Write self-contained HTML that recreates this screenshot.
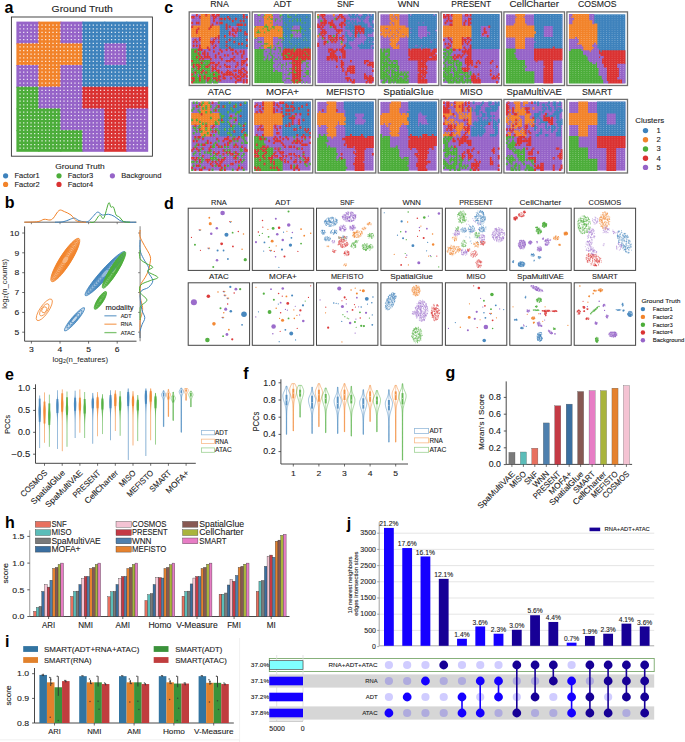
<!DOCTYPE html>
<html><head><meta charset="utf-8"><style>html,body{margin:0;padding:0;background:#fff;}svg{display:block;}text{font-family:"Liberation Sans",sans-serif;}</style></head>
<body><svg width="685" height="742" viewBox="0 0 685 742" font-family="Liberation Sans, sans-serif">
<rect width="685" height="742" fill="#fff"/>
<defs><pattern id="gp" width="1" height="1" patternUnits="userSpaceOnUse" x="0.5" y="0.5"><circle cx="0.5" cy="0.5" r="0.3" fill="#fff"/></pattern><pattern id="gpa" width="1" height="1" patternUnits="userSpaceOnUse" x="0.5" y="0.5"><circle cx="0.5" cy="0.5" r="0.22" fill="#fff" opacity="0.9"/></pattern><pattern id="gp2" width="2.8" height="2.07" patternUnits="userSpaceOnUse" x="0.3" y="0.2"><ellipse cx="1.4" cy="1.03" rx="0.5" ry="0.42" fill="#fff"/></pattern><clipPath id="cdRNA"><rect x="188.7" y="208.7" width="60.4" height="61.2"/></clipPath><clipPath id="cdADT"><rect x="252.8" y="208.7" width="60.4" height="61.2"/></clipPath><clipPath id="cdSNF"><rect x="317.0" y="208.7" width="60.4" height="61.2"/></clipPath><clipPath id="cdWNN"><rect x="381.4" y="208.7" width="60.4" height="61.2"/></clipPath><clipPath id="cdPRESENT"><rect x="445.9" y="208.7" width="60.4" height="61.2"/></clipPath><clipPath id="cdCellCharter"><rect x="510.3" y="208.7" width="60.4" height="61.2"/></clipPath><clipPath id="cdCOSMOS"><rect x="574.7" y="208.7" width="60.4" height="61.2"/></clipPath><clipPath id="cdATAC"><rect x="188.7" y="283.3" width="60.4" height="61.5"/></clipPath><clipPath id="cdMOFAp"><rect x="252.8" y="283.3" width="60.4" height="61.5"/></clipPath><clipPath id="cdMEFISTO"><rect x="317.0" y="283.3" width="60.4" height="61.5"/></clipPath><clipPath id="cdSpatialGlue"><rect x="381.4" y="283.3" width="60.4" height="61.5"/></clipPath><clipPath id="cdMISO"><rect x="445.9" y="283.3" width="60.4" height="61.5"/></clipPath><clipPath id="cdSpaMultiVAE"><rect x="510.3" y="283.3" width="60.4" height="61.5"/></clipPath><clipPath id="cdSMART"><rect x="574.7" y="283.3" width="60.4" height="61.5"/></clipPath></defs>
<text x="4.6" y="13.1" font-size="16.00" font-weight="bold" fill="#000">a</text>
<text x="82.2" y="12.0" font-size="9.70" textLength="61.30" lengthAdjust="spacingAndGlyphs" text-anchor="middle" fill="#222" stroke="#222" stroke-width="0.1">Ground Truth</text>
<rect x="11.40" y="17.00" width="141.00" height="139.20" fill="#fff" stroke="#333" stroke-width="0.9"/>
<g transform="translate(16.4 21.6) scale(3.6611 3.6167)"><rect x="0" y="0" width="6.3" height="6.3" fill="#9664c8"/><rect x="6" y="0" width="6.3" height="6.3" fill="#f2832a"/><rect x="12" y="0" width="6.3" height="6.3" fill="#9664c8"/><rect x="18" y="0" width="6.3" height="6.3" fill="#3e82bc"/><rect x="24" y="0" width="6.3" height="6.3" fill="#3e82bc"/><rect x="30" y="0" width="6" height="6.3" fill="#3e82bc"/><rect x="0" y="6" width="6.3" height="6.3" fill="#f2832a"/><rect x="6" y="6" width="6.3" height="6.3" fill="#f2832a"/><rect x="12" y="6" width="6.3" height="6.3" fill="#f2832a"/><rect x="18" y="6" width="6.3" height="6.3" fill="#3e82bc"/><rect x="24" y="6" width="6.3" height="6.3" fill="#9664c8"/><rect x="30" y="6" width="6" height="6.3" fill="#3e82bc"/><rect x="0" y="12" width="6.3" height="6.3" fill="#9664c8"/><rect x="6" y="12" width="6.3" height="6.3" fill="#f2832a"/><rect x="12" y="12" width="6.3" height="6.3" fill="#9664c8"/><rect x="18" y="12" width="6.3" height="6.3" fill="#3e82bc"/><rect x="24" y="12" width="6.3" height="6.3" fill="#3e82bc"/><rect x="30" y="12" width="6" height="6.3" fill="#3e82bc"/><rect x="0" y="18" width="6.3" height="6.3" fill="#4cad3a"/><rect x="6" y="18" width="6.3" height="6.3" fill="#9664c8"/><rect x="12" y="18" width="6.3" height="6.3" fill="#9664c8"/><rect x="18" y="18" width="6.3" height="6.3" fill="#da3232"/><rect x="24" y="18" width="6.3" height="6.3" fill="#da3232"/><rect x="30" y="18" width="6" height="6.3" fill="#da3232"/><rect x="0" y="24" width="6.3" height="6.3" fill="#4cad3a"/><rect x="6" y="24" width="6.3" height="6.3" fill="#4cad3a"/><rect x="12" y="24" width="6.3" height="6.3" fill="#9664c8"/><rect x="18" y="24" width="6.3" height="6.3" fill="#9664c8"/><rect x="24" y="24" width="6.3" height="6.3" fill="#da3232"/><rect x="30" y="24" width="6" height="6.3" fill="#9664c8"/><rect x="0" y="30" width="6.3" height="6" fill="#4cad3a"/><rect x="6" y="30" width="6.3" height="6" fill="#4cad3a"/><rect x="12" y="30" width="6.3" height="6" fill="#4cad3a"/><rect x="18" y="30" width="6.3" height="6" fill="#9664c8"/><rect x="24" y="30" width="6.3" height="6" fill="#da3232"/><rect x="30" y="30" width="6" height="6" fill="#9664c8"/></g>
<path d="M19.44 25.22H145.79M19.44 28.83H145.79M19.44 32.45H145.79M19.44 36.07H145.79M19.44 39.68H145.79M19.44 43.30H145.79M19.44 46.92H145.79M19.44 50.53H145.79M19.44 54.15H145.79M19.44 57.77H145.79M19.44 61.38H145.79M19.44 65.00H145.79M19.44 68.62H145.79M19.44 72.23H145.79M19.44 75.85H145.79M19.44 79.47H145.79M19.44 83.08H145.79M19.44 86.70H145.79M19.44 90.32H145.79M19.44 93.93H145.79M19.44 97.55H145.79M19.44 101.17H145.79M19.44 104.78H145.79M19.44 108.40H145.79M19.44 112.02H145.79M19.44 115.63H145.79M19.44 119.25H145.79M19.44 122.87H145.79M19.44 126.48H145.79M19.44 130.10H145.79M19.44 133.72H145.79M19.44 137.33H145.79M19.44 140.95H145.79M19.44 144.57H145.79M19.44 148.18H145.79" stroke="#fff" stroke-width="1.25" stroke-dasharray="1.25 2.411" opacity="0.85"/>
<text x="80.0" y="168.7" font-size="7.84" textLength="49.58" lengthAdjust="spacingAndGlyphs" text-anchor="middle" fill="#222" stroke="#222" stroke-width="0.1">Ground Truth</text>
<circle cx="5.60" cy="175.80" r="2.60" fill="#3e82bc"/>
<text x="14.4" y="178.2" font-size="7.10" textLength="25.39" lengthAdjust="spacingAndGlyphs" fill="#222" stroke="#222" stroke-width="0.1">Factor1</text>
<circle cx="5.60" cy="184.40" r="2.60" fill="#f2832a"/>
<text x="14.4" y="186.8" font-size="7.10" textLength="25.39" lengthAdjust="spacingAndGlyphs" fill="#222" stroke="#222" stroke-width="0.1">Factor2</text>
<circle cx="59.00" cy="175.80" r="2.60" fill="#4cad3a"/>
<text x="67.8" y="178.2" font-size="7.10" textLength="25.39" lengthAdjust="spacingAndGlyphs" fill="#222" stroke="#222" stroke-width="0.1">Factor3</text>
<circle cx="59.00" cy="184.40" r="2.60" fill="#da3232"/>
<text x="67.8" y="186.8" font-size="7.10" textLength="25.39" lengthAdjust="spacingAndGlyphs" fill="#222" stroke="#222" stroke-width="0.1">Factor4</text>
<circle cx="112.40" cy="175.80" r="2.60" fill="#9664c8"/>
<text x="121.2" y="178.2" font-size="7.10" textLength="40.12" lengthAdjust="spacingAndGlyphs" fill="#222" stroke="#222" stroke-width="0.1">Background</text>
<text x="4.8" y="208.4" font-size="16.00" font-weight="bold" fill="#000">b</text>
<line x1="24.3" y1="222.2" x2="136.5" y2="222.2" stroke="#555" stroke-width="0.9"/>
<line x1="31.4" y1="222.2" x2="31.4" y2="224.2" stroke="#555" stroke-width="0.7"/>
<line x1="60.0" y1="222.2" x2="60.0" y2="224.2" stroke="#555" stroke-width="0.7"/>
<line x1="88.6" y1="222.2" x2="88.6" y2="224.2" stroke="#555" stroke-width="0.7"/>
<line x1="117.2" y1="222.2" x2="117.2" y2="224.2" stroke="#555" stroke-width="0.7"/>
<path d="M55.00 222.20C56.33 222.13 60.67 222.20 63.00 221.80C65.33 221.40 67.13 220.43 69.00 219.80C70.87 219.17 72.53 217.87 74.20 218.00C75.87 218.13 77.35 219.97 79.00 220.60C80.65 221.23 82.52 221.70 84.10 221.80C85.68 221.90 87.02 222.08 88.50 221.20C89.98 220.32 91.47 218.02 93.00 216.50C94.53 214.98 96.15 212.35 97.70 212.10C99.25 211.85 100.48 214.63 102.30 215.00C104.12 215.37 106.62 214.08 108.60 214.30C110.58 214.52 112.40 215.32 114.20 216.30C116.00 217.28 117.87 219.33 119.40 220.20C120.93 221.07 121.63 221.17 123.40 221.50C125.17 221.83 127.90 222.08 130.00 222.20C132.10 222.32 135.00 222.20 136.00 222.20" fill="none" stroke="#3e82bc" stroke-width="1.0"/>
<path d="M24.30 222.20C26.60 222.10 34.82 222.08 38.10 221.60C41.38 221.12 42.02 219.57 44.00 219.30C45.98 219.03 48.43 220.22 50.00 220.00C51.57 219.78 51.88 219.60 53.40 218.00C54.92 216.40 57.27 211.47 59.10 210.40C60.93 209.33 62.42 210.83 64.40 211.60C66.38 212.37 69.13 213.57 71.00 215.00C72.87 216.43 74.07 219.05 75.60 220.20C77.13 221.35 78.47 221.57 80.20 221.90C81.93 222.23 85.03 222.15 86.00 222.20" fill="none" stroke="#f2832a" stroke-width="1.0"/>
<path d="M90.00 222.20C90.75 222.13 92.88 223.00 94.50 221.80C96.12 220.60 98.17 215.58 99.70 215.00C101.23 214.42 102.22 220.28 103.70 218.30C105.18 216.32 107.40 204.97 108.60 203.10C109.80 201.23 110.08 206.43 110.90 207.10C111.72 207.77 112.63 205.78 113.50 207.10C114.37 208.42 115.12 213.35 116.10 215.00C117.08 216.65 118.30 216.02 119.40 217.00C120.50 217.98 121.72 220.07 122.70 220.90C123.68 221.73 124.08 221.78 125.30 222.00C126.52 222.22 129.22 222.17 130.00 222.20" fill="none" stroke="#4cad3a" stroke-width="1.0"/>
<line x1="140.1" y1="226.2" x2="140.1" y2="341.2" stroke="#999" stroke-width="1.2"/>
<line x1="138.1" y1="332.2" x2="140.1" y2="332.2" stroke="#555" stroke-width="0.7"/>
<line x1="138.1" y1="312.4" x2="140.1" y2="312.4" stroke="#555" stroke-width="0.7"/>
<line x1="138.1" y1="292.5" x2="140.1" y2="292.5" stroke="#555" stroke-width="0.7"/>
<line x1="138.1" y1="272.7" x2="140.1" y2="272.7" stroke="#555" stroke-width="0.7"/>
<line x1="138.1" y1="252.8" x2="140.1" y2="252.8" stroke="#555" stroke-width="0.7"/>
<line x1="138.1" y1="233.0" x2="140.1" y2="233.0" stroke="#555" stroke-width="0.7"/>
<path d="M140.10 230.00C140.10 231.13 139.40 234.25 140.10 236.80C140.80 239.35 142.62 242.07 144.30 245.30C145.98 248.53 149.27 253.12 150.20 256.20C151.13 259.28 150.18 261.42 149.90 263.80C149.62 266.18 149.28 268.25 148.50 270.50C147.72 272.75 146.55 274.77 145.20 277.30C143.85 279.83 141.20 282.33 140.40 285.70C139.60 289.07 140.03 293.85 140.40 297.50C140.77 301.15 142.37 304.80 142.60 307.60C142.83 310.40 142.22 312.07 141.80 314.30C141.38 316.53 140.38 317.05 140.10 321.00C139.82 324.95 140.10 335.17 140.10 338.00" fill="none" stroke="#f2832a" stroke-width="1.0"/>
<path d="M140.10 240.00C140.10 241.72 139.53 247.18 140.10 250.30C140.67 253.42 142.10 255.88 143.50 258.70C144.90 261.52 147.72 264.95 148.50 267.20C149.28 269.45 147.48 269.97 148.20 272.20C148.92 274.43 152.75 278.07 152.80 280.60C152.85 283.13 150.57 285.43 148.50 287.40C146.43 289.37 141.52 288.75 140.40 292.40C139.28 296.05 141.07 305.08 141.80 309.30C142.53 313.52 144.75 315.17 144.80 317.70C144.85 320.23 142.88 322.25 142.10 324.50C141.32 326.75 140.43 328.95 140.10 331.20C139.77 333.45 140.10 336.87 140.10 338.00" fill="none" stroke="#3e82bc" stroke-width="1.0"/>
<path d="M140.10 250.00C140.10 251.45 138.97 256.40 140.10 258.70C141.23 261.00 144.78 262.38 146.90 263.80C149.02 265.22 152.67 265.93 152.80 267.20C152.93 268.47 146.87 269.72 147.70 271.40C148.53 273.08 157.38 275.77 157.80 277.30C158.22 278.83 153.02 279.33 150.20 280.60C147.38 281.87 142.58 282.93 140.90 284.90C139.22 286.87 139.10 289.88 140.10 292.40C141.10 294.92 146.77 297.75 146.90 300.00C147.03 302.25 142.03 304.07 140.90 305.90C139.77 307.73 140.23 308.65 140.10 311.00C139.97 313.35 140.10 318.50 140.10 320.00" fill="none" stroke="#4cad3a" stroke-width="1.0"/>
<line x1="24.6" y1="226.4" x2="24.6" y2="341.2" stroke="#333" stroke-width="0.9"/>
<line x1="24.6" y1="341.2" x2="136.5" y2="341.2" stroke="#333" stroke-width="0.9"/>
<line x1="22.2" y1="332.2" x2="24.6" y2="332.2" stroke="#333" stroke-width="0.7"/>
<text x="19.4" y="334.9" font-size="7.95" textLength="4.77" lengthAdjust="spacingAndGlyphs" text-anchor="end" fill="#222" stroke="#222" stroke-width="0.1">5</text>
<line x1="22.2" y1="312.4" x2="24.6" y2="312.4" stroke="#333" stroke-width="0.7"/>
<text x="19.4" y="315.1" font-size="7.95" textLength="4.77" lengthAdjust="spacingAndGlyphs" text-anchor="end" fill="#222" stroke="#222" stroke-width="0.1">6</text>
<line x1="22.2" y1="292.5" x2="24.6" y2="292.5" stroke="#333" stroke-width="0.7"/>
<text x="19.4" y="295.3" font-size="7.95" textLength="4.77" lengthAdjust="spacingAndGlyphs" text-anchor="end" fill="#222" stroke="#222" stroke-width="0.1">7</text>
<line x1="22.2" y1="272.7" x2="24.6" y2="272.7" stroke="#333" stroke-width="0.7"/>
<text x="19.4" y="275.4" font-size="7.95" textLength="4.77" lengthAdjust="spacingAndGlyphs" text-anchor="end" fill="#222" stroke="#222" stroke-width="0.1">8</text>
<line x1="22.2" y1="252.8" x2="24.6" y2="252.8" stroke="#333" stroke-width="0.7"/>
<text x="19.4" y="255.6" font-size="7.95" textLength="4.77" lengthAdjust="spacingAndGlyphs" text-anchor="end" fill="#222" stroke="#222" stroke-width="0.1">9</text>
<line x1="22.2" y1="233.0" x2="24.6" y2="233.0" stroke="#333" stroke-width="0.7"/>
<text x="19.4" y="235.8" font-size="7.95" textLength="9.54" lengthAdjust="spacingAndGlyphs" text-anchor="end" fill="#222" stroke="#222" stroke-width="0.1">10</text>
<line x1="31.4" y1="341.2" x2="31.4" y2="343.6" stroke="#333" stroke-width="0.7"/>
<text x="31.4" y="352.0" font-size="7.95" textLength="4.77" lengthAdjust="spacingAndGlyphs" text-anchor="middle" fill="#222" stroke="#222" stroke-width="0.1">3</text>
<line x1="60.0" y1="341.2" x2="60.0" y2="343.6" stroke="#333" stroke-width="0.7"/>
<text x="60.0" y="352.0" font-size="7.95" textLength="4.77" lengthAdjust="spacingAndGlyphs" text-anchor="middle" fill="#222" stroke="#222" stroke-width="0.1">4</text>
<line x1="88.6" y1="341.2" x2="88.6" y2="343.6" stroke="#333" stroke-width="0.7"/>
<text x="88.6" y="352.0" font-size="7.95" textLength="4.77" lengthAdjust="spacingAndGlyphs" text-anchor="middle" fill="#222" stroke="#222" stroke-width="0.1">5</text>
<line x1="117.2" y1="341.2" x2="117.2" y2="343.6" stroke="#333" stroke-width="0.7"/>
<text x="117.2" y="352.0" font-size="7.95" textLength="4.77" lengthAdjust="spacingAndGlyphs" text-anchor="middle" fill="#222" stroke="#222" stroke-width="0.1">6</text>
<text x="80.3" y="361.6" font-size="7.30" text-anchor="middle" fill="#222" textLength="55.50" lengthAdjust="spacingAndGlyphs">log<tspan font-size="5.2" dy="1.5">2</tspan><tspan dy="-1.5">(n_features)</tspan></text>
<text x="7.0" y="283.8" font-size="7.30" text-anchor="middle" fill="#222" transform="rotate(-90 7.0 283.8)" textLength="49.90" lengthAdjust="spacingAndGlyphs">log<tspan font-size="5.2" dy="1.5">2</tspan><tspan dy="-1.5">(n_counts)</tspan></text>
<ellipse cx="65.3" cy="260.0" rx="25.50" ry="5.60" transform="rotate(-57.5 65.3 260.0)" fill="#f2832a" opacity="0.6"/>
<ellipse cx="65.3" cy="260.0" rx="25.50" ry="5.60" transform="rotate(-57.5 65.3 260.0)" fill="none" stroke="#f2832a" stroke-width="0.75"/>
<ellipse cx="65.3" cy="260.0" rx="23.71" ry="5.35" transform="rotate(-57.5 65.3 260.0)" fill="none" stroke="#f2832a" stroke-width="0.75"/>
<ellipse cx="65.3" cy="260.0" rx="21.93" ry="5.09" transform="rotate(-57.5 65.3 260.0)" fill="none" stroke="#f2832a" stroke-width="0.75"/>
<ellipse cx="65.3" cy="260.0" rx="20.14" ry="4.84" transform="rotate(-57.5 65.3 260.0)" fill="none" stroke="#f2832a" stroke-width="0.75"/>
<ellipse cx="65.3" cy="260.0" rx="18.36" ry="4.58" transform="rotate(-57.5 65.3 260.0)" fill="none" stroke="#f2832a" stroke-width="0.75"/>
<ellipse cx="65.3" cy="260.0" rx="16.57" ry="4.33" transform="rotate(-57.5 65.3 260.0)" fill="none" stroke="#f2832a" stroke-width="0.75"/>
<ellipse cx="65.3" cy="260.0" rx="14.79" ry="4.07" transform="rotate(-57.5 65.3 260.0)" fill="none" stroke="#f2832a" stroke-width="0.75"/>
<ellipse cx="65.3" cy="260.0" rx="12.75" ry="3.78" transform="rotate(-57.5 65.3 260.0)" fill="none" stroke="#f2832a" stroke-width="0.75"/>
<ellipse cx="65.3" cy="260.0" rx="10.71" ry="3.49" transform="rotate(-57.5 65.3 260.0)" fill="none" stroke="#f2832a" stroke-width="0.75"/>
<ellipse cx="65.3" cy="260.0" rx="8.67" ry="3.20" transform="rotate(-57.5 65.3 260.0)" fill="none" stroke="#f2832a" stroke-width="0.75"/>
<ellipse cx="65.3" cy="260.0" rx="6.63" ry="2.91" transform="rotate(-57.5 65.3 260.0)" fill="none" stroke="#f2832a" stroke-width="0.75"/>
<ellipse cx="65.3" cy="260.0" rx="4.59" ry="2.62" transform="rotate(-57.5 65.3 260.0)" fill="none" stroke="#f2832a" stroke-width="0.75"/>
<ellipse cx="44.3" cy="309.8" rx="12.80" ry="4.30" transform="rotate(-55.5 44.3 309.8)" fill="#f2832a" opacity="0.0"/>
<ellipse cx="44.3" cy="309.8" rx="12.80" ry="4.30" transform="rotate(-55.5 44.3 309.8)" fill="none" stroke="#f2832a" stroke-width="0.75"/>
<ellipse cx="44.3" cy="309.8" rx="7.04" ry="3.04" transform="rotate(-55.5 44.3 309.8)" fill="none" stroke="#f2832a" stroke-width="0.75"/>
<ellipse cx="44.3" cy="309.8" rx="3.20" ry="2.20" transform="rotate(-55.5 44.3 309.8)" fill="none" stroke="#f2832a" stroke-width="0.75"/>
<ellipse cx="105.0" cy="273.6" rx="29.50" ry="4.40" transform="rotate(-48.1 105.0 273.6)" fill="#3e82bc" opacity="0.55"/>
<ellipse cx="105.0" cy="273.6" rx="29.50" ry="4.40" transform="rotate(-48.1 105.0 273.6)" fill="none" stroke="#3e82bc" stroke-width="0.75"/>
<ellipse cx="105.0" cy="273.6" rx="26.55" ry="4.11" transform="rotate(-48.1 105.0 273.6)" fill="none" stroke="#3e82bc" stroke-width="0.75"/>
<ellipse cx="105.0" cy="273.6" rx="23.60" ry="3.83" transform="rotate(-48.1 105.0 273.6)" fill="none" stroke="#3e82bc" stroke-width="0.75"/>
<ellipse cx="105.0" cy="273.6" rx="20.65" ry="3.54" transform="rotate(-48.1 105.0 273.6)" fill="none" stroke="#3e82bc" stroke-width="0.75"/>
<ellipse cx="105.0" cy="273.6" rx="17.70" ry="3.26" transform="rotate(-48.1 105.0 273.6)" fill="none" stroke="#3e82bc" stroke-width="0.75"/>
<ellipse cx="105.0" cy="273.6" rx="14.75" ry="2.97" transform="rotate(-48.1 105.0 273.6)" fill="none" stroke="#3e82bc" stroke-width="0.75"/>
<ellipse cx="105.0" cy="273.6" rx="11.80" ry="2.68" transform="rotate(-48.1 105.0 273.6)" fill="none" stroke="#3e82bc" stroke-width="0.75"/>
<ellipse cx="105.0" cy="273.6" rx="8.85" ry="2.40" transform="rotate(-48.1 105.0 273.6)" fill="none" stroke="#3e82bc" stroke-width="0.75"/>
<ellipse cx="105.0" cy="273.6" rx="5.90" ry="2.11" transform="rotate(-48.1 105.0 273.6)" fill="none" stroke="#3e82bc" stroke-width="0.75"/>
<ellipse cx="114.0" cy="270.0" rx="21.30" ry="3.90" transform="rotate(-58.2 114.0 270.0)" fill="#4cad3a" opacity="0.7"/>
<ellipse cx="114.0" cy="270.0" rx="21.30" ry="3.90" transform="rotate(-58.2 114.0 270.0)" fill="none" stroke="#4cad3a" stroke-width="0.75"/>
<ellipse cx="114.0" cy="270.0" rx="19.17" ry="3.65" transform="rotate(-58.2 114.0 270.0)" fill="none" stroke="#4cad3a" stroke-width="0.75"/>
<ellipse cx="114.0" cy="270.0" rx="17.04" ry="3.39" transform="rotate(-58.2 114.0 270.0)" fill="none" stroke="#4cad3a" stroke-width="0.75"/>
<ellipse cx="114.0" cy="270.0" rx="14.91" ry="3.14" transform="rotate(-58.2 114.0 270.0)" fill="none" stroke="#4cad3a" stroke-width="0.75"/>
<ellipse cx="114.0" cy="270.0" rx="12.78" ry="2.89" transform="rotate(-58.2 114.0 270.0)" fill="none" stroke="#4cad3a" stroke-width="0.75"/>
<ellipse cx="114.0" cy="270.0" rx="10.65" ry="2.63" transform="rotate(-58.2 114.0 270.0)" fill="none" stroke="#4cad3a" stroke-width="0.75"/>
<ellipse cx="114.0" cy="270.0" rx="8.52" ry="2.38" transform="rotate(-58.2 114.0 270.0)" fill="none" stroke="#4cad3a" stroke-width="0.75"/>
<ellipse cx="114.0" cy="270.0" rx="6.39" ry="2.13" transform="rotate(-58.2 114.0 270.0)" fill="none" stroke="#4cad3a" stroke-width="0.75"/>
<ellipse cx="114.0" cy="270.0" rx="4.26" ry="1.87" transform="rotate(-58.2 114.0 270.0)" fill="none" stroke="#4cad3a" stroke-width="0.75"/>
<ellipse cx="100.4" cy="300.4" rx="10.50" ry="2.90" transform="rotate(-57 100.4 300.4)" fill="#4cad3a" opacity="0.8"/>
<ellipse cx="100.4" cy="300.4" rx="10.50" ry="2.90" transform="rotate(-57 100.4 300.4)" fill="none" stroke="#4cad3a" stroke-width="0.75"/>
<ellipse cx="100.4" cy="300.4" rx="8.40" ry="2.52" transform="rotate(-57 100.4 300.4)" fill="none" stroke="#4cad3a" stroke-width="0.75"/>
<ellipse cx="100.4" cy="300.4" rx="6.30" ry="2.15" transform="rotate(-57 100.4 300.4)" fill="none" stroke="#4cad3a" stroke-width="0.75"/>
<ellipse cx="100.4" cy="300.4" rx="4.20" ry="1.77" transform="rotate(-57 100.4 300.4)" fill="none" stroke="#4cad3a" stroke-width="0.75"/>
<ellipse cx="100.4" cy="300.4" rx="2.62" ry="1.49" transform="rotate(-57 100.4 300.4)" fill="none" stroke="#4cad3a" stroke-width="0.75"/>
<ellipse cx="74.5" cy="319.3" rx="15.20" ry="2.90" transform="rotate(-49.4 74.5 319.3)" fill="#3e82bc" opacity="0.3"/>
<ellipse cx="74.5" cy="319.3" rx="15.20" ry="2.90" transform="rotate(-49.4 74.5 319.3)" fill="none" stroke="#3e82bc" stroke-width="0.75"/>
<ellipse cx="74.5" cy="319.3" rx="11.40" ry="2.43" transform="rotate(-49.4 74.5 319.3)" fill="none" stroke="#3e82bc" stroke-width="0.75"/>
<ellipse cx="74.5" cy="319.3" rx="7.60" ry="1.96" transform="rotate(-49.4 74.5 319.3)" fill="none" stroke="#3e82bc" stroke-width="0.75"/>
<ellipse cx="74.5" cy="319.3" rx="4.56" ry="1.58" transform="rotate(-49.4 74.5 319.3)" fill="none" stroke="#3e82bc" stroke-width="0.75"/>
<text x="119.5" y="309.9" font-size="6.78" textLength="27.99" lengthAdjust="spacingAndGlyphs" text-anchor="middle" fill="#222" stroke="#222" stroke-width="0.1">modality</text>
<line x1="104.4" y1="315.8" x2="116.5" y2="315.8" stroke="#3e82bc" stroke-width="1.3" opacity="0.7"/>
<text x="120.7" y="317.8" font-size="5.62" textLength="10.94" lengthAdjust="spacingAndGlyphs" fill="#222" stroke="#222" stroke-width="0.1">ADT</text>
<line x1="104.4" y1="324.2" x2="116.5" y2="324.2" stroke="#f2832a" stroke-width="1.3" opacity="0.7"/>
<text x="120.7" y="326.1" font-size="5.62" textLength="11.27" lengthAdjust="spacingAndGlyphs" fill="#222" stroke="#222" stroke-width="0.1">RNA</text>
<line x1="104.4" y1="332.6" x2="116.5" y2="332.6" stroke="#4cad3a" stroke-width="1.3" opacity="0.7"/>
<text x="120.7" y="334.6" font-size="5.62" textLength="14.19" lengthAdjust="spacingAndGlyphs" fill="#222" stroke="#222" stroke-width="0.1">ATAC</text>
<text x="164.2" y="13.1" font-size="16.00" font-weight="bold" fill="#000">c</text>
<text x="219.5" y="7.4" font-size="9.28" textLength="18.61" lengthAdjust="spacingAndGlyphs" text-anchor="middle" fill="#222" stroke="#222" stroke-width="0.1">RNA</text>
<rect x="189.20" y="11.90" width="60.60" height="73.60" fill="#fff" stroke="#6e6e6e" stroke-width="1.3"/>
<g transform="translate(191.40 14.30) scale(1.5611 1.9111)"><rect width="36" height="36" fill="#9664c8"/><g transform="translate(-0.12 0)" fill="none" stroke-width="1.29"><path stroke="#3e82bc" d="M18 0.5h15.24M34 0.5h2.24M18 1.5h5.24M24 1.5h9.24M34 1.5h1.24M20 2.5h1.24M22 2.5h2.24M25 2.5h3.24M29 2.5h7.24M18 3.5h8.24M27 3.5h4.24M32 3.5h1.24M34 3.5h2.24M20 4.5h16.24M18 5.5h4.24M23 5.5h6.24M33 5.5h1.24M35 5.5h1.24M18 6.5h4.24M23 6.5h1.24M30 6.5h6.24M18 7.5h4.24M23 7.5h1.24M30 7.5h6.24M18 8.5h6.24M30 8.5h1.24M32 8.5h4.24M18 9.5h6.24M30 9.5h4.24M35 9.5h1.24M18 10.5h6.24M30 10.5h4.24M18 11.5h3.24M22 11.5h2.24M30 11.5h6.24M18 12.5h18.24M18 13.5h6.24M25 13.5h10.24M18 14.5h4.24M23 14.5h4.24M28 14.5h8.24M18 15.5h12.24M31 15.5h1.24M33 15.5h3.24M18 16.5h4.24M23 16.5h12.24M18 17.5h6.24M25 17.5h11.24"/><path stroke="#f2832a" d="M6 0.5h3.24M10 0.5h2.24M6 1.5h6.24M6 2.5h6.24M6 3.5h6.24M6 4.5h6.24M6 5.5h6.24M1 6.5h11.24M13 6.5h5.24M0 7.5h4.24M5 7.5h6.24M12 7.5h6.24M0 8.5h3.24M4 8.5h14.24M0 9.5h3.24M4 9.5h14.24M0 10.5h18.24M0 11.5h17.24M6 12.5h6.24M6 13.5h6.24M6 14.5h6.24M6 15.5h6.24M6 16.5h6.24M6 17.5h4.24M11 17.5h1.24"/><path stroke="#4cad3a" d="M0 18.5h4.24M0 19.5h2.24M3 19.5h1.24M5 19.5h1.24M0 20.5h4.24M5 20.5h1.24M0 21.5h5.24M0 22.5h3.24M4 22.5h2.24M0 23.5h5.24M1 24.5h4.24M6 24.5h6.24M0 25.5h6.24M7 25.5h1.24M9 25.5h3.24M0 26.5h1.24M2 26.5h1.24M5 26.5h6.24M2 27.5h2.24M6 27.5h3.24M11 27.5h1.24M0 28.5h2.24M3 28.5h1.24M5 28.5h7.24M0 29.5h1.24M2 29.5h5.24M9 29.5h3.24M0 30.5h2.24M3 30.5h3.24M7 30.5h2.24M10 30.5h2.24M13 30.5h4.24M1 31.5h1.24M3 31.5h1.24M5 31.5h2.24M8 31.5h6.24M15 31.5h3.24M0 32.5h4.24M6 32.5h2.24M9 32.5h8.24M2 33.5h3.24M6 33.5h2.24M9 33.5h1.24M12 33.5h1.24M16 33.5h1.24M0 34.5h1.24M2 34.5h3.24M6 34.5h3.24M11 34.5h3.24M15 34.5h1.24M17 34.5h1.24M1 35.5h8.24M10 35.5h3.24M14 35.5h3.24"/><path stroke="#da3232" d="M3 0.5h1.24M9 0.5h1.24M13 0.5h2.24M16 0.5h2.24M33 0.5h1.24M0 1.5h2.24M5 1.5h1.24M14 1.5h2.24M23 1.5h1.24M33 1.5h1.24M35 1.5h1.24M14 2.5h1.24M18 2.5h2.24M21 2.5h1.24M24 2.5h1.24M28 2.5h1.24M14 3.5h1.24M26 3.5h1.24M31 3.5h1.24M33 3.5h1.24M0 4.5h1.24M3 4.5h2.24M16 4.5h1.24M18 4.5h2.24M13 5.5h1.24M22 5.5h1.24M29 5.5h4.24M34 5.5h1.24M0 6.5h1.24M12 6.5h1.24M22 6.5h1.24M24 6.5h1.24M4 7.5h1.24M11 7.5h1.24M22 7.5h1.24M26 7.5h1.24M29 7.5h1.24M3 8.5h1.24M26 8.5h2.24M29 8.5h1.24M31 8.5h1.24M3 9.5h1.24M24 9.5h1.24M28 9.5h1.24M34 9.5h1.24M24 10.5h1.24M26 10.5h1.24M34 10.5h2.24M17 11.5h1.24M21 11.5h1.24M27 11.5h1.24M5 12.5h1.24M15 12.5h1.24M17 12.5h1.24M2 13.5h1.24M5 13.5h1.24M14 13.5h1.24M24 13.5h1.24M35 13.5h1.24M1 14.5h1.24M3 14.5h1.24M12 14.5h3.24M17 14.5h1.24M22 14.5h1.24M27 14.5h1.24M13 15.5h1.24M30 15.5h1.24M32 15.5h1.24M1 16.5h1.24M3 16.5h1.24M5 16.5h1.24M15 16.5h1.24M22 16.5h1.24M35 16.5h1.24M5 17.5h1.24M10 17.5h1.24M14 17.5h1.24M24 17.5h1.24M4 18.5h3.24M11 18.5h1.24M18 18.5h1.24M22 18.5h1.24M25 18.5h2.24M2 19.5h1.24M8 19.5h1.24M14 19.5h1.24M19 19.5h1.24M28 19.5h1.24M31 19.5h1.24M33 19.5h1.24M4 20.5h1.24M7 20.5h2.24M10 20.5h1.24M17 20.5h1.24M26 20.5h1.24M29 20.5h1.24M33 20.5h1.24M5 21.5h1.24M8 21.5h1.24M10 21.5h1.24M15 21.5h1.24M21 21.5h1.24M23 21.5h1.24M32 21.5h1.24M3 22.5h1.24M6 22.5h1.24M8 22.5h4.24M15 22.5h1.24M18 22.5h1.24M27 22.5h1.24M32 22.5h1.24M5 23.5h1.24M7 23.5h1.24M12 23.5h1.24M19 23.5h1.24M25 23.5h2.24M35 23.5h1.24M0 24.5h1.24M22 24.5h3.24M27 24.5h1.24M32 24.5h3.24M6 25.5h1.24M12 25.5h3.24M17 25.5h1.24M29 25.5h1.24M32 25.5h2.24M1 26.5h1.24M3 26.5h2.24M11 26.5h1.24M15 26.5h2.24M21 26.5h1.24M29 26.5h1.24M32 26.5h1.24M35 26.5h1.24M1 27.5h1.24M4 27.5h2.24M9 27.5h2.24M13 27.5h1.24M15 27.5h1.24M18 27.5h1.24M22 27.5h3.24M28 27.5h1.24M4 28.5h1.24M13 28.5h3.24M32 28.5h2.24M7 29.5h1.24M13 29.5h1.24M16 29.5h2.24M23 29.5h1.24M27 29.5h2.24M30 29.5h2.24M34 29.5h1.24M2 30.5h1.24M6 30.5h1.24M9 30.5h1.24M17 30.5h1.24M19 30.5h1.24M22 30.5h4.24M30 30.5h3.24M35 30.5h1.24M0 31.5h1.24M14 31.5h1.24M20 31.5h7.24M28 31.5h1.24M31 31.5h1.24M33 31.5h2.24M5 32.5h1.24M8 32.5h1.24M17 32.5h2.24M20 32.5h1.24M27 32.5h1.24M29 32.5h2.24M32 32.5h2.24M35 32.5h1.24M0 33.5h2.24M5 33.5h1.24M8 33.5h1.24M10 33.5h2.24M14 33.5h2.24M17 33.5h1.24M20 33.5h2.24M25 33.5h1.24M28 33.5h1.24M31 33.5h1.24M1 34.5h1.24M5 34.5h1.24M10 34.5h1.24M16 34.5h1.24M18 34.5h1.24M29 34.5h3.24M33 34.5h1.24M35 34.5h1.24M0 35.5h1.24M28 35.5h1.24M33 35.5h1.24M35 35.5h1.24"/></g></g><rect x="191.40" y="14.30" width="56.20" height="68.80" fill="url(#gp2)" opacity="0.4"/>
<text x="282.5" y="7.4" font-size="9.28" textLength="18.07" lengthAdjust="spacingAndGlyphs" text-anchor="middle" fill="#222" stroke="#222" stroke-width="0.1">ADT</text>
<rect x="252.20" y="11.90" width="60.60" height="73.60" fill="#fff" stroke="#6e6e6e" stroke-width="1.3"/>
<g transform="translate(254.40 14.30) scale(1.5611 1.9111)"><rect width="36" height="36" fill="#4cad3a"/><g transform="translate(-0.12 0)" fill="none" stroke-width="1.29"><path stroke="#3e82bc" d="M18 0.5h3.24M22 0.5h4.24M27 0.5h9.24M18 1.5h3.24M24 1.5h9.24M34 1.5h2.24M18 2.5h7.24M26 2.5h1.24M28 2.5h1.24M30 2.5h6.24M18 3.5h4.24M23 3.5h1.24M25 3.5h2.24M28 3.5h1.24M30 3.5h6.24M18 4.5h1.24M20 4.5h10.24M31 4.5h1.24M33 4.5h3.24M18 5.5h2.24M21 5.5h15.24M18 6.5h6.24M30 6.5h6.24M18 7.5h3.24M22 7.5h2.24M31 7.5h4.24M18 8.5h5.24M30 8.5h2.24M33 8.5h3.24M19 9.5h5.24M30 9.5h6.24M18 10.5h5.24M30 10.5h1.24M32 10.5h4.24M18 11.5h2.24M21 11.5h2.24M30 11.5h6.24M19 12.5h4.24M24 12.5h3.24M28 12.5h4.24M33 12.5h3.24M19 13.5h12.24M32 13.5h1.24M34 13.5h2.24M18 14.5h4.24M23 14.5h13.24M18 15.5h5.24M24 15.5h4.24M29 15.5h7.24M18 16.5h8.24M27 16.5h9.24M18 17.5h1.24M20 17.5h5.24M26 17.5h6.24M33 17.5h1.24M35 17.5h1.24"/><path stroke="#f2832a" d="M7 0.5h4.24M6 1.5h3.24M10 1.5h2.24M6 2.5h2.24M9 2.5h1.24M6 3.5h6.24M6 4.5h4.24M11 4.5h1.24M6 5.5h1.24M8 5.5h4.24M1 6.5h5.24M9 6.5h2.24M13 6.5h4.24M0 7.5h5.24M6 7.5h2.24M9 7.5h1.24M11 7.5h1.24M13 7.5h5.24M0 8.5h2.24M3 8.5h5.24M10 8.5h5.24M16 8.5h2.24M0 9.5h1.24M4 9.5h2.24M7 9.5h11.24M0 10.5h18.24M0 11.5h18.24M6 12.5h6.24M6 13.5h6.24M6 14.5h6.24M9 15.5h3.24M6 16.5h4.24M11 16.5h1.24M6 17.5h2.24M11 17.5h1.24"/><path stroke="#da3232" d="M19 18.5h4.24M24 18.5h1.24M27 18.5h3.24M31 18.5h5.24M18 19.5h7.24M26 19.5h6.24M33 19.5h3.24M18 20.5h3.24M23 20.5h10.24M34 20.5h2.24M18 21.5h1.24M21 21.5h3.24M25 21.5h6.24M32 21.5h2.24M35 21.5h1.24M18 22.5h2.24M22 22.5h1.24M24 22.5h3.24M28 22.5h8.24M18 23.5h8.24M28 23.5h1.24M30 23.5h3.24M34 23.5h2.24M24 24.5h6.24M24 25.5h1.24M26 25.5h4.24M24 26.5h6.24M24 27.5h2.24M27 27.5h3.24M24 28.5h2.24M27 28.5h3.24M24 29.5h1.24M26 29.5h4.24M24 30.5h1.24M27 30.5h3.24M24 31.5h6.24M24 32.5h2.24M27 32.5h3.24M24 33.5h5.24M24 34.5h2.24M28 34.5h2.24M25 35.5h1.24M27 35.5h1.24"/><path stroke="#9664c8" d="M0 0.5h2.24M4 0.5h2.24M12 0.5h4.24M0 1.5h5.24M12 1.5h4.24M17 1.5h1.24M0 2.5h6.24M12 2.5h1.24M15 2.5h2.24M0 3.5h3.24M4 3.5h2.24M12 3.5h1.24M14 3.5h2.24M17 3.5h1.24M0 4.5h6.24M12 4.5h6.24M0 5.5h6.24M12 5.5h2.24M15 5.5h3.24M25 6.5h4.24M24 7.5h5.24M24 9.5h3.24M28 9.5h1.24M25 10.5h1.24M27 10.5h3.24M25 11.5h5.24M2 12.5h4.24M12 12.5h3.24M0 13.5h6.24M12 13.5h6.24M0 14.5h2.24M5 14.5h1.24M12 14.5h3.24M16 14.5h1.24M0 15.5h6.24M12 15.5h2.24M16 15.5h2.24M0 16.5h4.24M13 16.5h5.24M0 17.5h3.24M4 17.5h2.24M12 17.5h1.24M14 17.5h1.24M17 17.5h1.24M7 18.5h3.24M11 18.5h1.24M14 18.5h2.24M17 18.5h1.24M6 19.5h1.24M8 19.5h2.24M11 19.5h5.24M17 19.5h1.24M6 20.5h3.24M11 20.5h1.24M13 20.5h2.24M16 20.5h1.24M6 21.5h2.24M9 21.5h1.24M12 21.5h5.24M7 22.5h1.24M9 22.5h2.24M13 22.5h2.24M16 22.5h2.24M6 23.5h1.24M9 23.5h1.24M12 23.5h1.24M15 23.5h1.24M17 23.5h1.24M12 24.5h12.24M33 24.5h3.24M13 25.5h3.24M17 25.5h3.24M21 25.5h1.24M31 25.5h2.24M35 25.5h1.24M12 26.5h3.24M16 26.5h1.24M19 26.5h1.24M21 26.5h3.24M30 26.5h3.24M34 26.5h2.24M12 27.5h2.24M15 27.5h2.24M18 27.5h1.24M20 27.5h4.24M30 27.5h3.24M35 27.5h1.24M13 28.5h4.24M18 28.5h2.24M21 28.5h1.24M30 28.5h2.24M33 28.5h3.24M12 29.5h1.24M15 29.5h6.24M22 29.5h2.24M31 29.5h2.24M35 29.5h1.24M18 30.5h4.24M30 30.5h2.24M35 30.5h1.24M18 31.5h1.24M20 31.5h1.24M23 31.5h1.24M30 31.5h3.24M35 31.5h1.24M18 32.5h6.24M30 32.5h1.24M33 32.5h2.24M18 33.5h2.24M23 33.5h1.24M30 33.5h6.24M18 34.5h1.24M20 34.5h3.24M31 34.5h5.24M19 35.5h5.24M30 35.5h1.24M32 35.5h1.24M34 35.5h2.24"/></g></g><rect x="254.40" y="14.30" width="56.20" height="68.80" fill="url(#gp2)" opacity="0.4"/>
<text x="345.5" y="7.4" font-size="9.28" textLength="17.13" lengthAdjust="spacingAndGlyphs" text-anchor="middle" fill="#222" stroke="#222" stroke-width="0.1">SNF</text>
<rect x="315.20" y="11.90" width="60.60" height="73.60" fill="#fff" stroke="#6e6e6e" stroke-width="1.3"/>
<g transform="translate(317.40 14.30) scale(1.5611 1.9111)"><rect width="36" height="36" fill="#9664c8"/><g transform="translate(-0.12 0)" fill="none" stroke-width="1.29"><path stroke="#3e82bc" d="M20 0.5h1.24M22 0.5h2.24M25 0.5h1.24M29 0.5h3.24M33 0.5h1.24M35 0.5h1.24M21 1.5h4.24M26 1.5h1.24M28 1.5h3.24M34 1.5h2.24M27 2.5h1.24M29 2.5h1.24M33 2.5h3.24M18 3.5h3.24M22 3.5h1.24M24 3.5h1.24M28 3.5h1.24M33 3.5h2.24M18 4.5h1.24M21 4.5h1.24M23 4.5h2.24M26 4.5h4.24M34 4.5h1.24M19 5.5h4.24M24 5.5h2.24M27 5.5h5.24M34 5.5h2.24M18 6.5h1.24M20 6.5h4.24M28 6.5h4.24M35 6.5h1.24M18 7.5h6.24M31 7.5h4.24M21 8.5h1.24M23 8.5h1.24M30 8.5h6.24M18 9.5h1.24M22 9.5h2.24M26 9.5h1.24M30 9.5h5.24M18 10.5h1.24M23 10.5h1.24M26 10.5h1.24M30 10.5h2.24M18 11.5h2.24M22 11.5h1.24M26 11.5h1.24M31 11.5h1.24M19 12.5h3.24M23 12.5h1.24M32 12.5h4.24M19 13.5h4.24M31 13.5h5.24M19 14.5h1.24M30 14.5h3.24M34 14.5h1.24M18 15.5h2.24M28 15.5h1.24M30 15.5h6.24M18 16.5h3.24M26 16.5h8.24M18 17.5h4.24M27 17.5h7.24M35 17.5h1.24"/><path stroke="#f2832a" d="M0 0.5h1.24M10 0.5h1.24M14 9.5h1.24M0 11.5h1.24M15 15.5h1.24"/><path stroke="#4cad3a" d="M0 1.5h1.24M11 2.5h1.24M2 3.5h1.24M8 6.5h1.24M1 10.5h1.24M10 11.5h1.24M3 12.5h1.24M9 13.5h1.24M6 14.5h1.24M15 14.5h1.24"/><path stroke="#da3232" d="M2 0.5h3.24M14 0.5h2.24M3 1.5h1.24M13 1.5h1.24M15 1.5h2.24M4 2.5h1.24M12 2.5h1.24M17 2.5h1.24M4 3.5h2.24M9 3.5h1.24M17 3.5h1.24M2 4.5h4.24M7 4.5h3.24M15 4.5h2.24M0 5.5h1.24M2 5.5h1.24M4 5.5h1.24M8 5.5h3.24M14 5.5h2.24M17 5.5h1.24M0 6.5h2.24M3 6.5h1.24M10 6.5h2.24M15 6.5h1.24M24 6.5h4.24M2 7.5h1.24M11 7.5h1.24M24 7.5h6.24M3 8.5h2.24M12 8.5h4.24M24 8.5h1.24M26 8.5h1.24M28 8.5h2.24M2 9.5h4.24M13 9.5h1.24M24 9.5h2.24M27 9.5h1.24M29 9.5h1.24M2 10.5h1.24M4 10.5h1.24M12 10.5h1.24M24 10.5h1.24M3 11.5h1.24M7 11.5h2.24M12 11.5h1.24M16 11.5h1.24M24 11.5h1.24M4 12.5h1.24M7 12.5h1.24M9 12.5h1.24M11 12.5h2.24M14 12.5h2.24M8 13.5h1.24M10 13.5h1.24M12 13.5h1.24M16 13.5h1.24M4 14.5h2.24M9 14.5h1.24M11 14.5h1.24M0 15.5h1.24M4 15.5h1.24M0 16.5h1.24M17 16.5h1.24M16 17.5h1.24M7 18.5h3.24M12 18.5h1.24M14 18.5h3.24M7 19.5h1.24M9 19.5h3.24M15 19.5h3.24M8 20.5h3.24M16 20.5h2.24M8 21.5h4.24M16 21.5h2.24M6 22.5h7.24M14 22.5h1.24M16 22.5h2.24M6 23.5h2.24M9 23.5h1.24M11 23.5h2.24M12 24.5h1.24M15 24.5h1.24M21 24.5h1.24M30 24.5h3.24M15 25.5h2.24M30 25.5h1.24M33 25.5h3.24M15 26.5h2.24M32 26.5h4.24M12 27.5h1.24M15 27.5h1.24M20 27.5h4.24M35 27.5h1.24M16 28.5h1.24M19 28.5h5.24M16 29.5h1.24M19 29.5h5.24M35 29.5h1.24M18 30.5h1.24M21 30.5h3.24M18 31.5h1.24M30 31.5h1.24M30 32.5h2.24M33 32.5h2.24M18 33.5h3.24M30 33.5h6.24M19 34.5h1.24M21 34.5h1.24M23 34.5h1.24M32 34.5h4.24M22 35.5h2.24M31 35.5h1.24M33 35.5h2.24"/></g></g><rect x="317.40" y="14.30" width="56.20" height="68.80" fill="url(#gp2)" opacity="0.4"/>
<text x="408.5" y="7.4" font-size="9.28" textLength="21.74" lengthAdjust="spacingAndGlyphs" text-anchor="middle" fill="#222" stroke="#222" stroke-width="0.1">WNN</text>
<rect x="378.20" y="11.90" width="60.60" height="73.60" fill="#fff" stroke="#6e6e6e" stroke-width="1.3"/>
<g transform="translate(380.40 14.30) scale(1.5611 1.9111)"><rect width="36" height="36" fill="#9664c8"/><g transform="translate(-0.12 0)" fill="none" stroke-width="1.29"><path stroke="#3e82bc" d="M18 0.5h1.24M20 0.5h14.24M35 0.5h1.24M18 1.5h18.24M18 2.5h18.24M18 3.5h18.24M18 4.5h6.24M25 4.5h2.24M28 4.5h8.24M18 5.5h18.24M18 6.5h6.24M30 6.5h6.24M18 7.5h1.24M20 7.5h4.24M30 7.5h6.24M18 8.5h6.24M30 8.5h5.24M18 9.5h1.24M20 9.5h4.24M32 9.5h4.24M18 10.5h6.24M30 10.5h1.24M32 10.5h4.24M18 11.5h6.24M30 11.5h6.24M18 12.5h7.24M27 12.5h9.24M18 13.5h18.24M18 14.5h14.24M33 14.5h3.24M18 15.5h18.24M18 16.5h4.24M24 16.5h2.24M27 16.5h9.24M18 17.5h7.24M26 17.5h3.24M30 17.5h6.24"/><path stroke="#f2832a" d="M6 0.5h2.24M9 0.5h3.24M6 1.5h1.24M8 1.5h1.24M11 1.5h1.24M6 2.5h2.24M9 2.5h1.24M11 2.5h1.24M7 3.5h5.24M6 4.5h1.24M9 4.5h3.24M7 5.5h1.24M9 5.5h3.24M0 6.5h16.24M0 7.5h3.24M5 7.5h7.24M13 7.5h5.24M0 8.5h6.24M7 8.5h3.24M11 8.5h7.24M1 9.5h2.24M4 9.5h1.24M6 9.5h5.24M12 9.5h6.24M0 10.5h8.24M9 10.5h5.24M15 10.5h3.24M2 11.5h2.24M5 11.5h2.24M8 11.5h2.24M11 11.5h5.24M17 11.5h1.24M7 12.5h1.24M9 12.5h3.24M6 13.5h6.24M7 14.5h4.24M6 15.5h4.24M7 16.5h3.24M11 16.5h1.24M8 17.5h4.24"/><path stroke="#4cad3a" d="M0 18.5h1.24M2 18.5h1.24M4 18.5h2.24M0 19.5h1.24M2 19.5h4.24M0 20.5h3.24M5 20.5h1.24M0 21.5h3.24M4 21.5h2.24M0 22.5h5.24M0 23.5h3.24M4 23.5h2.24M0 24.5h2.24M3 24.5h1.24M5 24.5h2.24M8 24.5h3.24M0 25.5h5.24M7 25.5h1.24M10 25.5h1.24M0 26.5h1.24M2 26.5h9.24M0 27.5h5.24M6 27.5h6.24M0 28.5h3.24M4 28.5h1.24M6 28.5h1.24M8 28.5h1.24M10 28.5h2.24M0 29.5h2.24M3 29.5h3.24M7 29.5h2.24M11 29.5h1.24M0 30.5h4.24M5 30.5h1.24M7 30.5h5.24M13 30.5h1.24M15 30.5h1.24M17 30.5h1.24M0 31.5h5.24M7 31.5h1.24M9 31.5h6.24M16 31.5h1.24M0 32.5h6.24M7 32.5h5.24M15 32.5h3.24M0 33.5h3.24M4 33.5h3.24M8 33.5h3.24M12 33.5h2.24M15 33.5h2.24M2 34.5h2.24M5 34.5h11.24M17 34.5h1.24M1 35.5h2.24M5 35.5h2.24M8 35.5h1.24M10 35.5h8.24"/><path stroke="#da3232" d="M18 18.5h1.24M20 18.5h6.24M27 18.5h5.24M34 18.5h2.24M18 19.5h14.24M33 19.5h3.24M18 20.5h17.24M18 21.5h16.24M35 21.5h1.24M19 22.5h12.24M33 22.5h3.24M18 23.5h18.24M24 24.5h2.24M27 24.5h3.24M24 25.5h5.24M24 26.5h5.24M24 27.5h6.24M24 28.5h2.24M27 28.5h1.24M29 28.5h1.24M24 29.5h5.24M25 30.5h5.24M24 31.5h2.24M27 31.5h2.24M24 32.5h3.24M28 32.5h1.24M24 33.5h2.24M27 33.5h1.24M24 34.5h6.24M24 35.5h6.24"/></g></g><rect x="380.40" y="14.30" width="56.20" height="68.80" fill="url(#gp2)" opacity="0.4"/>
<text x="471.3" y="7.4" font-size="9.28" textLength="39.86" lengthAdjust="spacingAndGlyphs" text-anchor="middle" fill="#222" stroke="#222" stroke-width="0.1">PRESENT</text>
<rect x="441.00" y="11.90" width="60.60" height="73.60" fill="#fff" stroke="#6e6e6e" stroke-width="1.3"/>
<g transform="translate(443.20 14.30) scale(1.5611 1.9111)"><rect width="36" height="36" fill="#9664c8"/><g transform="translate(-0.12 0)" fill="none" stroke-width="1.29"><path stroke="#3e82bc" d="M18 0.5h18.24M18 1.5h18.24M18 2.5h18.24M18 3.5h18.24M18 4.5h18.24M18 5.5h18.24M18 6.5h6.24M30 6.5h6.24M18 7.5h6.24M30 7.5h6.24M18 8.5h6.24M30 8.5h6.24M18 9.5h6.24M30 9.5h6.24M18 10.5h6.24M30 10.5h6.24M18 11.5h6.24M30 11.5h6.24M18 12.5h18.24M18 13.5h18.24M18 14.5h18.24M18 15.5h18.24M18 16.5h18.24M18 17.5h18.24"/><path stroke="#f2832a" d="M6 0.5h6.24M6 1.5h6.24M6 2.5h6.24M6 3.5h6.24M6 4.5h6.24M6 5.5h6.24M0 6.5h18.24M0 7.5h18.24M0 8.5h18.24M0 9.5h18.24M0 10.5h18.24M0 11.5h18.24M6 12.5h6.24M6 13.5h6.24M6 14.5h6.24M6 15.5h6.24M6 16.5h6.24M6 17.5h6.24"/><path stroke="#4cad3a" d="M0 18.5h2.24M4 18.5h2.24M2 19.5h2.24M5 19.5h1.24M0 20.5h2.24M3 20.5h2.24M1 21.5h1.24M3 21.5h1.24M0 22.5h1.24M2 22.5h4.24M1 23.5h3.24M5 23.5h1.24M1 24.5h1.24M3 24.5h2.24M6 24.5h4.24M0 25.5h1.24M3 25.5h4.24M8 25.5h1.24M10 25.5h2.24M1 26.5h1.24M6 26.5h1.24M8 26.5h4.24M1 27.5h1.24M3 27.5h4.24M9 27.5h2.24M0 28.5h5.24M6 28.5h2.24M9 28.5h3.24M1 29.5h4.24M6 29.5h2.24M9 29.5h3.24M0 30.5h1.24M2 30.5h2.24M7 30.5h9.24M17 30.5h1.24M0 31.5h2.24M3 31.5h3.24M7 31.5h3.24M13 31.5h1.24M15 31.5h1.24M17 31.5h1.24M0 32.5h6.24M7 32.5h6.24M14 32.5h3.24M1 33.5h7.24M9 33.5h1.24M11 33.5h2.24M15 33.5h1.24M0 34.5h1.24M2 34.5h3.24M6 34.5h3.24M10 34.5h3.24M14 34.5h4.24M3 35.5h4.24M8 35.5h3.24M12 35.5h2.24M15 35.5h1.24M17 35.5h1.24"/><path stroke="#da3232" d="M0 0.5h1.24M2 0.5h2.24M5 0.5h1.24M14 0.5h2.24M17 0.5h1.24M0 1.5h2.24M3 1.5h1.24M3 2.5h1.24M16 2.5h2.24M2 3.5h1.24M4 3.5h2.24M14 3.5h1.24M16 3.5h1.24M1 4.5h1.24M13 4.5h1.24M16 4.5h2.24M4 5.5h2.24M13 5.5h1.24M16 5.5h1.24M29 6.5h1.24M26 7.5h1.24M26 8.5h1.24M26 9.5h2.24M25 10.5h1.24M28 11.5h1.24M3 12.5h1.24M12 12.5h1.24M15 12.5h2.24M0 13.5h1.24M4 13.5h1.24M12 13.5h3.24M17 13.5h1.24M5 14.5h1.24M12 14.5h1.24M14 14.5h1.24M16 14.5h1.24M1 15.5h1.24M3 15.5h1.24M12 15.5h1.24M15 15.5h1.24M4 16.5h1.24M17 16.5h1.24M2 17.5h2.24M13 17.5h1.24M17 17.5h1.24M6 18.5h2.24M10 18.5h1.24M14 18.5h1.24M16 18.5h2.24M12 19.5h6.24M13 20.5h1.24M15 20.5h3.24M7 21.5h1.24M9 21.5h2.24M12 21.5h1.24M16 21.5h2.24M6 22.5h1.24M8 22.5h2.24M11 22.5h1.24M15 22.5h3.24M7 23.5h1.24M14 23.5h4.24M14 24.5h5.24M22 24.5h1.24M31 24.5h1.24M14 25.5h5.24M21 25.5h1.24M23 25.5h1.24M30 25.5h1.24M15 26.5h2.24M18 26.5h1.24M15 27.5h1.24M20 27.5h2.24M34 27.5h1.24M12 28.5h5.24M13 29.5h3.24M30 29.5h1.24M19 31.5h1.24M22 31.5h1.24M30 31.5h1.24M35 31.5h1.24M18 32.5h3.24M32 32.5h1.24M34 32.5h1.24M18 33.5h3.24M22 33.5h1.24M31 33.5h3.24M35 33.5h1.24M18 34.5h6.24M19 35.5h5.24M34 35.5h1.24"/></g></g><rect x="443.20" y="14.30" width="56.20" height="68.80" fill="url(#gp2)" opacity="0.4"/>
<text x="534.2" y="7.4" font-size="9.28" textLength="49.38" lengthAdjust="spacingAndGlyphs" text-anchor="middle" fill="#222" stroke="#222" stroke-width="0.1">CellCharter</text>
<rect x="503.90" y="11.90" width="60.60" height="73.60" fill="#fff" stroke="#6e6e6e" stroke-width="1.3"/>
<g transform="translate(506.10 14.30) scale(1.5611 1.9111)"><rect width="36" height="36" fill="#9664c8"/><g transform="translate(-0.12 0)" fill="none" stroke-width="1.29"><path stroke="#3e82bc" d="M18 0.5h18.24M18 1.5h18.24M18 2.5h18.24M18 3.5h18.24M18 4.5h18.24M18 5.5h18.24M18 6.5h6.24M30 6.5h6.24M18 7.5h6.24M30 7.5h6.24M18 8.5h6.24M30 8.5h6.24M19 9.5h5.24M30 9.5h6.24M18 10.5h6.24M30 10.5h6.24M18 11.5h6.24M30 11.5h6.24M18 12.5h18.24M18 13.5h18.24M19 14.5h17.24M18 15.5h18.24M18 16.5h18.24M18 17.5h12.24M31 17.5h5.24"/><path stroke="#f2832a" d="M6 0.5h6.24M7 1.5h4.24M6 2.5h6.24M6 3.5h6.24M6 4.5h6.24M5 5.5h8.24M0 6.5h18.24M0 7.5h18.24M0 8.5h18.24M0 9.5h19.24M0 10.5h18.24M0 11.5h18.24M6 12.5h6.24M6 13.5h6.24M6 14.5h6.24M6 15.5h6.24M6 16.5h6.24M6 17.5h6.24"/><path stroke="#4cad3a" d="M0 18.5h6.24M0 19.5h6.24M0 20.5h5.24M0 21.5h6.24M0 22.5h6.24M0 23.5h7.24M0 24.5h12.24M0 25.5h12.24M0 26.5h12.24M0 27.5h11.24M12 27.5h1.24M0 28.5h12.24M0 29.5h12.24M0 30.5h18.24M0 31.5h18.24M0 32.5h18.24M0 33.5h18.24M0 34.5h18.24M0 35.5h18.24"/><path stroke="#da3232" d="M30 17.5h1.24M18 18.5h18.24M18 19.5h18.24M18 20.5h18.24M18 21.5h18.24M18 22.5h18.24M18 23.5h18.24M19 24.5h1.24M24 24.5h6.24M24 25.5h6.24M24 26.5h6.24M25 27.5h5.24M24 28.5h6.24M24 29.5h6.24M24 30.5h6.24M24 31.5h6.24M24 32.5h6.24M24 33.5h6.24M24 34.5h6.24M24 35.5h6.24"/></g></g><rect x="506.10" y="14.30" width="56.20" height="68.80" fill="url(#gp2)" opacity="0.4"/>
<text x="597.2" y="7.4" font-size="9.28" textLength="38.54" lengthAdjust="spacingAndGlyphs" text-anchor="middle" fill="#222" stroke="#222" stroke-width="0.1">COSMOS</text>
<rect x="566.90" y="11.90" width="60.60" height="73.60" fill="#fff" stroke="#6e6e6e" stroke-width="1.3"/>
<g transform="translate(569.10 14.30) scale(1.5611 1.9111)"><rect width="36" height="36" fill="#3e82bc"/><g transform="translate(-0.12 0)" fill="none" stroke-width="1.29"><path stroke="#f2832a" d="M2 0.5h11.24M1 1.5h12.24M3 2.5h10.24M2 3.5h13.24M2 4.5h13.24M0 5.5h18.24M0 6.5h18.24M0 7.5h18.24M0 8.5h18.24M0 9.5h18.24M0 10.5h18.24M0 11.5h18.24M0 12.5h4.24M5 12.5h13.24M6 13.5h12.24M6 14.5h12.24M5 15.5h11.24M17 15.5h1.24M8 16.5h7.24M9 17.5h7.24M9 18.5h6.24M13 19.5h1.24"/><path stroke="#4cad3a" d="M1 18.5h7.24M0 19.5h9.24M0 20.5h9.24M0 21.5h11.24M0 22.5h12.24M0 23.5h12.24M0 24.5h13.24M0 25.5h15.24M17 25.5h1.24M0 26.5h18.24M0 27.5h18.24M0 28.5h19.24M0 29.5h19.24M0 30.5h19.24M0 31.5h19.24M0 32.5h21.24M0 33.5h21.24M0 34.5h22.24M0 35.5h22.24"/><path stroke="#da3232" d="M19 19.5h1.24M21 19.5h15.24M19 20.5h17.24M20 21.5h16.24M19 22.5h1.24M22 22.5h14.24M21 23.5h15.24M21 24.5h15.24M21 25.5h15.24M22 26.5h9.24M22 27.5h9.24M24 28.5h8.24M24 29.5h8.24M24 30.5h8.24M24 31.5h8.24M24 32.5h8.24M24 33.5h7.24M24 34.5h10.24M25 35.5h9.24"/><path stroke="#9664c8" d="M0 0.5h2.24M13 0.5h3.24M0 1.5h1.24M13 1.5h3.24M0 2.5h3.24M13 2.5h3.24M0 3.5h2.24M15 3.5h1.24M0 4.5h2.24M15 4.5h1.24M4 12.5h1.24M0 13.5h6.24M0 14.5h6.24M0 15.5h5.24M16 15.5h1.24M0 16.5h8.24M15 16.5h3.24M0 17.5h9.24M16 17.5h2.24M0 18.5h1.24M8 18.5h1.24M15 18.5h4.24M9 19.5h4.24M14 19.5h5.24M9 20.5h10.24M11 21.5h9.24M12 22.5h7.24M20 22.5h2.24M12 23.5h9.24M13 24.5h8.24M15 25.5h2.24M18 25.5h3.24M18 26.5h4.24M31 26.5h5.24M18 27.5h4.24M31 27.5h5.24M19 28.5h5.24M32 28.5h4.24M19 29.5h5.24M32 29.5h4.24M19 30.5h5.24M32 30.5h4.24M19 31.5h5.24M32 31.5h4.24M21 32.5h3.24M32 32.5h4.24M21 33.5h3.24M31 33.5h5.24M22 34.5h2.24M34 34.5h2.24M22 35.5h3.24M34 35.5h2.24"/></g></g><rect x="569.10" y="14.30" width="56.20" height="68.80" fill="url(#gp2)" opacity="0.4"/>
<text x="219.5" y="94.9" font-size="9.28" textLength="23.43" lengthAdjust="spacingAndGlyphs" text-anchor="middle" fill="#222" stroke="#222" stroke-width="0.1">ATAC</text>
<rect x="189.20" y="99.40" width="60.60" height="73.60" fill="#fff" stroke="#6e6e6e" stroke-width="1.3"/>
<g transform="translate(191.40 101.80) scale(1.5611 1.9111)"><rect width="36" height="36" fill="#9664c8"/><g transform="translate(-0.12 0)" fill="none" stroke-width="1.29"><path stroke="#3e82bc" d="M18 0.5h6.24M25 0.5h9.24M35 0.5h1.24M18 1.5h10.24M29 1.5h2.24M32 1.5h4.24M18 2.5h2.24M22 2.5h5.24M29 2.5h7.24M18 3.5h7.24M26 3.5h10.24M18 4.5h8.24M27 4.5h4.24M32 4.5h4.24M18 5.5h5.24M24 5.5h5.24M31 5.5h5.24M19 6.5h5.24M30 6.5h6.24M18 7.5h1.24M21 7.5h3.24M30 7.5h1.24M32 7.5h4.24M18 8.5h1.24M20 8.5h4.24M30 8.5h6.24M18 9.5h1.24M20 9.5h4.24M30 9.5h6.24M18 10.5h1.24M21 10.5h2.24M30 10.5h6.24M18 11.5h6.24M31 11.5h3.24M35 11.5h1.24M18 12.5h7.24M26 12.5h1.24M28 12.5h3.24M32 12.5h1.24M34 12.5h2.24M18 13.5h8.24M27 13.5h9.24M18 14.5h3.24M22 14.5h2.24M25 14.5h1.24M27 14.5h6.24M34 14.5h2.24M18 15.5h9.24M28 15.5h4.24M33 15.5h3.24M18 16.5h5.24M25 16.5h9.24M35 16.5h1.24M18 17.5h7.24M26 17.5h7.24"/><path stroke="#f2832a" d="M6 0.5h1.24M8 0.5h3.24M7 1.5h5.24M6 2.5h3.24M10 2.5h2.24M6 3.5h1.24M8 3.5h1.24M10 3.5h2.24M6 4.5h6.24M6 5.5h3.24M10 5.5h2.24M0 6.5h6.24M7 6.5h11.24M0 7.5h18.24M0 8.5h12.24M13 8.5h5.24M1 9.5h2.24M4 9.5h13.24M0 10.5h5.24M6 10.5h9.24M16 10.5h2.24M0 11.5h7.24M8 11.5h1.24M10 11.5h5.24M17 11.5h1.24M6 12.5h3.24M10 12.5h2.24M6 13.5h3.24M10 13.5h2.24M6 14.5h3.24M10 14.5h2.24M7 15.5h5.24M6 16.5h4.24M11 16.5h1.24M6 17.5h2.24M9 17.5h3.24"/><path stroke="#4cad3a" d="M1 0.5h1.24M3 0.5h1.24M7 0.5h1.24M11 0.5h1.24M17 0.5h1.24M24 0.5h1.24M34 0.5h1.24M6 1.5h1.24M28 1.5h1.24M4 2.5h1.24M9 2.5h1.24M12 2.5h1.24M16 2.5h1.24M21 2.5h1.24M28 2.5h1.24M1 3.5h1.24M7 3.5h1.24M9 3.5h1.24M15 3.5h1.24M25 3.5h1.24M0 4.5h1.24M4 4.5h1.24M14 4.5h1.24M17 4.5h1.24M26 4.5h1.24M31 4.5h1.24M5 5.5h1.24M9 5.5h1.24M12 5.5h1.24M23 5.5h1.24M29 5.5h2.24M18 6.5h1.24M28 6.5h1.24M19 7.5h2.24M12 8.5h1.24M19 8.5h1.24M24 8.5h2.24M27 8.5h2.24M0 9.5h1.24M3 9.5h1.24M17 9.5h1.24M5 10.5h1.24M15 10.5h1.24M19 10.5h2.24M23 10.5h1.24M27 10.5h1.24M7 11.5h1.24M9 11.5h1.24M15 11.5h2.24M24 11.5h1.24M30 11.5h1.24M34 11.5h1.24M5 12.5h1.24M27 12.5h1.24M31 12.5h1.24M1 13.5h2.24M4 13.5h2.24M9 13.5h1.24M26 13.5h1.24M2 14.5h1.24M9 14.5h1.24M12 14.5h1.24M15 14.5h2.24M21 14.5h1.24M24 14.5h1.24M26 14.5h1.24M3 15.5h1.24M5 15.5h2.24M17 15.5h1.24M1 16.5h1.24M10 16.5h1.24M17 16.5h1.24M23 16.5h2.24M34 16.5h1.24M8 17.5h1.24M14 17.5h1.24M25 17.5h1.24M33 17.5h1.24M35 17.5h1.24M7 18.5h1.24M27 18.5h1.24M32 18.5h2.24M2 19.5h1.24M4 19.5h1.24M26 19.5h1.24M33 19.5h1.24M17 20.5h1.24M27 20.5h1.24M29 20.5h1.24M34 20.5h1.24M9 21.5h1.24M15 21.5h1.24M24 21.5h1.24M32 21.5h1.24M34 21.5h2.24M3 22.5h1.24M6 22.5h1.24M14 22.5h1.24M27 22.5h1.24M2 23.5h1.24M13 23.5h2.24M18 23.5h1.24M21 23.5h1.24M23 23.5h1.24M6 24.5h1.24M31 24.5h1.24M5 25.5h1.24M12 25.5h1.24M21 25.5h1.24M23 25.5h2.24M31 25.5h2.24M2 26.5h1.24M8 26.5h1.24M10 26.5h2.24M27 26.5h1.24M1 27.5h1.24M5 27.5h1.24M12 27.5h1.24M15 27.5h1.24M23 27.5h1.24M30 27.5h1.24M33 27.5h1.24M14 28.5h1.24M18 28.5h1.24M27 28.5h1.24M32 28.5h1.24M4 29.5h1.24M6 29.5h1.24M12 29.5h4.24M20 29.5h1.24M29 29.5h1.24M7 30.5h1.24M13 30.5h1.24M16 30.5h1.24M33 30.5h1.24M0 31.5h2.24M3 31.5h1.24M6 31.5h1.24M32 31.5h1.24M1 33.5h1.24M5 33.5h1.24M15 33.5h1.24M23 33.5h1.24M30 33.5h1.24M7 34.5h1.24M21 34.5h1.24M0 35.5h1.24M13 35.5h1.24M19 35.5h1.24M26 35.5h1.24M33 35.5h1.24"/><path stroke="#da3232" d="M13 0.5h1.24M5 1.5h1.24M31 1.5h1.24M3 2.5h1.24M17 2.5h1.24M20 2.5h1.24M27 2.5h1.24M15 4.5h1.24M6 6.5h1.24M25 7.5h1.24M31 7.5h1.24M19 9.5h1.24M28 9.5h1.24M2 12.5h1.24M9 12.5h1.24M14 12.5h1.24M25 12.5h1.24M33 12.5h1.24M13 13.5h1.24M5 14.5h1.24M33 14.5h1.24M13 15.5h1.24M15 15.5h1.24M27 15.5h1.24M32 15.5h1.24M12 17.5h1.24M34 17.5h1.24M2 18.5h1.24M4 18.5h2.24M23 18.5h1.24M30 18.5h1.24M7 19.5h1.24M16 19.5h1.24M21 19.5h3.24M27 19.5h1.24M29 19.5h1.24M1 20.5h1.24M3 20.5h1.24M10 20.5h1.24M20 20.5h1.24M24 20.5h2.24M10 21.5h1.24M12 21.5h1.24M23 21.5h1.24M4 22.5h1.24M7 22.5h2.24M16 22.5h1.24M21 22.5h1.24M23 22.5h1.24M28 22.5h1.24M12 23.5h1.24M17 23.5h1.24M19 23.5h1.24M27 23.5h1.24M29 23.5h1.24M32 23.5h1.24M1 24.5h1.24M3 24.5h1.24M7 24.5h1.24M11 24.5h1.24M34 24.5h1.24M0 25.5h1.24M4 25.5h1.24M11 25.5h1.24M20 25.5h1.24M34 25.5h2.24M14 26.5h1.24M17 26.5h1.24M22 26.5h1.24M24 26.5h1.24M28 26.5h1.24M16 27.5h1.24M20 27.5h1.24M25 27.5h2.24M29 27.5h1.24M7 28.5h1.24M28 28.5h1.24M0 29.5h2.24M3 29.5h1.24M21 29.5h1.24M27 29.5h2.24M2 30.5h1.24M5 30.5h1.24M9 30.5h3.24M17 30.5h1.24M19 30.5h2.24M31 30.5h1.24M5 31.5h1.24M10 31.5h1.24M13 31.5h1.24M15 31.5h1.24M18 31.5h2.24M28 31.5h1.24M30 31.5h1.24M12 32.5h1.24M16 32.5h1.24M18 32.5h1.24M25 32.5h2.24M3 33.5h2.24M13 33.5h1.24M17 33.5h2.24M21 33.5h1.24M0 34.5h1.24M8 34.5h1.24M19 34.5h1.24M30 34.5h1.24M32 34.5h1.24M2 35.5h1.24M5 35.5h2.24M11 35.5h1.24M18 35.5h1.24M21 35.5h1.24M29 35.5h1.24"/></g></g><rect x="191.40" y="101.80" width="56.20" height="68.80" fill="url(#gp2)" opacity="0.4"/>
<text x="282.5" y="94.9" font-size="9.28" textLength="32.79" lengthAdjust="spacingAndGlyphs" text-anchor="middle" fill="#222" stroke="#222" stroke-width="0.1">MOFA+</text>
<rect x="252.20" y="99.40" width="60.60" height="73.60" fill="#fff" stroke="#6e6e6e" stroke-width="1.3"/>
<g transform="translate(254.40 101.80) scale(1.5611 1.9111)"><rect width="36" height="36" fill="#9664c8"/><g transform="translate(-0.12 0)" fill="none" stroke-width="1.29"><path stroke="#3e82bc" d="M19 0.5h5.24M25 0.5h11.24M18 1.5h2.24M21 1.5h12.24M34 1.5h2.24M18 2.5h2.24M22 2.5h1.24M25 2.5h5.24M31 2.5h5.24M18 3.5h7.24M26 3.5h2.24M29 3.5h7.24M18 4.5h2.24M23 4.5h1.24M25 4.5h9.24M35 4.5h1.24M18 5.5h18.24M18 6.5h2.24M21 6.5h1.24M23 6.5h1.24M30 6.5h4.24M35 6.5h1.24M19 7.5h5.24M30 7.5h6.24M18 8.5h4.24M30 8.5h6.24M18 9.5h6.24M30 9.5h1.24M32 9.5h4.24M18 10.5h6.24M30 10.5h6.24M18 11.5h4.24M23 11.5h1.24M30 11.5h6.24M18 12.5h2.24M21 12.5h1.24M23 12.5h13.24M18 13.5h11.24M30 13.5h6.24M18 14.5h7.24M27 14.5h5.24M33 14.5h1.24M35 14.5h1.24M18 15.5h15.24M34 15.5h2.24M18 16.5h17.24M18 17.5h9.24M28 17.5h3.24M32 17.5h4.24"/><path stroke="#f2832a" d="M6 0.5h6.24M6 1.5h6.24M6 2.5h6.24M6 3.5h6.24M6 4.5h6.24M6 5.5h6.24M0 6.5h18.24M0 7.5h18.24M0 8.5h18.24M0 9.5h18.24M0 10.5h18.24M0 11.5h18.24M6 12.5h6.24M6 13.5h6.24M6 14.5h6.24M6 15.5h6.24M6 16.5h6.24M6 17.5h6.24"/><path stroke="#4cad3a" d="M25 7.5h1.24M0 18.5h3.24M4 18.5h2.24M25 18.5h1.24M0 19.5h3.24M5 19.5h1.24M7 19.5h1.24M32 19.5h1.24M0 20.5h6.24M26 20.5h1.24M0 21.5h6.24M0 22.5h1.24M2 22.5h5.24M0 23.5h5.24M0 24.5h4.24M5 24.5h2.24M8 24.5h4.24M16 24.5h1.24M28 24.5h1.24M1 25.5h1.24M3 25.5h2.24M7 25.5h5.24M2 26.5h5.24M8 26.5h4.24M0 27.5h1.24M2 27.5h4.24M7 27.5h5.24M31 27.5h1.24M3 28.5h2.24M6 28.5h5.24M0 29.5h6.24M7 29.5h2.24M29 29.5h1.24M0 30.5h3.24M4 30.5h6.24M11 30.5h6.24M31 30.5h1.24M0 31.5h10.24M11 31.5h1.24M13 31.5h5.24M0 32.5h6.24M7 32.5h5.24M13 32.5h5.24M32 32.5h1.24M35 32.5h1.24M0 33.5h18.24M25 33.5h1.24M33 33.5h1.24M1 34.5h1.24M3 34.5h7.24M11 34.5h1.24M13 34.5h1.24M15 34.5h3.24M25 34.5h1.24M0 35.5h1.24M2 35.5h1.24M4 35.5h11.24M16 35.5h2.24"/><path stroke="#da3232" d="M5 0.5h1.24M12 0.5h1.24M16 0.5h3.24M24 0.5h1.24M1 1.5h1.24M5 1.5h1.24M12 1.5h1.24M14 1.5h1.24M20 1.5h1.24M33 1.5h1.24M0 2.5h1.24M3 2.5h1.24M15 2.5h1.24M20 2.5h2.24M23 2.5h2.24M30 2.5h1.24M5 3.5h1.24M12 3.5h1.24M17 3.5h1.24M25 3.5h1.24M28 3.5h1.24M3 4.5h1.24M12 4.5h1.24M14 4.5h1.24M20 4.5h3.24M24 4.5h1.24M34 4.5h1.24M1 5.5h1.24M4 5.5h1.24M12 5.5h1.24M17 5.5h1.24M20 6.5h1.24M22 6.5h1.24M26 6.5h1.24M29 6.5h1.24M34 6.5h1.24M18 7.5h1.24M24 7.5h1.24M22 8.5h4.24M24 9.5h1.24M28 9.5h1.24M31 9.5h1.24M24 10.5h1.24M28 10.5h1.24M22 11.5h1.24M24 11.5h1.24M28 11.5h1.24M4 12.5h1.24M13 12.5h1.24M20 12.5h1.24M22 12.5h1.24M3 13.5h1.24M13 13.5h1.24M16 13.5h1.24M29 13.5h1.24M2 14.5h1.24M4 14.5h2.24M14 14.5h1.24M25 14.5h2.24M32 14.5h1.24M34 14.5h1.24M33 15.5h1.24M14 16.5h2.24M35 16.5h1.24M1 17.5h1.24M5 17.5h1.24M27 17.5h1.24M31 17.5h1.24M3 18.5h1.24M13 18.5h1.24M16 18.5h1.24M20 18.5h1.24M30 18.5h1.24M32 18.5h1.24M35 18.5h1.24M3 19.5h2.24M6 19.5h1.24M12 19.5h1.24M14 19.5h1.24M18 19.5h1.24M21 19.5h1.24M27 19.5h1.24M9 20.5h1.24M13 20.5h4.24M25 20.5h1.24M27 20.5h2.24M30 20.5h1.24M12 21.5h1.24M17 21.5h1.24M24 21.5h1.24M26 21.5h2.24M29 21.5h1.24M35 21.5h1.24M1 22.5h1.24M18 22.5h1.24M30 22.5h4.24M5 23.5h2.24M8 23.5h1.24M19 23.5h1.24M22 23.5h2.24M25 23.5h1.24M4 24.5h1.24M7 24.5h1.24M13 24.5h1.24M15 24.5h1.24M27 24.5h1.24M30 24.5h1.24M0 25.5h1.24M2 25.5h1.24M5 25.5h2.24M15 25.5h1.24M0 26.5h2.24M7 26.5h1.24M13 26.5h1.24M16 26.5h3.24M31 26.5h1.24M1 27.5h1.24M6 27.5h1.24M12 27.5h1.24M17 27.5h1.24M22 27.5h2.24M25 27.5h1.24M0 28.5h3.24M5 28.5h1.24M11 28.5h1.24M13 28.5h2.24M18 28.5h1.24M20 28.5h1.24M26 28.5h1.24M28 28.5h1.24M31 28.5h1.24M6 29.5h1.24M9 29.5h3.24M16 29.5h2.24M23 29.5h1.24M32 29.5h1.24M34 29.5h1.24M3 30.5h1.24M10 30.5h1.24M17 30.5h1.24M19 30.5h1.24M26 30.5h1.24M33 30.5h2.24M10 31.5h1.24M12 31.5h1.24M19 31.5h1.24M21 31.5h1.24M25 31.5h2.24M29 31.5h1.24M32 31.5h2.24M6 32.5h1.24M12 32.5h1.24M23 33.5h1.24M27 33.5h1.24M0 34.5h1.24M2 34.5h1.24M10 34.5h1.24M12 34.5h1.24M14 34.5h1.24M23 34.5h1.24M26 34.5h2.24M1 35.5h1.24M3 35.5h1.24M15 35.5h1.24M25 35.5h1.24M28 35.5h1.24"/></g></g><rect x="254.40" y="101.80" width="56.20" height="68.80" fill="url(#gp2)" opacity="0.4"/>
<text x="345.5" y="94.9" font-size="9.28" textLength="38.48" lengthAdjust="spacingAndGlyphs" text-anchor="middle" fill="#222" stroke="#222" stroke-width="0.1">MEFISTO</text>
<rect x="315.20" y="99.40" width="60.60" height="73.60" fill="#fff" stroke="#6e6e6e" stroke-width="1.3"/>
<g transform="translate(317.40 101.80) scale(1.5611 1.9111)"><rect width="36" height="36" fill="#9664c8"/><g transform="translate(-0.12 0)" fill="none" stroke-width="1.29"><path stroke="#3e82bc" d="M17 0.5h19.24M17 1.5h19.24M17 2.5h19.24M17 3.5h19.24M18 4.5h18.24M18 5.5h18.24M18 6.5h6.24M30 6.5h6.24M18 7.5h6.24M30 7.5h6.24M18 8.5h7.24M29 8.5h7.24M18 9.5h6.24M31 9.5h5.24M17 10.5h7.24M31 10.5h5.24M18 11.5h6.24M30 11.5h6.24M17 12.5h19.24M18 13.5h18.24M18 14.5h18.24M18 15.5h18.24M18 16.5h18.24M18 17.5h3.24M22 17.5h6.24M29 17.5h7.24M30 18.5h2.24"/><path stroke="#f2832a" d="M6 0.5h6.24M7 1.5h5.24M6 2.5h6.24M6 3.5h6.24M6 4.5h6.24M1 5.5h1.24M6 5.5h6.24M0 6.5h17.24M0 7.5h17.24M0 8.5h18.24M0 9.5h18.24M0 10.5h13.24M14 10.5h3.24M0 11.5h13.24M14 11.5h4.24M1 12.5h1.24M6 12.5h6.24M7 13.5h4.24M6 14.5h6.24M6 15.5h6.24M7 16.5h5.24M6 17.5h6.24M9 18.5h1.24"/><path stroke="#4cad3a" d="M1 17.5h1.24M4 17.5h1.24M1 18.5h5.24M0 19.5h6.24M0 20.5h7.24M0 21.5h5.24M0 22.5h6.24M0 23.5h6.24M7 23.5h1.24M0 24.5h12.24M0 25.5h12.24M0 26.5h12.24M0 27.5h13.24M0 28.5h12.24M0 29.5h12.24M14 29.5h1.24M0 30.5h12.24M13 30.5h1.24M15 30.5h3.24M0 31.5h18.24M0 32.5h18.24M0 33.5h18.24M0 34.5h19.24M0 35.5h18.24"/><path stroke="#da3232" d="M3 4.5h1.24M12 4.5h1.24M21 17.5h1.24M28 17.5h1.24M18 18.5h12.24M32 18.5h4.24M16 19.5h20.24M18 20.5h18.24M18 21.5h18.24M17 22.5h1.24M19 22.5h17.24M19 23.5h4.24M24 23.5h12.24M24 24.5h7.24M25 25.5h5.24M23 26.5h1.24M25 26.5h5.24M15 27.5h1.24M24 27.5h6.24M35 27.5h1.24M25 28.5h5.24M15 29.5h1.24M24 29.5h6.24M24 30.5h6.24M24 31.5h5.24M23 32.5h7.24M24 33.5h6.24M24 34.5h6.24M24 35.5h6.24"/></g></g><rect x="317.40" y="101.80" width="56.20" height="68.80" fill="url(#gp2)" opacity="0.4"/>
<text x="408.5" y="94.9" font-size="9.28" textLength="50.27" lengthAdjust="spacingAndGlyphs" text-anchor="middle" fill="#222" stroke="#222" stroke-width="0.1">SpatialGlue</text>
<rect x="378.20" y="99.40" width="60.60" height="73.60" fill="#fff" stroke="#6e6e6e" stroke-width="1.3"/>
<g transform="translate(380.40 101.80) scale(1.5611 1.9111)"><rect width="36" height="36" fill="#9664c8"/><g transform="translate(-0.12 0)" fill="none" stroke-width="1.29"><path stroke="#3e82bc" d="M18 0.5h18.24M18 1.5h18.24M18 2.5h18.24M18 3.5h18.24M19 4.5h17.24M17 5.5h8.24M26 5.5h10.24M18 6.5h6.24M27 6.5h9.24M18 7.5h6.24M30 7.5h6.24M17 8.5h7.24M29 8.5h7.24M17 9.5h7.24M30 9.5h6.24M18 10.5h6.24M30 10.5h6.24M18 11.5h6.24M25 11.5h1.24M31 11.5h5.24M17 12.5h7.24M25 12.5h11.24M17 13.5h19.24M18 14.5h18.24M18 15.5h18.24M18 16.5h18.24M18 17.5h1.24M20 17.5h7.24M30 17.5h3.24M34 17.5h2.24M24 18.5h1.24M26 18.5h1.24"/><path stroke="#f2832a" d="M7 0.5h6.24M6 1.5h7.24M6 2.5h7.24M6 3.5h6.24M6 4.5h6.24M6 5.5h6.24M1 6.5h12.24M14 6.5h2.24M17 6.5h1.24M0 7.5h18.24M0 8.5h17.24M0 9.5h17.24M0 10.5h18.24M0 11.5h2.24M3 11.5h2.24M7 11.5h7.24M15 11.5h3.24M4 12.5h1.24M6 12.5h7.24M6 13.5h6.24M6 14.5h6.24M7 15.5h5.24M6 16.5h5.24M7 17.5h5.24"/><path stroke="#4cad3a" d="M0 17.5h1.24M0 18.5h1.24M2 18.5h4.24M0 19.5h6.24M0 20.5h6.24M0 21.5h6.24M0 22.5h6.24M0 23.5h6.24M10 23.5h1.24M0 24.5h11.24M0 25.5h12.24M0 26.5h12.24M0 27.5h12.24M0 28.5h12.24M0 29.5h13.24M15 29.5h3.24M0 30.5h16.24M17 30.5h1.24M0 31.5h18.24M0 32.5h18.24M0 33.5h17.24M0 34.5h18.24M0 35.5h18.24"/><path stroke="#da3232" d="M19 17.5h1.24M27 17.5h3.24M33 17.5h1.24M18 18.5h6.24M25 18.5h1.24M27 18.5h9.24M19 19.5h17.24M18 20.5h18.24M18 21.5h18.24M18 22.5h18.24M18 23.5h16.24M19 24.5h1.24M23 24.5h8.24M33 24.5h1.24M24 25.5h6.24M24 26.5h7.24M22 27.5h2.24M25 27.5h5.24M23 28.5h7.24M24 29.5h6.24M24 30.5h5.24M24 31.5h8.24M23 32.5h7.24M23 33.5h6.24M24 34.5h5.24M24 35.5h6.24"/></g></g><rect x="380.40" y="101.80" width="56.20" height="68.80" fill="url(#gp2)" opacity="0.4"/>
<text x="471.3" y="94.9" font-size="9.28" textLength="22.57" lengthAdjust="spacingAndGlyphs" text-anchor="middle" fill="#222" stroke="#222" stroke-width="0.1">MISO</text>
<rect x="441.00" y="99.40" width="60.60" height="73.60" fill="#fff" stroke="#6e6e6e" stroke-width="1.3"/>
<g transform="translate(443.20 101.80) scale(1.5611 1.9111)"><rect width="36" height="36" fill="#9664c8"/><g transform="translate(-0.12 0)" fill="none" stroke-width="1.29"><path stroke="#3e82bc" d="M19 0.5h1.24M25 0.5h1.24M29 0.5h2.24M33 0.5h1.24M35 0.5h1.24M24 1.5h1.24M29 1.5h1.24M33 1.5h3.24M21 2.5h3.24M30 2.5h5.24M18 3.5h1.24M21 3.5h3.24M27 3.5h3.24M31 3.5h4.24M18 4.5h1.24M20 4.5h3.24M27 4.5h7.24M21 5.5h2.24M24 5.5h1.24M28 5.5h2.24M21 6.5h2.24M25 6.5h2.24M28 6.5h2.24M25 7.5h2.24M28 7.5h3.24M32 7.5h1.24M22 8.5h1.24M24 8.5h1.24M29 8.5h1.24M23 9.5h2.24M26 9.5h1.24M28 9.5h1.24M30 9.5h1.24M32 9.5h1.24M35 9.5h1.24M20 10.5h1.24M22 10.5h8.24M32 10.5h2.24M35 10.5h1.24M19 11.5h10.24M32 11.5h3.24M20 12.5h4.24M25 12.5h2.24M32 12.5h2.24M18 13.5h2.24M21 13.5h5.24M32 13.5h3.24M18 14.5h9.24M33 14.5h2.24M18 15.5h9.24M33 15.5h2.24M18 16.5h8.24M33 16.5h2.24M18 17.5h4.24M23 17.5h2.24M30 17.5h4.24"/><path stroke="#f2832a" d="M8 0.5h5.24M5 1.5h1.24M8 1.5h4.24M8 2.5h2.24M11 2.5h1.24M8 3.5h4.24M14 3.5h1.24M17 3.5h1.24M4 4.5h1.24M8 4.5h4.24M14 4.5h1.24M17 4.5h1.24M4 5.5h1.24M9 5.5h1.24M11 5.5h1.24M17 5.5h1.24M0 6.5h6.24M10 6.5h1.24M12 6.5h1.24M14 6.5h1.24M16 6.5h2.24M1 7.5h3.24M7 7.5h1.24M10 7.5h2.24M13 7.5h1.24M15 7.5h3.24M2 8.5h1.24M10 8.5h3.24M14 8.5h1.24M16 8.5h2.24M1 9.5h1.24M4 9.5h3.24M16 9.5h2.24M1 10.5h3.24M5 10.5h1.24M8 10.5h1.24M16 10.5h2.24M1 11.5h2.24M4 11.5h1.24M6 11.5h1.24M9 11.5h1.24M11 11.5h2.24M16 11.5h2.24M6 12.5h1.24M9 12.5h4.24M6 13.5h1.24M8 13.5h5.24M14 13.5h1.24M8 14.5h4.24M13 14.5h1.24M9 15.5h2.24M16 15.5h1.24M1 16.5h1.24M3 16.5h1.24M6 16.5h1.24M8 16.5h3.24M16 16.5h1.24M0 17.5h4.24M6 17.5h2.24M10 17.5h1.24"/><path stroke="#4cad3a" d="M1 18.5h1.24M3 18.5h3.24M0 19.5h1.24M2 19.5h3.24M0 20.5h2.24M3 20.5h1.24M0 21.5h3.24M1 22.5h2.24M1 23.5h2.24M5 23.5h1.24M1 24.5h4.24M6 24.5h3.24M0 25.5h4.24M6 25.5h1.24M8 25.5h1.24M2 26.5h7.24M1 27.5h3.24M5 27.5h4.24M1 28.5h2.24M8 28.5h1.24M10 28.5h1.24M5 29.5h1.24M7 29.5h2.24M11 29.5h1.24M0 30.5h1.24M4 30.5h5.24M10 30.5h3.24M16 30.5h1.24M0 31.5h2.24M4 31.5h1.24M7 31.5h2.24M11 31.5h1.24M0 32.5h3.24M6 32.5h3.24M10 32.5h2.24M1 33.5h7.24M10 33.5h2.24M13 33.5h1.24M15 33.5h1.24M0 34.5h1.24M2 34.5h6.24M10 34.5h1.24M12 34.5h1.24M14 34.5h1.24M4 35.5h1.24M7 35.5h1.24M9 35.5h2.24M17 35.5h1.24"/><path stroke="#da3232" d="M0 0.5h1.24M2 0.5h2.24M7 0.5h1.24M14 0.5h1.24M16 0.5h1.24M2 1.5h2.24M12 1.5h1.24M14 1.5h1.24M0 2.5h1.24M2 2.5h2.24M7 2.5h1.24M10 2.5h1.24M12 2.5h1.24M16 2.5h1.24M0 3.5h3.24M12 3.5h1.24M15 3.5h1.24M0 4.5h4.24M12 4.5h1.24M16 4.5h1.24M0 5.5h4.24M6 6.5h1.24M0 7.5h1.24M1 8.5h1.24M13 9.5h1.24M15 9.5h1.24M0 11.5h1.24M15 11.5h1.24M29 11.5h1.24M3 12.5h3.24M7 12.5h1.24M16 12.5h1.24M3 13.5h3.24M7 13.5h1.24M13 13.5h1.24M15 13.5h2.24M2 14.5h1.24M4 14.5h2.24M14 14.5h3.24M15 15.5h1.24M5 16.5h1.24M14 16.5h1.24M4 17.5h2.24M13 17.5h1.24M12 18.5h4.24M6 19.5h1.24M9 19.5h1.24M11 19.5h4.24M6 20.5h2.24M10 20.5h8.24M10 21.5h3.24M15 21.5h3.24M10 22.5h1.24M16 22.5h2.24M7 23.5h1.24M19 24.5h1.24M32 24.5h1.24M35 24.5h1.24M15 25.5h2.24M18 25.5h1.24M31 25.5h2.24M13 26.5h1.24M15 26.5h2.24M22 26.5h1.24M32 26.5h1.24M12 27.5h1.24M16 27.5h2.24M12 28.5h2.24M16 28.5h3.24M35 28.5h1.24M12 29.5h1.24M16 29.5h2.24M30 29.5h1.24M35 29.5h1.24M20 30.5h1.24M30 30.5h1.24M21 31.5h1.24M23 31.5h1.24M30 31.5h2.24M18 32.5h5.24M30 32.5h2.24M18 33.5h5.24M35 33.5h1.24M18 34.5h1.24M20 34.5h2.24M19 35.5h2.24M22 35.5h1.24M35 35.5h1.24"/></g></g><rect x="443.20" y="101.80" width="56.20" height="68.80" fill="url(#gp2)" opacity="0.4"/>
<text x="534.2" y="94.9" font-size="9.28" textLength="55.36" lengthAdjust="spacingAndGlyphs" text-anchor="middle" fill="#222" stroke="#222" stroke-width="0.1">SpaMultiVAE</text>
<rect x="503.90" y="99.40" width="60.60" height="73.60" fill="#fff" stroke="#6e6e6e" stroke-width="1.3"/>
<g transform="translate(506.10 101.80) scale(1.5611 1.9111)"><rect width="36" height="36" fill="#9664c8"/><g transform="translate(-0.12 0)" fill="none" stroke-width="1.29"><path stroke="#3e82bc" d="M18 0.5h1.24M20 0.5h1.24M27 0.5h1.24M30 0.5h2.24M34 0.5h1.24M20 1.5h1.24M23 1.5h2.24M26 1.5h1.24M30 1.5h2.24M33 1.5h2.24M24 2.5h1.24M27 2.5h1.24M31 2.5h1.24M23 3.5h1.24M25 3.5h1.24M27 3.5h2.24M31 3.5h1.24M33 3.5h2.24M24 4.5h1.24M28 4.5h1.24M32 4.5h1.24M34 4.5h2.24M21 5.5h1.24M23 5.5h1.24M31 5.5h4.24M18 6.5h4.24M26 6.5h1.24M30 6.5h4.24M18 7.5h3.24M25 7.5h2.24M28 7.5h3.24M32 7.5h2.24M18 8.5h2.24M21 8.5h1.24M32 8.5h2.24M18 9.5h1.24M22 9.5h1.24M33 9.5h1.24M35 9.5h1.24M18 10.5h1.24M22 10.5h5.24M32 10.5h4.24M21 11.5h1.24M25 11.5h1.24M33 11.5h3.24M18 12.5h1.24M25 12.5h1.24M29 12.5h2.24M33 12.5h2.24M18 13.5h2.24M25 13.5h1.24M27 13.5h1.24M29 13.5h3.24M34 13.5h1.24M18 14.5h1.24M22 14.5h1.24M26 14.5h1.24M29 14.5h2.24M33 14.5h2.24M22 15.5h1.24M29 15.5h1.24M33 15.5h2.24M21 16.5h2.24M32 16.5h3.24M19 17.5h2.24M25 17.5h2.24M32 17.5h3.24"/><path stroke="#f2832a" d="M5 0.5h4.24M11 0.5h3.24M6 1.5h3.24M11 1.5h1.24M6 2.5h3.24M6 3.5h3.24M10 3.5h2.24M17 3.5h1.24M2 4.5h1.24M5 4.5h7.24M6 5.5h1.24M8 5.5h5.24M2 6.5h1.24M7 6.5h5.24M13 6.5h3.24M1 7.5h1.24M3 7.5h5.24M12 7.5h3.24M0 8.5h1.24M2 8.5h7.24M12 8.5h3.24M0 9.5h2.24M3 9.5h3.24M7 9.5h1.24M9 9.5h1.24M12 9.5h6.24M0 10.5h1.24M4 10.5h1.24M6 10.5h1.24M8 10.5h2.24M12 10.5h3.24M16 10.5h1.24M1 11.5h1.24M3 11.5h1.24M5 11.5h1.24M7 11.5h3.24M12 11.5h2.24M15 11.5h1.24M17 11.5h1.24M3 12.5h1.24M6 12.5h4.24M16 12.5h1.24M3 13.5h1.24M5 13.5h2.24M10 14.5h1.24M5 15.5h3.24M9 15.5h1.24M11 15.5h1.24M1 16.5h2.24M6 16.5h3.24M10 16.5h2.24M2 17.5h1.24M6 17.5h4.24M11 17.5h2.24"/><path stroke="#4cad3a" d="M0 18.5h3.24M4 18.5h1.24M0 19.5h1.24M1 20.5h1.24M4 20.5h1.24M0 21.5h1.24M3 21.5h3.24M1 22.5h5.24M1 23.5h4.24M2 24.5h2.24M5 24.5h1.24M11 24.5h1.24M4 25.5h1.24M6 25.5h3.24M10 25.5h2.24M5 26.5h7.24M7 27.5h2.24M11 27.5h1.24M1 28.5h1.24M3 28.5h1.24M7 28.5h5.24M0 29.5h1.24M2 29.5h3.24M8 29.5h4.24M1 30.5h5.24M8 30.5h4.24M13 30.5h1.24M15 30.5h3.24M2 31.5h2.24M10 31.5h1.24M16 31.5h1.24M0 32.5h1.24M3 32.5h1.24M6 32.5h1.24M11 32.5h1.24M17 32.5h1.24M5 33.5h2.24M8 33.5h1.24M13 33.5h2.24M3 34.5h1.24M5 34.5h1.24M8 34.5h1.24M13 34.5h4.24M3 35.5h2.24M6 35.5h1.24M8 35.5h1.24M12 35.5h1.24M14 35.5h4.24"/><path stroke="#da3232" d="M1 0.5h1.24M16 0.5h1.24M0 1.5h1.24M0 2.5h2.24M0 3.5h2.24M4 3.5h1.24M12 3.5h3.24M0 4.5h1.24M4 4.5h1.24M13 4.5h1.24M0 5.5h2.24M4 5.5h1.24M13 5.5h2.24M0 6.5h1.24M5 6.5h2.24M25 6.5h1.24M24 7.5h1.24M17 8.5h1.24M24 8.5h4.24M29 8.5h1.24M6 9.5h1.24M24 9.5h6.24M27 10.5h3.24M6 11.5h1.24M28 11.5h2.24M4 12.5h1.24M12 12.5h2.24M17 12.5h1.24M8 13.5h1.24M12 13.5h2.24M0 14.5h1.24M2 14.5h1.24M4 14.5h1.24M12 14.5h1.24M3 15.5h1.24M12 15.5h1.24M14 15.5h1.24M12 16.5h1.24M15 16.5h1.24M0 17.5h1.24M5 17.5h1.24M8 18.5h4.24M15 18.5h1.24M7 19.5h3.24M12 19.5h1.24M14 19.5h2.24M7 20.5h9.24M7 21.5h3.24M14 21.5h2.24M6 22.5h1.24M8 22.5h1.24M13 22.5h3.24M13 24.5h1.24M17 24.5h1.24M32 24.5h2.24M16 25.5h1.24M35 25.5h1.24M14 26.5h3.24M20 26.5h1.24M35 26.5h1.24M14 27.5h3.24M34 27.5h2.24M33 28.5h3.24M14 29.5h5.24M30 29.5h1.24M34 29.5h2.24M18 30.5h1.24M18 31.5h1.24M22 32.5h2.24M18 33.5h1.24M20 33.5h1.24M22 33.5h2.24M30 33.5h1.24M35 33.5h1.24M19 34.5h5.24M30 34.5h1.24M35 34.5h1.24M18 35.5h1.24M22 35.5h2.24M30 35.5h1.24M34 35.5h1.24"/></g></g><rect x="506.10" y="101.80" width="56.20" height="68.80" fill="url(#gp2)" opacity="0.4"/>
<text x="597.2" y="94.9" font-size="9.28" textLength="30.51" lengthAdjust="spacingAndGlyphs" text-anchor="middle" fill="#222" stroke="#222" stroke-width="0.1">SMART</text>
<rect x="566.90" y="99.40" width="60.60" height="73.60" fill="#fff" stroke="#6e6e6e" stroke-width="1.3"/>
<g transform="translate(569.10 101.80) scale(1.5611 1.9111)"><rect width="36" height="36" fill="#9664c8"/><g transform="translate(-0.12 0)" fill="none" stroke-width="1.29"><path stroke="#3e82bc" d="M18 0.5h18.24M18 1.5h18.24M18 2.5h18.24M18 3.5h18.24M18 4.5h18.24M18 5.5h18.24M18 6.5h6.24M30 6.5h6.24M18 7.5h6.24M30 7.5h6.24M18 8.5h6.24M30 8.5h6.24M18 9.5h6.24M30 9.5h6.24M18 10.5h6.24M30 10.5h6.24M18 11.5h6.24M30 11.5h6.24M18 12.5h18.24M18 13.5h18.24M18 14.5h18.24M18 15.5h18.24M18 16.5h18.24M18 17.5h18.24"/><path stroke="#f2832a" d="M6 0.5h6.24M6 1.5h6.24M6 2.5h6.24M6 3.5h6.24M6 4.5h6.24M6 5.5h6.24M0 6.5h18.24M0 7.5h18.24M0 8.5h18.24M0 9.5h18.24M0 10.5h18.24M0 11.5h18.24M6 12.5h6.24M6 13.5h6.24M6 14.5h6.24M6 15.5h6.24M6 16.5h6.24M6 17.5h6.24"/><path stroke="#4cad3a" d="M0 18.5h6.24M0 19.5h6.24M0 20.5h6.24M0 21.5h6.24M0 22.5h6.24M0 23.5h6.24M0 24.5h12.24M0 25.5h12.24M0 26.5h12.24M0 27.5h12.24M0 28.5h12.24M0 29.5h12.24M0 30.5h18.24M0 31.5h18.24M0 32.5h18.24M0 33.5h18.24M0 34.5h18.24M0 35.5h18.24"/><path stroke="#da3232" d="M18 18.5h18.24M18 19.5h18.24M18 20.5h18.24M18 21.5h18.24M18 22.5h18.24M18 23.5h18.24M24 24.5h6.24M24 25.5h6.24M24 26.5h6.24M24 27.5h6.24M24 28.5h6.24M24 29.5h6.24M24 30.5h6.24M24 31.5h6.24M24 32.5h6.24M24 33.5h6.24M24 34.5h6.24M24 35.5h6.24"/></g></g><rect x="569.10" y="101.80" width="56.20" height="68.80" fill="url(#gp2)" opacity="0.4"/>
<text x="649.8" y="123.3" font-size="7.53" textLength="28.90" lengthAdjust="spacingAndGlyphs" text-anchor="middle" fill="#222" stroke="#222" stroke-width="0.1">Clusters</text>
<circle cx="645.50" cy="130.60" r="2.70" fill="#3e82bc"/>
<text x="656.6" y="133.0" font-size="7.10" textLength="4.26" lengthAdjust="spacingAndGlyphs" fill="#222" stroke="#222" stroke-width="0.1">1</text>
<circle cx="645.50" cy="139.80" r="2.70" fill="#f2832a"/>
<text x="656.6" y="142.2" font-size="7.10" textLength="4.26" lengthAdjust="spacingAndGlyphs" fill="#222" stroke="#222" stroke-width="0.1">2</text>
<circle cx="645.50" cy="149.00" r="2.70" fill="#4cad3a"/>
<text x="656.6" y="151.4" font-size="7.10" textLength="4.26" lengthAdjust="spacingAndGlyphs" fill="#222" stroke="#222" stroke-width="0.1">3</text>
<circle cx="645.50" cy="158.20" r="2.70" fill="#da3232"/>
<text x="656.6" y="160.6" font-size="7.10" textLength="4.26" lengthAdjust="spacingAndGlyphs" fill="#222" stroke="#222" stroke-width="0.1">4</text>
<circle cx="645.50" cy="167.40" r="2.70" fill="#9664c8"/>
<text x="656.6" y="169.8" font-size="7.10" textLength="4.26" lengthAdjust="spacingAndGlyphs" fill="#222" stroke="#222" stroke-width="0.1">5</text>
<text x="164.0" y="208.6" font-size="16.00" font-weight="bold" fill="#000">d</text>
<text x="218.9" y="204.6" font-size="7.84" textLength="15.74" lengthAdjust="spacingAndGlyphs" text-anchor="middle" fill="#222" stroke="#222" stroke-width="0.1">RNA</text>
<rect x="188.20" y="208.20" width="61.40" height="62.20" fill="#fff" stroke="#444" stroke-width="1.0"/>
<g clip-path="url(#cdRNA)">
<circle cx="222.61" cy="212.94" r="2.28" fill="#9664c8" opacity="0.95"/>
<circle cx="209.31" cy="217.75" r="0.91" fill="#f2832a" opacity="0.95"/>
<circle cx="210.28" cy="223.63" r="1.52" fill="#f2832a" opacity="0.95"/>
<circle cx="229.81" cy="221.60" r="0.65" fill="#da3232"/>
<circle cx="230.51" cy="222.20" r="0.65" fill="#3e82bc"/>
<circle cx="231.21" cy="221.60" r="0.65" fill="#f2832a"/>
<circle cx="216.83" cy="228.16" r="1.26" fill="#9664c8" opacity="0.95"/>
<circle cx="199.27" cy="229.78" r="0.65" fill="#da3232"/>
<circle cx="199.97" cy="230.38" r="0.65" fill="#3e82bc"/>
<circle cx="200.67" cy="229.78" r="0.65" fill="#f2832a"/>
<circle cx="211.24" cy="233.75" r="1.26" fill="#9664c8" opacity="0.95"/>
<circle cx="226.46" cy="234.71" r="2.02" fill="#3e82bc" opacity="0.95"/>
<circle cx="232.63" cy="232.69" r="0.91" fill="#4cad3a" opacity="0.95"/>
<circle cx="238.31" cy="231.43" r="0.76" fill="#da3232" opacity="0.95"/>
<circle cx="243.51" cy="233.94" r="0.76" fill="#f2832a" opacity="0.95"/>
<circle cx="191.49" cy="237.41" r="0.60" fill="#da3232" opacity="0.95"/>
<circle cx="194.96" cy="244.73" r="1.01" fill="#4cad3a" opacity="0.95"/>
<circle cx="221.65" cy="243.86" r="1.42" fill="#da3232" opacity="0.95"/>
<circle cx="232.92" cy="246.46" r="0.91" fill="#da3232" opacity="0.95"/>
<circle cx="242.07" cy="249.16" r="0.76" fill="#f2832a" opacity="0.95"/>
<circle cx="200.45" cy="250.32" r="0.61" fill="#da3232" opacity="0.95"/>
<circle cx="208.13" cy="248.09" r="0.65" fill="#da3232"/>
<circle cx="208.83" cy="248.69" r="0.65" fill="#3e82bc"/>
<circle cx="209.53" cy="248.09" r="0.65" fill="#f2832a"/>
<circle cx="217.60" cy="250.51" r="1.01" fill="#3e82bc" opacity="0.95"/>
<circle cx="223.57" cy="250.51" r="0.91" fill="#3e82bc" opacity="0.95"/>
<circle cx="227.91" cy="258.99" r="0.91" fill="#3e82bc" opacity="0.95"/>
<circle cx="245.25" cy="259.66" r="1.62" fill="#4cad3a" opacity="0.95"/>
<circle cx="217.02" cy="260.24" r="1.26" fill="#9664c8" opacity="0.95"/>
<circle cx="213.26" cy="266.89" r="1.01" fill="#4cad3a" opacity="0.95"/>
</g>
<text x="283.0" y="204.6" font-size="7.84" textLength="15.28" lengthAdjust="spacingAndGlyphs" text-anchor="middle" fill="#222" stroke="#222" stroke-width="0.1">ADT</text>
<rect x="252.30" y="208.20" width="61.40" height="62.20" fill="#fff" stroke="#444" stroke-width="1.0"/>
<g clip-path="url(#cdADT)">
<circle cx="288.54" cy="211.59" r="1.01" fill="#4cad3a" opacity="0.95"/>
<circle cx="275.82" cy="218.72" r="1.01" fill="#9664c8" opacity="0.95"/>
<circle cx="262.52" cy="220.45" r="0.76" fill="#da3232" opacity="0.95"/>
<circle cx="288.73" cy="225.08" r="1.77" fill="#9664c8" opacity="0.95"/>
<circle cx="262.81" cy="227.19" r="0.61" fill="#da3232" opacity="0.95"/>
<circle cx="267.92" cy="229.41" r="0.60" fill="#f2832a" opacity="0.95"/>
<circle cx="273.12" cy="228.45" r="1.42" fill="#4cad3a" opacity="0.95"/>
<circle cx="279.09" cy="227.68" r="1.26" fill="#da3232" opacity="0.95"/>
<circle cx="301.06" cy="229.12" r="0.91" fill="#f2832a" opacity="0.95"/>
<circle cx="258.38" cy="232.01" r="0.76" fill="#da3232" opacity="0.95"/>
<circle cx="262.33" cy="233.46" r="0.61" fill="#4cad3a" opacity="0.95"/>
<circle cx="259.44" cy="235.38" r="0.60" fill="#4cad3a" opacity="0.95"/>
<circle cx="283.53" cy="232.20" r="0.60" fill="#3e82bc" opacity="0.95"/>
<circle cx="286.90" cy="231.24" r="0.61" fill="#f2832a" opacity="0.95"/>
<circle cx="292.39" cy="232.49" r="0.76" fill="#9664c8" opacity="0.95"/>
<circle cx="277.26" cy="234.23" r="1.26" fill="#9664c8" opacity="0.95"/>
<circle cx="268.59" cy="236.83" r="0.91" fill="#4cad3a" opacity="0.95"/>
<circle cx="304.24" cy="235.67" r="0.91" fill="#f2832a" opacity="0.95"/>
<circle cx="310.69" cy="233.36" r="0.76" fill="#f2832a" opacity="0.95"/>
<circle cx="291.43" cy="237.79" r="0.91" fill="#3e82bc" opacity="0.95"/>
<circle cx="282.76" cy="239.91" r="1.26" fill="#9664c8" opacity="0.95"/>
<circle cx="255.97" cy="242.13" r="1.01" fill="#9664c8" opacity="0.95"/>
<circle cx="264.45" cy="242.42" r="0.91" fill="#3e82bc" opacity="0.95"/>
<circle cx="272.16" cy="241.16" r="1.42" fill="#f2832a" opacity="0.95"/>
<circle cx="290.46" cy="245.02" r="1.62" fill="#3e82bc" opacity="0.95"/>
<circle cx="301.06" cy="243.57" r="0.91" fill="#4cad3a" opacity="0.95"/>
<circle cx="276.20" cy="245.98" r="0.61" fill="#f2832a" opacity="0.95"/>
<circle cx="269.27" cy="247.43" r="0.61" fill="#4cad3a" opacity="0.95"/>
<circle cx="263.68" cy="251.09" r="0.61" fill="#3e82bc" opacity="0.95"/>
<circle cx="270.01" cy="250.31" r="0.65" fill="#da3232"/>
<circle cx="270.71" cy="250.91" r="0.65" fill="#3e82bc"/>
<circle cx="271.41" cy="250.31" r="0.65" fill="#f2832a"/>
<circle cx="274.28" cy="251.47" r="0.61" fill="#da3232" opacity="0.95"/>
<circle cx="281.98" cy="249.55" r="1.11" fill="#3e82bc" opacity="0.95"/>
<circle cx="297.88" cy="251.47" r="0.61" fill="#da3232" opacity="0.95"/>
<circle cx="275.53" cy="256.87" r="0.76" fill="#9664c8" opacity="0.95"/>
<circle cx="284.49" cy="256.58" r="1.01" fill="#da3232" opacity="0.95"/>
<circle cx="278.90" cy="267.37" r="0.60" fill="#3e82bc" opacity="0.95"/>
</g>
<text x="347.2" y="204.6" font-size="7.84" textLength="14.49" lengthAdjust="spacingAndGlyphs" text-anchor="middle" fill="#222" stroke="#222" stroke-width="0.1">SNF</text>
<rect x="316.50" y="208.20" width="61.40" height="62.20" fill="#fff" stroke="#444" stroke-width="1.0"/>
<g clip-path="url(#cdSNF)">
<path d="M351.5 212.2h0m-3.5 8.1h0m-.1-2.9h0m5.7 .1h0m-2.8-.9h0m-1.1 4.3h0m4.2-4.9h0m-.9-3.6h0m-8.4 4.3h0m10.1 1.5h0m-6.3 2.3h0m7.0-2.0h0m-2.2-5.1h0m-1.3 1.7h0m4.0 2.1h0m-.7-.6h0m-10.8 1.5h0m3.3 .6h0m-1.2 2.2h0m1.8-6.2h0m2.3-1.5h0m-2.9 5.7h0m-5.0-2.5h0m6.9 4.0h0m.4-4.1h0m.4-1.0h0m2.9 .3h0m.1-.3h0m-3.9 5.2h0m-3.2-8.0h0m-3.0 5.1h0m3.7-2.9h0m1.3 .3h0m-3.2 4.6h0m6.3 1.4h0m-.9-7.6h0m-2.4 .0h0m6.3 1.7h0m-6.4-3.7h0m4.9 9.1h0m-.2-7.6h0m-7.9 2.6h0m9.2 .2h0m-8.2 2.6h0m3.2-1.6h0m5.4-1.8h0m-8.5 6.2h0m6.0 .4h0m.9-.9h0m.5-2.5h0m-1.0-5.8h0m-5.8 4.0h0m-1.0 .4h0m7.9 2.3h0m-5.4 2.4h0m5.7-3.6h0m-4.4-.9h0m3.7-1.7h0m-10.6 2.0h0m4.3-3.7h0m-1.0 7.3h0m-1.7-1.4h0m4.7-6.9h0m-1.4 .6h0m7.9 3.7h0m-5.2 .6h0m.1 1.5h0m-.6-1.2h0m3.9-3.8h0m-7.1 5.0h0m.9-5.4h0m7.9 1.4h0m-7.1-1.4h0m3.1 .3h0m.5 1.0h0m-3.2-1.9h0m-1.4 7.2h0m7.0-2.3h0m-6.3-1.4h0m4.0-3.0h0m-3.5 2.9h0m-3.2-1.8h0m-1.9 1.4h0m.6 .9h0m5.5 4.0h0m-2.6-7.7h0m5.7 3.4h0m2.9-1.2h0m-9.7 2.3h0m7.2-.2h0m-3.5-.1h0m3.4 3.5h0m-3.4 .2h0m.6-3.1h0m-6.6-1.3h0m.8 1.1h0m1.4-.9h0m5.8 4.7h0m-2.1-.4h0m-1.4-2.4h0m3.5-2.7h0m-.1 3.5h0m-1.9-2.9h0m-2.9 1.2h0m8.4-1.7h0m-5.2 5.5h0m4.6-7.0h0m-3.5 .7h0m-.5-2.0h0m-3.8 1.2h0m6.9 4.4h0m-1.2-6.4h0m-6.7 6.5h0m-1.1 1.3h0m-.9-1.3h0m3.0 .1h0m2.6-1.2h0m3.5-.3h0m-8.2 .4h0m5.6-.7h0m4.0 3.1h0m-.4-4.8h0m-6.3 2.0h0m8.5-.4h0m-4.7-1.2h0m-2.2 5.0h0m.5-.7h0m6.5-5.3h0m-8.4 1.4h0m-.7 1.5h0m1.1-5.7h0m-.1 6.4h0m-2.0 .3h0m5.0-6.6h0m-5.3 5.4h0m2.6-.1h0m-5.8-1.1h0m2.8-2.3h0m6.1-1.4h0m-3.3 6.3h0m-5.3-2.5h0m11.3 4.0h0m-10.8-3.2h0m9.9-3.3h0m-6.2 2.3h0m.6 2.4h0m-3.3 .7h0m11.6-2.5h0m.6-1.9h0m-5.0 5.6h0m.2-.1h0m2.2-3.3h0m-3.3 .5h0m.6-3.1h0m.0-.4h0m-1.1 2.4h0m1.1-.6h0m4.9 1.0h0m-5.5 4.6h0m-4.2-6.5h0m6.4 1.0h0m-7.2-1.0h0m2.9 5.3h0m7.2-4.1h0m-1.3 2.3h0m-8.1-6.2h0m.4 1.0h0m1.6 5.7h0m6.0-1.0h0m-2.5 2.1h0m.7-5.3h0m-2.7 5.7h0m5.8-4.2h0m-4.0-4.7h0m-5.6 3.3h0m8.3 3.6h0m-10.7-2.7h0m5.5-3.2h0m.9 5.2h0m-2.6 3.6h0m5.4-3.8h0m-7.0-2.3h0m3.4 2.1h0m2.4 1.2h0m4.2-3.3h0m-12.7 2.9h0m5.4-.7h0m-2.8 1.5h0m3.6-7.1h0m-6.5 5.5h0m9.8-2.4h0m1.7 5.0h0m-6.5-5.7h0m8.1 .9h0m-5.9 1.9h0m-4.9-1.8h0m-1.5-.5h0m6.3 5.4h0m-5.4-5.9h0m7.7 6.9h0m-4.2-3.3h0m-2.4-.6h0m3.2-3.0h0m7.3 2.3h0m-.7 2.5h0m-9.8-2.5h0m5.0 3.2h0m2.2-7.2h0" stroke="#9664c8" stroke-width="0.65" stroke-linecap="round" fill="none" opacity="0.8"/>
<path d="M343.8 229.5h0m.8 .6h0m.5-4.6h0m-5.2 4.3h0m.3 .2h0m4.8-.4h0m-2.5-2.0h0m2.0 .2h0m-4.2-.8h0m1.5 4.2h0m1.2-2.7h0m1.4 1.5h0m-1.7-3.6h0m-1.1 3.5h0m-.5-2.1h0m3.7 3.3h0m-1.3-6.0h0m-3.5 2.4h0m5.1 2.1h0m.7-1.6h0m-6.1 .8h0m5.0-2.3h0m-1.7 1.9h0m-2.2-3.0h0m-1.3 2.1h0m2.6 .5h0m3.4 1.6h0m-.1-2.3h0m-1.6 1.1h0m-1.4-1.2h0m2.5 3.6h0m-1.4 .4h0m-.4-5.5h0m-1.5 2.6h0m-.9 2.3h0m-1.1-1.6h0m.3 1.1h0m6.1-.5h0m-1.7 .1h0m-3.4-.3h0m.4-.4h0m-1.2-2.1h0m2.3-.4h0m-2.4 3.0h0m4.1 .7h0m-3.4 .4h0m4.1-3.2h0m-1.2 2.5h0m-3.1-1.9h0m.0 1.7h0m5.6-1.1h0m-6.8 .3h0m1.2 .0h0m3.2-2.4h0m1.3 2.9h0m-4.4-1.1h0m4.1 1.1h0m.3 1.3h0m-5.0-1.2h0m1.7-3.5h0m.7 2.2h0m-1.9 .9h0m2.5-.9h0m-2.7 .6h0m4.3 .7h0m-2.8-3.1h0m1.4-1.3h0m-.4 3.2h0m1.2-2.3h0m-.2-.2h0m2.0 3.6h0m-6.5-2.4h0" stroke="#9664c8" stroke-width="0.65" stroke-linecap="round" fill="none" opacity="0.8"/>
<path d="M352.4 229.9h0m3.3-2.3h0m-5.1 .2h0m2.0-.8h0m.2 3.0h0m-3.2-3.1h0m4.3-1.7h0m-1.3 3.4h0m3.0-.4h0m-2.0-1.0h0m-1.2 3.1h0m2.0-2.2h0m-.7-.4h0m-3.1-1.4h0m2.6 .4h0m-2.6-.2h0m2.7 3.4h0m-3.3-.8h0m4.2 .0h0m-3.3-1.0h0m-1.1 .2h0m2.8-2.8h0m2.1 2.4h0m.2-1.0h0m-3.0 .9h0m-2.1 .0h0m1.7-.2h0m1.9 .4h0m.0 1.2h0m1.4-2.2h0m-.7 .6h0m-.5-1.4h0m-.6-.6h0m1.2-.2h0m-.7 1.6h0m-1.1-.3h0m-.1 1.6h0m-.6-1.4h0m-.9 .1h0m.5 1.5h0m-1.4-2.4h0m2.3-.4h0m-1.4 4.5h0m1.8-1.6h0m-1.2-.3h0m1.4-3.1h0m.3 3.3h0m.6-2.3h0m-3.4 1.0h0m.5 .0h0m.4 2.4h0m1.4-4.2h0m-2.0 2.7h0m1.9 .6h0m.7-.8h0m.1-.7h0" stroke="#9664c8" stroke-width="0.65" stroke-linecap="round" fill="none" opacity="0.8"/>
<path d="M325.6 220.8h0m8.6 4.3h0m-7.0-3.9h0m-2.5 .7h0m8.5 .0h0m-2.4-.9h0m4.5 3.6h0m1.5-2.7h0m-8.4-3.7h0m-2.0 4.9h0m7.1-2.6h0m-2.5 3.8h0m-5.6-3.4h0m.9 .3h0m6.4 1.4h0m-4.5-4.7h0m-2.4 3.5h0m7.2 2.0h0m3.0-2.2h0m-5.6 1.4h0m4.8-3.0h0m-5.4 5.4h0m-.1 1.5h0m-3.3-3.4h0m5.7-.8h0m-1.1-.8h0m-2.3-1.8h0m-2.3 3.1h0m.1 2.6h0m3.1-4.6h0m.1 1.2h0m-2.2 1.8h0m5.8-5.7h0m-2.0-.8h0m4.8 2.0h0m-7.1 5.4h0m.8-2.4h0m1.6 .6h0m-3.9 1.2h0m-2.1-.3h0m11.1-2.3h0m-5.9-3.5h0m-.1 4.4h0m4.3 1.7h0m1.8-3.9h0m-10.5-.3h0m9.9-.5h0m-7.7 6.9h0m7.4-3.1h0m1.4-.8h0m-9.6-1.0h0m.8 2.0h0m.2-3.5h0m4.1-1.3h0m-3.3-.1h0m1.1 2.9h0m5.2 3.0h0m-4.2-6.7h0m-2.1 3.6h0m-.6 2.9h0m-4.2-3.2h0m7.2-2.3h0m2.4 4.8h0m.9 1.6h0m2.0-4.9h0m-2.5 3.2h0m-8.1-1.6h0m10.3-1.0h0m-2.5 1.0h0m3.3-1.0h0m-2.0-2.6h0m-9.4 7.1h0m2.1-4.2h0m1.1-1.9h0m-1.2 3.6h0m-3.0-2.3h0m5.0-3.0h0m-1.0 3.3h0m4.5 1.5h0m2.4-1.1h0m-6.2 1.6h0m-.7-2.3h0m2.4 3.8h0m-5.6-2.1h0m6.9-4.5h0m3.5 6.2h0m-5.6-3.1h0m4.3 1.3h0m-5.7 3.2h0m-.3-4.9h0m2.2 5.5h0m1.1-.5h0m-6.0-.1h0m7.3-1.1h0m-3.0 .9h0m4.7-.9h0m-8.1 .3h0m-.6-5.6h0m7.8 5.2h0m-5.4-2.8h0m7.8 1.8h0m-8.5 1.5h0m1.8-3.1h0m-3.7 1.5h0m-.4-3.2h0m7.9 1.0h0m-6.0-2.6h0m1.2 2.8h0m1.7 1.1h0m-4.1 1.3h0m-1.6-2.0h0m.9 2.5h0m7.7 1.2h0m-.1-7.4h0m3.1 1.8h0m-6.6 6.6h0m2.4-8.7h0m2.4 5.6h0m-1.8 3.0h0m-5.0-4.3h0m2.7 4.5h0m.4-6.5h0m-5.1 1.6h0m6.0-3.0h0m-1.1 7.7h0m3.9-4.8h0m-10.1 .7h0m8.8-2.1h0m-6.1 3.3h0m3.3-4.8h0m-2.7 .4h0m1.5 5.2h0m-4.1-3.0h0m11.4 1.8h0m-12.6 .5h0m9.7-.4h0m-1.4-1.3h0m4.0-1.2h0m-11.0 4.3h0m2.3-2.7h0m5.0 1.6h0m-6.8-2.3h0m6.2-4.0h0m-.9 5.2h0m-2.4-3.6h0m-4.7 2.8h0m11.1-.3h0m-2.1-2.2h0m-4.1 2.9h0m7.8-2.2h0m-6.3 2.7h0m3.0-1.3h0m-2.8 4.9h0m-2.4-6.4h0m3.0 2.7h0m-2.0 3.7h0m3.9-5.9h0m.5-1.9h0m-9.0 4.3h0m4.7-2.4h0" stroke="#3e82bc" stroke-width="0.65" stroke-linecap="round" fill="none" opacity="0.8"/>
<path d="M322.9 230.5h0m.8-.2h0m-.2 2.1h0m-1.4-2.2h0m3.6 2.5h0m-.5-.6h0m-.9 .2h0m-1.2 .6h0m-.4-1.3h0m-.4-1.1h0m.3 3.6h0m.1-1.1h0m-1.0-2.6h0m1.7 3.4h0m-1.3-1.7h0m.9 1.9h0m-.6-3.8h0m.2 .6h0m1.2 3.2h0m-1.8-1.3h0m.1-.1h0m2.6-2.0h0m-3.8 1.0h0m3.3 2.3h0m-2.8-.7h0m2.7 .7h0m.1-1.2h0m-1.8-2.0h0m2.0 .6h0m-1.6 2.6h0m-.9-3.3h0m.6 .8h0m2.2-.6h0m-.5 2.1h0m.3-2.1h0m-1.1 1.9h0" stroke="#3e82bc" stroke-width="0.65" stroke-linecap="round" fill="none" opacity="0.8"/>
<path d="M335.0 231.9h0m1.6 1.3h0m-6.1-.3h0m3.8-.7h0m1.3 .1h0m-.4 .1h0m-.3 .1h0m.0-1.9h0m-4.5 1.0h0m4.3 .2h0m.0 .3h0m-3.3-1.6h0m1.8 3.6h0m3.1-3.7h0m-1.8 1.5h0m1.3-1.6h0m-1.3 .1h0m2.2 .2h0m-2.0 2.5h0m-3.9-.4h0m-.5 .0h0m2.4 .0h0m-.2-2.9h0m1.9 3.1h0m1.6-1.4h0m-2.6 2.2h0m.4-.6h0m.6 .6h0m-.1-2.4h0m-3.1-.4h0m.8 1.7h0m1.5 1.7h0m2.3-1.4h0m.0-.1h0m1.3-.8h0m-4.0 .5h0m3.4 1.1h0m-.1-.2h0m-2.1-3.0h0m.6-.4h0m-3.3 1.7h0m3.5 .3h0m-3.9 1.3h0m.2-2.1h0" stroke="#3e82bc" stroke-width="0.65" stroke-linecap="round" fill="none" opacity="0.8"/>
<path d="M326.5 240.0h0m2.7 .7h0m-4.8-2.7h0m.8 1.1h0m2.1-.1h0m2.4 .2h0m-1.8-.4h0m2.2 .0h0m-4.9-1.7h0m5.0 2.2h0m-2.1 1.1h0m-2.6 .2h0m.6-1.4h0m2.6 .6h0m-.6 1.0h0m-.9-4.3h0m-.1 .0h0m3.4 1.6h0m-3.0 .9h0m-3.1-.9h0m-.1 1.2h0m4.2-1.8h0m-2.5 1.9h0m-.9 .7h0m4.0 .2h0m-.1-1.7h0m-.8 1.1h0m-.3-.8h0m-2.0-1.2h0m4.7 .9h0m-5.1 .2h0m-.1 .3h0m-.6 .8h0m4.5-2.8h0m-3.0 3.0h0m.7-2.0h0m-1.5-1.0h0m1.5 .4h0m1.0 .2h0m-2.0 3.1h0m-1.0-1.5h0m4.0-1.4h0m-1.0-.4h0m1.7 2.6h0" stroke="#3e82bc" stroke-width="0.65" stroke-linecap="round" fill="none" opacity="0.8"/>
<path d="M355.0 237.4h0m-.2-1.7h0m.2 .3h0m1.8 1.4h0m.1-4.9h0m-2.9 2.0h0m1.9-1.6h0m-1.9-.2h0m8.2 1.3h0m-1.1-.6h0m-6.2-.5h0m2.9 4.5h0m3.1-6.6h0m-7.5 6.1h0m.2-1.1h0m3.9-.9h0m2.9 1.4h0m-5.3-4.0h0m-.9 1.5h0m6.5 1.2h0m-4.4-.8h0m-3.0 .1h0m7.9 1.5h0m-3.4-3.0h0m3.9-1.2h0m-7.4 5.8h0m-.1-4.6h0m.3 3.7h0m2.3-6.0h0m1.2 2.8h0m-1.9-1.6h0m-2.7 .4h0m1.5 1.4h0m4.6 2.1h0m-2.5-3.1h0m-2.4 3.4h0m.0-2.5h0m2.8-2.6h0m-2.7 2.7h0m6.1 .8h0m-7.8-1.2h0m.8 1.8h0m1.0 1.5h0m3.3-5.4h0m-1.4 .7h0m.6 2.7h0m-3.3-2.2h0m2.7 3.0h0m1.2-3.9h0m.8 3.3h0m-3.2 1.3h0m-.8 1.1h0m4.3-.2h0m-2.0-5.2h0m-3.0 3.4h0m6.5-.7h0m.5-.9h0m-4.4-.8h0m4.8-.8h0m-6.8 5.3h0m3.9-1.8h0m.7-3.1h0m-5.2 2.5h0m6.7 .0h0m.6-2.1h0m-2.4 4.0h0m-5.8-4.0h0m7.5 2.1h0m-3.0 1.3h0m-5.2-.7h0m1.6 .4h0m1.2-3.1h0m-1.3 1.6h0m.0-1.7h0m4.9 .0h0m-3.6 1.5h0m6.8-2.1h0m-7.7 2.3h0m4.5 2.5h0m-4.5-3.2h0m2.5-1.2h0m5.6-.1h0m-9.9 3.8h0m.5-.4h0m7.8-1.6h0m-.8-.5h0m-5.4-1.1h0m4.8-.8h0m-.6 5.8h0m.2-1.8h0m-3.2-2.8h0m5.6-1.0h0m-6.5 4.7h0m7.5-3.1h0m-5.2 3.4h0m-.8 .6h0" stroke="#f2832a" stroke-width="0.65" stroke-linecap="round" fill="none" opacity="0.8"/>
<path d="M364.8 228.5h0m1.2-.5h0m-2.3 1.2h0m-.7-.1h0m1.8-1.4h0m-.6-.5h0m-1.9 1.7h0m2.9-.4h0m.2-.1h0m-2.2 1.3h0m.7-1.7h0m-1.3 .1h0m1.2 1.6h0m-1.7-1.1h0m2.7-1.3h0m.2 2.4h0" stroke="#f2832a" stroke-width="0.65" stroke-linecap="round" fill="none" opacity="0.8"/>
<path d="M368.8 224.2h0m2.2 .7h0m-1.4-.7h0m-1.2-.8h0m1.0-.1h0m-1.5-.1h0m.3 1.7h0m-1.1-.7h0m2.8-1.5h0m.1 .3h0m-1.1 .8h0m2.0 .6h0m.3-.7h0m-2.7 1.2h0m1.2-2.2h0m-.3-.1h0m-1.8 2.0h0m-.3-.7h0m.8 .2h0m1.0-1.7h0" stroke="#f2832a" stroke-width="0.65" stroke-linecap="round" fill="none" opacity="0.8"/>
<path d="M328.8 246.2h0m-1.7-.2h0m.0 .6h0m.7-.3h0m.7-.2h0m.2 .7h0" stroke="#f2832a" stroke-width="0.65" stroke-linecap="round" fill="none" opacity="0.8"/>
<path d="M345.7 265.5h0m-.8-2.0h0m.6 2.7h0m-1.2-1.5h0m1.3 .7h0m.4-.2h0m-1.3-.6h0m1.6-.6h0m-2.6 1.6h0m2.4-1.5h0m-2.1 .7h0m2.3 .6h0" stroke="#f2832a" stroke-width="0.65" stroke-linecap="round" fill="none" opacity="0.8"/>
<path d="M372.6 233.6h0m-.2 4.6h0m-3.2-2.3h0m2.6 1.3h0m-.8-1.1h0m-1.5-.3h0m4.3 1.0h0m-2.3-1.0h0m-.5 .3h0m-2.6-1.6h0m4.5 .9h0m-3.0 .0h0m3.4-1.2h0m-3.4 1.3h0m-.1 1.5h0m2.0-.6h0m-2.9 1.8h0m1.0-4.1h0m2.5-.6h0m1.0 1.7h0m-1.8-.7h0m-.9 .5h0m-.7-1.5h0m3.5 2.0h0m-4.1 .4h0m-.4 .2h0m2.7-2.6h0m1.1 3.4h0m-2.9-2.0h0m1.6-1.3h0m-2.4 1.2h0m1.7-.5h0m-.9 2.1h0m-.4-3.0h0m-1.1 2.6h0m3.5 .2h0m-.5 2.3h0m.0-.5h0m-3.6-3.2h0m1.8 .0h0m1.8 2.7h0m-1.1-.7h0m-2.7-.4h0m1.2 .1h0" stroke="#4cad3a" stroke-width="0.65" stroke-linecap="round" fill="none" opacity="0.8"/>
<path d="M368.6 246.2h0m-4.2 3.1h0m5.5-4.2h0m-4.5 4.5h0m4.2-2.8h0m-3.8-2.5h0m-.8 4.5h0m-.3-1.8h0m7.9 .8h0m-9.1-1.9h0m6.2 1.5h0m-6.1 .8h0m-.5-2.9h0m1.7 .0h0m1.5 4.6h0m3.2-4.2h0m-2.9 4.0h0m-3.0-.2h0m4.4-1.0h0m-.8-3.6h0m3.0 1.1h0m-4.5 1.6h0m6.6-1.1h0m-8.2 3.1h0m6.6-2.3h0m-1.4 .7h0m2.6 .0h0m-4.3-1.9h0m-1.2 .4h0m.0 .8h0m-.8 3.3h0m-2.8-5.9h0m3.8 5.6h0m-1.8-1.1h0m4.6-3.1h0m-6.1 3.5h0m3.3-4.6h0m1.8 2.7h0m-1.8-1.3h0m-4.6-.4h0m4.3 .8h0m4.1 3.0h0m-6.2-2.0h0m6.8-1.1h0m-7.4-1.7h0m3.6 3.1h0m-3.3-1.3h0m-.5 .7h0m-.6 .3h0m7.6 .7h0m-7.6-3.6h0m4.5 3.2h0m-3.3-3.0h0m4.1 1.6h0m1.8-1.1h0m2.3-.3h0m-6.7 .6h0m1.0-.6h0m-3.7 3.3h0m7.6-1.5h0m2.6 .5h0m-2.7-3.2h0m-1.4 4.6h0m-2.9-4.1h0m-.4 5.5h0m-2.1-3.2h0m6.0 .6h0m-4.0 2.1h0m1.3-2.3h0m.7 1.0h0m-1.8-2.9h0m.2 3.2h0m-2.9-.6h0m4.7-4.4h0m.1 2.3h0m3.4-1.4h0m-6.1-.1h0m1.7 3.9h0m2.2-1.5h0m-1.6 1.7h0m2.9-1.8h0m-2.2-.1h0m-2.3 3.2h0m1.9-1.6h0m2.9-1.4h0m-5.5 2.4h0m3.8-3.6h0m-6.3-.1h0m-.1 .5h0m7.6 .4h0m1.3 1.3h0m-5.4-.1h0m4.9-3.4h0m-6.4-.8h0m.0 .2h0m8.5 2.5h0m-6.3 3.1h0m-3.1-1.9h0m5.6-2.0h0m.3 4.7h0m-5.6-3.3h0m5.1 .0h0m-2.5 2.8h0m.3-6.2h0" stroke="#4cad3a" stroke-width="0.65" stroke-linecap="round" fill="none" opacity="0.8"/>
<path d="M351.9 245.1h0m1.8-1.7h0m.6 .6h0m-3.2 1.9h0m1.0-1.3h0m3.5 2.6h0m-1.9-4.6h0m1.2 3.0h0m.6 .8h0m-4.7 .0h0m4.5-.8h0m-2.6-2.1h0m2.9 1.3h0m-3.0-1.8h0m-1.0 2.6h0m4.0-.6h0m-.2 2.5h0m-2.0-3.1h0m-.9 2.4h0m2.1-.9h0m-1.1-1.8h0m-2.2 2.0h0m1.0-2.9h0m2.4 2.7h0m-.7-.3h0m.4 2.0h0m1.4-1.4h0m-3.9 1.0h0m2.5-3.2h0m-3.0 .0h0m2.8-1.5h0m-.7 3.0h0m-2.1-.3h0m2.0 3.0h0m2.4-3.1h0m-2.5-.7h0m-1.8 2.4h0m4.4 .2h0m-2.1-3.1h0m.7-1.1h0" stroke="#4cad3a" stroke-width="0.65" stroke-linecap="round" fill="none" opacity="0.8"/>
<path d="M355.7 241.8h0m1.6-.8h0m-1.6-.5h0m.6 .7h0m2.0-.5h0m-1.8 .0h0m-.3 2.1h0m-1.0-1.5h0m.5 1.0h0m.0-.1h0m-.5-.8h0m2.0 1.3h0m-2.0-.7h0m1.2-.1h0m.2-.9h0m1.0 .9h0" stroke="#4cad3a" stroke-width="0.65" stroke-linecap="round" fill="none" opacity="0.8"/>
<path d="M345.5 245.0h0m1.4-.6h0m-4.6 .2h0m2.7 .8h0m.0-5.1h0m-4.9 1.5h0m4.0 .1h0m-1.4 2.7h0m3.8 .6h0m-6.2-4.0h0m4.7 .2h0m-4.4 4.0h0m4.2-5.4h0m2.7 5.5h0m-.6-1.9h0m-4.9-2.8h0m2.3 6.5h0m1.0-1.4h0m-6.3-2.3h0m.1-3.0h0m7.7 4.8h0m-6.3 .9h0m1.5 .5h0m-.6-5.2h0m-1.6 .7h0m7.6 2.4h0m-5.4 .5h0m1.7-1.0h0m2.5 2.3h0m-6.8-2.0h0m6.1 1.4h0m-3.4-4.6h0m-1.1 3.2h0m1.6 2.7h0m2.0-3.5h0m3.5 .5h0m-5.1-2.6h0m1.6 2.7h0m2.8-1.7h0m-6.8-2.9h0m-.9 1.9h0m2.2 5.6h0m-1.9-6.4h0m3.4 1.8h0m-.4 4.3h0m-.6 .4h0m-.7-6.5h0m-2.1 2.1h0m3.6-3.4h0m-2.5 1.9h0m4.3-.5h0m-3.1 2.2h0m5.9 .4h0m-2.6 .2h0m-2.2 3.9h0m-2.7-4.6h0m3.0-2.9h0m-2.4 5.6h0m-2.8-.6h0m3.6-1.9h0m4.8 1.0h0m-4.5 1.7h0m-.7-6.0h0m5.3 .8h0m-7.1-.2h0m1.3 3.8h0m5.7-1.7h0m-5.1-2.8h0m5.7 5.8h0m-7.6-1.9h0m6.0 2.1h0m-1.9-4.7h0m.1-1.2h0m-.2 6.5h0m2.8-3.8h0m-4.1 3.3h0m-3.8-2.0h0m2.2 .1h0m2.1-4.4h0m3.3 5.5h0m-7.5-2.9h0m6.9 1.7h0m-.9 .5h0m-3.3 1.9h0m-2.5-4.4h0m-.2 2.4h0m6.1-3.6h0m3.3 3.6h0m-2.6 2.4h0m-6.1-4.9h0m2.7 .2h0m1.2-.8h0m-5.0 3.3h0m4.6-2.0h0m-1.5 4.9h0m.1-7.3h0m2.9 5.9h0m-1.9 .1h0m-3.5-4.0h0m8.4 .2h0m-4.1-2.7h0m-1.9 1.2h0m-1.4 3.3h0m3.0 1.0h0" stroke="#da3232" stroke-width="0.65" stroke-linecap="round" fill="none" opacity="0.8"/>
<path d="M334.7 252.1h0m-2.0-.6h0m.7 .5h0m2.2-1.6h0m-1.9 1.7h0m2.3-1.5h0m-.9 1.3h0m-.7-.7h0m-1.5-.1h0m.1-1.0h0m-.1 1.1h0m1.3-.4h0m-1.1-1.3h0m.8 2.1h0m.3 .4h0m.4-1.5h0m-.3 2.1h0" stroke="#da3232" stroke-width="0.65" stroke-linecap="round" fill="none" opacity="0.8"/>
<path d="M348.4 254.7h0m-3.5-1.5h0m4.3 .5h0m-2.3 2.0h0m.6-3.2h0m-1.3 1.9h0m1.9 1.0h0m-2.2-1.0h0m-1.8-.6h0m.5-.6h0m.0 .1h0m3.3-1.8h0m-2.0 2.3h0m2.5-1.7h0m-2.7 .5h0m-1.7 1.0h0m1.8-.1h0m-1.3 .1h0m3.0-1.4h0m1.3-.3h0m-4.2 .8h0m3.9 1.6h0m-3.4-.7h0m3.1 .7h0m.2-.6h0m-2.2-1.5h0m1.8-.7h0m-2.1-.6h0m2.3 3.6h0m-.2 .5h0m1.0-2.2h0m-.1-.9h0m-4.6 1.0h0m.3-1.1h0m4.5 2.8h0m-4.9-1.4h0m2.6 2.0h0m1.6-2.9h0m-.6 1.5h0m-3.4-1.8h0m3.0-1.3h0m-1.3 .6h0m1.6 1.3h0m-2.8 3.0h0" stroke="#da3232" stroke-width="0.65" stroke-linecap="round" fill="none" opacity="0.8"/>
<path d="M344.2 239.5h.01" stroke="#3e82bc" stroke-width="0.75" stroke-linecap="round" opacity="0.8"/>
<path d="M342.0 237.3h.01" stroke="#f2832a" stroke-width="0.75" stroke-linecap="round" opacity="0.8"/>
<path d="M338.6 236.9h.01" stroke="#4cad3a" stroke-width="0.75" stroke-linecap="round" opacity="0.8"/>
<path d="M341.3 239.3h.01" stroke="#da3232" stroke-width="0.75" stroke-linecap="round" opacity="0.8"/>
<path d="M346.5 239.0h.01" stroke="#9664c8" stroke-width="0.75" stroke-linecap="round" opacity="0.8"/>
<path d="M343.4 236.9h.01" stroke="#3e82bc" stroke-width="0.75" stroke-linecap="round" opacity="0.8"/>
<path d="M346.1 236.5h.01" stroke="#f2832a" stroke-width="0.75" stroke-linecap="round" opacity="0.8"/>
<path d="M343.7 239.4h.01" stroke="#4cad3a" stroke-width="0.75" stroke-linecap="round" opacity="0.8"/>
<path d="M340.3 237.3h.01" stroke="#da3232" stroke-width="0.75" stroke-linecap="round" opacity="0.8"/>
<path d="M339.2 237.5h.01" stroke="#9664c8" stroke-width="0.75" stroke-linecap="round" opacity="0.8"/>
<path d="M343.5 239.4h.01" stroke="#3e82bc" stroke-width="0.75" stroke-linecap="round" opacity="0.8"/>
<path d="M345.6 237.9h.01" stroke="#f2832a" stroke-width="0.75" stroke-linecap="round" opacity="0.8"/>
<path d="M342.8 237.5h.01" stroke="#4cad3a" stroke-width="0.75" stroke-linecap="round" opacity="0.8"/>
<path d="M344.2 239.0h.01" stroke="#da3232" stroke-width="0.75" stroke-linecap="round" opacity="0.8"/>
<path d="M341.6 237.7h.01" stroke="#9664c8" stroke-width="0.75" stroke-linecap="round" opacity="0.8"/>
<path d="M346.8 236.7h.01" stroke="#3e82bc" stroke-width="0.75" stroke-linecap="round" opacity="0.8"/>
<path d="M344.5 236.3h.01" stroke="#f2832a" stroke-width="0.75" stroke-linecap="round" opacity="0.8"/>
<path d="M345.1 238.5h.01" stroke="#4cad3a" stroke-width="0.75" stroke-linecap="round" opacity="0.8"/>
<path d="M346.0 237.7h.01" stroke="#da3232" stroke-width="0.75" stroke-linecap="round" opacity="0.8"/>
<path d="M345.4 237.3h.01" stroke="#9664c8" stroke-width="0.75" stroke-linecap="round" opacity="0.8"/>
<path d="M344.0 236.3h.01" stroke="#3e82bc" stroke-width="0.75" stroke-linecap="round" opacity="0.8"/>
<path d="M341.4 238.6h.01" stroke="#f2832a" stroke-width="0.75" stroke-linecap="round" opacity="0.8"/>
<path d="M340.9 237.8h.01" stroke="#4cad3a" stroke-width="0.75" stroke-linecap="round" opacity="0.8"/>
<path d="M344.2 237.4h.01" stroke="#da3232" stroke-width="0.75" stroke-linecap="round" opacity="0.8"/>
<path d="M342.8 238.8h.01" stroke="#9664c8" stroke-width="0.75" stroke-linecap="round" opacity="0.8"/>
<path d="M343.5 237.5h.01" stroke="#3e82bc" stroke-width="0.75" stroke-linecap="round" opacity="0.8"/>
<path d="M343.1 238.7h.01" stroke="#f2832a" stroke-width="0.75" stroke-linecap="round" opacity="0.8"/>
<path d="M338.7 237.8h.01" stroke="#4cad3a" stroke-width="0.75" stroke-linecap="round" opacity="0.8"/>
<path d="M344.3 236.9h.01" stroke="#da3232" stroke-width="0.75" stroke-linecap="round" opacity="0.8"/>
<path d="M343.3 237.6h.01" stroke="#9664c8" stroke-width="0.75" stroke-linecap="round" opacity="0.8"/>
<path d="M342.4 236.2h.01" stroke="#3e82bc" stroke-width="0.75" stroke-linecap="round" opacity="0.8"/>
<path d="M340.6 237.8h.01" stroke="#f2832a" stroke-width="0.75" stroke-linecap="round" opacity="0.8"/>
<path d="M346.3 238.4h.01" stroke="#4cad3a" stroke-width="0.75" stroke-linecap="round" opacity="0.8"/>
<path d="M339.1 236.7h.01" stroke="#da3232" stroke-width="0.75" stroke-linecap="round" opacity="0.8"/>
<path d="M341.4 237.8h.01" stroke="#9664c8" stroke-width="0.75" stroke-linecap="round" opacity="0.8"/>
<path d="M347.1 236.9h.01" stroke="#3e82bc" stroke-width="0.75" stroke-linecap="round" opacity="0.8"/>
<path d="M343.6 239.3h.01" stroke="#f2832a" stroke-width="0.75" stroke-linecap="round" opacity="0.8"/>
<path d="M339.8 238.7h.01" stroke="#4cad3a" stroke-width="0.75" stroke-linecap="round" opacity="0.8"/>
<path d="M344.1 236.5h.01" stroke="#da3232" stroke-width="0.75" stroke-linecap="round" opacity="0.8"/>
<path d="M338.9 238.1h.01" stroke="#9664c8" stroke-width="0.75" stroke-linecap="round" opacity="0.8"/>
<path d="M343.3 235.9h.01" stroke="#3e82bc" stroke-width="0.75" stroke-linecap="round" opacity="0.8"/>
<path d="M345.0 237.2h.01" stroke="#f2832a" stroke-width="0.75" stroke-linecap="round" opacity="0.8"/>
<path d="M343.9 238.0h.01" stroke="#4cad3a" stroke-width="0.75" stroke-linecap="round" opacity="0.8"/>
<path d="M339.0 238.3h.01" stroke="#da3232" stroke-width="0.75" stroke-linecap="round" opacity="0.8"/>
<path d="M346.9 238.2h.01" stroke="#9664c8" stroke-width="0.75" stroke-linecap="round" opacity="0.8"/>
<path d="M341.8 237.8h.01" stroke="#3e82bc" stroke-width="0.75" stroke-linecap="round" opacity="0.8"/>
<path d="M340.6 237.5h.01" stroke="#f2832a" stroke-width="0.75" stroke-linecap="round" opacity="0.8"/>
<path d="M339.6 237.9h.01" stroke="#4cad3a" stroke-width="0.75" stroke-linecap="round" opacity="0.8"/>
<path d="M334.1 242.8h0m-1.7-2.1h0m.9 2.1h0m1.1-1.8h0m-2.2-.1h0m1.9-.4h0m-1.5 .4h0m2.1 1.1h0m-2.2 .8h0m-.5-1.2h0m1.7 .4h0m.8-.6h0" stroke="#9664c8" stroke-width="0.65" stroke-linecap="round" fill="none" opacity="0.8"/>
</g>
<text x="411.6" y="204.6" font-size="7.84" textLength="18.39" lengthAdjust="spacingAndGlyphs" text-anchor="middle" fill="#222" stroke="#222" stroke-width="0.1">WNN</text>
<rect x="380.90" y="208.20" width="61.40" height="62.20" fill="#fff" stroke="#444" stroke-width="1.0"/>
<g clip-path="url(#cdWNN)">
<circle cx="384.30" cy="212.74" r="0.60" fill="#3e82bc" opacity="0.95"/>
<circle cx="408.19" cy="211.97" r="0.76" fill="#4cad3a" opacity="0.95"/>
<circle cx="438.92" cy="213.51" r="1.26" fill="#9664c8" opacity="0.95"/>
<circle cx="417.34" cy="218.24" r="0.76" fill="#da3232" opacity="0.95"/>
<circle cx="424.28" cy="217.56" r="1.26" fill="#4cad3a" opacity="0.95"/>
<circle cx="428.42" cy="216.12" r="0.60" fill="#9664c8" opacity="0.95"/>
<circle cx="401.64" cy="221.41" r="1.11" fill="#3e82bc" opacity="0.95"/>
<circle cx="407.61" cy="221.99" r="0.71" fill="#f2832a" opacity="0.95"/>
<circle cx="419.46" cy="227.39" r="0.76" fill="#9664c8" opacity="0.95"/>
<circle cx="420.91" cy="226.04" r="0.60" fill="#f2832a" opacity="0.95"/>
<circle cx="426.88" cy="228.64" r="0.91" fill="#9664c8" opacity="0.95"/>
<circle cx="419.46" cy="230.66" r="0.60" fill="#da3232" opacity="0.95"/>
<circle cx="400.68" cy="231.82" r="0.76" fill="#4cad3a" opacity="0.95"/>
<circle cx="405.78" cy="231.72" r="0.91" fill="#9664c8" opacity="0.95"/>
<circle cx="432.56" cy="233.94" r="0.76" fill="#f2832a" opacity="0.95"/>
<circle cx="397.50" cy="235.19" r="0.60" fill="#3e82bc" opacity="0.95"/>
<circle cx="403.08" cy="238.27" r="1.01" fill="#3e82bc" opacity="0.95"/>
<circle cx="406.26" cy="239.72" r="0.60" fill="#4cad3a" opacity="0.95"/>
<circle cx="417.54" cy="236.35" r="0.60" fill="#da3232" opacity="0.95"/>
<circle cx="423.70" cy="238.08" r="1.01" fill="#da3232" opacity="0.95"/>
<circle cx="427.65" cy="242.32" r="0.61" fill="#3e82bc" opacity="0.95"/>
<circle cx="433.14" cy="244.54" r="1.21" fill="#f2832a" opacity="0.95"/>
<circle cx="412.91" cy="245.69" r="1.42" fill="#3e82bc" opacity="0.95"/>
<circle cx="426.59" cy="250.80" r="0.60" fill="#3e82bc" opacity="0.95"/>
<circle cx="394.22" cy="254.36" r="0.60" fill="#f2832a" opacity="0.95"/>
<circle cx="405.20" cy="253.50" r="0.60" fill="#4cad3a" opacity="0.95"/>
<circle cx="406.75" cy="255.13" r="0.71" fill="#9664c8" opacity="0.95"/>
<circle cx="405.97" cy="257.35" r="0.60" fill="#da3232" opacity="0.95"/>
<circle cx="428.61" cy="256.10" r="0.60" fill="#f2832a" opacity="0.95"/>
<circle cx="430.35" cy="255.61" r="0.71" fill="#9664c8" opacity="0.95"/>
<circle cx="431.02" cy="256.58" r="0.60" fill="#4cad3a" opacity="0.95"/>
<circle cx="436.80" cy="256.10" r="0.60" fill="#da3232" opacity="0.95"/>
<circle cx="418.79" cy="262.84" r="1.52" fill="#9664c8" opacity="0.95"/>
<circle cx="401.16" cy="264.96" r="0.91" fill="#da3232" opacity="0.95"/>
<circle cx="408.38" cy="264.96" r="0.61" fill="#f2832a" opacity="0.95"/>
<circle cx="438.73" cy="266.89" r="0.61" fill="#4cad3a" opacity="0.95"/>
</g>
<text x="476.1" y="204.6" font-size="7.84" textLength="33.71" lengthAdjust="spacingAndGlyphs" text-anchor="middle" fill="#222" stroke="#222" stroke-width="0.1">PRESENT</text>
<rect x="445.40" y="208.20" width="61.40" height="62.20" fill="#fff" stroke="#444" stroke-width="1.0"/>
<g clip-path="url(#cdPRESENT)">
<path d="M460.1 211.4h0m2.1 2.2h0m1.0-2.9h0m.6 11.7h0m-.7-10.5h0m1.5 .3h0m-.3 8.1h0m-.6-3.5h0m.0 3.3h0m1.3-5.7h0m-2.2 2.9h0m-2.9-1.2h0m4.6 2.7h0m-3.1-6.2h0m-1.6 5.0h0m2.9-1.7h0m-3.8-1.4h0m2.5-2.7h0m.3 2.4h0m-1.3 7.3h0m-.6 .1h0m-.3-6.1h0m4.8 1.3h0m-5.7 2.5h0m6.0-1.2h0m-1.9-4.7h0m-2.9 4.8h0m-1.6 .6h0m.8 .8h0m-.1-5.9h0m5.0-.3h0m-2.1-.3h0m2.1 6.5h0m.1 .8h0m2.0-6.1h0m-3.5 .6h0m-1.8 3.4h0m3.2 .5h0m-.5-2.3h0m-.2 .1h0m-3.1-1.7h0m1.8 .8h0m-.2 .3h0m-.9-.6h0m4.0 1.3h0m-2.2 2.6h0m2.6-5.7h0m-3.9 4.1h0m-.4 .4h0m2.3-2.2h0m2.2-1.7h0m-.5 6.0h0m-4.2-2.0h0m1.5-1.0h0m-2.1-4.6h0m-1.4 2.0h0m1.0 5.2h0m-1.1-5.6h0m2.3-.7h0m1.1 1.0h0m1.5 1.2h0m-3.9 4.8h0m5.5-5.2h0m1.1 4.3h0m-5.6-8.3h0m4.2 9.1h0m-2.0 .3h0m1.3 .5h0m-.3-5.7h0m.6 2.2h0m-6.8-3.0h0m3.4 .3h0m5.2 2.8h0m-4.7 4.7h0m2.2-4.2h0m-3.7 4.1h0m4.4-2.3h0m.8-5.5h0m-4.9 7.3h0m-1.7-8.7h0m3.9 8.8h0m1.4-2.3h0m-6.3-3.0h0m1.0-3.5h0m4.0 5.8h0m1.4-2.8h0m-2.9 3.0h0m-2.1-4.0h0m1.7 2.0h0m3.3-.4h0m-.8 3.7h0m-2.6 .7h0m-1.4-8.6h0m1.4-.4h0m-2.4 2.6h0m5.0 2.8h0m-1.5 5.8h0m-2.8-1.2h0m1.7-5.9h0m-.2 4.1h0m2.4-8.7h0m.5 5.4h0m2.0 4.2h0m-6.0-6.1h0m3.7-.8h0m-3.1 5.8h0m.6 .2h0m2.0-.1h0m3.5 .1h0m-6.0-1.3h0m-.2-5.5h0m1.9 1.3h0m-1.9-2.1h0m2.9 6.8h0m-3.8 2.0h0m6.1-7.7h0m-3.5 8.3h0m4.2-2.2h0m-2.3-5.7h0m1.6 7.4h0m-1.9-3.5h0m-.4 4.1h0m-2.9-8.9h0m-2.2 1.4h0" stroke="#4cad3a" stroke-width="0.65" stroke-linecap="round" fill="none" opacity="0.8"/>
<path d="M482.0 216.7h0m-4.7 6.7h0m.6-5.0h0m.5 3.6h0m-1.1-5.8h0m-1.1-3.5h0m7.5 2.4h0m-8.7 1.8h0m4.1 7.0h0m3.0-12.3h0m-5.8 4.3h0m7.9 1.3h0m-5.1 6.6h0m4.5-10.2h0m-.2 3.1h0m-6.9 .3h0m6.7 4.6h0m-6.2-1.0h0m-1.4 .7h0m.5-4.1h0m4.2 1.2h0m3.8 3.8h0m-7.4-5.9h0m4.6 1.0h0m2.2-3.8h0m.4 3.3h0m-5.7 3.8h0m.2-6.0h0m4.8-1.7h0m-.5 3.8h0m-.7 4.9h0m1.2-1.1h0m.8-2.5h0m-.7-5.3h0m-3.0 3.8h0m1.9-4.9h0m-.3 1.4h0m3.6 4.0h0m-3.2 2.6h0m-1.9 4.4h0m-4.1-4.1h0m6.4-6.0h0m-3.1 1.3h0m-4.4 1.2h0m.0 2.3h0m5.8-.7h0m.2 .1h0m3.3 1.4h0m-1.4 3.9h0m-6.4-2.9h0m7.1-2.6h0m-4.5-5.4h0m-2.1 7.8h0m5.5 .9h0m-1.8-5.5h0m2.3-.1h0m-2.7 8.9h0m.0-9.2h0m3.1 3.5h0m-2.0 4.3h0m2.1-8.7h0m-.4-1.7h0m-3.1 4.1h0m-.8-4.3h0m4.7 3.3h0m-4.2 .9h0m-4.8 2.0h0m10.0-1.2h0m-2.9-6.5h0m-.1 13.2h0m-4.8-10.4h0m-.5 2.6h0m4.2 4.1h0m4.1-.5h0m-5.1-8.5h0m2.1 .6h0m.9 4.9h0m.9-2.6h0m-1.2-2.6h0m-5.4 8.0h0m-.5-4.3h0m5.2 6.4h0m.1-1.2h0m3.1-1.8h0m-6.2-4.2h0m6.3 4.3h0m-7.5-6.0h0m-.7 5.8h0m5.1-1.9h0m.5-3.0h0m-5.1 6.5h0m-.9-6.0h0m1.6 5.9h0m3.9-2.8h0m2.3 2.0h0m-3.7-8.4h0m-2.1 2.6h0m2.6-1.8h0m.9-.2h0m-.3 10.0h0m-4.2 .3h0m2.8-3.1h0m-2.0-3.8h0m-.6-4.1h0m6.4 9.9h0m.7-2.4h0m-7.3-2.8h0m2.6 6.3h0m4.3-1.8h0m-2.8-1.5h0m-.9 .7h0m-1.6-8.0h0m-3.7 5.4h0m6.5 2.3h0m2.7-2.6h0m-9.9 .4h0m.9 3.6h0m5.4-2.5h0m.2-2.1h0m2.2-3.5h0m-7.2 2.3h0m1.0 8.1h0m7.8-3.1h0m-4.6-9.2h0m-3.4 2.2h0m-1.2 8.1h0m1.2-1.7h0m3.2-6.8h0m-1.6 8.6h0m3.7-3.4h0m-1.6-6.3h0m-6.0 5.3h0m2.1 4.0h0m3.7 1.6h0m-2.5-5.7h0m1.8 8.2h0m.0-12.7h0m1.8 6.3h0m1.9-3.6h0m-2.2 6.7h0m1.5 .4h0m-.1-2.2h0m-3.7-3.5h0m-.4 2.4h0m-1.7 .2h0m6.6-1.5h0m-5.8-3.8h0m2.3-2.8h0m-1.1 12.2h0m3.4-10.6h0m-.9 .6h0m-2.9 4.4h0m6.3 .9h0m-1.8 2.9h0m-7.5-3.8h0m4.9 3.5h0" stroke="#3e82bc" stroke-width="0.65" stroke-linecap="round" fill="none" opacity="0.8"/>
<path d="M468.7 228.6h0m.7 .9h0m3.1 1.5h0m-2.2-4.6h0m4.0 1.3h0m-6.0 .0h0m1.6 4.4h0m2.6-6.4h0m-1.0 6.3h0m3.0-1.0h0m-4.7 .5h0m3.5-1.5h0m-4.2 1.7h0m1.3-2.5h0m.0 2.3h0m3.1 .0h0m-2.7-.7h0m-2.7-1.2h0m4.8-2.6h0m-3.0 3.1h0m1.2-2.9h0m2.9 1.6h0m-1.5-2.2h0m-.5 1.8h0m1.3-2.2h0m-1.6 3.4h0m-.3 .3h0m.4-2.5h0m.0 3.8h0m.2-.1h0m-2.4-5.0h0m.8 2.9h0m-.9 .4h0m3.9 1.7h0m-1.6 1.0h0m-1.4-5.4h0m.1 5.6h0m3.3-2.1h0m-3.0 .1h0m-.1 .9h0m.2-2.2h0m-.6 2.5h0m3.2-4.8h0m-4.0-.6h0m3.4 4.9h0m-4.3-1.2h0m4.1-.9h0m-2.4-1.3h0m-2.0 1.3h0m6.1-.3h0m.2 .7h0m-2.3-.5h0" stroke="#3e82bc" stroke-width="0.65" stroke-linecap="round" fill="none" opacity="0.8"/>
<path d="M483.3 230.1h0m-.3-3.5h0m-1.4 4.5h0m1.5-.8h0m-.5 1.0h0m.5-.2h0m-.4 1.0h0m-2.6-1.6h0m.8-2.8h0m3.9 .4h0m1.3-1.0h0m-.5 .1h0m-1.8 4.0h0m-.8-1.0h0m-1.1-.9h0m-2.2 .4h0m3.4-2.1h0m-1.8-2.4h0m.6 3.6h0m2.6 2.1h0m-4.8-.2h0m4.3 .1h0m-.4 .1h0m-4.4-1.3h0m5.7 1.7h0m1.1-2.3h0m-2.2 1.0h0m-1.6-2.7h0m1.8 1.7h0m-2.1 2.5h0m-.4-3.5h0m-2.0 1.8h0m1.8-1.3h0m.5 .5h0m2.8 .1h0m-4.6 .3h0m3.8-.5h0m-2.6 3.0h0m-.5-3.6h0m-1.0 2.2h0m.0-2.9h0m3.3-.3h0m-2.9 3.9h0m-1.7-1.7h0m1.2-1.7h0m4.0 1.2h0m-.2-3.6h0m-1.4 2.1h0m2.2 2.3h0m-3.9 1.8h0m3.2-4.0h0m-.8 1.0h0m-3.0-.3h0m.4 1.8h0m1.4-3.6h0m1.6 1.0h0" stroke="#3e82bc" stroke-width="0.65" stroke-linecap="round" fill="none" opacity="0.8"/>
<path d="M464.2 230.2h0m-.9-.4h0m-.6-1.8h0m.9 3.9h0m.0-1.8h0m-1.0 1.0h0m3.9-1.0h0m-.4 .9h0m-1.5-2.3h0m1.3 3.0h0m.4-1.3h0m-1.9 1.7h0m.5-.6h0m-2.0-2.6h0m2.7 2.4h0m-3.6-1.6h0m3.7-1.1h0m-1.1 1.9h0m-1.3 .4h0m-1.9-2.2h0m1.4-.9h0m1.5 4.3h0m-1.8-2.3h0m2.5-2.2h0m-2.7 4.7h0m3.3-3.4h0m.2 1.9h0m-4.9 .2h0m4.8 .7h0m-.7-3.3h0m.4 1.5h0m-2.1 1.0h0m-2.4-1.5h0m3.0-.7h0m-2.9 .9h0m.7 1.5h0" stroke="#3e82bc" stroke-width="0.65" stroke-linecap="round" fill="none" opacity="0.8"/>
<path d="M456.9 229.8h0m1.1 .2h0m-.7-2.0h0m.9 .4h0m-.1-1.3h0m-1.1 2.0h0m.2 1.3h0m1.3-3.1h0m-3.0 .6h0m1.9 2.2h0m-1.4 .1h0m2.8-3.0h0m-2.5 2.1h0m1.3 1.3h0m-.1-3.8h0m-.7 1.7h0m.6-.4h0m1.1 .1h0m.2 1.1h0m-2.1-.5h0" stroke="#4cad3a" stroke-width="0.65" stroke-linecap="round" fill="none" opacity="0.8"/>
<path d="M456.2 231.2h0m-2.1 3.8h0m1.6-4.8h0m3.2 4.5h0m-.5-3.2h0m-2.8-.6h0m-.4 .1h0m.3 3.3h0m2.2-3.9h0m-.4 5.4h0m1.5-1.5h0m-4.1 .4h0m.3 .6h0m3.1-1.3h0m-2.1 .3h0m-.1-1.5h0m3.3-1.4h0m-1.8 2.3h0m.8-.2h0m1.0 1.0h0m-4.3-.3h0m2.7-.7h0m-.5-1.3h0m-1.5 3.3h0m1.2-3.8h0m-2.0 2.0h0m4.0-2.8h0m-.9 2.3h0m-2.4-.1h0m2.3-2.4h0m-.1 .5h0m1.9 1.9h0m-2.9 2.1h0m-3.6-1.6h0m1.7-.9h0m4.1 .3h0m.6 .1h0m-4.9 1.2h0m2.9 .5h0m-2.1-4.2h0m1.1 3.6h0" stroke="#9664c8" stroke-width="0.65" stroke-linecap="round" fill="none" opacity="0.8"/>
<path d="M493.4 239.0h0m2.2-9.4h0m-.3-.8h0m9.3 6.6h0m-3.4 2.8h0m-2.7-5.6h0m3.2-.2h0m-8.1 5.2h0m5.5-.2h0m-6.0-6.3h0m3.2 .1h0m-3.8 5.7h0m6.9-1.7h0m.0 2.1h0m-.9-7.4h0m-1.9-1.3h0m.3 4.9h0m3.9-1.4h0m-5.8-3.3h0m1.8 12.0h0m7.7-7.0h0m-1.8 .8h0m-5.5 5.4h0m-1.0-.5h0m7.5-.8h0m-6.9-.9h0m6.6 1.0h0m-1.4 1.8h0m-.6-9.8h0m-4.8 .0h0m-3.6 3.8h0m2.5 3.1h0m1.5-8.5h0m4.9 .3h0m1.4 4.2h0m-.5-.8h0m-8.9 5.2h0m5.7-5.5h0m-4.1 2.3h0m4.3 7.0h0m1.0-13.5h0m-2.9 3.0h0m1.1-2.1h0m-.2 6.9h0m.2 3.7h0m-.1 .7h0m4.9-3.3h0m-4.4 .1h0m2.4 2.9h0m-9.5-3.4h0m.3-4.3h0m7.4 1.4h0m2.0-4.6h0m-5.2 .9h0m-.8 3.6h0m-2.8 1.9h0m3.6-6.4h0m1.8 4.0h0m-.2-5.7h0m.7 11.6h0m-1.8-.8h0m3.9-8.9h0m1.4 9.4h0m-5.4-8.0h0m-3.4 4.4h0m9.3 1.7h0m.6 1.4h0m-8.7-4.4h0m1.1-2.3h0m4.8 2.5h0m-7.7-1.1h0m3.8 3.2h0m4.4 1.6h0m-2.5-10.2h0m1.5 6.4h0m2.8-3.6h0m-3.6-.7h0m-.5 5.7h0m-1.2-1.0h0m-2.0-2.1h0m3.0-1.8h0m-5.2 1.4h0m2.4 .6h0m3.6 1.2h0m2.8 2.9h0m-4.9-7.0h0m1.4 4.3h0m-.2 1.2h0m-6.0 1.9h0m4.6-.6h0m3.5 3.8h0m-4.0 1.2h0m-.3-1.0h0m4.3 .7h0m-2.9-4.2h0m3.8 1.5h0m-8.1 .4h0m3.0-2.5h0m.6-2.2h0m-.9-4.3h0m2.2 5.1h0m3.7 2.2h0m-4.9 .7h0m-4.1-.3h0m.6-2.4h0m-.2 1.3h0m-1.9-1.6h0m11.3 3.2h0m-6.8-.2h0m-2.0-2.4h0m3.4-3.6h0m3.2 9.1h0m1.8-10.8h0m.3 6.9h0m-2.6 2.0h0m-6.7-6.4h0m6.9 5.4h0m.8 1.4h0m-5.3-2.3h0m.6 .3h0m3.3-4.7h0m3.7 4.8h0m-4.3 2.0h0m3.4-6.9h0m-8.3 7.5h0m1.2-1.8h0m7.2 1.6h0m-7.2-3.1h0m-.4-8.1h0m-.8 2.8h0m8.6 4.7h0m-7.0 1.1h0m.4-7.7h0m8.3 4.5h0m-5.4-2.6h0m.3 4.7h0m-7.2-2.7h0m5.1 1.3h0m-1.3-6.8h0m-4.1 6.5h0m8.2 2.8h0m-5.6 2.1h0m8.9-6.4h0m.9-.4h0m-5.4-3.1h0m-4.0-.9h0m-2.4 5.7h0m9.1-2.7h0m-3.3 3.6h0m-2.6-1.7h0m1.2 3.2h0m3.6-6.2h0m1.9 7.5h0m-.6-9.1h0m-7.5 1.1h0m2.1 9.7h0m1.9 1.9h0m2.8-9.3h0m.3 6.7h0m1.0-6.8h0m-2.9-2.2h0m-5.7 1.5h0m5.5 1.9h0m.9-.8h0m-7.4 5.0h0m5.1-6.1h0m-3.8 2.2h0m9.7-1.2h0m-6.1 6.9h0m1.6-11.3h0m-4.6 8.4h0m4.4 1.8h0m-4.2-3.3h0m5.6 .2h0m-5.5-.4h0m.3-4.3h0" stroke="#9664c8" stroke-width="0.65" stroke-linecap="round" fill="none" opacity="0.8"/>
<path d="M476.1 233.1h0m2.7 1.0h0m-.2-1.2h0m-.8 3.5h0m-.5-.3h0m-.8-.9h0m-.3-2.9h0m1.8 3.1h0m-1.3-.1h0m-1.2 .6h0m-.2-3.2h0m4.1 .3h0m.4 2.7h0m-5.5-.8h0m2.3 2.9h0m-.2-4.8h0m-.7 1.9h0m2.4-1.4h0m-1.5 .0h0m2.2 2.4h0m-3.9-2.2h0m1.8 .1h0m1.8 3.2h0m-1.4-2.3h0m-.8-2.2h0m-.8 2.6h0m2.2 2.3h0m.1-1.4h0m-.7 .0h0m2.2-2.1h0m-2.7 3.1h0m2.4-1.2h0m.1 .3h0m-3.7 1.0h0m2.0 .7h0m-2.1-4.1h0" stroke="#4cad3a" stroke-width="0.65" stroke-linecap="round" fill="none" opacity="0.8"/>
<path d="M480.1 238.3h0m1.8-2.6h0m.4 3.5h0m-.7 1.0h0m.7-.6h0m-.5-2.3h0m-2.2-.3h0m1.4-1.9h0m3.4 4.7h0m-.9-.1h0m-4.1-2.3h0m2.9 .0h0m2.2 2.3h0m-2.1-2.3h0m-2.6 2.5h0m3.8-2.9h0m.1-1.5h0m-2.6 3.1h0m3.4-1.3h0m-1.9 3.5h0m2.0-4.8h0m-2.9 4.3h0m2.0-4.2h0m.5 2.3h0m-1.2 2.1h0m1.0-1.0h0m-.9-4.1h0m-3.0 2.3h0m1.0-2.9h0m3.3 .9h0m-2.7 1.1h0m1.9-1.8h0m-2.5 2.3h0m-2.1 .8h0m5.8-1.2h0m-5.4 1.0h0m3.4-.3h0m-1.9 3.5h0m1.6-6.8h0m.4 1.5h0m-1.0 3.8h0" stroke="#9664c8" stroke-width="0.65" stroke-linecap="round" fill="none" opacity="0.8"/>
<path d="M454.5 240.5h0m-2.3-2.3h0m1.3-1.0h0m1.4 .8h0m-.1 2.4h0m1.5-.1h0m.1-.5h0m-1.8-2.6h0m-.2 3.4h0m1.4-2.0h0m-1.0 1.6h0m.1-.6h0m-1.8-.4h0m3.8-1.3h0m-2.5 2.9h0m.3 .2h0m2.0-2.3h0m-.6-1.8h0m.1 2.8h0m-3.6-2.3h0m2.8 .8h0m-1.1 .6h0m.2 .3h0m1.1-2.4h0m-2.8 .8h0" stroke="#f2832a" stroke-width="0.65" stroke-linecap="round" fill="none" opacity="0.8"/>
<path d="M452.8 248.6h0m.5 2.9h0m-2.6-2.2h0m2.8 2.7h0m-1.5 2.6h0m.7-2.8h0m-1.8-3.0h0m2.7-2.7h0m-5.3 2.3h0m5.1 5.2h0m-.9-2.8h0m-1.2-2.3h0m1.8-1.5h0m2.8 5.9h0m.2-.5h0m-7.4-2.2h0m5.0-.8h0m.7 .9h0m-7.3 .8h0m5.4 2.3h0m3.1-1.0h0m-2.8-1.5h0m-2.3-3.2h0m.4 2.8h0m.1-.9h0m-1.8-1.7h0m-.2 2.4h0m5.9-2.3h0m-7.0-.8h0m2.1 4.0h0m-1.9 .3h0m3.6-3.2h0m-1.7 .0h0m1.6-2.5h0m1.7 1.1h0m1.6 6.9h0m-.4-5.9h0m-.2-1.6h0m-5.0 1.6h0m6.3 1.2h0m-5.2-1.2h0m2.7 1.3h0m-2.9 5.2h0m1.2-2.0h0m.7-.7h0m-1.7-5.1h0m2.2 6.8h0m-2.8-.8h0m5.3-2.9h0m-7.7 2.2h0m2.4 2.4h0m2.3-7.1h0m-.7 6.3h0m-.7-.6h0m4.4-4.8h0m-2.9 6.3h0m2.6-7.8h0m-1.3 4.4h0m-1.8-2.6h0m.8 6.1h0m1.2 .3h0m-.9-6.6h0m.9-.1h0m-5.5-.2h0m-.3 4.6h0m.4-3.2h0m7.3 3.9h0m-1.3-2.0h0m-.1-5.0h0m-.9 5.4h0m-4.2-3.7h0m7.0 4.0h0m-5.7 2.6h0m-3.2-3.2h0m.2-1.0h0m3.4-1.9h0m-1.1 5.0h0m3.8-.3h0m-4.1 .8h0m1.6-.3h0m-1.0-6.2h0m1.1 5.5h0m-.4-2.2h0m1.4-4.5h0m3.1 2.2h0m-4.0 5.4h0m-.6 .5h0m.3-9.1h0m1.2 10.5h0m-1.9-7.3h0m1.5 5.5h0m-.9-1.2h0m-2.0-3.1h0" stroke="#f2832a" stroke-width="0.65" stroke-linecap="round" fill="none" opacity="0.8"/>
<path d="M460.2 249.0h0m-2.4 2.5h0m-.1-2.1h0m-1.5-2.1h0m1.1 1.4h0m2.1 .0h0m-1.4-1.9h0m2.3 3.2h0m-.2 1.0h0m-1.9-1.6h0m1.2-.5h0m-2.6 2.0h0m2.7-.9h0m.5-.9h0m.6-.1h0m-2.9 1.4h0m2.4-.8h0m-2.9 .0h0m2.4 .7h0m-1.1-3.2h0m-.3 .9h0m1.0-1.3h0m-.9 3.6h0m-.3-3.6h0m-.3 3.5h0m1.5-1.9h0m-.8 4.0h0m.7-1.7h0m-.6-1.4h0m.5 2.3h0m-2.2-.3h0m.0-4.6h0m-1.0 2.7h0m2.6 .4h0m1.0 .7h0m-2.7-3.2h0" stroke="#f2832a" stroke-width="0.65" stroke-linecap="round" fill="none" opacity="0.8"/>
<path d="M475.2 245.4h0m3.6-.5h0m-1.4 .0h0m.3-1.9h0m-1.2-.2h0m-2.3 1.2h0m3.1-2.3h0m-2.4 2.2h0m2.5 3.0h0m.8-2.2h0m-1.4-2.3h0m-.6 .8h0m-.9 1.9h0m-.7 1.7h0m-.5-2.9h0m-.3-.9h0m2.7 2.9h0m.3-3.0h0m1.3-.2h0m-4.4 1.7h0m4.6-.4h0m-4.1-.1h0m3.8 2.8h0m-1.3-3.9h0m.0 3.1h0m.8-1.9h0m.7 3.0h0m-2.8-.6h0m.6 .0h0m-.3-4.4h0m1.6 2.5h0m-2.2-.6h0m2.9-1.4h0m.3 2.6h0m-.7-2.6h0m.7 1.9h0" stroke="#f2832a" stroke-width="0.65" stroke-linecap="round" fill="none" opacity="0.8"/>
<path d="M463.6 246.9h0m2.0-.7h0m-1.0 .3h0m-.7-1.9h0m2.1-1.7h0m-2.1-1.0h0m1.2 3.2h0m-2.8 1.3h0m.6-2.8h0m1.1-2.9h0m-2.2 5.2h0m2.0-5.8h0m1.3 4.6h0m-1.2 1.8h0m.5-5.6h0m-1.9 3.4h0m-.5-1.4h0m.9 2.8h0m-1.6-1.9h0m4.1 2.2h0m.6-.3h0m-1.9-3.5h0m1.1-1.2h0m-3.0 5.0h0m1.1 .3h0m-.9-5.1h0m-.6 1.9h0m3.7-.7h0m-3.7 2.8h0m2.7-3.2h0m-1.1 1.9h0m-.6 1.2h0m1.5-4.4h0m1.2 5.2h0m-2.3-.9h0m3.1-1.7h0" stroke="#4cad3a" stroke-width="0.65" stroke-linecap="round" fill="none" opacity="0.8"/>
<path d="M464.5 251.5h0m-3.0-1.0h0m.2-.8h0m.0 .9h0m1.6 1.8h0m1.5 1.6h0m1.1-1.5h0m-.3-2.5h0m-3.3 4.6h0m4.4-2.6h0m-1.3-1.6h0m.6 3.2h0m-3.1 1.1h0m.1-3.7h0m-.1-1.8h0m3.9 5.4h0m-1.6-2.6h0m-3.8 .9h0m.4-2.7h0m-.2 2.5h0m2.6 .5h0m2.3-1.9h0m-4.0-1.1h0m2.2 2.3h0m.7-.8h0m-.1-1.5h0m2.4 1.2h0m-.3-.7h0m-4.4 2.2h0m.0 2.0h0m.9-1.3h0m1.3-.8h0m1.5-.3h0m-.7-.9h0m-4.5 .0h0m4.1 3.7h0m.9-3.1h0m-3.1 .0h0m-1.4 1.9h0m5.0-.9h0m-5.3 1.2h0m1.7 .3h0m3.1-1.7h0m-3.1-.2h0m4.0-1.1h0m-3.7 .6h0" stroke="#9664c8" stroke-width="0.65" stroke-linecap="round" fill="none" opacity="0.8"/>
<path d="M480.9 244.4h0m2.2-3.1h0m-2.5 .6h0m3.1-.2h0m-.3 1.6h0m.9-.7h0m.1 1.2h0m-.5-1.8h0m-1.5 1.6h0m-1.7-1.4h0m.1 .8h0m2.3 1.4h0m-.5-1.3h0m-1.3-1.5h0m1.9 3.8h0m-.6-3.3h0m-.8 1.3h0m1.7 1.2h0m-1.2-.3h0m.2 .3h0m-2.2-3.3h0m4.8 1.1h0m-2.1 .8h0m-1.3 .7h0m.0-1.3h0m.4-1.3h0m-.5 2.5h0m1.7 .0h0m-.1-2.2h0m1.7 .0h0m-1.3 3.1h0m.6-1.6h0m.8 .1h0m-4.1-.8h0m.0 2.2h0m2.8-3.0h0" stroke="#da3232" stroke-width="0.65" stroke-linecap="round" fill="none" opacity="0.8"/>
<path d="M475.7 252.8h0m-1.7 2.8h0m-2.0-.2h0m.8-1.9h0m-1.6 1.0h0m3.9 1.7h0m-.4-1.5h0m-1.3 2.2h0m1.6-3.3h0m1.7-1.2h0m-1.9-1.7h0m1.2 .8h0m-4.7 3.0h0m1.1-.5h0m3.9 1.2h0m.4 .1h0m-3.4-3.6h0m1.3 2.8h0m-3.8 .9h0m5.0-4.2h0m-4.0 1.8h0m1.6 1.1h0m4.0 .1h0m-1.8 .6h0m-1.6-1.3h0m-.5 3.3h0m-1.1 .4h0m4.5-2.3h0m-5.7 1.4h0m4.2 .4h0m.0-4.3h0m-.3 1.4h0m-4.4-.5h0m6.3 .6h0m-4.9-2.3h0m3.4 1.7h0m-1.7-1.5h0m-.8 2.6h0m.9 1.5h0m-.4-.2h0m1.2-4.9h0" stroke="#da3232" stroke-width="0.65" stroke-linecap="round" fill="none" opacity="0.8"/>
<path d="M477.3 260.9h0m-.3 2.1h0m.3 1.0h0m3.6 1.5h0m-.7 1.8h0m-1.0-1.6h0m.9-5.1h0m1.4 5.2h0m-3.6 1.1h0m2.3-.1h0m.0-1.1h0m-2.2-.5h0m-1.7-3.3h0m2.3-1.6h0m2.3 2.0h0m-4.7 1.0h0m4.2-1.7h0m-.4 .0h0m-2.9-.1h0m1.1 5.7h0m2.9-2.1h0m-2.0-4.9h0m.0 1.6h0m-.3 3.9h0m-.3-5.9h0m.8 2.2h0m1.2 .7h0m-1.5-.9h0m-1.5 .9h0m-1.1 1.0h0m4.7-2.2h0m-3.5-.3h0m2.2 4.1h0m-1.7 2.0h0m.7-.5h0m3.1-4.8h0m-1.2 1.9h0m-5.0-1.4h0m3.6-2.4h0m-2.1 .1h0m2.8 1.0h0m-1.4 5.5h0m-.4-4.5h0m-1.5 2.6h0m2.4-3.7h0m-1.1 6.2h0m3.6-4.6h0m-.5-1.4h0m-3.2 3.7h0m1.6 1.1h0m.6-3.6h0m-2.1 2.2h0m2.4-2.3h0m-3.6 3.6h0m2.5-.8h0m-.6-1.0h0" stroke="#da3232" stroke-width="0.65" stroke-linecap="round" fill="none" opacity="0.8"/>
<path d="M468.7 251.3h0m1.1-2.3h0m-2.0 .2h0m1.2 1.4h0m-.2 .3h0m-.2 .3h0m-.7-1.5h0m.8 .0h0m-1.3 .6h0m2.1-1.4h0m.3 1.0h0m-2.2 .4h0m.8 .3h0m-.4-1.0h0m.0-.5h0" stroke="#da3232" stroke-width="0.65" stroke-linecap="round" fill="none" opacity="0.8"/>
<path d="M473.4 220.4h0m5.5 .3h0m-.7 4.5h0m-13.0 4.7h0m9.1-8.5h0m.8 9.1h0m-2.5 1.7h0m2.8-9.9h0m-7.2-1.1h0m2.2 8.3h0m7.7-5.9h0m-8.2 6.0h0m-1.1-5.0h0m9.4-.3h0m2.1-2.4h0m-7.5-3.3h0m5.9 10.3h0m-12.1-4.7h0m14.0-.3h0m-8.4 8.1h0" stroke="#9664c8" stroke-width="0.65" stroke-linecap="round" fill="none" opacity="0.8"/>
<path d="M479.0 233.3h0m-8.1 7.5h0m-4.9-4.0h0m11.5 4.7h0m.8 1.2h0m-8.3-4.7h0m-.6-.9h0m8.1 .4h0m-5.9 5.9h0m10.1-1.0h0m-11.5-.7h0m4.1-4.7h0m-4.3-3.1h0m11.9 8.1h0m-6.5-7.0h0" stroke="#3e82bc" stroke-width="0.65" stroke-linecap="round" fill="none" opacity="0.8"/>
</g>
<text x="540.5" y="204.6" font-size="7.84" textLength="41.76" lengthAdjust="spacingAndGlyphs" text-anchor="middle" fill="#222" stroke="#222" stroke-width="0.1">CellCharter</text>
<rect x="509.80" y="208.20" width="61.40" height="62.20" fill="#fff" stroke="#444" stroke-width="1.0"/>
<g clip-path="url(#cdCellCharter)">
<path d="M515.1 218.7h0m1.0-.1h0m.1-.1h0m.2-1.6h0m-.6 .4h0m.1 1.0h0m.9-1.2h0m-2.5 .7h0m3.3 .3h0m-2.3 1.6h0m1.5-2.0h0m-1.5 1.2h0m1.9-1.1h0m-.7-.8h0m.6 1.1h0m-2.9-.5h0m1.3 1.4h0m-.8 .6h0m1.6-.6h0m-2.4 .3h0m1.1-.2h0m-.2-.2h0m.0-1.7h0m-.8 1.7h0m3.2-.9h0m.0 1.2h0m-2.9-.8h0m-.1 1.4h0m1.4-1.5h0m1.6-1.0h0m-1.6 2.9h0m-1.6-2.7h0m1.8-.4h0m-.6 2.3h0m-.4 .6h0m1.1-.4h0m.9-2.7h0m.3 .4h0m-2.2 1.6h0m1.0-.4h0m-.2 .8h0m-.1 .4h0m-1.4-2.5h0m1.9 1.3h0m-2.5 .3h0m.5-1.0h0m1.3 .9h0m.2-.1h0m-.6-.7h0m-.8 .2h0m2.3 .0h0m-.5-1.1h0m-.5 3.0h0m-1.3-2.3h0m1.7-.7h0m-1.4 1.7h0m1.1-1.7h0" stroke="#da3232" stroke-width="0.65" stroke-linecap="round" fill="none" opacity="0.8"/>
<path d="M523.3 216.3h0m-4.3-2.6h0m3.3 3.0h0m-3.6-2.3h0m1.7 1.8h0m-1.1-.5h0m.5-.5h0m2.9 1.3h0m-3.0-1.7h0m1.0 1.6h0m.5 .4h0m1.4-.8h0m-3.0-1.7h0m3.9 .7h0m.2-.9h0m.4 1.7h0m-.8-1.5h0m-2.5 .7h0m1.0 1.6h0m-.7-.6h0m-2.3-.3h0m2.1-1.5h0m1.9 1.1h0m-2.0-2.5h0m3.5 2.9h0m-5.5-1.2h0m2.9-1.9h0m-2.6 1.6h0m.0 1.8h0m4.1-.4h0m-4.9-.4h0m3.3 1.5h0m.5-2.8h0m-.1-.7h0m-.6 1.7h0m-1.7-1.4h0m3.4 2.1h0m-3.8 .2h0m2.2 .6h0m-2.3-.2h0m5.3-2.5h0m-1.4 2.5h0m-4.3-1.8h0" stroke="#da3232" stroke-width="0.65" stroke-linecap="round" fill="none" opacity="0.8"/>
<path d="M524.0 212.6h0m.1-.7h0m-.1 .1h0m.6 .8h0m-1.4-.7h0m.2-.7h0m1.2-.4h0m-.2 1.5h0m-.6-1.0h0m1.2 1.0h0m-.3-.5h0m.5-.7h0m-.4 .5h0m.5 .8h0m-1.8-.1h0m.8-.1h0m1.1 .0h0m-1.1-.6h0m1.1 .7h0m-.6-1.2h0m-.8-.2h0" stroke="#da3232" stroke-width="0.65" stroke-linecap="round" fill="none" opacity="0.8"/>
<path d="M544.5 222.2h0m.0 .9h0m-.5 .2h0m.5 1.4h0m.8 .4h0m-2.2 .4h0m1.0-2.5h0m1.7 .7h0m-1.3 3.0h0m1.4 .1h0m.5-2.5h0m-.1 1.6h0m.1-1.6h0m.2 1.5h0m-2.7 1.5h0m1.7-3.8h0m-1.5 .6h0m-1.3 2.1h0m2.1-2.2h0m-2.2-.6h0m1.8 2.0h0m2.4-.7h0m-1.7 .7h0m-2.4-2.4h0m.5 2.0h0m2.0 1.2h0m1.3-.5h0m-4.4 .3h0m4.3-.7h0m-2.1 .0h0m-1.0-1.3h0m1.1 2.5h0m-.5-.5h0m-.1-3.1h0m-.4-.5h0m-.8 3.4h0m1.6-2.4h0m2.5 .3h0m-3.3 3.5h0m.5-.2h0m1.2-2.4h0m-.9 .0h0m2.1-.8h0m-3.8 .9h0m3.5 .2h0m-2.2 1.9h0m.5-3.3h0m-.2 .1h0m1.1 .8h0m-1.3-.8h0m1.0-1.2h0m1.2 2.6h0m-2.8-.4h0m1.9-.3h0m-1.0 1.9h0m1.9-1.9h0m-.1 1.5h0m-3.1-1.2h0m1.4 2.5h0m1.0-3.4h0m-1.6-1.2h0m-.8 .5h0m2.9 1.9h0m-1.9-2.5h0m.6 1.3h0m.5 1.9h0m1.4 .4h0m-1.5-1.9h0m-.2 2.9h0m-.1 .2h0m-.3-4.7h0m-.5 1.9h0m-1.6 1.7h0m2.8-3.0h0m-2.5 3.4h0m3.9-.6h0m-3.0-2.2h0m.6 2.0h0m-.9 .4h0m1.7-3.4h0m-1.6 1.4h0m2.0 .9h0m-1.7 .5h0m-.4 1.3h0m3.2-1.7h0m-.3-1.6h0m-.5 1.7h0m-.3 .0h0m-2.8 .1h0m.5-.6h0m.1 .5h0m-.3-1.3h0m2.8 1.5h0m.1 .7h0m-.1 .3h0m-3.0-.4h0m3.5-2.0h0m-3.5-.2h0m-.1-.3h0m1.1-.8h0" stroke="#4cad3a" stroke-width="0.65" stroke-linecap="round" fill="none" opacity="0.8"/>
<path d="M541.0 232.3h0m-4.0-3.3h0m1.5 3.8h0m.2 1.0h0m-.3-2.5h0m2.2-.2h0m.7 .8h0m-.1-.9h0m-2.4-1.3h0m.6 .5h0m1.2 2.6h0m.8-.9h0m-.8-1.9h0m-1.2-1.2h0m.7 .2h0m-2.5 3.5h0m1.7-2.0h0m-.4 1.1h0m1.2 2.2h0m-2.3-.2h0m2.7-2.2h0m-2.1-.1h0m1.1-1.3h0m-1.1-1.3h0m.8 2.4h0m-.9 1.7h0m-.4-3.3h0m-2.0 1.4h0m3.2-.5h0m2.6 1.5h0m-4.7-1.7h0m1.7 3.5h0m-1.7-4.5h0m1.5 .6h0m-1.6 .1h0m4.2 .1h0m-1.7-.4h0m-1.1 3.0h0m.4 .6h0m2.5-2.4h0m-2.0 .8h0m.6-.7h0m-2.3-1.2h0m-1.1 .2h0m1.7 3.1h0m2.5-.4h0m-3.1-3.2h0m.8-1.0h0m-1.8 2.2h0m2.1-1.7h0m-1.6 2.6h0m-.7-.2h0m1.6-1.0h0m.6 1.6h0m.6 .7h0m-.1 1.2h0m-.1-.9h0m1.1 .0h0m1.0-2.0h0m-.3 1.4h0m-3.1-2.9h0m-.1 1.7h0m1.4-.2h0m-1.1-1.4h0m-.1 1.2h0m.5-1.2h0m.3 .3h0m1.4-.1h0m-2.3 4.0h0m-.4-2.3h0m1.2-2.6h0m2.7 3.0h0m-3.0 1.3h0m2.0-1.6h0m-3.5 .3h0m2.2-2.6h0m1.9 3.2h0m-3.8-3.5h0m2.4-.8h0m1.9 3.5h0m-.6-1.0h0m-1.6-2.4h0m-1.2 3.7h0m.8 1.1h0m-1.8-3.3h0m3.3 2.9h0" stroke="#4cad3a" stroke-width="0.65" stroke-linecap="round" fill="none" opacity="0.8"/>
<path d="M537.4 227.2h0m.3 .5h0m-.3 .7h0m-1.4-1.0h0m.4 .2h0m-.7-.1h0m.5-.2h0m.1 .2h0m.0-.1h0m1.1 .3h0m-.4-.4h0m.7-.1h0m-1.6 .9h0m1.5-.5h0m-1.8-.3h0m1.2-.4h0" stroke="#4cad3a" stroke-width="0.65" stroke-linecap="round" fill="none" opacity="0.8"/>
<path d="M565.4 235.1h0m1.7-2.0h0m-2.7 1.8h0m3.2-.8h0m-1.5 .7h0m-.7-1.8h0m-.2 .3h0m2.1 .0h0m-.3-.6h0m-.8-.3h0m.3 1.4h0m-2.5-.7h0m2.1-1.1h0m.2 .3h0m-.8 1.8h0m-1.0-1.9h0m.3 1.2h0m-.5-.5h0m2.6 .5h0m.8 .2h0m-3.0-.2h0m1.5 1.5h0m-1.5-.4h0m2.7-1.0h0m-2.6 1.5h0m-.2-.6h0m1.6-1.5h0m1.3 1.2h0m-2.8 .7h0m1.2-.4h0m-.7-1.9h0m.4-.5h0m-.3 1.0h0m-.5 .1h0m1.8 1.7h0m.4-2.3h0m-1.1 .9h0m-.5 .7h0m1.2 .0h0m-2.0-.4h0m2.3-1.1h0m-3.1 1.5h0m3.1-1.8h0m-.8 2.2h0m-.1-1.8h0m-.3 1.7h0m-1.6-1.6h0m1.6 .5h0m1.4 1.2h0m-1.6-1.1h0m.7-.2h0m-.5 .4h0m-.6 .1h0m1.3-1.4h0m-.4 .3h0m-1.6 .7h0m1.0 .2h0m1.0 .4h0m1.2 .1h0m-2.4-.5h0m-.2 .8h0m1.6-1.7h0m-2.2 1.3h0m2.6 .2h0" stroke="#f2832a" stroke-width="0.65" stroke-linecap="round" fill="none" opacity="0.8"/>
<path d="M557.6 238.8h0m-2.1-2.2h0m-.3-.2h0m.5 1.3h0m-.3-.9h0m2.3 2.4h0m.7-2.7h0m-2.4 1.4h0m1.2-.4h0m-1.3 2.1h0m2.5-2.9h0m-.1 2.5h0m-.7-2.1h0m-2.4 1.7h0m-1.4-.4h0m1.4 1.1h0m-.2-.9h0m-.1-1.3h0m.7 1.0h0m1.4 .4h0m-.5-2.4h0m-.7-.4h0m2.0 3.3h0m.0-2.3h0m-.5 2.8h0m.2-.3h0m-.7-1.0h0m-3.4-.2h0m4.4 1.3h0m-3.8-.4h0m2.1 .8h0m2.6-1.6h0m-.3-1.5h0m-4.9 .3h0m.7 .4h0m4.7 .1h0m-1.4 .0h0m-3.3 1.4h0m-.7-.3h0m2.4-2.8h0m-.8 1.4h0m.0-.1h0m1.5 .9h0" stroke="#f2832a" stroke-width="0.65" stroke-linecap="round" fill="none" opacity="0.8"/>
<path d="M558.7 244.4h0m.3 .0h0m.4 .0h0m.5 .1h0m-.5 .6h0m.8 .2h0m.3-.4h0m-1.8 .3h0m.4-.1h0m1.0 .4h0m-.5-1.3h0m.0 .8h0m.7-.7h0m-.8 .7h0" stroke="#f2832a" stroke-width="0.65" stroke-linecap="round" fill="none" opacity="0.8"/>
<path d="M524.8 241.3h0m-3.8 2.2h0m.3-1.9h0m2.2 6.2h0m-.1-6.6h0m.7 5.1h0m.6-3.2h0m-3.5 3.4h0m1.6-1.0h0m1.3-2.5h0m-.5-2.6h0m.9 2.0h0m-3.6 2.8h0m-1.6 1.2h0m3.4-4.5h0m1.1-1.1h0m-4.1 5.9h0m.2-5.4h0m5.1 2.4h0m-3.0 1.3h0m1.7-.9h0m-3.8 3.5h0m4.8-3.3h0m-1.7 4.7h0m-2.0-8.9h0m-2.4 6.0h0m1.7-3.4h0m2.0-.1h0m-2.5-.7h0m2.5 1.5h0m-3.5 1.9h0m4.7-5.1h0m-.9 7.4h0m2.3-1.8h0m-3.5-3.8h0m-.8 3.5h0m3.7-3.4h0m-2.6-1.8h0m-1.6 2.0h0m2.6 4.0h0m-1.6 1.4h0m.1-7.0h0m3.4 1.9h0m.3 2.4h0m-1.4-1.6h0m-1.2-2.9h0m-2.1 4.3h0m4.9-2.2h0m-5.1-2.1h0m1.5 6.6h0m-.9-6.6h0m4.8 4.4h0m-5.2-1.1h0m5.4-.3h0m-7.3 2.1h0m4.3-1.7h0m2.9 .3h0m-2.6-2.2h0m-1.1 5.2h0m-1.2-4.9h0m-1.1 3.8h0m5.4-.5h0m-2.6 2.5h0m-3.5-4.8h0m6.4-1.0h0m-2.5 .7h0m.5 5.8h0m-2.6-4.2h0m3.6-2.9h0m-3.7 6.5h0m.1 .8h0m.5-6.1h0m-1.9 1.0h0m3.1-3.0h0m-2.2 3.6h0m3.3-3.9h0m-3.1 5.7h0m3.8-4.1h0m-4.3 .7h0m3.0 2.6h0m1.8 2.3h0m.1-1.1h0m-4.7-6.2h0m1.4 8.1h0m2.5-7.5h0m-3.2 7.1h0m.0-2.1h0m-1.0 1.2h0m2.3-6.8h0m-2.2 5.8h0m.9-3.1h0m2.9 4.1h0m-2.0-.1h0m1.7-4.0h0m-.9 2.2h0m.3-.8h0m.1 1.0h0m-4.6-1.8h0m6.4 4.1h0m-2.5-6.0h0m-2.5 1.9h0m-1.1-.6h0m1.0-.8h0m3.6 2.5h0m-.4-1.9h0m.8 3.4h0m.3-5.6h0m-1.3 2.8h0m-1.7-2.8h0m.2 3.5h0m-1.5-3.4h0m2.0 .7h0m-2.2 .8h0m6.3 2.1h0m-5.0 3.6h0m3.3-2.2h0m.6-1.6h0m-1.0-1.6h0m1.1-1.5h0m1.0 3.6h0m-3.6-3.3h0m-3.6 3.6h0m6.4 1.9h0m-4.7 .0h0m-.2-4.0h0m3.2-.6h0m-3.3 2.0h0m.0 4.0h0m1.4-3.1h0m-.2 .6h0m-1.8-1.1h0m6.0-2.8h0m-1.9 4.2h0m.6-1.0h0m.2 1.1h0m-.4-1.6h0m-3.8-.7h0m-.8 1.6h0m2.8-1.6h0m3.5 1.0h0m-3.8 3.1h0m-.2-7.5h0m3.5 4.1h0m-3.7 1.8h0m2.8 .5h0m-.4-1.7h0m1.2 .7h0m-3.1 .2h0m-1.9-5.2h0m5.1 2.6h0m-6.0 3.0h0m2.9 1.9h0m-2.4-2.5h0m5.3-3.0h0m-6.0 1.4h0m5.4 1.7h0m-4.5 .9h0m1.2-4.5h0" stroke="#9664c8" stroke-width="0.65" stroke-linecap="round" fill="none" opacity="0.8"/>
<path d="M531.9 242.5h0m-1.1 .1h0m.9 .2h0m-2.0 .7h0m1.8-1.8h0m.1 .3h0m-1.6-.6h0m-1.5 1.4h0m3.2-1.5h0m-1.1-.2h0m.2 2.3h0m-1.5-.2h0m.2-.6h0m1.7-1.1h0m-1.0 2.4h0m.4-.6h0m.2-.9h0m.0-1.0h0m-1.9 .5h0m2.4 1.8h0m-1.3-2.6h0m1.8 1.0h0m.2 .3h0m-1.0 .6h0m-1.0-1.4h0m-1.4 .5h0m.4 .4h0m-.2 .8h0m.8-2.1h0m.4 2.9h0m-.3-2.0h0m.1-.4h0m.2 1.4h0m.4 .2h0m-.7-1.6h0m.2 2.3h0m.0-1.4h0m.4 .5h0m.1 1.1h0m-1.8-1.3h0m1.9-1.4h0m-.3 1.2h0m.4-1.8h0" stroke="#9664c8" stroke-width="0.65" stroke-linecap="round" fill="none" opacity="0.8"/>
<path d="M537.3 247.8h0m2.0 2.1h0m-1.9-2.6h0m.1 .1h0m2.8 1.2h0m-.7 2.4h0m-2.3-1.4h0m.9-1.1h0m3.1 1.1h0m-2.3-.7h0m.9-1.3h0m-1.1 2.4h0m.4-1.4h0m2.2-1.0h0m-.6 2.3h0m-3.5-.1h0m.9-.7h0m1.7-.5h0m.4-1.9h0m-1.3 3.2h0m1.8-2.3h0m-2.2 .2h0m2.8 1.0h0m-.7 1.6h0m.2-3.3h0m-3.4 1.6h0m1.3-.5h0m2.2 1.6h0m-1.8-.9h0m1.1-.1h0m1.1 .2h0m-.8 .2h0m-1.8-2.9h0m2.6 2.4h0m-1.3 1.2h0m.4-1.8h0m-1.5 .0h0m2.4 2.3h0m-1.6-1.0h0m-.2 1.3h0m-.7-2.4h0m.0 2.5h0m1.0-1.5h0m-1.6 .7h0m1.6-3.6h0m-2.0 3.0h0m2.8 .8h0m.3-.7h0m.1 1.1h0m-.7-.3h0m-1.1 1.0h0m-.5-1.2h0m-1.6 .0h0m3.1 .1h0m-1.3-2.7h0m1.0 3.2h0m-2.2 .1h0" stroke="#9664c8" stroke-width="0.65" stroke-linecap="round" fill="none" opacity="0.8"/>
<path d="M547.5 240.1h0m-3.2 1.5h0m1.3-1.7h0m.4 .8h0m3.0 1.8h0m-1.7 .4h0m-1.8-2.2h0m1.6 1.7h0m-2.1 1.4h0m.9 .7h0m2.0-4.4h0m-1.8 4.5h0m-.1-3.6h0m-.7 3.4h0m2.1 .8h0m-.6-5.0h0m-1.5 .9h0m.6 2.5h0m2.7-2.2h0m-2.5 .7h0m-.6-1.0h0m.3 .7h0m1.9 2.8h0m-1.6 .6h0m-.5-4.7h0m.9 4.5h0m1.8-3.4h0m-2.3-1.7h0m-.3 5.0h0m1.0-3.7h0m-1.0 3.3h0m-1.0-3.7h0m4.1 3.0h0m-1.1-.9h0m-1.2-2.7h0m.4 4.1h0m.6-3.7h0m1.4 1.8h0m-3.4 1.8h0m2.4-.1h0m-2.8 .7h0m1.3-.9h0m-.1 1.2h0m1.2-.3h0m.9-1.9h0m-1.8-.5h0m.2-1.5h0m-1.3 2.4h0m3.6-.6h0m-1.9-2.9h0m1.6 4.1h0m-1.1 1.2h0m.2-1.0h0m-1.9 1.4h0m-.5-5.5h0m.0 4.5h0m-.3-3.9h0" stroke="#9664c8" stroke-width="0.65" stroke-linecap="round" fill="none" opacity="0.8"/>
<path d="M543.6 238.4h0m-.5-.4h0m-.1 1.5h0m.4-.4h0m-.9-.6h0m.9 .6h0m-.7 .1h0m.6-.9h0m.0-.3h0m-1.0 1.2h0m.6-.7h0" stroke="#9664c8" stroke-width="0.65" stroke-linecap="round" fill="none" opacity="0.8"/>
<path d="M537.2 241.7h0m.3 1.0h0m-.4 .0h0m-.6-1.2h0m.7-.1h0m-.3 .4h0m.0 1.0h0m.6-.9h0" stroke="#9664c8" stroke-width="0.65" stroke-linecap="round" fill="none" opacity="0.8"/>
<path d="M548.5 240.7h0m-1.0-.8h0m-.2 .8h0m-1.1-1.4h0m4.1 .1h0m-2.7-.7h0m1.0 .1h0m-.4 2.1h0m1.7-.4h0m-.9-.3h0m1.3 .4h0m.5-.8h0m-.7 .4h0m-2.2-1.2h0m.2 1.3h0m1.0-.3h0" stroke="#9664c8" stroke-width="0.65" stroke-linecap="round" fill="none" opacity="0.8"/>
<path d="M524.1 263.4h0m-2.4-1.0h0m-.4 .6h0m.8 3.6h0m-3.6-3.5h0m4.8 1.5h0m-2.5-1.4h0m2.4 2.6h0m1.6-2.1h0m.0 .1h0m-5.7 2.3h0m.7-2.6h0m1.2-.8h0m1.5-.8h0m-1.5 2.5h0m3.5 .6h0m-3.3 .5h0m-.8-1.5h0m2.6-2.0h0m-3.3 3.6h0m1.1-3.7h0m-.7 2.0h0m3.2 .3h0m-3.8-.1h0m.4-2.0h0m.8 4.4h0m-2.1-2.2h0m3.2-1.6h0m-1.8 .4h0m.5 2.6h0m1.6-.1h0m-3.6-.5h0m2.6-2.8h0m-1.1 1.8h0m2.0 2.5h0m-2.2-.9h0m-1.1-2.6h0m1.8 1.5h0m1.2-.6h0m-2.4-.1h0m.9 2.6h0m1.7-2.3h0m-1.3-2.4h0m3.7 2.8h0m-1.6 .5h0m-3.3 .0h0m1.1-.3h0m-2.3-1.0h0m2.4 .2h0m-.3-1.8h0m1.7 .6h0m-3.1 3.0h0m1.2 .4h0m3.5-2.6h0m-.1 1.3h0m.5-2.1h0m-4.8 3.1h0m4.9-.6h0m-4.9 .5h0m1.5-2.1h0m.0-.5h0m.9 1.7h0m2.0 .5h0m.9-2.4h0m-1.2-.2h0m-4.6 .8h0m1.8 .5h0m-2.0 .5h0m3.4-.1h0m1.5-1.8h0m.2 3.2h0m.0-1.4h0m-5.1 1.1h0m2.6-3.0h0m3.7 2.0h0m-6.1-1.7h0m1.5 .7h0m1.0 2.1h0m-.6-2.7h0m2.3-.8h0m-1.7 1.0h0m-1.8-.3h0m4.1 3.3h0m-3.7-4.1h0m-1.3 2.7h0m1.7 1.6h0m-.9-3.4h0m4.6 3.0h0m-.5-3.4h0m-1.4 1.5h0m2.3-.9h0m-1.1-.6h0m-1.7 3.9h0m2.1-1.2h0m-1.1-1.2h0m.6-1.1h0m-4.3 .9h0m1.8-.5h0m.8-1.7h0m1.7 2.4h0m-.7 2.0h0m-.1-.5h0m-3.0-.8h0m3.7 .6h0m-2.0 1.3h0m1.7-1.9h0m-4.0 .8h0m3.9-1.5h0m-2.5 1.3h0m3.4 .9h0m-.9-4.1h0m-4.5 2.5h0m3.2-.1h0m-2.7-.8h0m1.4 1.2h0" stroke="#3e82bc" stroke-width="0.65" stroke-linecap="round" fill="none" opacity="0.8"/>
<path d="M512.4 261.6h0m.6 .7h0m-.7-.5h0m1.3-.8h0m-.9 .0h0m.9 .0h0m-.9 1.3h0m.9 .4h0m-.1-.9h0m.0-1.1h0m-.2 1.5h0m-.3 .0h0m.9-1.3h0m-.5 1.2h0" stroke="#3e82bc" stroke-width="0.65" stroke-linecap="round" fill="none" opacity="0.8"/>
<path d="M532.9 256.4h0m-1.6-2.3h0m.9 .5h0m1.3-.4h0m.3 .2h0m-.3 1.3h0m.5-.1h0m.3-.6h0m-.5-.2h0m-.4-1.0h0m-2.1 .6h0m1.4 .4h0m-.8-.8h0m-.9 1.3h0m1.4-.5h0m2.0 .3h0m-2.4-.7h0m.3 .4h0m1.6 1.2h0m-2.1-1.6h0m-.4 .0h0m1.7 2.1h0m-1.8-.4h0m2.1-2.2h0m-1.0 .7h0m-.7 .4h0m1.0 .0h0m-.1-.6h0" stroke="#3e82bc" stroke-width="0.65" stroke-linecap="round" fill="none" opacity="0.8"/>
<path d="M539.7 256.6h0m.5 1.5h0m-.9 .2h0m1.5-1.0h0m-2.3-.5h0m.4 1.5h0m-.8-1.4h0m2.4-.1h0m-.9 2.0h0m-1.0-2.0h0m1.5 .1h0m-1.3 .0h0m2.0 .6h0m-2.1-.7h0m-.4 1.5h0m.7-.8h0m.5 .3h0m1.2-.2h0m-1.1-.4h0m-1.4 .0h0m1.0-.3h0" stroke="#3e82bc" stroke-width="0.65" stroke-linecap="round" fill="none" opacity="0.8"/>
<path d="M534.0 260.3h0m.1 .5h0m-.3 .3h0m.6-.5h0m-.1-.5h0" stroke="#3e82bc" stroke-width="0.65" stroke-linecap="round" fill="none" opacity="0.8"/>
</g>
<text x="604.9" y="204.6" font-size="7.84" textLength="32.60" lengthAdjust="spacingAndGlyphs" text-anchor="middle" fill="#222" stroke="#222" stroke-width="0.1">COSMOS</text>
<rect x="574.20" y="208.20" width="61.40" height="62.20" fill="#fff" stroke="#444" stroke-width="1.0"/>
<g clip-path="url(#cdCOSMOS)">
<path d="M586.4 224.5h0m.0-3.8h0m.0-.3h0m-2.3 11.8h0m-5.5-10.0h0m7.1 4.6h0m2.9-5.3h0m-10.4 6.3h0m10.7 1.0h0m-6.5-1.3h0m-3.9 .1h0m4.9-3.2h0m3.4 2.0h0m2.6 1.7h0m-8.1-7.2h0m7.1-2.2h0m-7.8 3.3h0m-1.1 4.1h0m7.0-7.0h0m-.4 .5h0m.7 9.7h0m-4.7-2.0h0m.6 6.2h0m6.0-9.3h0m-1.6-3.3h0m-3.4-1.3h0m4.5-.4h0m-10.7 5.6h0m4.7-4.5h0m2.6 4.3h0m3.6-5.0h0m-4.3-3.3h0m2.6 8.7h0m3.6 2.7h0m-5.9-4.7h0m2.5 9.5h0m-1.2-.4h0m-2.9-3.0h0m4.2-5.1h0m-2.7 4.7h0m2.8 2.2h0m-8.3-10.6h0m10.1 8.4h0m-8.5-8.3h0m5.1-3.3h0m-1.6 7.8h0m-1.0-2.3h0m.3-.5h0m3.6 2.6h0m-8.1 1.2h0m5.2-5.6h0m-.3 3.3h0m4.3-5.9h0m-5.1 12.4h0m7.8-6.1h0m-10.0-5.0h0m-3.2 4.1h0m8.1 .6h0m-3.9-2.3h0m6.9 2.4h0m-7.7-2.4h0m2.1 6.3h0m.3-11.7h0m3.7 8.3h0m-2.7 .6h0m2.5-7.4h0m-.5 8.0h0m2.7-3.0h0m-10.6 4.8h0m9.7 1.7h0m-6.0 3.1h0m5.5-15.2h0m-4.2 9.4h0m-1.8-5.6h0m5.5 3.5h0m-2.5-5.0h0m-4.2-1.9h0m4.9-.6h0m-6.4 3.8h0m11.3 1.4h0m-5.4 9.5h0m-3.3 1.5h0m3.0 .6h0m2.0-8.1h0m-8.1-1.5h0m6.5-2.4h0m-.1 11.7h0m-5.0-2.8h0m.7-2.5h0m.1 .2h0m1.0-7.5h0m1.8 12.5h0m5.5-6.1h0m-9.9 .7h0m9.7-9.8h0m.7 1.6h0m-8.8 .9h0m-.5 10.6h0m.4-2.5h0m2.6-6.5h0m-1.6 2.3h0m6.4-3.7h0m-3.6-4.3h0m.7 15.9h0m1.8-5.7h0m-3.1 3.7h0m-3.5-1.9h0m2.9-7.1h0m3.9 4.3h0m-1.3-4.2h0m-7.5 5.3h0m11.0-7.0h0m-5.6 1.4h0m-.6 3.5h0m6.7-2.6h0m.3 6.3h0m-4.1-10.2h0m-6.2 5.0h0m9.1 3.1h0m-3.9-1.7h0m-6.7 1.3h0m9.3 6.5h0m-7.9-6.5h0m-.5 4.1h0m.8-6.2h0m2.5-5.1h0m3.5 5.4h0m-6.2 5.0h0m5.3-.2h0m-3.8 2.6h0m4.0-3.0h0m-4.6 2.8h0m-2.0-11.0h0m5.8 4.9h0m-4.1 3.7h0m3.9-3.9h0m.5-1.2h0m-1.2-1.9h0m-.4-.7h0m4.0 9.3h0m-5.9-10.3h0m4.8-2.6h0m-7.4 6.5h0m4.6 4.7h0m2.6-.5h0m-2.2-6.6h0m2.5 4.3h0m-1.1-1.1h0m1.1 6.1h0m-1.4-7.3h0m-5.5 4.3h0m7.0-1.3h0m-7.3-7.7h0m10.0 9.1h0m-2.4 4.0h0m-1.0-4.7h0m-5.5-4.3h0m10.6 .2h0m-12.0 .9h0m9.2-4.1h0m-1.8 .8h0m-1.2 9.6h0m3.6-7.0h0m-6.0 10.4h0m2.9-16.4h0m-5.3 9.0h0m4.4 6.1h0m-1.4-2.1h0m.5-10.5h0m.6-1.8h0m.6 10.4h0m-.1-6.8h0m-2.3 1.0h0m.8-1.2h0m-1.8 1.0h0m8.8 4.5h0m-9.0 1.9h0m1.2-3.6h0m7.0 5.0h0m-7.0 3.1h0m-1.0-15.0h0m-3.4 3.0h0m4.2 7.8h0m-3.7-.4h0m5.9-12.2h0m-.5 13.3h0m-.1-10.8h0m2.3 2.6h0m-3.3 9.4h0m-.4-10.0h0m-.1-4.9h0m4.7 12.4h0m-6.1-9.8h0m6.3 12.4h0m.6-10.8h0m-3.6-1.9h0m-3.2 9.4h0m1.5-1.4h0m2.0-10.9h0m-3.4 17.5h0m8.6-3.5h0m-2.3 2.5h0m-1.6-7.3h0m-5.2 7.4h0m5.7-14.2h0m-6.5 7.3h0m-1.5-3.7h0m9.9 7.6h0m-4.1 .6h0m.4-1.3h0m2.8 3.9h0m2.7-11.1h0m-3.1 .6h0m-3.0 5.3h0m-3.8-8.8h0m1.0 .6h0m1.0-.5h0m-2.5 1.5h0m6.0-.3h0m-6.5 1.1h0m5.4 .7h0m.8-3.7h0m-1.7 4.8h0m5.1-4.1h0m-6.8 2.8h0m-2.2 9.9h0m-.4-2.2h0m4.7-8.2h0" stroke="#4cad3a" stroke-width="0.65" stroke-linecap="round" fill="none" opacity="0.8"/>
<path d="M601.4 222.5h0m3.6 5.8h0m-.5-12.2h0m.4 3.7h0m-.8 5.9h0m1.4-8.5h0m1.4-3.1h0m2.9 3.2h0m-3.2 5.5h0m.5-8.5h0m-4.8 12.5h0m3.7-11.4h0m-.3 13.7h0m-5.9-10.7h0m9.9 .9h0m-4.9-.9h0m2.7 7.9h0m-8.1-6.2h0m-.1-.7h0m1.7 2.0h0m5.4 4.9h0m-4.5-.6h0m5.0-11.7h0m-1.6 10.3h0m2.9-4.5h0m-5.3 7.8h0m-.8-6.7h0m-1.5-4.1h0m5.3 1.6h0m-3.8-.1h0m5.5-5.2h0m-2.1 10.1h0m3.1-1.6h0m-.6-1.5h0m-3.6-2.3h0m3.7 5.6h0m-1.1-3.8h0m-1.8-4.6h0m-5.7 8.3h0m2.7-1.8h0m3.3-8.2h0m-5.0 12.9h0m7.5-7.6h0m-5.8 5.6h0m1.2-5.8h0m-3.1 4.7h0m5.9 4.9h0m-3.0 .0h0m2.9-8.5h0m-3.8 .2h0m4.9 .4h0m-6.1-3.2h0m8.0-.3h0m-3.4-4.7h0m-.3 13.0h0m-2.2-11.9h0m-.7 9.0h0m.0-3.0h0m6.6 2.4h0m-1.4-8.1h0m-1.1 15.4h0m2.8-10.0h0m-1.8-1.8h0m-2.4 9.7h0m-1.3-13.9h0m4.0 6.7h0m1.6-.3h0m-4.4-.2h0m-2.4 4.3h0m4.8-4.3h0m-5.3 7.0h0m1.0-3.0h0m-.8 4.0h0m-1.3-9.3h0m4.3 9.8h0m1.1-13.1h0m-.9 7.2h0m-.3 3.5h0m-3.3-9.8h0m2.3 1.3h0m-1.7 11.9h0m3.6-3.7h0m-3.2-6.9h0m.5-1.8h0m-2.2 10.0h0m1.4-13.5h0m.8 5.4h0m5.2 .1h0m-1.3 2.3h0m-6.0 6.2h0m3.5 2.6h0m-2.7-4.4h0m5.3-10.9h0m-4.4 10.5h0m1.7-5.1h0m-3.6 .4h0m-.4-2.1h0m-.6 2.4h0m.8-.2h0m3.7 5.6h0m-1.4-1.6h0m.7-4.4h0m.8-6.8h0m-1.4 3.7h0m-3.9 5.0h0m1.8-1.0h0m-1.0-.8h0m1.3 1.0h0m6.3 2.1h0m-1.7 .5h0m-3.4-6.0h0m-.7 5.7h0m3.9-5.3h0m-3.5-2.9h0m1.5 .5h0m-2.7 2.6h0m4.6 1.3h0m-4.9 1.0h0m2.7 4.5h0m-2.0-1.5h0m-.8-7.9h0m5.4 .6h0m-6.0 2.1h0m4.3-6.0h0m2.4 14.4h0m.0-12.9h0m-.7 1.2h0m2.9 10.5h0m-5.7-10.3h0m-2.2 2.0h0m2.7 .3h0m4.3 4.1h0m-4.8-3.8h0m1.0 5.3h0m-2.5-1.7h0m6.8 2.4h0m-3.6-4.9h0m-3.6 2.6h0m3.5-6.7h0m3.1 1.8h0m-3.8 5.8h0m1.9 4.1h0m-2.4-6.9h0m-4.5-1.2h0m9.3 5.0h0m-4.8 4.0h0m5.9-5.2h0m-9.7-.1h0m.3 2.9h0m5.0 4.7h0m3.7-4.9h0m-3.2-7.1h0m-2.9 10.0h0m1.8-9.0h0m-1.6 .2h0m2.4-3.1h0m-4.1 1.9h0m2.4 6.3h0m5.8-3.9h0m-2.1 5.9h0m-.8-3.4h0m-3.8-8.8h0m-.5 1.8h0m-.4 11.2h0m-2.4-5.8h0m6.9-3.8h0m.7 11.6h0m.7-12.0h0m-4.2-.4h0m3.8 4.2h0m.6 4.5h0m-2.4-11.7h0m-2.4 12.5h0m-1.4-4.9h0m2.8 2.0h0m-2.4 .2h0" stroke="#f2832a" stroke-width="0.65" stroke-linecap="round" fill="none" opacity="0.8"/>
<path d="M629.0 250.6h0m-4.4-14.2h0m-3.1 6.8h0m4.2 7.7h0m-7.5-18.6h0m7.6 17.5h0m-5.8-13.5h0m3.3 4.7h0m.7 4.9h0m2.2-2.7h0m-1.6-5.9h0m-2.7 8.7h0m-3.0-7.2h0m7.2 5.4h0m-4.2 .7h0m7.5-1.3h0m-10.5-4.6h0m.9-4.0h0m-2.3 .8h0m9.7 12.5h0m1.3 4.0h0m2.6-8.5h0m-7.4 3.4h0m.9-7.0h0m-.5-4.4h0m1.1 11.9h0m-.4 2.0h0m-6.9-14.0h0m2.0 4.3h0m4.4 5.8h0m-.7-1.6h0m.3 3.0h0m2.6-10.1h0m-3.0 3.1h0m.4-6.5h0m-6.0 1.5h0m10.9 14.4h0m-.7-13.0h0m.3 13.0h0m-1.1-14.4h0m1.4 5.7h0m-.9 6.7h0m-.9-.5h0m-5.0-3.5h0m-2.3-8.8h0m2.2-1.9h0m4.1 18.4h0m-4.1-11.4h0m4.2 4.7h0m-.8-7.2h0m-5.0 .5h0m3.7 8.9h0m.9 2.3h0m6.5-2.2h0m-8.1-11.3h0m-5.6 1.1h0m2.5 8.7h0m4.7-7.5h0m-7.5-4.6h0m1.2 8.2h0m8.2 .0h0m3.3 .5h0m-11.0-1.4h0m-.5-9.1h0m5.7 14.4h0m-3.5-9.4h0m9.6 9.3h0m-3.8-4.3h0m-8.1-1.1h0m12.5 7.2h0m-5.6-12.5h0m-3.0 8.8h0m2.0 5.7h0m4.5-2.3h0m-8.6-14.0h0m5.9 13.1h0m-6.5-15.1h0m-1.9 4.7h0m8.8 4.0h0m-3.4-1.3h0m-2.7-4.6h0m5.7 3.9h0m1.7 7.6h0m-.2 2.4h0m-7.1-13.3h0m3.0 4.3h0m7.6 5.7h0m-12.9-7.7h0m11.6 11.8h0m-2.8-12.0h0m-1.0 8.4h0m3.5 2.3h0m-6.2-11.2h0m-4.5-4.1h0m7.5 6.7h0m-4.1 6.5h0m7.8-3.8h0m-1.1 1.4h0m-2.9-6.4h0m-.3 14.6h0m-7.0-8.7h0m-.8-4.0h0m.6-2.4h0m4.9-.1h0m2.2 13.6h0m5.5-3.4h0m-11.2-6.3h0m9.9 5.5h0m-3.3-3.3h0m2.1 3.9h0m.1-2.8h0m-3.0-9.8h0m-1.0 16.0h0m-6.2-7.3h0m3.2 .2h0m-2.4-11.0h0m3.6 3.3h0m5.9 5.7h0m-4.2-.2h0m-2.7-2.7h0m4.9 11.9h0m-5.2-18.8h0m-.3 1.5h0m6.2 5.7h0m-2.0 10.3h0m-6.7-17.2h0m5.6 5.9h0m.7 9.7h0m3.5-9.0h0m-2.5-1.2h0m.0-.4h0m2.7 6.2h0m-6.0-7.1h0m5.3 8.4h0m1.5-3.0h0m-7.3-4.8h0m5.3 2.1h0m-5.3 2.9h0m2.4 1.2h0m-1.9 6.9h0m4.0-7.5h0m1.4 12.0h0m.1-10.8h0m-10.0-6.1h0m9.0-.5h0m-9.2-4.4h0m6.2 2.1h0m-3.1 7.2h0m6.9 12.2h0m-4.2-2.6h0m1.8-2.5h0m.1-11.9h0m-6.5 1.8h0m7.9 14.5h0m-2.4-18.1h0m4.2 7.2h0m-3.9 5.5h0m-2.4-8.2h0m7.4 8.8h0m-5.8-1.3h0m-6.9-11.4h0m1.6 2.2h0m3.8 6.2h0m-3.0-5.0h0m9.6 14.7h0m-7.1-13.2h0m1.1 8.5h0m5.2 4.7h0m-.5-4.9h0m-2.6-6.5h0m4.9 5.1h0m-11.3-3.8h0m11.8 1.9h0m-2.2-4.4h0m-3.3 9.2h0m4.6-8.5h0m-3.5 11.0h0m-7.2-15.0h0m2.5 8.8h0m1.0 1.5h0m3.4 5.0h0m-3.9-10.4h0m-3.0 .5h0m12.2 8.0h0m-3.5-2.3h0m1.0-.8h0m-2.3-1.8h0m-9.3-8.4h0m8.7 6.6h0m-4.3-11.0h0m2.7 1.5h0m-.4 3.5h0m-6.4 .4h0m10.0-1.7h0m-2.2-.4h0m-4.3 3.8h0m-.4 5.0h0m2.7 .8h0m3.6-5.8h0m3.0 4.9h0m-8.5-6.5h0m2.2 .1h0m-.8-1.2h0m2.8 12.0h0m-.2-2.5h0m.1 5.4h0m-8.5-16.0h0m7.4 5.1h0m.3-7.4h0m-1.2 11.3h0m3.5 3.7h0" stroke="#3e82bc" stroke-width="0.65" stroke-linecap="round" fill="none" opacity="0.8"/>
<path d="M596.9 256.4h0m-9.6 5.9h0m-.1-.7h0m3.2-4.0h0m-2.4 .9h0m7.6 6.9h0m-3.7-9.1h0m4.5 .5h0m.1 2.3h0m-4.9-2.0h0m8.2 1.0h0m-9.4-4.0h0m4.1 5.9h0m-8.0-2.3h0m6.8-2.5h0m3.0 10.4h0m3.2-4.5h0m-11.9 1.1h0m12.6-3.1h0m-10.5 1.7h0m6.3 4.9h0m-8.7-5.0h0m.9-6.6h0m7.0 11.1h0m-2.7-5.1h0m2.4 5.7h0m-8.8-6.7h0m15.2 3.2h0m-12.7-3.6h0m3.1-1.7h0m-2.7 3.7h0m6.8-4.6h0m-1.6 .3h0m1.3 8.2h0m-2.4-7.7h0m-4.0 2.1h0m-2.5 .4h0m8.8 5.7h0m3.0 .1h0m-3.9-3.2h0m5.7-3.6h0m-13.4-2.6h0m9.6 4.0h0m-5.7-2.3h0m4.1-.3h0m-7.7-2.0h0m11.8 6.6h0m-10.2-6.2h0m10.2 5.5h0m-5.8-2.5h0m.2-3.4h0m5.1 5.9h0m-9.8-1.4h0m.1-5.8h0m1.9 1.6h0m3.5 .1h0m-5.8 1.4h0m4.4 3.7h0m-2.2-1.5h0m5.5-2.9h0m1.2 4.5h0m-.5-6.7h0m.9 5.7h0m.1 2.8h0m-7.1-7.3h0m8.6 2.2h0m-11.7 3.8h0m.8-5.0h0m4.2-1.6h0m8.4 3.7h0m-7.7 6.7h0m-.2-8.1h0m1.2 7.5h0m.2-.9h0m1.5-6.3h0m1.1 2.7h0m-1.5-5.6h0m.4 2.8h0m-5.6-.7h0m6.5 5.3h0m-7.2-5.2h0m7.5 2.2h0m-7.6 1.2h0m1.9 4.2h0m1.7-9.4h0m-4.2 7.5h0m8.2-1.1h0m-4.5-2.3h0m-.2-.5h0m5.6 3.4h0m-8.9-8.0h0m4.1 2.7h0m-2.9 4.7h0m8.0-4.7h0m-2.9 4.6h0m2.4 .8h0m-8.6-1.9h0m.7-1.6h0m2.6 3.9h0m.4-1.1h0m6.8 1.4h0m-10.9-1.7h0m5.0 4.6h0m-2.1-9.2h0m5.3 4.4h0m-6.2 2.7h0m8.4-3.1h0m-7.5-3.7h0m8.4 3.6h0m-13.9-2.0h0m9.5 .6h0m-1.7-4.1h0m-2.3 8.4h0m-.2-5.9h0m3.2 8.2h0m2.7-2.5h0m-6.4 2.1h0m.0-9.7h0m-2.8 1.2h0m8.1 5.4h0m-4.1-4.0h0m-.6-3.3h0m-2.9-.3h0m9.3 1.9h0m-5.5-1.0h0m9.0 5.6h0m-3.0-.5h0m-3.2 3.7h0m4.2-4.7h0m-2.7-.9h0m.5 .6h0m-5.8-2.7h0m-1.4 .7h0m4.0 8.6h0m1.1-3.8h0m.1 3.1h0m-2.2-7.3h0m6.3 3.4h0m-6.2-6.4h0m1.2 .1h0m-5.6-.8h0m6.5 6.7h0m1.1 4.8h0m.1 .5h0m2.8-4.3h0m-3.0-6.1h0m-1.5 3.7h0m-5.3 1.2h0m5.2-1.0h0m4.3-1.6h0m-4.0 8.0h0m-2.7-11.4h0m.6 .9h0m3.6 6.0h0m-9.0-1.0h0m5.6 3.6h0m6.1-2.7h0m-.3 .4h0m-12.8-4.0h0m9.8 7.1h0m.7-4.1h0m2.3 2.4h0m-9.2-7.5h0m-1.0-.8h0m6.2 1.7h0m.4 8.9h0m-2.8-4.1h0m4.3 4.5h0m1.6-1.2h0m-11.2-3.9h0m.5-2.7h0m-.8-2.9h0m8.5 5.4h0m-6.9-4.3h0m5.7 3.7h0m-3.6-1.0h0" stroke="#da3232" stroke-width="0.65" stroke-linecap="round" fill="none" opacity="0.8"/>
<path d="M594.2 224.1h0m-.2-1.5h0m.0-3.1h0m3.2 3.2h0m-.3-1.4h0m.8 .4h0m-1.7-3.7h0m-3.3 2.3h0m2.4-.5h0m2.8 1.4h0m-3.1-1.1h0m.9-2.4h0m-3.0 3.3h0m3.6 2.2h0m1.7-4.0h0m-1.4 3.4h0m-.5-1.0h0m1.5-2.9h0m-2.3 .5h0m-.3-2.1h0m-1.4 4.8h0m1.0 .9h0m1.0 1.1h0m-.2-3.3h0m-2.8-1.8h0m4.7 1.9h0" stroke="#9664c8" stroke-width="0.65" stroke-linecap="round" fill="none" opacity="0.8"/>
<path d="M591.3 232.1h0m.8 8.3h0m1.7-3.8h0m-1.8 1.1h0m-.4 2.1h0m1.5-9.4h0m-1.9 4.0h0m-2.8 2.7h0m5.8 .8h0m-6.0-.5h0m2.2-.3h0m3.6-1.5h0m.0-4.4h0m-3.6 1.0h0m1.3 2.2h0m-4.4 1.5h0m5.3-1.4h0m-1.1 1.1h0m-.8 2.3h0m2.5-8.4h0m-3.8 3.3h0m-1.5 3.8h0m6.9-.5h0m-.6 .9h0m-3.0 .9h0m1.7-6.9h0m-4.4 .6h0m5.6-1.0h0m-4.3 2.1h0m.2 .1h0m-1.2 2.3h0m4.1-1.9h0m-4.9-2.0h0m6.5 2.2h0m-3.0 .8h0m-3.3-1.7h0m1.4-1.0h0m.6 5.3h0m.8 .6h0m-1.7-4.8h0m1.6-.8h0m1.0-1.1h0m-4.0 7.8h0m5.2-1.1h0m-4.6-3.4h0m2.3-1.7h0m.0-3.1h0m2.2 .0h0m-.5 4.4h0m-.5 5.9h0m.0-10.7h0m-.5 1.6h0m-1.0 .6h0m2.4-1.6h0m-3.7 .2h0m2.4 1.4h0m3.2 5.5h0m-1.4-4.7h0m-1.6 1.4h0m-2.9 2.3h0m3.3-2.8h0" stroke="#9664c8" stroke-width="0.65" stroke-linecap="round" fill="none" opacity="0.8"/>
<path d="M586.1 243.0h0m5.8-1.1h0m-2.4 2.6h0m-1.0 6.7h0m.7-.3h0m.9-4.0h0m2.2-4.0h0m-1.8 3.0h0m.6-2.3h0m-.7-1.3h0m.8 7.3h0m-1.0 1.3h0m-2.3-.4h0m-.1-5.5h0m2.6 3.2h0m.7 1.0h0m-.8 .4h0m-.9 .7h0m-1.3-6.1h0m2.6-1.5h0m.4 4.5h0m-2.6 3.5h0m2.9-7.7h0m.1 1.6h0m-3.5-2.4h0m-.1 5.5h0m.2-5.8h0m-.5-.2h0m2.6 3.0h0m-1.6 4.2h0m3.4 .2h0m-5.8-4.7h0m1.5-3.4h0m5.6 6.8h0m-4.0-2.8h0m.3-3.8h0m-3.0 7.8h0m5.1 .0h0m.3-2.0h0m-1.2-.1h0m-1.2-3.5h0m.0-2.7h0m-3.4 9.5h0m1.0-5.1h0m3.8 3.9h0m-4.1-7.4h0m3.6 9.2h0m2.2-2.0h0m-2.9-3.0h0m-1.1 2.6h0m.2-2.4h0m.5-1.0h0m-.5-2.1h0m-1.0-1.4h0m-2.6 5.2h0m2.9-3.9h0m-1.5 7.3h0m2.0 1.1h0m.9-10.1h0m-.9 .4h0m1.4-.5h0" stroke="#9664c8" stroke-width="0.65" stroke-linecap="round" fill="none" opacity="0.8"/>
<path d="M593.5 251.4h0m1.7-.8h0m-1.3 1.9h0m2.9-.6h0m-4.4-.4h0m1.1-2.2h0m.8 2.6h0m-1.5 2.8h0m-.4-4.6h0m-.5 3.3h0m4.1-1.2h0m-3.0-1.2h0m-1.3 2.1h0m-.2 .3h0m1.0-.2h0m1.5-2.6h0m2.6 .9h0m-1.3 3.4h0m-2.1-.7h0m.6 .0h0m-.1-3.3h0m.5-.3h0m.2-.8h0m-2.5 .5h0m1.7 .4h0m2.7 1.8h0" stroke="#9664c8" stroke-width="0.65" stroke-linecap="round" fill="none" opacity="0.8"/>
<path d="M605.1 232.2h0m2.5-3.1h0m-1.9 .0h0m-.2-1.8h0m-2.4 5.4h0m1.2-5.3h0m1.8 5.5h0m-.8-1.9h0m-1.4-.9h0m1.2-1.5h0m-1.0 3.5h0m2.2-4.6h0m-1.9 4.3h0m2.2-5.7h0m1.5 6.6h0m-.7-2.6h0m-1.1-2.1h0m-.2 3.2h0m3.2-1.1h0m-.2-1.7h0m-1.9 4.1h0m.3-3.5h0m.5-.4h0m-4.8 1.7h0m5.1-.8h0m.2 .2h0m-4.5 .5h0m-.3-1.8h0m4.1 1.0h0m-1.1 2.1h0" stroke="#9664c8" stroke-width="0.65" stroke-linecap="round" fill="none" opacity="0.8"/>
<path d="M616.9 249.0h0m-.2-2.6h0m1.8-2.1h0m2.1 4.6h0m-1.9-5.9h0m-2.3 5.1h0m2.3-4.0h0m3.1 3.1h0m-3.7 .0h0m3.5-1.5h0m-5.1 .4h0m4.6-1.3h0m.1 2.0h0m-.8-.2h0m1.4-1.9h0m-1.6 4.7h0m-3.5-2.0h0m4.3-2.6h0m-1.8-.1h0m2.4 2.1h0m-2.3 3.4h0m-1.2-6.5h0m2.6 4.1h0m-.8-5.3h0m-.4 3.8h0m-2.6 2.6h0" stroke="#9664c8" stroke-width="0.65" stroke-linecap="round" fill="none" opacity="0.8"/>
<path d="M613.5 233.6h0m-.6-3.5h0m5.1 1.7h0m-2.6 1.1h0m-1.3-1.2h0m.4 1.2h0m-1.1-1.2h0m-.4 .1h0m1.6 .5h0m-1.6-.9h0m4.0 1.0h0m-3.5 .9h0" stroke="#9664c8" stroke-width="0.65" stroke-linecap="round" fill="none" opacity="0.8"/>
<path d="M603.1 245.2h0m.7 .5h0m.7-1.8h0m-1.1 .0h0" stroke="#9664c8" stroke-width="0.65" stroke-linecap="round" fill="none" opacity="0.8"/>
</g>
<text x="218.9" y="279.2" font-size="7.84" textLength="19.81" lengthAdjust="spacingAndGlyphs" text-anchor="middle" fill="#222" stroke="#222" stroke-width="0.1">ATAC</text>
<rect x="188.20" y="282.80" width="61.40" height="62.50" fill="#fff" stroke="#444" stroke-width="1.0"/>
<g clip-path="url(#cdATAC)">
<circle cx="230.32" cy="286.97" r="1.11" fill="#3e82bc" opacity="0.95"/>
<circle cx="235.90" cy="289.19" r="1.42" fill="#9664c8" opacity="0.95"/>
<circle cx="240.14" cy="289.19" r="1.11" fill="#4cad3a" opacity="0.95"/>
<circle cx="234.17" cy="293.04" r="0.76" fill="#da3232" opacity="0.95"/>
<circle cx="217.98" cy="292.08" r="0.76" fill="#f2832a" opacity="0.95"/>
<circle cx="223.35" cy="291.30" r="0.65" fill="#da3232"/>
<circle cx="224.05" cy="291.90" r="0.65" fill="#3e82bc"/>
<circle cx="224.75" cy="291.30" r="0.65" fill="#f2832a"/>
<circle cx="208.35" cy="296.22" r="1.77" fill="#da3232" opacity="0.95"/>
<circle cx="193.90" cy="302.19" r="3.03" fill="#9664c8" opacity="0.95"/>
<circle cx="224.32" cy="295.15" r="0.65" fill="#da3232"/>
<circle cx="225.02" cy="295.75" r="0.65" fill="#3e82bc"/>
<circle cx="225.72" cy="295.15" r="0.65" fill="#f2832a"/>
<circle cx="227.21" cy="298.04" r="0.65" fill="#da3232"/>
<circle cx="227.91" cy="298.64" r="0.65" fill="#3e82bc"/>
<circle cx="228.61" cy="298.04" r="0.65" fill="#f2832a"/>
<circle cx="227.62" cy="303.93" r="0.76" fill="#da3232" opacity="0.95"/>
<circle cx="220.49" cy="308.17" r="1.01" fill="#4cad3a" opacity="0.95"/>
<circle cx="225.69" cy="309.13" r="1.52" fill="#9664c8" opacity="0.95"/>
<circle cx="230.80" cy="311.35" r="1.26" fill="#3e82bc" opacity="0.95"/>
<circle cx="223.76" cy="312.79" r="0.76" fill="#f2832a" opacity="0.95"/>
<circle cx="222.20" cy="317.31" r="0.65" fill="#da3232"/>
<circle cx="222.90" cy="317.91" r="0.65" fill="#3e82bc"/>
<circle cx="223.60" cy="317.31" r="0.65" fill="#f2832a"/>
<circle cx="244.00" cy="314.24" r="2.78" fill="#3e82bc" opacity="0.95"/>
<circle cx="213.94" cy="323.87" r="1.77" fill="#f2832a" opacity="0.95"/>
<circle cx="242.07" cy="324.83" r="0.91" fill="#3e82bc" opacity="0.95"/>
<circle cx="228.87" cy="329.65" r="0.91" fill="#f2832a" opacity="0.95"/>
<circle cx="226.94" cy="334.47" r="1.42" fill="#9664c8" opacity="0.95"/>
<circle cx="223.09" cy="336.20" r="0.91" fill="#4cad3a" opacity="0.95"/>
<circle cx="207.39" cy="339.96" r="2.28" fill="#4cad3a" opacity="0.95"/>
<circle cx="232.24" cy="339.29" r="1.11" fill="#da3232" opacity="0.95"/>
</g>
<text x="283.0" y="279.2" font-size="7.84" textLength="27.73" lengthAdjust="spacingAndGlyphs" text-anchor="middle" fill="#222" stroke="#222" stroke-width="0.1">MOFA+</text>
<rect x="252.30" y="282.80" width="61.40" height="62.50" fill="#fff" stroke="#444" stroke-width="1.0"/>
<g clip-path="url(#cdMOFAp)">
<circle cx="255.97" cy="287.26" r="0.60" fill="#f2832a" opacity="0.95"/>
<circle cx="271.00" cy="289.19" r="0.91" fill="#9664c8" opacity="0.95"/>
<circle cx="282.76" cy="288.51" r="1.26" fill="#9664c8" opacity="0.95"/>
<circle cx="310.69" cy="285.82" r="0.60" fill="#da3232" opacity="0.95"/>
<circle cx="263.78" cy="293.72" r="1.11" fill="#4cad3a" opacity="0.95"/>
<circle cx="278.61" cy="293.52" r="0.76" fill="#da3232" opacity="0.95"/>
<circle cx="282.27" cy="296.22" r="0.60" fill="#da3232" opacity="0.95"/>
<circle cx="286.42" cy="296.41" r="0.91" fill="#f2832a" opacity="0.95"/>
<circle cx="292.10" cy="295.45" r="1.01" fill="#3e82bc" opacity="0.95"/>
<circle cx="308.48" cy="297.38" r="0.60" fill="#da3232" opacity="0.95"/>
<circle cx="273.89" cy="299.79" r="1.01" fill="#4cad3a" opacity="0.95"/>
<circle cx="305.20" cy="301.04" r="0.60" fill="#4cad3a" opacity="0.95"/>
<circle cx="280.64" cy="302.68" r="0.91" fill="#9664c8" opacity="0.95"/>
<circle cx="278.32" cy="304.12" r="0.60" fill="#3e82bc" opacity="0.95"/>
<circle cx="287.76" cy="303.45" r="1.42" fill="#da3232" opacity="0.95"/>
<circle cx="295.28" cy="306.24" r="0.61" fill="#9664c8" opacity="0.95"/>
<circle cx="302.99" cy="305.37" r="1.11" fill="#3e82bc" opacity="0.95"/>
<circle cx="276.20" cy="308.17" r="0.76" fill="#f2832a" opacity="0.95"/>
<circle cx="285.45" cy="309.42" r="0.61" fill="#9664c8" opacity="0.95"/>
<circle cx="287.38" cy="310.19" r="0.60" fill="#9664c8" opacity="0.95"/>
<circle cx="293.83" cy="309.90" r="0.61" fill="#f2832a" opacity="0.95"/>
<circle cx="300.39" cy="310.38" r="1.11" fill="#da3232" opacity="0.95"/>
<circle cx="258.48" cy="311.83" r="0.60" fill="#3e82bc" opacity="0.95"/>
<circle cx="269.56" cy="312.02" r="1.92" fill="#4cad3a" opacity="0.95"/>
<circle cx="280.64" cy="312.79" r="0.76" fill="#da3232" opacity="0.95"/>
<circle cx="299.61" cy="314.91" r="0.60" fill="#9664c8" opacity="0.95"/>
<circle cx="296.92" cy="315.39" r="0.61" fill="#f2832a" opacity="0.95"/>
<circle cx="255.78" cy="316.93" r="0.61" fill="#9664c8" opacity="0.95"/>
<circle cx="279.58" cy="318.38" r="0.60" fill="#f2832a" opacity="0.95"/>
<circle cx="288.54" cy="318.38" r="0.91" fill="#4cad3a" opacity="0.95"/>
<circle cx="294.32" cy="318.38" r="0.76" fill="#f2832a" opacity="0.95"/>
<circle cx="282.56" cy="320.21" r="1.52" fill="#f2832a" opacity="0.95"/>
<circle cx="303.28" cy="320.98" r="1.26" fill="#9664c8" opacity="0.95"/>
<circle cx="273.60" cy="326.57" r="2.28" fill="#9664c8" opacity="0.95"/>
<circle cx="297.21" cy="328.40" r="0.60" fill="#da3232" opacity="0.95"/>
<circle cx="285.36" cy="329.84" r="0.91" fill="#3e82bc" opacity="0.95"/>
<circle cx="280.15" cy="331.29" r="0.60" fill="#da3232" opacity="0.95"/>
<circle cx="291.23" cy="333.50" r="1.92" fill="#3e82bc" opacity="0.95"/>
<circle cx="272.83" cy="333.79" r="0.76" fill="#9664c8" opacity="0.95"/>
<circle cx="295.57" cy="339.96" r="0.60" fill="#3e82bc" opacity="0.95"/>
<circle cx="279.19" cy="341.69" r="0.60" fill="#3e82bc" opacity="0.95"/>
</g>
<text x="347.2" y="279.2" font-size="7.84" textLength="32.54" lengthAdjust="spacingAndGlyphs" text-anchor="middle" fill="#222" stroke="#222" stroke-width="0.1">MEFISTO</text>
<rect x="316.50" y="282.80" width="61.40" height="62.50" fill="#fff" stroke="#444" stroke-width="1.0"/>
<g clip-path="url(#cdMEFISTO)">
<circle cx="339.24" cy="288.51" r="2.02" fill="#9664c8" opacity="0.95"/>
<circle cx="351.09" cy="289.96" r="0.76" fill="#f2832a" opacity="0.95"/>
<circle cx="355.23" cy="288.23" r="0.61" fill="#f2832a" opacity="0.95"/>
<circle cx="363.33" cy="290.83" r="1.52" fill="#f2832a" opacity="0.95"/>
<circle cx="360.24" cy="290.15" r="0.76" fill="#f2832a" opacity="0.95"/>
<circle cx="356.87" cy="293.52" r="1.01" fill="#f2832a" opacity="0.95"/>
<circle cx="344.64" cy="297.38" r="1.01" fill="#da3232" opacity="0.95"/>
<circle cx="341.94" cy="300.75" r="0.60" fill="#da3232" opacity="0.95"/>
<circle cx="346.27" cy="299.30" r="0.60" fill="#da3232" opacity="0.95"/>
<circle cx="356.87" cy="297.67" r="0.91" fill="#9664c8" opacity="0.95"/>
<circle cx="366.79" cy="298.82" r="1.92" fill="#3e82bc" opacity="0.95"/>
<circle cx="372.96" cy="296.90" r="0.76" fill="#3e82bc" opacity="0.95"/>
<circle cx="371.80" cy="302.68" r="0.76" fill="#3e82bc" opacity="0.95"/>
<circle cx="367.47" cy="304.12" r="0.60" fill="#3e82bc" opacity="0.95"/>
<circle cx="333.75" cy="302.97" r="0.76" fill="#3e82bc" opacity="0.95"/>
<circle cx="336.16" cy="303.35" r="0.61" fill="#3e82bc" opacity="0.95"/>
<circle cx="338.28" cy="303.74" r="0.60" fill="#3e82bc" opacity="0.95"/>
<circle cx="342.42" cy="306.53" r="1.52" fill="#9664c8" opacity="0.95"/>
<circle cx="346.27" cy="303.93" r="0.60" fill="#9664c8" opacity="0.95"/>
<circle cx="325.75" cy="307.20" r="0.60" fill="#da3232" opacity="0.95"/>
<circle cx="325.56" cy="312.79" r="0.61" fill="#f2832a" opacity="0.95"/>
<circle cx="320.07" cy="299.88" r="0.60" fill="#9664c8" opacity="0.95"/>
<circle cx="354.46" cy="304.60" r="0.61" fill="#da3232" opacity="0.95"/>
<circle cx="352.54" cy="309.90" r="0.91" fill="#da3232" opacity="0.95"/>
<circle cx="355.43" cy="307.01" r="0.60" fill="#da3232" opacity="0.95"/>
<circle cx="358.61" cy="306.82" r="0.60" fill="#9664c8" opacity="0.95"/>
<circle cx="361.21" cy="307.01" r="0.76" fill="#3e82bc" opacity="0.95"/>
<circle cx="359.95" cy="312.31" r="0.91" fill="#4cad3a" opacity="0.95"/>
<circle cx="366.02" cy="312.79" r="1.11" fill="#9664c8" opacity="0.95"/>
<circle cx="347.24" cy="311.83" r="0.76" fill="#9664c8" opacity="0.95"/>
<circle cx="342.90" cy="314.72" r="0.60" fill="#4cad3a" opacity="0.95"/>
<circle cx="344.83" cy="316.65" r="0.61" fill="#4cad3a" opacity="0.95"/>
<circle cx="347.24" cy="318.09" r="0.61" fill="#4cad3a" opacity="0.95"/>
<circle cx="348.68" cy="318.76" r="0.60" fill="#4cad3a" opacity="0.95"/>
<circle cx="360.24" cy="318.09" r="0.76" fill="#da3232" opacity="0.95"/>
<circle cx="369.39" cy="318.09" r="0.60" fill="#4cad3a" opacity="0.95"/>
<circle cx="372.29" cy="314.91" r="0.60" fill="#3e82bc" opacity="0.95"/>
<circle cx="350.13" cy="322.91" r="1.26" fill="#9664c8" opacity="0.95"/>
<circle cx="354.94" cy="321.94" r="1.01" fill="#4cad3a" opacity="0.95"/>
<circle cx="355.91" cy="319.05" r="0.61" fill="#9664c8" opacity="0.95"/>
<circle cx="372.29" cy="324.83" r="0.91" fill="#3e82bc" opacity="0.95"/>
<circle cx="361.21" cy="325.80" r="1.11" fill="#4cad3a" opacity="0.95"/>
<circle cx="363.90" cy="326.09" r="1.11" fill="#4cad3a" opacity="0.95"/>
<circle cx="356.20" cy="327.24" r="0.60" fill="#4cad3a" opacity="0.95"/>
<circle cx="328.16" cy="327.72" r="1.11" fill="#da3232" opacity="0.95"/>
<circle cx="341.75" cy="321.46" r="0.60" fill="#3e82bc" opacity="0.95"/>
<circle cx="355.14" cy="333.02" r="0.61" fill="#9664c8" opacity="0.95"/>
<circle cx="341.94" cy="341.89" r="0.60" fill="#f2832a" opacity="0.95"/>
</g>
<text x="411.6" y="279.2" font-size="7.84" textLength="42.51" lengthAdjust="spacingAndGlyphs" text-anchor="middle" fill="#222" stroke="#222" stroke-width="0.1">SpatialGlue</text>
<rect x="380.90" y="282.80" width="61.40" height="62.50" fill="#fff" stroke="#444" stroke-width="1.0"/>
<g clip-path="url(#cdSpatialGlue)">
<path d="M390.7 294.7h0m-2.4 2.3h0m3.2-2.4h0m1.1 6.5h0m2.0-4.5h0m-5.6 10.1h0m4.3-9.0h0m.7 1.9h0m-1.2-4.6h0m-4.5 5.8h0m4.0 2.3h0m-4.7 2.0h0m4.3 .1h0m-5.4 3.6h0m9.6-12.3h0m-4.0 9.7h0m-2.8-2.9h0m-2.4-2.3h0m5.2 5.8h0m-3.5 2.7h0m3.3-11.9h0m2.8-3.2h0m-3.2 1.7h0m-2.7 8.4h0m5.0-6.1h0m-2.8 8.4h0m-4.0-6.6h0m5.8-7.5h0m1.9 5.1h0m-3.5 6.9h0m.7-2.4h0m-3.6-3.9h0m-1.0 1.1h0m8.2-2.7h0m-3.6-.3h0m-2.7 4.3h0m-3.7 4.8h0m8.1-8.7h0m-1.5 8.2h0m-1.7-5.3h0m-5.0 6.4h0m4.8-6.9h0m-1.0 2.9h0m-2.1-3.6h0m4.1 .9h0m-4.8 9.2h0m7.2-10.0h0m-7.9 10.3h0m2.9-12.5h0m-.8 6.0h0m3.4 1.2h0m4.8-6.1h0m-7.3 .0h0m2.1-.7h0m2.4-1.1h0m-4.8 2.4h0m-1.4 2.5h0m6.6-7.5h0m-4.1 1.9h0m1.8 5.1h0m3.6 .7h0m-6.1 1.9h0m1.1-7.5h0m-.8 6.6h0m-.8-2.9h0m4.0 5.3h0m1.5-10.4h0m-2.1 1.2h0m2.2 8.1h0m-6.9-1.6h0m-.3 5.6h0m1.4-2.1h0m8.0-8.9h0m-9.3 3.3h0m-.3 6.7h0m5.4-12.0h0m3.4 2.1h0m-2.3 6.1h0m-.6-3.9h0m-1.6-2.6h0m4.0 4.9h0m-6.3 .8h0m6.2-4.6h0m-7.0 3.7h0m3.1 4.6h0m-5.5-1.8h0m.8 .8h0m6.4-1.6h0m-1.6-1.4h0m-1.4 8.2h0m2.9-12.6h0m2.0 2.5h0m-7.9 4.7h0m5.8-9.3h0m-2.0 2.7h0m4.0 4.3h0m-6.8 6.3h0m7.2-8.3h0m-3.3 5.0h0m-.9 2.9h0m1.9-1.0h0m-2.5-8.5h0m-1.5 4.0h0m3.6-5.6h0m-4.5 9.1h0m6.8-4.3h0m-1.9-4.8h0m-3.0 2.5h0m1.0 .0h0m-2.1 4.9h0m1.4-1.5h0m-3.9 4.3h0m3.9-7.9h0m-1.2 4.5h0m-1.4-2.3h0m4.5 .0h0m1.7-6.8h0m-3.2 8.1h0m3.5-8.9h0m-.4 4.1h0m-6.8 11.0h0m.7-1.5h0m.0-3.0h0m3.2-1.3h0m-1.0 4.0h0m.5-1.7h0m-4.1 1.8h0m6.0-13.7h0m1.3 7.6h0m-4.1-4.6h0m-.5 6.2h0m1.7-4.8h0m1.9-1.7h0m1.2-1.1h0m-5.3 15.3h0m2.1-4.3h0m3.5-5.8h0m-2.2-5.8h0m.5 7.0h0m-4.0-2.7h0m3.1 9.7h0m-.2-12.6h0m.7-1.8h0m-.1 7.0h0m-4.4 .0h0m2.1 1.8h0m5.6-5.8h0m-5.3 11.7h0m-4.1-.9h0m9.9-11.9h0m-1.1-1.7h0m-5.0 5.9h0m3.3 2.7h0m.2-3.4h0m-6.0 6.7h0m8.2-4.4h0m-6.0 5.1h0m3.9-9.0h0m1.7 4.6h0m-.8-6.6h0m1.3-2.1h0m-9.4 9.5h0m7.7 2.2h0m-6.9 1.9h0m1.4 2.0h0m4.2-10.4h0m-4.6 10.5h0m6.3-4.2h0m1.4-11.6h0m-.3 5.1h0m-1.6-1.0h0m-7.2 4.7h0m8.0-7.9h0m-6.5 9.1h0m1.2-1.3h0m3.6-6.1h0m2.7 1.0h0m-.1 2.3h0m-6.8 8.7h0m7.7-9.5h0m-6.5 2.9h0m-2.9 1.3h0m2.1-3.6h0m6.4-2.1h0m-6.7 5.7h0m5.0 1.8h0m-1.8 .2h0m1.8-11.8h0m.4 11.3h0m.3-5.8h0m-6.4 7.2h0m-1.9-.1h0m3.5 3.7h0m5.7-14.0h0m-5.3 .0h0m1.1 3.4h0m1.7 3.6h0m3.6-4.0h0m-7.5-1.5h0m4.7 3.3h0m.6-4.7h0m2.5 .8h0m-6.6 8.2h0m-1.7-4.4h0m.8-2.9h0m1.2-1.5h0m3.6 8.5h0m1.4-10.3h0" stroke="#3e82bc" stroke-width="0.65" stroke-linecap="round" fill="none" opacity="0.8"/>
<path d="M417.9 290.3h0m-3.3-1.2h0m1.5-3.0h0m-1.1 2.2h0m-1.2 4.2h0m3.3-.5h0m-4.6-2.8h0m4.5 1.5h0m1.9 3.9h0m-2.6-6.4h0m-3.0 .0h0m5.5 1.0h0m-2.7 4.4h0m.0 .6h0m-3.3-3.0h0m2.2 2.1h0m4.3 .2h0m.7-2.6h0m-3.1-4.0h0m-1.1 2.5h0m-2.6 1.0h0m4.7 5.0h0m-1.7 .5h0m2.8-6.9h0m-4.3 5.9h0m2.8-.8h0m.8-1.7h0m-1.3-6.2h0m-3.5 1.1h0m.2-1.0h0m-1.4 5.7h0m6.7-5.0h0m-6.8 1.3h0m2.1 2.4h0m2.5 1.4h0m.3 .6h0m2.3-2.9h0m-3.1-4.2h0m-1.7 7.0h0m2.5-5.4h0m-2.7-.1h0m-.7 2.2h0m3.4 .5h0m-2.4-1.4h0m2.2 2.4h0m2.8-1.6h0m-6.7 5.1h0m1.9 .0h0m.3-5.4h0m3.9 3.8h0m-1.0-5.0h0m-2.9 7.9h0m3.8-8.9h0m-6.8 3.0h0m3.9 5.0h0m2.0-8.8h0m-1.4 8.3h0m-3.4-1.4h0m2.6-5.8h0m.3 2.7h0m-2.4 2.9h0m1.2-.9h0m-.8 .5h0m2.5 .9h0m-1.9-5.6h0m.6 8.3h0m-2.9-7.7h0m2.8 4.8h0m1.0-4.1h0m-.8 1.1h0m3.2 2.7h0m-.7-2.8h0m1.3 2.0h0m-4.8-.9h0m4.9 1.2h0m-4.0 3.5h0m-1.5-1.2h0m-1.3-6.9h0m2.5 4.3h0m.9-3.8h0m-1.4 1.5h0m1.9 1.4h0m-.6 .1h0m1.5 4.2h0m1.7-7.9h0m-.6 3.5h0m-1.4-2.8h0m-3.2-1.4h0m5.2 1.9h0m-5.1 2.9h0m3.7-3.0h0m-4.4 6.4h0m.5-5.0h0m.3-1.9h0m2.0-2.6h0m.9 9.8h0m-2.5-3.0h0m2.1-6.5h0m-.7 .0h0m1.2 7.4h0m2.4-4.6h0m-4.3 4.6h0m3.4-2.5h0m-.8-3.2h0m-3.8 6.0h0m2.2-4.2h0m2.4 1.5h0m1.2-1.4h0m-2.9 5.6h0m1.9-2.9h0m-.5-4.5h0m-1.3 .0h0m-5.2 3.0h0m4.7 2.1h0m-4.0-1.8h0m-.3 .8h0m5.8 3.7h0m2.3-4.2h0m-4.3 3.5h0m3.6-3.4h0m-7.7-1.7h0m2.1 4.1h0m4.9-1.9h0m-3.3-2.0h0" stroke="#f2832a" stroke-width="0.65" stroke-linecap="round" fill="none" opacity="0.8"/>
<path d="M422.3 303.3h0m-3.0-.9h0m-2.3 5.9h0m7.2 9.0h0m-6.9-6.7h0m2.9 4.4h0m-1.0-.2h0m.1 3.8h0m4.7-16.6h0m-2.6 10.1h0m.4 2.9h0m-1.5-4.0h0m.9 5.1h0m-3.0-10.1h0m2.3 1.9h0m-2.4 7.8h0m-2.6-7.8h0m5.9 2.3h0m-.7-9.7h0m-2.1 15.1h0m6.5-9.0h0m-1.3 9.0h0m-2.5-9.9h0m4.9 9.8h0m-6.1 5.2h0m1.4-18.9h0m-.8 6.1h0m1.2-1.4h0m2.3-4.5h0m-7.5 12.0h0m6.1 .7h0m-6.4-2.5h0m7.7-2.1h0m3.4-3.2h0m-12.6 4.1h0m10.4-6.7h0m-5.5 15.9h0m3.1-3.3h0m-4.1-9.7h0m-1.4 2.9h0m9.5 2.9h0m-8.5-6.1h0m9.1 6.4h0m-3.4 5.9h0m-2.5-6.0h0m1.2 6.8h0m2.8-12.1h0m-6.1 1.8h0m5.5 6.7h0m-2.4-9.9h0m-1.6 9.0h0m-3.3-.7h0m6.1-1.6h0m1.4-7.4h0m-4.9 3.9h0m1.3-1.5h0m2.5 12.4h0m-4.8-7.4h0m1.2 2.0h0m-2.4-11.0h0m3.8 17.3h0m3.9-11.9h0m-6.9-2.6h0m.0-5.6h0m4.5 6.5h0m2.6 2.3h0m2.0 1.1h0m-9.1-4.1h0m6.0-1.1h0m-2.0 11.1h0m-3.7-11.0h0m6.8 8.2h0m-7.8 .6h0m2.0-11.3h0m4.7 8.2h0m-4.7-2.1h0m1.5 7.6h0m-2.7-11.3h0m-.8 6.1h0m6.8 3.7h0m-.3-6.3h0m-6.1 5.9h0m-1.0-7.0h0m.9-5.7h0m5.3-1.8h0m-6.8 2.7h0m3.7 7.4h0m4.7-3.1h0m-4.3 1.0h0m-.2 1.1h0m2.4-5.9h0m-1.2 16.1h0m-5.3-8.0h0m1.9-8.8h0m6.6 11.3h0m1.1-11.0h0m-.5 3.3h0m-10.0 5.4h0m-1.0-1.1h0m5.7-8.1h0m6.1 3.4h0m.5 7.1h0m-9.9-1.6h0m6.6-5.9h0m-1.3 8.3h0m.5-1.6h0m2.3-2.0h0m-4.7-1.8h0m-1.0-1.2h0m-3.4 8.4h0m2.4-10.9h0m7.6 .1h0m-5.4 13.1h0m-.9-3.1h0m.2-12.6h0m6.2 1.1h0m-7.9 1.7h0m1.8-2.2h0m.2 2.8h0m2.6 7.0h0m-5.8-8.0h0m4.9-4.1h0m-2.2 16.5h0m1.2 3.2h0m4.3-5.6h0m-6.3 4.7h0m6.6-15.4h0m-3.9-2.3h0m2.2 11.0h0m-5.0-4.9h0m6.4 9.5h0m-.7-15.8h0m.2 10.5h0m.3-5.2h0m.7 3.9h0m-3.9 .2h0m.3-11.4h0m4.2 9.1h0m-9.4 1.8h0m1.0 .3h0m3.3-4.5h0m-3.7 5.3h0m-.4-5.7h0m6.9 8.2h0m-5.8-6.1h0m6.3 9.3h0m-3.7-6.1h0m2.8-4.4h0m-3.4-5.6h0m6.1 4.9h0m-8.4 4.9h0m2.4 2.5h0m4.0 6.0h0m-3.8-6.7h0m6.2 .3h0m-2.5 2.6h0m-7.4-2.9h0m9.3-8.1h0m-2.7 10.5h0m-.3-11.8h0m-2.0 14.1h0m2.1-13.4h0m-7.1 10.5h0m5.8 4.9h0m-.8-1.2h0m.9-12.4h0m-4.5 2.2h0m9.8-.7h0m-4.5 .6h0m1.1 5.0h0m1.1-10.3h0m-7.0 10.8h0m6.5-1.4h0m-.2-10.6h0m.2 4.3h0m2.5 4.1h0m-8.3 5.6h0m-3.1-6.5h0m6.0-5.4h0m-4.9 6.9h0m6.6-2.2h0m-3.3-2.3h0m-.4-3.3h0m.6 2.2h0m.2 10.6h0m2.2 3.2h0m-3.1-5.6h0m-3.0 4.6h0m5.3-7.5h0m-1.2-5.9h0m-3.2 4.5h0m7.5 6.7h0m-6.2-3.4h0m8.0-3.7h0m-4.4-2.6h0m-2.7 11.0h0m3.4-15.2h0m1.0 3.3h0m2.0 10.6h0m-10.6-8.0h0m11.8 .5h0m-6.6 2.3h0m2.6 8.5h0m1.7-10.6h0m-8.9 6.6h0m6.6-10.3h0m.2-.2h0m-.3-1.7h0m-3.7 4.1h0m5.3 12.2h0m-3.0-12.2h0m-1.2-5.0h0m.7 3.9h0m-5.5 1.9h0m.8 6.6h0m7.3 2.2h0m.0-5.1h0m-6.8-2.1h0m.5 7.6h0m-.9-10.0h0m4.0 6.5h0m.1-4.1h0m-.1 7.9h0m-.5-17.1h0m-2.4 15.8h0m1.6-7.1h0m5.4 10.8h0m1.0-5.0h0m-1.2-1.1h0m-6.7-.5h0m8.7 1.8h0m-7.9-.7h0m3.8-12.7h0m-6.9 6.0h0m.3 5.3h0m5.4 4.6h0m-.7-14.1h0m-3.7 2.4h0m3.8 2.8h0m3.2 9.5h0m-2.5 1.4h0m-2.9-12.4h0m-1.7 6.6h0m5.4 6.9h0m6.1-10.9h0m-3.1 1.8h0m2.3-4.8h0m-6.2 6.2h0m-.9 3.5h0m3.7 3.5h0m-1.9-7.2h0m3.6-2.3h0m-10.2 3.9h0m.8 1.4h0m3.2-13.0h0m-2.9 8.9h0m6.5-9.6h0m-2.1 10.4h0m-4.2-2.2h0m-.1 6.8h0m5.3-6.0h0m3.9 1.9h0m-3.5 3.3h0m-3.3-13.5h0m-.7 10.4h0m-1.9-6.5h0m6.8 10.7h0m-1.3-13.8h0m-2.0 1.2h0m4.2 10.5h0" stroke="#9664c8" stroke-width="0.65" stroke-linecap="round" fill="none" opacity="0.8"/>
<path d="M415.6 313.1h0m-1.5-1.0h0m-.2 .1h0m.1 1.6h0m-1.6-.2h0m1.3 .8h0m.3-2.4h0m1.4-.1h0m-3.0 .0h0m1.3 1.8h0m-1.0 .2h0m1.8-1.0h0m-1.5-1.2h0m2.0 2.0h0m-2.8 .0h0" stroke="#9664c8" stroke-width="0.65" stroke-linecap="round" fill="none" opacity="0.8"/>
<path d="M436.6 309.4h0m-2.3 2.2h0m1.1 6.1h0m2.1-4.5h0m.2-1.0h0m-3.3-2.6h0m4.0 2.1h0m-5.5 5.5h0m1.6-3.0h0m2.5-2.8h0m2.8 1.3h0m-3.6-4.4h0m-1.0 3.6h0m1.6-6.7h0m1.1 .3h0m-5.7 3.5h0m-.2 3.4h0m3.6 3.2h0m.4 3.9h0m-1.8-13.9h0m4.3 4.6h0m-2.1 9.1h0m-2.2 .9h0m1.3-6.2h0m-1.3-2.5h0m.0-3.1h0m3.2-2.6h0m1.8 7.7h0m-2.4-1.0h0m-1.9-3.0h0m-2.4 4.8h0m1.6 .3h0m-2.0-1.8h0m4.1-4.9h0m-.6 10.4h0m-2.2-2.5h0m1.8-1.7h0m3.5-.6h0m-1.0-1.7h0m-.5 7.7h0m.3 .0h0m-4.0-9.4h0m4.5 6.7h0m.2-1.4h0m1.3-5.0h0m-2.7 .7h0m-3.3 6.6h0m2.1-.5h0m-3.7-7.2h0m3.2 3.9h0m.1-3.3h0m-3.3 3.1h0m6.4-3.6h0m-5.7 .9h0m4.1-2.7h0m-5.2 4.9h0m-.2 .7h0m6.0-2.0h0m-.5-.8h0m-.9 8.7h0m-3.5-8.4h0m6.1 4.3h0m-4.5 4.7h0m1.0-7.0h0m-.8-7.2h0m.4 14.6h0m3.4-8.6h0m-5.4 3.1h0m5.3-6.8h0m-4.1 9.7h0m.2-13.9h0m2.0 11.5h0m-1.9 .3h0m-.2-8.8h0m.0 1.1h0m.1-2.8h0m.7 7.9h0m1.5 4.5h0m1.9-11.7h0m-4.5 9.3h0m.5-6.3h0m3.3-4.3h0m1.7 9.1h0m-7.4-1.7h0m3.9-4.5h0m1.7 10.4h0m-2.0-8.8h0m-.4-.6h0m-.6-.6h0m3.2 5.7h0m-5.1 .2h0m4.2-2.8h0m2.3-1.4h0m-7.7 2.3h0m3.2-1.4h0m3.4 5.6h0m-1.3-11.1h0m-.1 1.4h0m.8 5.8h0m.6-4.0h0m-3.4 3.1h0m4.0 6.3h0m-.9-7.2h0m.7-5.0h0m-5.1 2.0h0m-1.0 7.7h0m7.1-5.2h0m-7.5 .1h0m2.1 9.0h0m1.5-10.6h0m-1.3 .6h0m3.0-4.6h0m-2.8 12.9h0m-1.2-1.1h0m2.8 2.6h0m-4.6-6.4h0m1.7 2.7h0m1.7-7.2h0m-3.0-.2h0m7.9 5.2h0m-3.5 7.0h0m-3.4-4.4h0m2.5 3.0h0m-3.0-1.5h0m4.0-9.6h0m-.2 1.7h0m-3.7 6.3h0m6.5 .1h0m-6.0-.7h0m-1.4-1.5h0m5.2 .0h0m1.4 3.6h0m-4.0-.7h0m.8-2.6h0m-1.4-9.2h0m4.1 3.7h0m-3.8 2.7h0m2.5-.8h0m-4.2 1.7h0m3.6-3.0h0m-.6 6.9h0m-2.3-3.2h0m-.1-4.5h0m3.6 4.0h0m-4.0 1.7h0m5.7 1.6h0m-.5-10.9h0m-5.3 2.3h0m1.5 1.0h0m2.7 7.9h0m-4.2-3.0h0m4.7 3.1h0m-4.2 1.2h0m3.7 .8h0m-4.8-7.1h0m3.7-2.2h0" stroke="#da3232" stroke-width="0.65" stroke-linecap="round" fill="none" opacity="0.8"/>
<path d="M416.6 332.2h0m5.1 1.5h0m-7.1 5.3h0m5.7 .5h0m-4.1 .4h0m-3.7-4.8h0m4.4 3.2h0m2.4-9.1h0m.9 6.8h0m-2.8 5.2h0m-2.7-11.7h0m4.5 8.5h0m.4-5.4h0m.9-3.4h0m-3.5 9.3h0m-1.5-6.5h0m-2.9 .9h0m5.1 7.0h0m-.9-8.0h0m.2 2.7h0m-.1-5.8h0m5.5 6.5h0m-7.6-5.7h0m4.4 3.7h0m-5.3 7.2h0m.6-5.2h0m1.7 6.2h0m-.4-9.2h0m-1.3 5.8h0m4.5-1.1h0m-1.7-.9h0m-3.6-5.9h0m-.2 5.9h0m1.1-7.3h0m3.8-1.5h0m-2.7 13.6h0m4.2-7.8h0m-4.8-4.4h0m-1.6 4.8h0m7.4-2.2h0m-.1 2.3h0m-4.3-5.1h0m1.6-.2h0m-2.5 9.0h0m5.3-4.7h0m-.6 5.3h0m-3.1-.6h0m-2.5 1.2h0m-1.6 .8h0m.6 .0h0m2.8-9.5h0m-1.1 2.9h0m2.1 9.9h0m-1.6-13.7h0m.7 7.9h0m2.8-3.0h0m.8 3.0h0m-2.7 4.1h0m-.9-5.6h0m.4 4.4h0m.4-7.9h0m1.0 8.8h0m.0-3.9h0m-6.4-.6h0m6.5-2.4h0m-5.7-2.6h0m6.4 5.9h0m-3.9-5.4h0m-1.5 3.1h0m6.3 .6h0m-3.8-2.5h0m-.4 6.1h0m4.1 .8h0m-6.6-9.4h0m4.3 1.2h0m-.2 8.4h0m-1.3-9.9h0m-2.8 1.1h0m4.4 .6h0m-1.7-3.3h0m3.8 3.1h0m1.1 8.6h0m-1.1 .4h0m-1.4-9.7h0m-1.9 10.1h0m-3.1-2.4h0m6.1 2.6h0m-4.2-9.0h0m.0 3.4h0m.5 2.6h0m-2.8-.7h0m-1.0-.3h0m6.4-7.5h0m-4.4 12.1h0m7.8-6.2h0m-2.1 .0h0m-1.6-8.1h0m2.2 8.9h0m-5.3-4.7h0m3.2-2.4h0m2.0 .7h0m-.8 4.7h0m-.9 .2h0m1.8 3.4h0m-3.5-9.8h0m-4.3 9.1h0m3.9-1.0h0m3.5-1.5h0m-8.4 1.1h0m6.9 1.9h0m-1.0-4.9h0m-1.7-4.8h0m-3.2 5.4h0m1.3-2.7h0m7.2 7.1h0m.3-7.7h0m-5.8-3.0h0m-.5 1.8h0m2.5 13.5h0m2.9-4.2h0m-2.6-6.8h0m-4.0 2.8h0m-1.0 3.8h0m.8-4.6h0m3.7 4.8h0m.6-9.4h0m-3.1 .1h0m.5 6.1h0m2.2 5.4h0m1.7-4.4h0m-2.5-6.4h0m2.0 8.3h0m-7.0-2.0h0m3.7 2.3h0m-3.5-5.2h0m8.7-4.0h0m-1.1 5.5h0m.0-4.1h0m-5.3 1.4h0m-1.7 .8h0m1.3 1.2h0m-.9 2.3h0m7.1 1.2h0m-6.0 2.4h0m6.2-9.2h0m-2.4 7.2h0m-3.6-7.4h0m1.0 2.9h0m-2.5 3.8h0m8.9-5.7h0m-8.2-2.7h0m4.7 11.3h0m-4.8-1.0h0m1.6-6.7h0m3.0-2.2h0m1.0 10.6h0m-.8-6.8h0m-2.4 3.9h0m4.4-2.4h0m-5.9 5.5h0m1.4 1.7h0m3.6-8.8h0m-5.0-5.0h0m4.1 5.5h0m2.0 .1h0m-6.7-4.4h0m-1.2 .8h0m1.5 1.6h0m-1.3 1.6h0m2.7-6.3h0m.8 7.8h0m1.2 6.2h0m3.8-5.3h0m-2.4 1.0h0m2.5-2.4h0m-4.8-7.3h0" stroke="#4cad3a" stroke-width="0.65" stroke-linecap="round" fill="none" opacity="0.8"/>
</g>
<text x="476.1" y="279.2" font-size="7.84" textLength="19.09" lengthAdjust="spacingAndGlyphs" text-anchor="middle" fill="#222" stroke="#222" stroke-width="0.1">MISO</text>
<rect x="445.40" y="282.80" width="61.40" height="62.50" fill="#fff" stroke="#444" stroke-width="1.0"/>
<g clip-path="url(#cdMISO)">
<circle cx="473.64" cy="285.82" r="0.60" fill="#da3232" opacity="0.95"/>
<circle cx="478.84" cy="287.94" r="1.26" fill="#da3232" opacity="0.95"/>
<circle cx="491.94" cy="294.49" r="1.77" fill="#4cad3a" opacity="0.95"/>
<circle cx="480.57" cy="298.34" r="0.60" fill="#9664c8" opacity="0.95"/>
<circle cx="483.94" cy="300.75" r="0.91" fill="#4cad3a" opacity="0.95"/>
<circle cx="469.49" cy="303.83" r="0.61" fill="#f2832a" opacity="0.95"/>
<circle cx="495.79" cy="305.37" r="0.91" fill="#3e82bc" opacity="0.95"/>
<circle cx="484.91" cy="305.86" r="0.91" fill="#da3232" opacity="0.95"/>
<circle cx="482.79" cy="307.01" r="0.60" fill="#9664c8" opacity="0.95"/>
<circle cx="490.98" cy="309.13" r="0.91" fill="#4cad3a" opacity="0.95"/>
<circle cx="499.65" cy="308.94" r="0.60" fill="#9664c8" opacity="0.95"/>
<circle cx="503.69" cy="309.61" r="0.60" fill="#3e82bc" opacity="0.95"/>
<circle cx="476.72" cy="311.83" r="1.11" fill="#9664c8" opacity="0.95"/>
<circle cx="483.94" cy="312.79" r="0.76" fill="#3e82bc" opacity="0.95"/>
<circle cx="489.99" cy="313.46" r="0.65" fill="#da3232"/>
<circle cx="490.69" cy="314.06" r="0.65" fill="#3e82bc"/>
<circle cx="491.39" cy="313.46" r="0.65" fill="#f2832a"/>
<circle cx="469.20" cy="317.42" r="1.42" fill="#f2832a" opacity="0.95"/>
<circle cx="474.79" cy="318.86" r="1.11" fill="#9664c8" opacity="0.95"/>
<circle cx="485.39" cy="317.80" r="0.91" fill="#3e82bc" opacity="0.95"/>
<circle cx="480.09" cy="319.73" r="0.60" fill="#f2832a" opacity="0.95"/>
<circle cx="492.61" cy="320.31" r="0.91" fill="#da3232" opacity="0.95"/>
<circle cx="496.47" cy="317.80" r="0.61" fill="#f2832a" opacity="0.95"/>
<circle cx="455.33" cy="322.62" r="0.60" fill="#3e82bc" opacity="0.95"/>
<circle cx="460.34" cy="327.24" r="0.71" fill="#f2832a" opacity="0.95"/>
<circle cx="448.49" cy="328.40" r="0.60" fill="#9664c8" opacity="0.95"/>
<circle cx="477.20" cy="327.53" r="0.61" fill="#da3232" opacity="0.95"/>
<circle cx="485.87" cy="327.05" r="2.28" fill="#9664c8" opacity="0.95"/>
<circle cx="492.61" cy="328.40" r="0.76" fill="#4cad3a" opacity="0.95"/>
<circle cx="467.86" cy="330.33" r="1.01" fill="#9664c8" opacity="0.95"/>
<circle cx="484.23" cy="340.54" r="1.77" fill="#3e82bc" opacity="0.95"/>
</g>
<text x="540.5" y="279.2" font-size="7.84" textLength="46.82" lengthAdjust="spacingAndGlyphs" text-anchor="middle" fill="#222" stroke="#222" stroke-width="0.1">SpaMultiVAE</text>
<rect x="509.80" y="282.80" width="61.40" height="62.50" fill="#fff" stroke="#444" stroke-width="1.0"/>
<g clip-path="url(#cdSpaMultiVAE)">
<path d="M534.2 287.8h0m2.4 .5h0m2.1-.3h0m-.2 .6h0m-2.3-1.9h0m1.2 2.9h0m.1-1.0h0m-1.2-1.9h0m-4.0 1.0h0m5.8 .7h0m-2.9-.1h0m2.3 1.2h0m-4.2-3.8h0m-.5 .1h0m6.6 5.1h0m-4.1-2.0h0m5.8 2.1h0m-1.0-.7h0m1.1 .0h0m-9.0-3.5h0m4.1 1.3h0m-3.0-2.4h0m8.7 4.7h0m-6.6-1.1h0m.4 .3h0m6.2 .3h0m-10.9-4.3h0m2.3 .5h0m2.7 3.2h0m3.8 .5h0m-3.1 .1h0m6.2 1.5h0m-7.4-2.7h0m-1.1-1.8h0m1.5 .6h0m2.5 .5h0m-2.7 1.5h0m1.3 .2h0m.4-1.2h0m-.1-.3h0m-3.8-.6h0m-2.2-.8h0m5.0 .3h0m2.5 4.1h0m.7-1.3h0m-5.3-2.4h0m5.2 2.5h0m-.1 .8h0m-3.2-.8h0m4.7-.6h0m-7.4-1.4h0m4.9 .4h0m-2.5 1.7h0m.9-3.1h0m2.8 1.2h0m1.5 2.6h0m1.0 .0h0m-5.9-.7h0m4.6-1.0h0m.1 2.7h0m-2.1-3.5h0m-5.3-.2h0m5.3 3.1h0m-2.9-4.7h0m3.9 2.8h0m-2.9 1.0h0m-.6-.5h0m6.3 1.6h0m-6.8-4.2h0m-.5 1.6h0m-2.5-1.0h0m1.8-.8h0m2.5 3.6h0m-.5-3.5h0m1.0 3.4h0m-3.6-2.3h0m-.5-.4h0m.8 1.4h0m4.5 .7h0m.5 .2h0m-2.5 .4h0m-.6-.8h0m3.6-.1h0m-2.0 .0h0m-2.5-3.1h0m-4.4-.4h0m6.7 4.2h0m-6.3-4.7h0m4.6 4.0h0m-1.9-3.3h0m-1.1-.6h0m4.9 4.6h0m1.1 .9h0m-5.9-3.8h0m.4-.5h0m.4 1.7h0m.5 .3h0m5.6 1.1h0m-3.1-.5h0m-.3-1.6h0m.7-.9h0m-.7 3.1h0m-5.1-4.3h0m1.1 1.0h0m5.4 3.1h0m-.8 .6h0m-5.5-4.9h0m10.2 4.5h0m-9.3-1.9h0m4.9-.5h0m.0 2.4h0m-3.9-3.9h0m-2.5 .4h0m11.4 3.7h0m-3.5-1.0h0m-3.6-1.0h0m7.1 2.2h0m-4.0-2.3h0m-.1-.1h0m-2.5-1.5h0m1.8 4.1h0m.3-2.4h0" stroke="#9664c8" stroke-width="0.65" stroke-linecap="round" fill="none" opacity="0.8"/>
<path d="M525.9 296.8h0m-.5 .3h0m.2 1.0h0m.1-.1h0m-.6-.8h0m-.1 .4h0m.9-.5h0m-.2 .2h0m.0-1.2h0m-.3 .8h0" stroke="#3e82bc" stroke-width="0.65" stroke-linecap="round" fill="none" opacity="0.8"/>
<path d="M540.4 300.2h0m-.1 .6h0m-1.0-.6h0m1.1-1.5h0m-4.1 1.1h0m2.9 .2h0m-1.8-.1h0m3.1-.9h0m-2.0 1.2h0m-1.2 .7h0m.6-1.9h0m-.9-.1h0m2.8 3.1h0m1.6-2.0h0m-3.4-1.6h0m-.8 2.9h0m.4-.6h0m2.3-1.5h0m-2.4 1.6h0m.8-.2h0m1.4 1.6h0m-.8-.5h0m-.9-2.8h0m3.1 2.4h0m.1 .1h0m.0-2.7h0m-3.8 .6h0m.2 1.5h0m.7-2.6h0m1.5 .1h0m-.9-.3h0m.8 .0h0m-.7 .4h0m-2.0 3.1h0m3.7-.3h0m.2-2.2h0m-3.5 2.0h0m.3-1.6h0m.0 .4h0m2.6 .9h0m-1.9-2.5h0m1.6 1.9h0m-1.0 2.3h0m.9-2.7h0m-1.3-.3h0m2.3-.1h0m-1.9-.2h0m2.2 .6h0m-1.2 1.8h0m-3.0-2.0h0m2.5 2.0h0m.2-3.0h0m-2.8 1.5h0m3.5-1.8h0m1.1 1.9h0m-5.0-.5h0m1.1 2.1h0m2.8-1.4h0m.6-1.1h0m-3.8 2.8h0m3.0-2.7h0m-1.7 .7h0m-2.2 .3h0m4.6-.8h0m-.2 .8h0m-1.3 2.1h0m-2.6-2.4h0m4.5 1.3h0" stroke="#4cad3a" stroke-width="0.65" stroke-linecap="round" fill="none" opacity="0.8"/>
<path d="M535.9 306.4h0m-.4 .2h0m.8-.3h0m.3 1.1h0m-1.2-1.1h0m1.9 .1h0m-1.8 .2h0m-.1 .1h0m1.2-.6h0m-.2 .0h0m-1.1 .6h0m1.3 .7h0m.8-1.1h0m-1.0 .3h0m.6 .4h0m-.3-1.1h0" stroke="#4cad3a" stroke-width="0.65" stroke-linecap="round" fill="none" opacity="0.8"/>
<path d="M527.1 310.0h0m.4 .3h0m.2-.2h0m.9 .7h0m-1.6 .8h0m1.0-.7h0m-.2 1.3h0m-.4-.9h0m2.1 .0h0m-1.4 .0h0m.4 .6h0m-1.5-1.9h0m.3 1.4h0m2.3-1.1h0m-2.4 1.0h0m.1-.5h0m.1 .5h0m1.9-1.1h0m.0 .0h0m.0 .8h0m-.9-.3h0m-1.2 .7h0m1.2 .7h0m.1-1.6h0m-.3 .7h0m-.3-1.3h0m1.9 1.4h0" stroke="#9664c8" stroke-width="0.65" stroke-linecap="round" fill="none" opacity="0.8"/>
<path d="M535.1 310.6h0m3.7-.5h0m-4.6-.1h0m.9-.1h0m.5-.1h0m-2.4 .2h0m.1-.1h0m3.3 .4h0m1.0-.4h0m-1.5 .7h0m1.2-.7h0m-3.3-.1h0m3.8 .8h0m-1.4-.2h0m1.6 .0h0m-4.0-.3h0m2.8 .2h0m-.8-.3h0m2.0-.2h0m-1.2 .4h0m-1.8-.4h0m4.0 .7h0m-5.3 .0h0m3.7-.2h0m1.0-.4h0m-.2 .6h0m-2.8-.1h0" stroke="#4cad3a" stroke-width="0.65" stroke-linecap="round" fill="none" opacity="0.8"/>
<path d="M549.9 310.9h0m.3 .5h0m-6.0 .0h0m1.3-.2h0m2.5-.6h0m-3.1 .3h0m1.0-.6h0m-1.4 .9h0m-.3-.8h0m5.1-.1h0m-.3 .6h0m-2.8 .6h0m-.9-.8h0m-2.7 .4h0m3.4-.8h0m-4.0 .4h0m2.7 .8h0m4.1-1.3h0m-6.1 .3h0m5.4 .7h0m.7-.9h0m-6.5 .7h0m4.5 .3h0m-4.1-.6h0m1.8 .1h0m3.7 .6h0m-.7-1.0h0m-.6-.2h0m-.5 1.4h0m1.0 .0h0m-2.8-.9h0m-.4 .1h0m3.0-.3h0m1.0 .9h0m-.5 .1h0m-2.5-1.4h0m3.6 .9h0m-1.2-.7h0m2.2 .6h0m-5.6-.2h0m-1.4-.1h0m5.2-.2h0m-4.0 .6h0m2.8 .4h0m2.1-.2h0m-.2-.8h0m.4 .9h0m.4-.8h0m-2.8 .3h0m1.2 .0h0m-2.3 .8h0m-1.6-.9h0m-.2 .5h0m.0-.2h0" stroke="#da3232" stroke-width="0.65" stroke-linecap="round" fill="none" opacity="0.8"/>
<path d="M554.4 311.7h0m.7-.2h0m-2.1 .0h0m3.7 .0h0m-1.8-.7h0m1.5 .1h0m.4 .3h0m-5.4-.2h0m5.4 .4h0m-1.3-.7h0m-1.9 .6h0m-.1-.4h0m1.9 .0h0m-1.2 .7h0m.0-.4h0m-1.1 .1h0m-.4 .2h0m1.5-.6h0m2.1-.1h0m-2.3 .8h0m1.7-1.1h0m.3 1.0h0m-.9 .1h0m-2.2-1.1h0m-.1 .3h0m.6 .5h0m2.8-.4h0m-3.5 .6h0m4.2-.2h0m-2.6-.7h0m-.1 .9h0m.7 .0h0m.1-1.1h0" stroke="#da3232" stroke-width="0.65" stroke-linecap="round" fill="none" opacity="0.8"/>
<path d="M545.4 314.4h0m-.3 .0h0m1.4-1.4h0m-1.0 2.5h0m1.0-3.0h0m-1.1 .6h0m-.2 .8h0m-.6-.7h0m-.1 .2h0m.9-.2h0m.0-1.8h0m.1 3.8h0m-.7-.8h0m.4-2.7h0m.8 .2h0m-1.1 .0h0m.4 4.0h0m.8-.4h0m-1.6-2.4h0m1.5-.4h0m-1.0-1.0h0m.0 .5h0m.3-.1h0m1.3 1.9h0m-1.0-.2h0m.1 .7h0m.6-1.1h0m.0-.2h0m-.1 .7h0m-.1 1.7h0m-.5 .0h0m-.3-4.1h0m-.6 3.0h0" stroke="#da3232" stroke-width="0.65" stroke-linecap="round" fill="none" opacity="0.8"/>
<path d="M533.9 317.0h0m.8 1.7h0m-2.1-1.7h0m.5 1.5h0m1.1-1.4h0m.0 .9h0m.0 1.1h0m-.9 .2h0m1.7-.9h0m-2.3-.1h0m.9 .4h0m-1.3 .6h0m1.7-.8h0m-.8-1.6h0m-1.5 1.7h0m.1-1.0h0m2.8 .2h0m-.1 .8h0m-1.5-1.0h0m-.2 1.4h0m-.1-1.2h0m-1.1 .4h0m2.1-.4h0m.0 .4h0m-1.5 .7h0m1.3 .1h0m-1.3 .1h0m.0-1.2h0m1.8 .2h0m-1.1-1.2h0m.6 1.4h0m.0 .1h0m.6-.3h0m-1.6-.5h0m2.2 .2h0m-1.3 1.7h0m-.9-1.8h0m2.1-.6h0m-3.0 .7h0m.3 .7h0" stroke="#f2832a" stroke-width="0.65" stroke-linecap="round" fill="none" opacity="0.8"/>
<path d="M533.4 322.8h0m.2-.1h0m.1-.4h0m-.4-.1h0m.3 1.1h0m.5-.4h0m-.9 .0h0m.5-.2h0m.9-.2h0m-.9 .5h0m.6-1.0h0m-.3 .3h0m.3 .3h0" stroke="#f2832a" stroke-width="0.65" stroke-linecap="round" fill="none" opacity="0.8"/>
<path d="M516.3 319.2h0m-.8 .4h0m-.9 .5h0m2.3 .1h0m-2.6-.6h0m2.0-.2h0m-1.9 .6h0m2.6-.2h0m-.5 .6h0m-.1-1.3h0m-1.3 .8h0m-.4-.6h0m1.9 .5h0m-1.3 .0h0m1.1 .0h0m-.2-.5h0m-.7 .6h0m.9-.3h0m-1.5 .5h0m2.3-.1h0" stroke="#3e82bc" stroke-width="0.65" stroke-linecap="round" fill="none" opacity="0.8"/>
<path d="M538.1 324.3h0m-.7-1.4h0m1.3 2.4h0m-.9-.2h0m2.0-2.2h0m-.4 .3h0m.5 2.2h0m-.4-1.7h0m-.7 2.3h0m.4-4.2h0m.6 3.9h0m-1.3-.6h0m-1.2-.8h0m1.0 .7h0m-.5-1.7h0m.1 .0h0m2.3 1.9h0m-1.6-3.1h0m1.1 .0h0m-1.1 .8h0m.1 3.4h0m-1.5-3.4h0m3.2 .8h0m.1 .6h0m-3.2-1.4h0m.7 .8h0m1.0 1.5h0m-.6-.9h0m-.3-1.2h0m1.0 3.0h0m1.0-.5h0m-.5-1.1h0m-.8 .9h0m.5-1.2h0m-.7-.6h0m.3-.3h0m.3-.4h0m-.9 2.3h0m.5-.1h0m-.6-2.6h0" stroke="#9664c8" stroke-width="0.65" stroke-linecap="round" fill="none" opacity="0.8"/>
<path d="M541.2 326.5h0m.6-.3h0m-1.3-.6h0m1.3-.4h0m-.8 .7h0m.7-.5h0m-.7 .5h0m-.8-.1h0m1.5 .3h0m.1 .3h0m-.1-.8h0m-.9-.2h0m.5 1.0h0" stroke="#9664c8" stroke-width="0.65" stroke-linecap="round" fill="none" opacity="0.8"/>
<path d="M520.9 327.4h0m1.1 1.3h0m1.0-1.2h0m-2.1 .7h0m.6-.6h0m.4-.4h0m.0 1.3h0m1.7-.2h0m-.9 .2h0m-.6 .4h0m-.5-1.6h0m.9 .6h0m-1.7 .6h0m1.7-.2h0m-1.5-.6h0m.7 .2h0m-.7 .5h0m2.1 .2h0m-.4-1.0h0m-1.5 .9h0m.4 .1h0m1.2-1.4h0m-1.9 .9h0m.4-.6h0" stroke="#3e82bc" stroke-width="0.65" stroke-linecap="round" fill="none" opacity="0.8"/>
<path d="M524.2 326.1h0m-.4-.6h0m-.2 .5h0m.5-.3h0m-.4-.9h0m-.2-.1h0" stroke="#9664c8" stroke-width="0.65" stroke-linecap="round" fill="none" opacity="0.8"/>
<path d="M555.2 329.2h0m-1.8-.1h0m.4 .3h0m-.4-1.3h0m1.5 .7h0m-1.0 .2h0m.9-.7h0m.0 .5h0m.3-.5h0m-.3 .6h0m.2 .6h0m-.2-.7h0m-1.1-1.1h0m.9 1.4h0m-.9 .2h0m.3-.5h0m-.7-.6h0m1.1 .3h0" stroke="#4cad3a" stroke-width="0.65" stroke-linecap="round" fill="none" opacity="0.8"/>
<path d="M552.0 333.0h0m-1.9 .3h0m.6-.4h0m.6-.4h0m-2.9-2.4h0m3.0 2.1h0m-.7 1.4h0m-1.2-2.5h0m1.4 .0h0m-1.4-.6h0m2.2 2.4h0m-1.0 .4h0m-2.4-2.5h0m3.1 3.1h0m.4-.4h0m-2.2-.7h0m.1-.8h0m.1 .0h0m2.5 .9h0m-.8-.4h0m-2.0-.5h0m3.1 1.6h0m-.3-.6h0m-2.1-.6h0m-.2-1.3h0m1.4 1.7h0m.8 .0h0m-3.2-2.1h0m3.1 2.7h0m-3.8-2.7h0m.4 .9h0m3.8 1.9h0m-1.3-1.9h0m-1.7-.1h0m-.8 .1h0m2.3 1.9h0m-2.2-3.2h0m2.5 3.7h0m-.6-.5h0m-.5-1.5h0" stroke="#9664c8" stroke-width="0.65" stroke-linecap="round" fill="none" opacity="0.8"/>
<path d="M555.0 333.8h0m-.4-.2h0m.8 .6h0m-.8 .1h0m.6-.7h0m-.1 .2h0" stroke="#9664c8" stroke-width="0.65" stroke-linecap="round" fill="none" opacity="0.8"/>
<path d="M540.2 332.4h0m-3.1 3.5h0m4.7 3.6h0m-3.6-5.2h0m3.5 2.8h0m-1.5 3.7h0m-2.6-1.7h0m1.8-1.3h0m2.3 .0h0m-3.0-1.4h0m2.2-.1h0m-1.0 5.1h0m.6-.8h0m.6-4.7h0m.1 3.2h0m-1.0-2.4h0m-.7 2.5h0m.6-4.0h0m-.9 2.7h0m2.0-5.2h0m.0 .2h0m-.6 8.0h0m-.8-6.1h0m.4-2.3h0m-2.3 4.6h0m.7 .4h0m-.8 2.8h0m1.7-2.1h0m1.6-5.5h0m-2.0 3.5h0m-1.0-2.6h0m3.6 6.7h0m-2.6-1.0h0m-1.4-1.9h0m1.8-.6h0m1.2 1.7h0m-.2-3.2h0m-1.4 3.2h0m1.0-2.3h0m-.4-1.6h0m.2 .3h0m-1.9 5.6h0m4.0-1.6h0m-4.1 .0h0m-.8-.5h0m2.0-1.5h0m-.4 3.5h0m.0-5.1h0m2.7-.6h0m-2.4-.2h0m1.9 .1h0m1.0-.4h0m-4.0 .7h0m2.7 .5h0m.9-2.3h0m.0 6.8h0m-2.4-2.1h0m1.5 2.6h0m-3.0-6.6h0m.3 3.5h0m2.0-2.2h0m-1.8 2.2h0m.9-4.4h0m-1.6 5.1h0m.5 1.6h0m-.4-5.0h0m3.7 3.5h0m-2.8 .8h0m1.2-1.2h0m-.4-2.2h0m-1.2 .4h0m1.5 .1h0m.2 5.2h0m1.0-1.4h0m-.9-1.4h0m1.6-.2h0m.0-.3h0m-3.0-2.8h0m2.2-.2h0m.6 1.7h0m-3.6 2.3h0m1.8-5.8h0m-1.1 .1h0m3.6 4.9h0m-1.6-.9h0m-1.6 .5h0m2.8 2.5h0m-3.1-3.4h0m2.3-1.6h0m-2.8 4.1h0m2.7-4.7h0m-1.4-.7h0m-1.8 2.9h0m4.4 2.0h0m-1.5-2.5h0m-1.3-1.4h0m-1.8 2.1h0m3.3-1.2h0m.2 .4h0m.4 3.8h0m-3.5-.5h0m2.5-3.2h0m1.8 1.2h0m-2.9 1.8h0m3.5-.8h0m-2.5-6.0h0m.2 1.8h0m2.1 3.9h0m-1.9-2.9h0m-.7 5.3h0m-1.9-.5h0m1.5-.9h0m.1-1.5h0m-1.4-3.0h0m.8 .2h0m1.0 4.5h0m-.1-3.5h0m-2.1-1.8h0m3.5 3.2h0m-.2 3.2h0m-3.7-3.7h0m1.7 3.4h0" stroke="#3e82bc" stroke-width="0.65" stroke-linecap="round" fill="none" opacity="0.8"/>
<circle cx="513.01" cy="306.82" r="0.61" fill="#f2832a" opacity="0.95"/>
<circle cx="545.09" cy="306.82" r="0.60" fill="#f2832a" opacity="0.95"/>
<circle cx="527.27" cy="314.24" r="0.61" fill="#f2832a" opacity="0.95"/>
<circle cx="540.27" cy="313.76" r="0.76" fill="#9664c8" opacity="0.95"/>
<circle cx="538.64" cy="313.76" r="0.60" fill="#f2832a" opacity="0.95"/>
<circle cx="542.68" cy="321.27" r="0.60" fill="#f2832a" opacity="0.95"/>
<circle cx="544.61" cy="320.02" r="0.60" fill="#9664c8" opacity="0.95"/>
<circle cx="526.30" cy="326.28" r="0.60" fill="#3e82bc" opacity="0.95"/>
<circle cx="567.92" cy="325.32" r="0.60" fill="#f2832a" opacity="0.95"/>
</g>
<text x="604.9" y="279.2" font-size="7.84" textLength="25.81" lengthAdjust="spacingAndGlyphs" text-anchor="middle" fill="#222" stroke="#222" stroke-width="0.1">SMART</text>
<rect x="574.20" y="282.80" width="61.40" height="62.50" fill="#fff" stroke="#444" stroke-width="1.0"/>
<g clip-path="url(#cdSMART)">
<path d="M602.4 289.5h0m-1.2-.2h0m-.8 .8h0m.1 .0h0m-.9-.4h0m-.7 .9h0m1.0-.3h0m.0-1.0h0m-1.2-.1h0m.1 1.3h0m2.1-.3h0m-.7-1.4h0m1.1-.1h0m-2.7 1.9h0m1.5 .9h0m2.0-1.6h0m-2.4 .7h0m.0-1.4h0m-1.5 1.0h0m3.6 .3h0m-1.0 1.3h0m-2.7-1.4h0m2.4 .7h0m.0-.5h0m2.3-.7h0m-.8 1.2h0m-.3 .3h0m-1.0-2.8h0m-.4 3.0h0m.2-1.1h0m-1.6-.5h0m2.0 .5h0m.9 .3h0m-1.5 .3h0m.0-.4h0m-1.7-1.1h0m1.9 .1h0m.2 1.8h0m1.3-1.3h0m-1.8 1.6h0m-.3-2.8h0m.6 1.8h0m-.8-.4h0m.3 .1h0m2.3-.7h0m-.6 .2h0m.4 .3h0" stroke="#f2832a" stroke-width="0.65" stroke-linecap="round" fill="none" opacity="0.8"/>
<path d="M594.8 291.0h0m-.9-.7h0m.4-.3h0m.3 .3h0m-.8 .4h0m.9-.3h0m1.7 .5h0m-.5-.7h0m-1.5 .4h0m-.6 .0h0m.3-.2h0m1.7 .2h0m-1.1 .1h0m-.7 .0h0m2.4 .1h0m-1.3 .1h0m-1.3 .0h0m1.0 .4h0m.4-.8h0m.2 1.1h0" stroke="#f2832a" stroke-width="0.65" stroke-linecap="round" fill="none" opacity="0.8"/>
<path d="M593.2 293.4h0m.2 .0h0m-.4-.4h0m.3 .8h0m-.4 .0h0m.3 .0h0" stroke="#f2832a" stroke-width="0.65" stroke-linecap="round" fill="none" opacity="0.8"/>
<path d="M589.6 296.3h0m-.5 .1h0m.2-.2h0m-.5-.1h0m.8 .5h0m.1-.7h0m-.5-.2h0m-.6 .9h0m-.2-.3h0m1.2 .6h0" stroke="#f2832a" stroke-width="0.65" stroke-linecap="round" fill="none" opacity="0.8"/>
<path d="M584.8 307.1h0m-1.0-.2h0m-.7-.3h0m1.3 .4h0m-1.2 .5h0m.9 .8h0m-.7-1.3h0m.8 1.4h0m.1-1.4h0m.7 .6h0m-1.1 .6h0m.2-1.4h0m-1.0-.1h0m.9 .7h0m.0-.9h0m.5 .6h0m-1.4-.5h0m.2-.2h0m1.5 1.5h0m-.3-1.0h0m-.6 .8h0m-.7-.3h0m-.1 .5h0m.9 .6h0" stroke="#da3232" stroke-width="0.65" stroke-linecap="round" fill="none" opacity="0.8"/>
<path d="M577.0 312.2h0m3.1-.7h0m-1.8-1.1h0m.2 2.5h0m1.5-1.0h0m-.6-1.8h0m-1.9 .4h0m2.3 1.9h0m-1.5-1.5h0m.3-.9h0m1.1 3.3h0m.5-1.6h0m.2-.2h0m-2.5 .0h0m.7-1.1h0m.3 1.6h0m.5 2.4h0m-2.0-2.9h0m.1-.1h0m1.6 1.8h0m-.4-.1h0m1.0-2.5h0m.3 2.8h0m-1.2-3.0h0m.3 3.2h0m-1.9-2.2h0m-.1-.3h0m2.7-.7h0m-1.5 2.0h0m1.9-1.1h0m-.8 1.8h0m-1.1-2.3h0m.8 .0h0m-1.3 3.4h0m1.5-3.2h0m-.5 2.6h0m-.3 .7h0m-.1-4.1h0m.9 2.9h0m-1.5-.9h0" stroke="#da3232" stroke-width="0.65" stroke-linecap="round" fill="none" opacity="0.8"/>
<path d="M584.1 310.8h0m.3 .5h0m-.4-.1h0m-.7 .0h0m1.0 .0h0m-.9 .3h0m1.3 .1h0m.0-.4h0m-.5-.6h0m.3 .5h0" stroke="#da3232" stroke-width="0.65" stroke-linecap="round" fill="none" opacity="0.8"/>
<path d="M588.1 308.8h0m-.9 .6h0m.2-.1h0m-.5-.4h0m.9 .1h0m-.3 .6h0m-.5-.8h0m.0 .2h0m.5 .0h0m.4 .4h0" stroke="#da3232" stroke-width="0.65" stroke-linecap="round" fill="none" opacity="0.8"/>
<path d="M588.9 318.6h0m-3.2 .1h0m3.2-.5h0m-2.3-.6h0m1.2 1.6h0m-1.7-.1h0m.4-.3h0m1.1-.4h0m-.8 .5h0m.0-.5h0m-.8 .9h0m.7 .3h0m1.9-.2h0m-1.3-.5h0m1.3-.7h0m-.6-.4h0m-1.3 .8h0m-.3 .8h0m.5-1.4h0m.8 .0h0m.8 1.5h0m-1.9-.8h0m-.1-.1h0m2.3 .7h0" stroke="#da3232" stroke-width="0.65" stroke-linecap="round" fill="none" opacity="0.8"/>
<path d="M595.3 309.2h0m2.0-1.5h0m-1.4 1.9h0m1.0-1.8h0m.0 .4h0m-.8 .7h0m-1.4 2.0h0m-2.8 1.8h0m5.5-5.6h0m-2.6 3.5h0m1.9-1.7h0m-4.0 2.2h0m-.8 1.4h0m.9-1.1h0m4.5-3.5h0m-1.7 1.3h0m-4.3 3.1h0m3.9-3.5h0m-3.0 3.0h0m4.4-2.8h0m-1.5 .5h0m-.8 .1h0m3.2-2.5h0m-2.7 3.2h0m.6-.6h0m-.5 .7h0m-1.6 .7h0m.0 .5h0m.8-.9h0m-.8-.5h0m1.1 .8h0m-.5-1.0h0m-.4 1.2h0m3.0-3.4h0m-1.6 2.0h0m-.3 .9h0m-3.4 1.7h0m6.1-5.1h0m-1.8 1.7h0m.3 .4h0m1.7-1.5h0m-6.0 4.8h0m2.8-2.2h0m-1.6 1.5h0m4.6-4.7h0m-3.7 3.6h0m3.5-3.2h0" stroke="#4cad3a" stroke-width="0.65" stroke-linecap="round" fill="none" opacity="0.8"/>
<path d="M603.8 305.5h0m.6-.2h0m-1.2-.3h0m.5 .0h0m-.9 .6h0m2.1-.9h0m-1.3 1.6h0m-.2-.9h0m.2 .4h0m1.1-.8h0m-.7 .0h0m.5-.7h0m-1.0 .2h0m.0 2.1h0m.3-2.0h0m1.5 .7h0m-1.9 .7h0m1.6 .3h0m-1.2-2.0h0m-.2 .8h0m-.1 .8h0m.9-.6h0m-1.5 1.0h0m1.4-1.9h0" stroke="#9664c8" stroke-width="0.65" stroke-linecap="round" fill="none" opacity="0.8"/>
<path d="M606.3 315.9h0m-.4 .5h0m.5 .8h0m-.4-.7h0m1.8-.7h0m-.5 .2h0m.4 1.9h0m-1.0-2.3h0m.2-.6h0m1.4 .7h0m-1.4 1.8h0m.1-.7h0m.6-.4h0m-1.2 .5h0m1.3 1.1h0m-1.4-.1h0m.4-.7h0m.0-2.0h0m.0 .1h0m-.1 2.3h0m1.1-2.2h0m-.4 1.9h0m.0-1.0h0m.9 .2h0m-.7 1.1h0m.4-2.0h0m-1.1 .9h0" stroke="#9664c8" stroke-width="0.65" stroke-linecap="round" fill="none" opacity="0.8"/>
<path d="M596.6 323.9h0m-.8-1.6h0m.7 .3h0m-1.0 1.3h0m-.3-1.9h0m1.2 1.2h0m.6-.2h0m-1.4 .4h0m-.1-1.3h0m1.6 1.1h0m-2.7-.1h0m2.0 1.1h0m-.1-1.1h0m-1.0 1.1h0m.4-1.8h0m1.6 .4h0m-1.0 .7h0m.5 .4h0m-1.1-1.2h0m-.5 .7h0m.7 .4h0m.8 .5h0m-.9-2.1h0m-.5 1.8h0m1.4 .1h0m-.3-.4h0m-.5-1.5h0m1.0 .4h0m-1.5 .5h0" stroke="#9664c8" stroke-width="0.65" stroke-linecap="round" fill="none" opacity="0.8"/>
<path d="M622.3 304.9h0m.5-.9h0m.4 1.6h0m-.8-1.4h0m-.3 .6h0m.0-.3h0m.4 1.3h0m-.2-1.5h0m-.2-.1h0m.9-.4h0m-.7-.7h0m.6 2.7h0m-.1-2.4h0m.5 1.3h0m-.2 .8h0m-.5-1.8h0m-.1 2.5h0m.4-2.0h0" stroke="#3e82bc" stroke-width="0.65" stroke-linecap="round" fill="none" opacity="0.8"/>
<path d="M617.4 310.2h0m3.5-.5h0m-1.9 .4h0m.4-.1h0m.9 .1h0m-1.4 .0h0m-1.1 .1h0m1.9 .0h0m-1.2-.2h0m-1.9-.2h0m2.9 .0h0m-.4-.1h0m-1.1 .7h0m.6-.6h0m-.2 .4h0m-1.6-.5h0m.6 .5h0m-1.4-.6h0m1.7 .1h0m2.3 .0h0" stroke="#3e82bc" stroke-width="0.65" stroke-linecap="round" fill="none" opacity="0.8"/>
<path d="M623.7 310.0h0m.2 .3h0m-.1 .9h0m.2-1.0h0m-.3-.1h0m-.1 .5h0m-.2 .3h0m-.3 .3h0m.0-.4h0m-.4-.6h0m1.2 .3h0m-1.1 .3h0m1.3-.5h0" stroke="#3e82bc" stroke-width="0.65" stroke-linecap="round" fill="none" opacity="0.8"/>
<path d="M628.1 314.6h0m.2-.5h0m1.9 1.2h0m-1.7-1.6h0m3.2 2.4h0m-1.8-4.7h0m.6 .3h0m1.0 .4h0m-.6 3.0h0m.1 .0h0m-2.1-3.5h0m2.7 2.5h0m.7 .7h0m-1.8 .3h0m2.1-.3h0m-3.3 1.5h0m2.1-1.8h0m-2.5 1.2h0m1.8 .7h0m-2.7-1.6h0m3.1-.7h0m-1.7-2.0h0m-1.3 1.9h0m2.6-1.0h0m-2.1 .3h0m.2 .8h0m.8-1.0h0m2.1-.8h0m-3.2 3.5h0m.1-.6h0m1.2 .1h0m-1.9-1.6h0m4.3-.3h0m-2.8 .6h0m-1.1 1.5h0m-.6-.9h0m1.9-.9h0m-.7 .4h0m3.0 1.1h0m-2.0-2.5h0m.7 1.5h0m-.3-2.7h0m-.3 4.7h0m2.3-.8h0m-3.5 .1h0m1.2 .9h0m-1.9-2.0h0m.5-2.6h0m1.0 1.3h0m-.6 .3h0m1.3 2.2h0m-1.6-3.1h0m.8 1.6h0m.5-1.1h0m2.6 .9h0m-2.2 .8h0m-1.2 1.1h0m1.9-3.1h0m-1.6 1.9h0m-.5 1.8h0m.9-1.7h0m1.2-.1h0m-.2-2.5h0m-1.7 2.7h0m-1.8-1.1h0m1.9 2.4h0m2.9-3.8h0m-4.8 1.4h0m4.6-.2h0m-3.3-.9h0m2.7 2.4h0m-.3 1.4h0m-.4-2.8h0m-.3 1.0h0m-.6-3.2h0m.5 1.2h0m.8 3.0h0m-1.6-.2h0m1.3 .5h0m-.2-1.8h0m-1.2 1.6h0m-1.0-2.0h0m1.5-2.3h0m.1 3.8h0m1.1-3.0h0m-2.8 .3h0m2.0 3.7h0m-2.2-1.6h0m2.0 1.9h0m.6-2.0h0m-1.4-.8h0m-1.1 1.4h0m3.2-3.5h0m-1.0 5.0h0m-.2-1.4h0" stroke="#3e82bc" stroke-width="0.65" stroke-linecap="round" fill="none" opacity="0.8"/>
<path d="M614.0 335.3h0m-4.4 .4h0m3.1 .0h0m2.9 1.0h0m-1.8-1.6h0m-4.4-2.3h0m4.0 3.6h0m-2.8-1.5h0m.8 1.8h0m.1-3.5h0m-.9-.6h0m1.2 1.5h0m2.5-.1h0m.7-1.8h0m-3.0 4.0h0m4.2-2.0h0m-5.4 .6h0m5.1-1.4h0m-.8 1.2h0m-.6 1.9h0m.8-.7h0m-4.3-3.9h0m3.7 1.6h0m-.8 2.1h0m1.8 .4h0m-4.8-3.8h0m2.7 .1h0m-2.9 2.2h0m2.1-1.8h0m2.2 3.6h0m-.1-3.6h0m-2.0 2.6h0m-2.3-2.4h0m.3-.8h0m1.5 3.5h0m-.3-1.9h0m3.4-1.2h0m-.1 4.1h0m-.6-4.2h0m-4.4 3.9h0m4.0-1.1h0m2.5-1.0h0m-5.3-1.9h0m.3 .5h0m4.7 2.7h0m-2.6-3.6h0m-1.0 1.5h0m1.1 2.2h0m-1.5-1.4h0m2.7 .5h0m-5.4 1.6h0m1.6-2.9h0m1.6 2.9h0m1.9 .5h0m.7-3.5h0m-.9 1.1h0m-1.9 1.4h0m-2.7-2.8h0m5.3-.3h0m-3.5 3.2h0m3.4-.3h0m-.2-3.2h0m-3.2 .0h0m-.2 3.3h0m1.4 1.4h0m.9-3.0h0m.7 2.2h0m-1.0 1.0h0m.9-2.8h0m.4-2.2h0m-2.4 2.2h0m-2.8 .2h0m5.5-2.0h0m-5.1 .8h0m3.6 1.2h0m1.9-.1h0m.5 1.1h0m-2.5-2.8h0m-4.4 .6h0m5.5-.5h0m1.3-.3h0m-2.4 1.9h0m-5.1 .1h0m4.9 1.4h0m-.2-3.4h0m2.6 2.3h0m-1.1-.3h0m-2.1-.7h0m.0-1.2h0m1.9-.9h0m.2 2.9h0m-3.7-2.3h0m3.1 1.0h0m-3.5 2.1h0m3.3-2.9h0m-3.3 2.0h0m-.6 1.7h0m-.6-2.2h0m1.9 2.4h0m4.8-1.9h0m-3.6-2.5h0m-3.5 1.9h0m7.8 1.3h0m-8.1-1.3h0m3.7 1.7h0m-1.1-1.1h0m-1.6-1.0h0m3.5 2.2h0m.4-.9h0m-.4 2.1h0m2.0-3.5h0m-1.1 2.3h0m-3.8 .4h0m5.0 .0h0m-4.1-1.8h0m1.8-2.4h0m-1.0 4.8h0m2.9-4.2h0m1.6 1.7h0m-4.9 1.9h0m.5-4.3h0m3.4 3.8h0m-5.1-3.2h0m1.4 3.2h0m-1.9-.1h0m5.6-.9h0m-1.2-2.2h0m1.9 1.5h0m-.6-1.7h0m-3.6 .1h0m3.1 4.1h0m-.1-.2h0m-5.9-2.4h0m-.2-.8h0m4.9 .8h0m2.9-.4h0" stroke="#9664c8" stroke-width="0.65" stroke-linecap="round" fill="none" opacity="0.8"/>
<path d="M595.3 338.6h0m1.8 3.1h0m-1.5-.7h0m1.6 .6h0m-1.7-3.2h0m1.7 2.2h0m-1.2 .1h0m-.5-2.2h0m1.4 2.7h0m.0-3.8h0m1.3 3.5h0m.3-.5h0m-.7 1.5h0m-1.7-2.8h0m.8-1.7h0m.7 2.2h0m-.8 2.4h0m.0 .2h0m-.6-3.7h0m.5 .6h0m.7 1.0h0m.7 .4h0m-1.7 .3h0m.1 1.3h0m.4-3.3h0m-.1 2.1h0m1.4-2.6h0m.2 1.8h0m-3.0-1.7h0m.0 1.5h0m1.2-1.5h0m-.6-.4h0m1.8-.2h0m-.2 2.5h0m-1.9 .2h0m2.3-1.2h0m-.8 .8h0m-1.3 .8h0m.5 .0h0m-.5-1.5h0m1.9 .0h0m-1.0-.6h0m-.1 2.9h0m-.1-4.3h0m-.9 1.7h0m1.6 1.8h0m-1.6 .3h0m1.3 .0h0m-1.1-1.5h0m.9 .9h0m-.5 1.4h0m-.7-3.7h0m.3 1.7h0m1.5 .2h0m-1.0 1.2h0m.8 .7h0m.6-.3h0m-.2-3.1h0m.4-.5h0m-.3 .6h0m-.6 .7h0m-1.0 .4h0m1.0-1.7h0m-1.1 3.4h0m1.3 .6h0m-1.2-2.4h0m.1-1.1h0m1.0 2.6h0" stroke="#4cad3a" stroke-width="0.65" stroke-linecap="round" fill="none" opacity="0.8"/>
<circle cx="579.90" cy="286.01" r="0.76" fill="#f2832a" opacity="0.95"/>
<circle cx="587.90" cy="302.19" r="0.60" fill="#f2832a" opacity="0.95"/>
<circle cx="583.08" cy="301.23" r="0.60" fill="#da3232" opacity="0.95"/>
<circle cx="587.41" cy="306.53" r="0.61" fill="#9664c8" opacity="0.95"/>
<circle cx="599.17" cy="301.23" r="0.76" fill="#9664c8" opacity="0.95"/>
<circle cx="604.56" cy="310.38" r="0.61" fill="#9664c8" opacity="0.95"/>
<circle cx="590.79" cy="313.76" r="0.76" fill="#4cad3a" opacity="0.95"/>
<circle cx="598.97" cy="306.53" r="0.71" fill="#4cad3a" opacity="0.95"/>
</g>
<text x="641.4" y="302.7" font-size="6.20" textLength="39.19" lengthAdjust="spacingAndGlyphs" fill="#222" stroke="#222" stroke-width="0.1">Ground Truth</text>
<circle cx="642.90" cy="309.10" r="2.20" fill="#3e82bc"/>
<text x="652.7" y="311.1" font-size="5.62" textLength="20.08" lengthAdjust="spacingAndGlyphs" fill="#222" stroke="#222" stroke-width="0.1">Factor1</text>
<circle cx="642.90" cy="316.90" r="2.20" fill="#f2832a"/>
<text x="652.7" y="318.9" font-size="5.62" textLength="20.08" lengthAdjust="spacingAndGlyphs" fill="#222" stroke="#222" stroke-width="0.1">Factor2</text>
<circle cx="642.90" cy="324.70" r="2.20" fill="#4cad3a"/>
<text x="652.7" y="326.7" font-size="5.62" textLength="20.08" lengthAdjust="spacingAndGlyphs" fill="#222" stroke="#222" stroke-width="0.1">Factor3</text>
<circle cx="642.90" cy="332.50" r="2.20" fill="#da3232"/>
<text x="652.7" y="334.4" font-size="5.62" textLength="20.08" lengthAdjust="spacingAndGlyphs" fill="#222" stroke="#222" stroke-width="0.1">Factor4</text>
<circle cx="642.90" cy="340.30" r="2.20" fill="#9664c8"/>
<text x="652.7" y="342.2" font-size="5.62" textLength="31.74" lengthAdjust="spacingAndGlyphs" fill="#222" stroke="#222" stroke-width="0.1">Background</text>
<text x="4.9" y="379.5" font-size="16.00" font-weight="bold" fill="#000">e</text>
<line x1="35.5" y1="384.3" x2="35.5" y2="463.3" stroke="#333" stroke-width="0.9"/>
<line x1="35.5" y1="463.3" x2="195.8" y2="463.3" stroke="#333" stroke-width="0.9"/>
<line x1="33.1" y1="388.5" x2="35.5" y2="388.5" stroke="#333" stroke-width="0.8"/>
<text x="30.2" y="391.3" font-size="8.16" textLength="12.25" lengthAdjust="spacingAndGlyphs" text-anchor="end" fill="#222" stroke="#222" stroke-width="0.1">1.0</text>
<line x1="33.1" y1="410.4" x2="35.5" y2="410.4" stroke="#333" stroke-width="0.8"/>
<text x="30.2" y="413.2" font-size="8.16" textLength="12.25" lengthAdjust="spacingAndGlyphs" text-anchor="end" fill="#222" stroke="#222" stroke-width="0.1">0.5</text>
<line x1="33.1" y1="432.3" x2="35.5" y2="432.3" stroke="#333" stroke-width="0.8"/>
<text x="30.2" y="435.1" font-size="8.16" textLength="12.25" lengthAdjust="spacingAndGlyphs" text-anchor="end" fill="#222" stroke="#222" stroke-width="0.1">0.0</text>
<line x1="33.1" y1="454.2" x2="35.5" y2="454.2" stroke="#333" stroke-width="0.8"/>
<text x="30.2" y="457.0" font-size="8.16" textLength="18.70" lengthAdjust="spacingAndGlyphs" text-anchor="end" fill="#222" stroke="#222" stroke-width="0.1">−0.5</text>
<text x="10.1" y="424.4" font-size="7.95" textLength="18.90" lengthAdjust="spacingAndGlyphs" text-anchor="middle" fill="#222" stroke="#222" stroke-width="0.1" transform="rotate(-90 10.1 424.4)">PCCs</text>
<line x1="44.5" y1="463.3" x2="44.5" y2="465.8" stroke="#333" stroke-width="0.7"/>
<path d="M39.50 395.51 L39.50 396.40 L39.50 397.29 L39.49 398.18 L39.48 399.07 L39.47 399.96 L39.44 400.85 L39.40 401.74 L39.34 402.63 L39.26 403.53 L39.16 404.42 L39.03 405.31 L38.90 406.20 L38.75 407.09 L38.63 407.98 L38.52 408.87 L38.46 409.76 L38.45 410.65 L38.46 411.54 L38.49 412.43 L38.54 413.32 L38.59 414.22 L38.66 415.11 L38.74 416.00 L38.82 416.89 L38.90 417.78 L38.98 418.67 L39.05 419.56 L39.13 420.45 L39.19 421.34 L39.25 422.23 L39.30 423.12 L39.34 424.02 L39.38 424.91 L39.41 425.80 L39.43 426.69 L39.45 427.58 L39.46 428.47 L39.47 429.36 L39.48 430.25 L39.49 431.14 L39.49 432.03 L39.49 432.92 L39.50 433.81 L39.50 434.71 L39.50 435.60 L39.50 436.49 L39.50 437.38 L39.50 438.27 L39.50 439.16 L39.50 440.05 L39.50 440.94 L39.50 441.83 L39.50 442.72 L39.50 443.61 L39.50 444.50 L39.50 445.40 L39.50 446.29 L39.50 447.18 L39.50 448.07 L39.90 448.07 L39.90 447.18 L39.90 446.29 L39.90 445.40 L39.90 444.50 L39.90 443.61 L39.90 442.72 L39.90 441.83 L39.90 440.94 L39.90 440.05 L39.90 439.16 L39.90 438.27 L39.90 437.38 L39.90 436.49 L39.90 435.60 L39.90 434.71 L39.90 433.81 L39.91 432.92 L39.91 432.03 L39.91 431.14 L39.92 430.25 L39.93 429.36 L39.94 428.47 L39.95 427.58 L39.97 426.69 L39.99 425.80 L40.02 424.91 L40.06 424.02 L40.10 423.12 L40.15 422.23 L40.21 421.34 L40.27 420.45 L40.35 419.56 L40.42 418.67 L40.50 417.78 L40.58 416.89 L40.66 416.00 L40.74 415.11 L40.81 414.22 L40.86 413.32 L40.91 412.43 L40.94 411.54 L40.95 410.65 L40.94 409.76 L40.88 408.87 L40.77 407.98 L40.65 407.09 L40.50 406.20 L40.37 405.31 L40.24 404.42 L40.14 403.53 L40.06 402.63 L40.00 401.74 L39.96 400.85 L39.93 399.96 L39.92 399.07 L39.91 398.18 L39.90 397.29 L39.90 396.40 L39.90 395.51Z" fill="#3e82bc" opacity="0.72"/>
<line x1="39.7" y1="448.1" x2="39.7" y2="395.5" stroke="#3e82bc" stroke-width="0.8" opacity="0.45"/>
<line x1="39.7" y1="421.8" x2="39.7" y2="398.6" stroke="#3e82bc" stroke-width="2.0" opacity="0.72"/>
<path d="M44.30 392.44 L44.30 393.30 L44.30 394.15 L44.30 395.00 L44.30 395.86 L44.30 396.71 L44.29 397.56 L44.29 398.42 L44.28 399.27 L44.26 400.13 L44.23 400.98 L44.19 401.83 L44.14 402.69 L44.06 403.54 L43.96 404.39 L43.84 405.25 L43.71 406.10 L43.58 406.96 L43.45 407.81 L43.34 408.66 L43.28 409.52 L43.25 410.37 L43.26 411.22 L43.28 412.08 L43.32 412.93 L43.37 413.79 L43.43 414.64 L43.49 415.49 L43.57 416.35 L43.64 417.20 L43.72 418.05 L43.80 418.91 L43.87 419.76 L43.94 420.62 L44.00 421.47 L44.05 422.32 L44.10 423.18 L44.14 424.03 L44.18 424.88 L44.20 425.74 L44.23 426.59 L44.25 427.44 L44.26 428.30 L44.27 429.15 L44.28 430.01 L44.29 430.86 L44.29 431.71 L44.29 432.57 L44.30 433.42 L44.30 434.27 L44.30 435.13 L44.30 435.98 L44.30 436.84 L44.30 437.69 L44.30 438.54 L44.30 439.40 L44.30 440.25 L44.30 441.10 L44.30 441.96 L44.30 442.81 L44.70 442.81 L44.70 441.96 L44.70 441.10 L44.70 440.25 L44.70 439.40 L44.70 438.54 L44.70 437.69 L44.70 436.84 L44.70 435.98 L44.70 435.13 L44.70 434.27 L44.70 433.42 L44.71 432.57 L44.71 431.71 L44.71 430.86 L44.72 430.01 L44.73 429.15 L44.74 428.30 L44.75 427.44 L44.77 426.59 L44.80 425.74 L44.82 424.88 L44.86 424.03 L44.90 423.18 L44.95 422.32 L45.00 421.47 L45.06 420.62 L45.13 419.76 L45.20 418.91 L45.28 418.05 L45.36 417.20 L45.43 416.35 L45.51 415.49 L45.57 414.64 L45.63 413.79 L45.68 412.93 L45.72 412.08 L45.74 411.22 L45.75 410.37 L45.72 409.52 L45.66 408.66 L45.55 407.81 L45.42 406.96 L45.29 406.10 L45.16 405.25 L45.04 404.39 L44.94 403.54 L44.86 402.69 L44.81 401.83 L44.77 400.98 L44.74 400.13 L44.72 399.27 L44.71 398.42 L44.71 397.56 L44.70 396.71 L44.70 395.86 L44.70 395.00 L44.70 394.15 L44.70 393.30 L44.70 392.44Z" fill="#f2832a" opacity="0.72"/>
<line x1="44.5" y1="442.8" x2="44.5" y2="392.4" stroke="#f2832a" stroke-width="0.8" opacity="0.45"/>
<line x1="44.5" y1="423.5" x2="44.5" y2="401.6" stroke="#f2832a" stroke-width="2.0" opacity="0.72"/>
<path d="M49.10 394.63 L49.10 395.52 L49.10 396.40 L49.10 397.28 L49.10 398.17 L49.10 399.05 L49.10 399.93 L49.10 400.82 L49.09 401.70 L49.09 402.58 L49.08 403.47 L49.06 404.35 L49.04 405.23 L49.00 406.12 L48.94 407.00 L48.86 407.88 L48.76 408.77 L48.64 409.65 L48.50 410.53 L48.36 411.42 L48.23 412.30 L48.13 413.18 L48.07 414.07 L48.05 414.95 L48.06 415.83 L48.09 416.72 L48.13 417.60 L48.19 418.48 L48.25 419.37 L48.33 420.25 L48.40 421.13 L48.48 422.02 L48.56 422.90 L48.64 423.78 L48.71 424.67 L48.78 425.55 L48.84 426.44 L48.89 427.32 L48.93 428.20 L48.97 429.09 L49.00 429.97 L49.02 430.85 L49.04 431.74 L49.06 432.62 L49.07 433.50 L49.08 434.39 L49.09 435.27 L49.09 436.15 L49.09 437.04 L49.10 437.92 L49.10 438.80 L49.10 439.69 L49.10 440.57 L49.10 441.45 L49.10 442.34 L49.10 443.22 L49.10 444.10 L49.10 444.99 L49.10 445.87 L49.10 446.75 L49.50 446.75 L49.50 445.87 L49.50 444.99 L49.50 444.10 L49.50 443.22 L49.50 442.34 L49.50 441.45 L49.50 440.57 L49.50 439.69 L49.50 438.80 L49.50 437.92 L49.51 437.04 L49.51 436.15 L49.51 435.27 L49.52 434.39 L49.53 433.50 L49.54 432.62 L49.56 431.74 L49.58 430.85 L49.60 429.97 L49.63 429.09 L49.67 428.20 L49.71 427.32 L49.76 426.44 L49.82 425.55 L49.89 424.67 L49.96 423.78 L50.04 422.90 L50.12 422.02 L50.20 421.13 L50.27 420.25 L50.35 419.37 L50.41 418.48 L50.47 417.60 L50.51 416.72 L50.54 415.83 L50.55 414.95 L50.53 414.07 L50.47 413.18 L50.37 412.30 L50.24 411.42 L50.10 410.53 L49.96 409.65 L49.84 408.77 L49.74 407.88 L49.66 407.00 L49.60 406.12 L49.56 405.23 L49.54 404.35 L49.52 403.47 L49.51 402.58 L49.51 401.70 L49.50 400.82 L49.50 399.93 L49.50 399.05 L49.50 398.17 L49.50 397.28 L49.50 396.40 L49.50 395.52 L49.50 394.63Z" fill="#4cad3a" opacity="0.72"/>
<line x1="49.3" y1="446.8" x2="49.3" y2="394.6" stroke="#4cad3a" stroke-width="0.8" opacity="0.45"/>
<line x1="49.3" y1="424.9" x2="49.3" y2="403.4" stroke="#4cad3a" stroke-width="2.0" opacity="0.72"/>
<text x="47.9" y="473.4" font-size="8.21" textLength="34.14" lengthAdjust="spacingAndGlyphs" text-anchor="end" fill="#222" stroke="#222" stroke-width="0.1" transform="rotate(-45 47.9 473.4)">COSMOS</text>
<line x1="62.2" y1="463.3" x2="62.2" y2="465.8" stroke="#333" stroke-width="0.7"/>
<path d="M57.20 390.25 L57.20 391.25 L57.19 392.24 L57.19 393.24 L57.17 394.23 L57.15 395.23 L57.11 396.22 L57.05 397.22 L56.97 398.21 L56.85 399.21 L56.71 400.20 L56.56 401.19 L56.40 402.19 L56.27 403.18 L56.18 404.18 L56.15 405.17 L56.16 406.17 L56.19 407.16 L56.24 408.16 L56.31 409.15 L56.39 410.15 L56.47 411.14 L56.56 412.14 L56.65 413.13 L56.74 414.13 L56.82 415.12 L56.89 416.12 L56.96 417.11 L57.01 418.11 L57.06 419.10 L57.09 420.10 L57.12 421.09 L57.14 422.08 L57.16 423.08 L57.17 424.07 L57.18 425.07 L57.19 426.06 L57.19 427.06 L57.20 428.05 L57.20 429.05 L57.20 430.04 L57.20 431.04 L57.20 432.03 L57.20 433.03 L57.20 434.02 L57.20 435.02 L57.20 436.01 L57.20 437.01 L57.20 438.00 L57.20 439.00 L57.20 439.99 L57.20 440.99 L57.20 441.98 L57.20 442.98 L57.20 443.97 L57.20 444.96 L57.20 445.96 L57.20 446.95 L57.20 447.95 L57.20 448.94 L57.60 448.94 L57.60 447.95 L57.60 446.95 L57.60 445.96 L57.60 444.96 L57.60 443.97 L57.60 442.98 L57.60 441.98 L57.60 440.99 L57.60 439.99 L57.60 439.00 L57.60 438.00 L57.60 437.01 L57.60 436.01 L57.60 435.02 L57.60 434.02 L57.60 433.03 L57.60 432.03 L57.60 431.04 L57.60 430.04 L57.60 429.05 L57.60 428.05 L57.61 427.06 L57.61 426.06 L57.62 425.07 L57.63 424.07 L57.64 423.08 L57.66 422.08 L57.68 421.09 L57.71 420.10 L57.74 419.10 L57.79 418.11 L57.84 417.11 L57.91 416.12 L57.98 415.12 L58.06 414.13 L58.15 413.13 L58.24 412.14 L58.33 411.14 L58.41 410.15 L58.49 409.15 L58.56 408.16 L58.61 407.16 L58.64 406.17 L58.65 405.17 L58.62 404.18 L58.53 403.18 L58.40 402.19 L58.24 401.19 L58.09 400.20 L57.95 399.21 L57.83 398.21 L57.75 397.22 L57.69 396.22 L57.65 395.23 L57.63 394.23 L57.61 393.24 L57.61 392.24 L57.60 391.25 L57.60 390.25Z" fill="#3e82bc" opacity="0.72"/>
<line x1="57.4" y1="448.9" x2="57.4" y2="390.3" stroke="#3e82bc" stroke-width="0.8" opacity="0.45"/>
<line x1="57.4" y1="413.0" x2="57.4" y2="399.0" stroke="#3e82bc" stroke-width="2.0" opacity="0.72"/>
<path d="M62.00 389.38 L62.00 390.42 L61.99 391.47 L61.98 392.52 L61.96 393.56 L61.93 394.61 L61.87 395.66 L61.79 396.70 L61.67 397.75 L61.52 398.80 L61.36 399.84 L61.20 400.89 L61.06 401.94 L60.97 402.98 L60.95 404.03 L60.97 405.08 L61.00 406.12 L61.06 407.17 L61.14 408.22 L61.22 409.26 L61.32 410.31 L61.41 411.36 L61.50 412.40 L61.59 413.45 L61.67 414.50 L61.74 415.54 L61.80 416.59 L61.85 417.64 L61.89 418.68 L61.92 419.73 L61.94 420.78 L61.96 421.83 L61.97 422.87 L61.98 423.92 L61.99 424.97 L61.99 426.01 L62.00 427.06 L62.00 428.11 L62.00 429.15 L62.00 430.20 L62.00 431.25 L62.00 432.29 L62.00 433.34 L62.00 434.39 L62.00 435.43 L62.00 436.48 L62.00 437.53 L62.00 438.57 L62.00 439.62 L62.00 440.67 L62.00 441.71 L62.00 442.76 L62.00 443.81 L62.00 444.85 L62.00 445.90 L62.00 446.95 L62.00 447.99 L62.00 449.04 L62.00 450.09 L62.00 451.13 L62.40 451.13 L62.40 450.09 L62.40 449.04 L62.40 447.99 L62.40 446.95 L62.40 445.90 L62.40 444.85 L62.40 443.81 L62.40 442.76 L62.40 441.71 L62.40 440.67 L62.40 439.62 L62.40 438.57 L62.40 437.53 L62.40 436.48 L62.40 435.43 L62.40 434.39 L62.40 433.34 L62.40 432.29 L62.40 431.25 L62.40 430.20 L62.40 429.15 L62.40 428.11 L62.40 427.06 L62.41 426.01 L62.41 424.97 L62.42 423.92 L62.43 422.87 L62.44 421.83 L62.46 420.78 L62.48 419.73 L62.51 418.68 L62.55 417.64 L62.60 416.59 L62.66 415.54 L62.73 414.50 L62.81 413.45 L62.90 412.40 L62.99 411.36 L63.08 410.31 L63.18 409.26 L63.26 408.22 L63.34 407.17 L63.40 406.12 L63.43 405.08 L63.45 404.03 L63.43 402.98 L63.34 401.94 L63.20 400.89 L63.04 399.84 L62.88 398.80 L62.73 397.75 L62.61 396.70 L62.53 395.66 L62.47 394.61 L62.44 393.56 L62.42 392.52 L62.41 391.47 L62.40 390.42 L62.40 389.38Z" fill="#f2832a" opacity="0.72"/>
<line x1="62.2" y1="451.1" x2="62.2" y2="389.4" stroke="#f2832a" stroke-width="0.8" opacity="0.45"/>
<line x1="62.2" y1="411.7" x2="62.2" y2="393.3" stroke="#f2832a" stroke-width="2.0" opacity="0.72"/>
<path d="M66.80 391.57 L66.80 392.50 L66.80 393.44 L66.80 394.37 L66.79 395.31 L66.79 396.24 L66.78 397.18 L66.76 398.11 L66.72 399.05 L66.67 399.98 L66.60 400.92 L66.50 401.86 L66.38 402.79 L66.24 403.73 L66.09 404.66 L65.95 405.60 L65.84 406.53 L65.77 407.47 L65.75 408.40 L65.76 409.34 L65.79 410.27 L65.84 411.21 L65.90 412.14 L65.98 413.08 L66.06 414.02 L66.14 414.95 L66.22 415.89 L66.31 416.82 L66.39 417.76 L66.46 418.69 L66.52 419.63 L66.58 420.56 L66.63 421.50 L66.67 422.43 L66.70 423.37 L66.73 424.30 L66.75 425.24 L66.76 426.18 L66.77 427.11 L66.78 428.05 L66.79 428.98 L66.79 429.92 L66.79 430.85 L66.80 431.79 L66.80 432.72 L66.80 433.66 L66.80 434.59 L66.80 435.53 L66.80 436.46 L66.80 437.40 L66.80 438.34 L66.80 439.27 L66.80 440.21 L66.80 441.14 L66.80 442.08 L66.80 443.01 L66.80 443.95 L66.80 444.88 L66.80 445.82 L66.80 446.75 L67.20 446.75 L67.20 445.82 L67.20 444.88 L67.20 443.95 L67.20 443.01 L67.20 442.08 L67.20 441.14 L67.20 440.21 L67.20 439.27 L67.20 438.34 L67.20 437.40 L67.20 436.46 L67.20 435.53 L67.20 434.59 L67.20 433.66 L67.20 432.72 L67.20 431.79 L67.21 430.85 L67.21 429.92 L67.21 428.98 L67.22 428.05 L67.23 427.11 L67.24 426.18 L67.25 425.24 L67.27 424.30 L67.30 423.37 L67.33 422.43 L67.37 421.50 L67.42 420.56 L67.48 419.63 L67.54 418.69 L67.61 417.76 L67.69 416.82 L67.78 415.89 L67.86 414.95 L67.94 414.02 L68.02 413.08 L68.10 412.14 L68.16 411.21 L68.21 410.27 L68.24 409.34 L68.25 408.40 L68.23 407.47 L68.16 406.53 L68.05 405.60 L67.91 404.66 L67.76 403.73 L67.62 402.79 L67.50 401.86 L67.40 400.92 L67.33 399.98 L67.28 399.05 L67.24 398.11 L67.22 397.18 L67.21 396.24 L67.21 395.31 L67.20 394.37 L67.20 393.44 L67.20 392.50 L67.20 391.57Z" fill="#4cad3a" opacity="0.72"/>
<line x1="67.0" y1="446.8" x2="67.0" y2="391.6" stroke="#4cad3a" stroke-width="0.8" opacity="0.45"/>
<line x1="67.0" y1="414.8" x2="67.0" y2="397.3" stroke="#4cad3a" stroke-width="2.0" opacity="0.72"/>
<text x="65.6" y="473.4" font-size="8.21" textLength="44.52" lengthAdjust="spacingAndGlyphs" text-anchor="end" fill="#222" stroke="#222" stroke-width="0.1" transform="rotate(-45 65.6 473.4)">SpatialGlue</text>
<line x1="79.9" y1="463.3" x2="79.9" y2="465.8" stroke="#333" stroke-width="0.7"/>
<path d="M74.90 390.69 L74.89 391.49 L74.88 392.29 L74.87 393.10 L74.85 393.90 L74.82 394.70 L74.78 395.50 L74.72 396.30 L74.64 397.10 L74.55 397.91 L74.44 398.71 L74.31 399.51 L74.19 400.31 L74.07 401.11 L73.96 401.91 L73.89 402.72 L73.85 403.52 L73.85 404.32 L73.87 405.12 L73.90 405.92 L73.94 406.73 L73.99 407.53 L74.05 408.33 L74.11 409.13 L74.18 409.93 L74.25 410.73 L74.33 411.54 L74.40 412.34 L74.47 413.14 L74.53 413.94 L74.59 414.74 L74.64 415.54 L74.69 416.35 L74.73 417.15 L74.76 417.95 L74.79 418.75 L74.82 419.55 L74.84 420.36 L74.85 421.16 L74.86 421.96 L74.87 422.76 L74.88 423.56 L74.89 424.36 L74.89 425.17 L74.89 425.97 L74.90 426.77 L74.90 427.57 L74.90 428.37 L74.90 429.17 L74.90 429.98 L74.90 430.78 L74.90 431.58 L74.90 432.38 L74.90 433.18 L74.90 433.99 L74.90 434.79 L74.90 435.59 L74.90 436.39 L74.90 437.19 L74.90 437.99 L75.30 437.99 L75.30 437.19 L75.30 436.39 L75.30 435.59 L75.30 434.79 L75.30 433.99 L75.30 433.18 L75.30 432.38 L75.30 431.58 L75.30 430.78 L75.30 429.98 L75.30 429.17 L75.30 428.37 L75.30 427.57 L75.30 426.77 L75.31 425.97 L75.31 425.17 L75.31 424.36 L75.32 423.56 L75.33 422.76 L75.34 421.96 L75.35 421.16 L75.36 420.36 L75.38 419.55 L75.41 418.75 L75.44 417.95 L75.47 417.15 L75.51 416.35 L75.56 415.54 L75.61 414.74 L75.67 413.94 L75.73 413.14 L75.80 412.34 L75.87 411.54 L75.95 410.73 L76.02 409.93 L76.09 409.13 L76.15 408.33 L76.21 407.53 L76.26 406.73 L76.30 405.92 L76.33 405.12 L76.35 404.32 L76.35 403.52 L76.31 402.72 L76.24 401.91 L76.13 401.11 L76.01 400.31 L75.89 399.51 L75.76 398.71 L75.65 397.91 L75.56 397.10 L75.48 396.30 L75.42 395.50 L75.38 394.70 L75.35 393.90 L75.33 393.10 L75.32 392.29 L75.31 391.49 L75.30 390.69Z" fill="#3e82bc" opacity="0.72"/>
<line x1="75.1" y1="438.0" x2="75.1" y2="390.7" stroke="#3e82bc" stroke-width="0.8" opacity="0.45"/>
<line x1="75.1" y1="410.8" x2="75.1" y2="397.7" stroke="#3e82bc" stroke-width="2.0" opacity="0.72"/>
<path d="M79.70 389.38 L79.70 390.11 L79.70 390.85 L79.70 391.58 L79.69 392.32 L79.69 393.05 L79.68 393.79 L79.67 394.52 L79.65 395.26 L79.62 395.99 L79.59 396.73 L79.53 397.46 L79.47 398.20 L79.39 398.93 L79.29 399.67 L79.18 400.40 L79.06 401.14 L78.95 401.87 L78.84 402.61 L78.75 403.34 L78.69 404.07 L78.65 404.81 L78.65 405.54 L78.66 406.28 L78.69 407.01 L78.72 407.75 L78.76 408.48 L78.81 409.22 L78.87 409.95 L78.93 410.69 L79.00 411.42 L79.06 412.16 L79.13 412.89 L79.20 413.63 L79.26 414.36 L79.32 415.10 L79.37 415.83 L79.42 416.57 L79.47 417.30 L79.51 418.04 L79.54 418.77 L79.57 419.51 L79.60 420.24 L79.62 420.98 L79.64 421.71 L79.65 422.45 L79.66 423.18 L79.67 423.92 L79.68 424.65 L79.68 425.39 L79.69 426.12 L79.69 426.86 L79.69 427.59 L79.70 428.33 L79.70 429.06 L79.70 429.80 L79.70 430.53 L79.70 431.27 L79.70 432.00 L79.70 432.74 L80.10 432.74 L80.10 432.00 L80.10 431.27 L80.10 430.53 L80.10 429.80 L80.10 429.06 L80.10 428.33 L80.11 427.59 L80.11 426.86 L80.11 426.12 L80.12 425.39 L80.12 424.65 L80.13 423.92 L80.14 423.18 L80.15 422.45 L80.16 421.71 L80.18 420.98 L80.20 420.24 L80.23 419.51 L80.26 418.77 L80.29 418.04 L80.33 417.30 L80.38 416.57 L80.43 415.83 L80.48 415.10 L80.54 414.36 L80.60 413.63 L80.67 412.89 L80.74 412.16 L80.80 411.42 L80.87 410.69 L80.93 409.95 L80.99 409.22 L81.04 408.48 L81.08 407.75 L81.11 407.01 L81.14 406.28 L81.15 405.54 L81.15 404.81 L81.11 404.07 L81.05 403.34 L80.96 402.61 L80.85 401.87 L80.74 401.14 L80.62 400.40 L80.51 399.67 L80.41 398.93 L80.33 398.20 L80.27 397.46 L80.21 396.73 L80.18 395.99 L80.15 395.26 L80.13 394.52 L80.12 393.79 L80.11 393.05 L80.11 392.32 L80.10 391.58 L80.10 390.85 L80.10 390.11 L80.10 389.38Z" fill="#f2832a" opacity="0.72"/>
<line x1="79.9" y1="432.7" x2="79.9" y2="389.4" stroke="#f2832a" stroke-width="0.8" opacity="0.45"/>
<line x1="79.9" y1="410.4" x2="79.9" y2="397.7" stroke="#f2832a" stroke-width="2.0" opacity="0.72"/>
<path d="M84.50 392.00 L84.50 392.78 L84.50 393.56 L84.50 394.34 L84.50 395.12 L84.49 395.90 L84.48 396.68 L84.47 397.46 L84.45 398.24 L84.43 399.02 L84.38 399.80 L84.33 400.58 L84.26 401.36 L84.17 402.14 L84.06 402.92 L83.94 403.70 L83.82 404.48 L83.70 405.26 L83.59 406.03 L83.51 406.81 L83.46 407.59 L83.45 408.37 L83.46 409.15 L83.48 409.93 L83.51 410.71 L83.56 411.49 L83.61 412.27 L83.67 413.05 L83.74 413.83 L83.81 414.61 L83.88 415.39 L83.95 416.17 L84.02 416.95 L84.08 417.73 L84.14 418.51 L84.20 419.29 L84.25 420.07 L84.29 420.85 L84.33 421.62 L84.37 422.40 L84.39 423.18 L84.42 423.96 L84.44 424.74 L84.45 425.52 L84.46 426.30 L84.47 427.08 L84.48 427.86 L84.49 428.64 L84.49 429.42 L84.49 430.20 L84.49 430.98 L84.50 431.76 L84.50 432.54 L84.50 433.32 L84.50 434.10 L84.50 434.88 L84.50 435.66 L84.50 436.44 L84.50 437.21 L84.50 437.99 L84.90 437.99 L84.90 437.21 L84.90 436.44 L84.90 435.66 L84.90 434.88 L84.90 434.10 L84.90 433.32 L84.90 432.54 L84.90 431.76 L84.91 430.98 L84.91 430.20 L84.91 429.42 L84.91 428.64 L84.92 427.86 L84.93 427.08 L84.94 426.30 L84.95 425.52 L84.96 424.74 L84.98 423.96 L85.01 423.18 L85.03 422.40 L85.07 421.62 L85.11 420.85 L85.15 420.07 L85.20 419.29 L85.26 418.51 L85.32 417.73 L85.38 416.95 L85.45 416.17 L85.52 415.39 L85.59 414.61 L85.66 413.83 L85.73 413.05 L85.79 412.27 L85.84 411.49 L85.89 410.71 L85.92 409.93 L85.94 409.15 L85.95 408.37 L85.94 407.59 L85.89 406.81 L85.81 406.03 L85.70 405.26 L85.58 404.48 L85.46 403.70 L85.34 402.92 L85.23 402.14 L85.14 401.36 L85.07 400.58 L85.02 399.80 L84.97 399.02 L84.95 398.24 L84.93 397.46 L84.92 396.68 L84.91 395.90 L84.90 395.12 L84.90 394.34 L84.90 393.56 L84.90 392.78 L84.90 392.00Z" fill="#4cad3a" opacity="0.72"/>
<line x1="84.7" y1="438.0" x2="84.7" y2="392.0" stroke="#4cad3a" stroke-width="0.8" opacity="0.45"/>
<line x1="84.7" y1="413.5" x2="84.7" y2="399.0" stroke="#4cad3a" stroke-width="2.0" opacity="0.72"/>
<text x="83.3" y="473.4" font-size="8.21" textLength="49.03" lengthAdjust="spacingAndGlyphs" text-anchor="end" fill="#222" stroke="#222" stroke-width="0.1" transform="rotate(-45 83.3 473.4)">SpaMultiVAE</text>
<line x1="97.6" y1="463.3" x2="97.6" y2="465.8" stroke="#333" stroke-width="0.7"/>
<path d="M92.54 392.88 L92.51 393.74 L92.45 394.60 L92.38 395.46 L92.28 396.32 L92.17 397.19 L92.04 398.05 L91.90 398.91 L91.77 399.77 L91.66 400.63 L91.58 401.49 L91.55 402.35 L91.56 403.21 L91.58 404.07 L91.61 404.94 L91.66 405.80 L91.72 406.66 L91.79 407.52 L91.86 408.38 L91.94 409.24 L92.02 410.10 L92.09 410.96 L92.17 411.83 L92.23 412.69 L92.30 413.55 L92.35 414.41 L92.40 415.27 L92.44 416.13 L92.48 416.99 L92.50 417.85 L92.53 418.71 L92.55 419.58 L92.56 420.44 L92.57 421.30 L92.58 422.16 L92.59 423.02 L92.59 423.88 L92.59 424.74 L92.60 425.60 L92.60 426.46 L92.60 427.33 L92.60 428.19 L92.60 429.05 L92.60 429.91 L92.60 430.77 L92.60 431.63 L92.60 432.49 L92.60 433.35 L92.60 434.22 L92.60 435.08 L92.60 435.94 L92.60 436.80 L92.60 437.66 L92.60 438.52 L92.60 439.38 L92.60 440.24 L92.60 441.10 L92.60 441.97 L92.60 442.83 L92.60 443.69 L93.00 443.69 L93.00 442.83 L93.00 441.97 L93.00 441.10 L93.00 440.24 L93.00 439.38 L93.00 438.52 L93.00 437.66 L93.00 436.80 L93.00 435.94 L93.00 435.08 L93.00 434.22 L93.00 433.35 L93.00 432.49 L93.00 431.63 L93.00 430.77 L93.00 429.91 L93.00 429.05 L93.00 428.19 L93.00 427.33 L93.00 426.46 L93.00 425.60 L93.01 424.74 L93.01 423.88 L93.01 423.02 L93.02 422.16 L93.03 421.30 L93.04 420.44 L93.05 419.58 L93.07 418.71 L93.10 417.85 L93.12 416.99 L93.16 416.13 L93.20 415.27 L93.25 414.41 L93.30 413.55 L93.37 412.69 L93.43 411.83 L93.51 410.96 L93.58 410.10 L93.66 409.24 L93.74 408.38 L93.81 407.52 L93.88 406.66 L93.94 405.80 L93.99 404.94 L94.02 404.07 L94.04 403.21 L94.05 402.35 L94.02 401.49 L93.94 400.63 L93.83 399.77 L93.70 398.91 L93.56 398.05 L93.43 397.19 L93.32 396.32 L93.22 395.46 L93.15 394.60 L93.09 393.74 L93.06 392.88Z" fill="#3e82bc" opacity="0.72"/>
<line x1="92.8" y1="443.7" x2="92.8" y2="392.9" stroke="#3e82bc" stroke-width="0.8" opacity="0.45"/>
<line x1="92.8" y1="408.2" x2="92.8" y2="398.6" stroke="#3e82bc" stroke-width="2.0" opacity="0.72"/>
<path d="M97.37 392.00 L97.35 392.75 L97.32 393.50 L97.28 394.25 L97.22 395.00 L97.15 395.75 L97.06 396.50 L96.96 397.25 L96.84 398.00 L96.73 398.75 L96.61 399.50 L96.51 400.25 L96.42 401.00 L96.37 401.75 L96.35 402.50 L96.36 403.25 L96.37 404.00 L96.40 404.75 L96.44 405.50 L96.49 406.25 L96.54 407.00 L96.61 407.75 L96.67 408.50 L96.74 409.25 L96.81 410.00 L96.87 410.75 L96.94 411.50 L97.00 412.25 L97.06 413.00 L97.11 413.75 L97.16 414.50 L97.20 415.25 L97.24 416.00 L97.27 416.75 L97.29 417.50 L97.32 418.25 L97.33 419.00 L97.35 419.75 L97.36 420.50 L97.37 421.25 L97.38 422.00 L97.38 422.75 L97.39 423.50 L97.39 424.25 L97.39 425.00 L97.40 425.74 L97.40 426.49 L97.40 427.24 L97.40 427.99 L97.40 428.74 L97.40 429.49 L97.40 430.24 L97.40 430.99 L97.40 431.74 L97.40 432.49 L97.40 433.24 L97.40 433.99 L97.40 434.74 L97.40 435.49 L97.40 436.24 L97.80 436.24 L97.80 435.49 L97.80 434.74 L97.80 433.99 L97.80 433.24 L97.80 432.49 L97.80 431.74 L97.80 430.99 L97.80 430.24 L97.80 429.49 L97.80 428.74 L97.80 427.99 L97.80 427.24 L97.80 426.49 L97.80 425.74 L97.81 425.00 L97.81 424.25 L97.81 423.50 L97.82 422.75 L97.82 422.00 L97.83 421.25 L97.84 420.50 L97.85 419.75 L97.87 419.00 L97.88 418.25 L97.91 417.50 L97.93 416.75 L97.96 416.00 L98.00 415.25 L98.04 414.50 L98.09 413.75 L98.14 413.00 L98.20 412.25 L98.26 411.50 L98.33 410.75 L98.39 410.00 L98.46 409.25 L98.53 408.50 L98.59 407.75 L98.66 407.00 L98.71 406.25 L98.76 405.50 L98.80 404.75 L98.83 404.00 L98.84 403.25 L98.85 402.50 L98.83 401.75 L98.78 401.00 L98.69 400.25 L98.59 399.50 L98.47 398.75 L98.36 398.00 L98.24 397.25 L98.14 396.50 L98.05 395.75 L97.98 395.00 L97.92 394.25 L97.88 393.50 L97.85 392.75 L97.83 392.00Z" fill="#f2832a" opacity="0.72"/>
<line x1="97.6" y1="436.2" x2="97.6" y2="392.0" stroke="#f2832a" stroke-width="0.8" opacity="0.45"/>
<line x1="97.6" y1="408.2" x2="97.6" y2="397.3" stroke="#f2832a" stroke-width="2.0" opacity="0.72"/>
<path d="M102.13 394.19 L102.09 394.87 L102.05 395.55 L101.99 396.22 L101.92 396.90 L101.84 397.57 L101.74 398.25 L101.64 398.92 L101.53 399.60 L101.43 400.27 L101.33 400.95 L101.25 401.63 L101.19 402.30 L101.16 402.98 L101.15 403.65 L101.16 404.33 L101.18 405.00 L101.20 405.68 L101.24 406.35 L101.28 407.03 L101.33 407.71 L101.39 408.38 L101.44 409.06 L101.50 409.73 L101.56 410.41 L101.63 411.08 L101.69 411.76 L101.74 412.43 L101.80 413.11 L101.85 413.79 L101.90 414.46 L101.94 415.14 L101.98 415.81 L102.02 416.49 L102.05 417.16 L102.08 417.84 L102.10 418.51 L102.12 419.19 L102.13 419.87 L102.15 420.54 L102.16 421.22 L102.17 421.89 L102.18 422.57 L102.18 423.24 L102.19 423.92 L102.19 424.59 L102.19 425.27 L102.19 425.95 L102.20 426.62 L102.20 427.30 L102.20 427.97 L102.20 428.65 L102.20 429.32 L102.20 430.00 L102.20 430.67 L102.20 431.35 L102.20 432.03 L102.20 432.70 L102.20 433.38 L102.20 434.05 L102.60 434.05 L102.60 433.38 L102.60 432.70 L102.60 432.03 L102.60 431.35 L102.60 430.67 L102.60 430.00 L102.60 429.32 L102.60 428.65 L102.60 427.97 L102.60 427.30 L102.60 426.62 L102.61 425.95 L102.61 425.27 L102.61 424.59 L102.61 423.92 L102.62 423.24 L102.62 422.57 L102.63 421.89 L102.64 421.22 L102.65 420.54 L102.67 419.87 L102.68 419.19 L102.70 418.51 L102.72 417.84 L102.75 417.16 L102.78 416.49 L102.82 415.81 L102.86 415.14 L102.90 414.46 L102.95 413.79 L103.00 413.11 L103.06 412.43 L103.11 411.76 L103.17 411.08 L103.24 410.41 L103.30 409.73 L103.36 409.06 L103.41 408.38 L103.47 407.71 L103.52 407.03 L103.56 406.35 L103.60 405.68 L103.62 405.00 L103.64 404.33 L103.65 403.65 L103.64 402.98 L103.61 402.30 L103.55 401.63 L103.47 400.95 L103.37 400.27 L103.27 399.60 L103.16 398.92 L103.06 398.25 L102.96 397.57 L102.88 396.90 L102.81 396.22 L102.75 395.55 L102.71 394.87 L102.67 394.19Z" fill="#4cad3a" opacity="0.72"/>
<line x1="102.4" y1="434.1" x2="102.4" y2="394.2" stroke="#4cad3a" stroke-width="0.8" opacity="0.45"/>
<line x1="102.4" y1="409.5" x2="102.4" y2="398.6" stroke="#4cad3a" stroke-width="2.0" opacity="0.72"/>
<text x="101.0" y="473.4" font-size="8.21" textLength="35.30" lengthAdjust="spacingAndGlyphs" text-anchor="end" fill="#222" stroke="#222" stroke-width="0.1" transform="rotate(-45 101.0 473.4)">PRESENT</text>
<line x1="115.3" y1="463.3" x2="115.3" y2="465.8" stroke="#333" stroke-width="0.7"/>
<path d="M110.28 390.25 L110.27 391.10 L110.24 391.94 L110.21 392.79 L110.16 393.64 L110.09 394.48 L110.00 395.33 L109.89 396.18 L109.76 397.02 L109.63 397.87 L109.50 398.72 L109.38 399.56 L109.30 400.41 L109.25 401.25 L109.25 402.10 L109.27 402.95 L109.30 403.79 L109.34 404.64 L109.40 405.49 L109.46 406.33 L109.53 407.18 L109.61 408.02 L109.68 408.87 L109.76 409.72 L109.83 410.56 L109.90 411.41 L109.97 412.26 L110.03 413.10 L110.08 413.95 L110.12 414.79 L110.16 415.64 L110.19 416.49 L110.21 417.33 L110.24 418.18 L110.25 419.03 L110.26 419.87 L110.27 420.72 L110.28 421.57 L110.29 422.41 L110.29 423.26 L110.29 424.10 L110.30 424.95 L110.30 425.80 L110.30 426.64 L110.30 427.49 L110.30 428.34 L110.30 429.18 L110.30 430.03 L110.30 430.87 L110.30 431.72 L110.30 432.57 L110.30 433.41 L110.30 434.26 L110.30 435.11 L110.30 435.95 L110.30 436.80 L110.30 437.65 L110.30 438.49 L110.30 439.34 L110.30 440.18 L110.70 440.18 L110.70 439.34 L110.70 438.49 L110.70 437.65 L110.70 436.80 L110.70 435.95 L110.70 435.11 L110.70 434.26 L110.70 433.41 L110.70 432.57 L110.70 431.72 L110.70 430.87 L110.70 430.03 L110.70 429.18 L110.70 428.34 L110.70 427.49 L110.70 426.64 L110.70 425.80 L110.70 424.95 L110.71 424.10 L110.71 423.26 L110.71 422.41 L110.72 421.57 L110.73 420.72 L110.74 419.87 L110.75 419.03 L110.76 418.18 L110.79 417.33 L110.81 416.49 L110.84 415.64 L110.88 414.79 L110.92 413.95 L110.97 413.10 L111.03 412.26 L111.10 411.41 L111.17 410.56 L111.24 409.72 L111.32 408.87 L111.39 408.02 L111.47 407.18 L111.54 406.33 L111.60 405.49 L111.66 404.64 L111.70 403.79 L111.73 402.95 L111.75 402.10 L111.75 401.25 L111.70 400.41 L111.62 399.56 L111.50 398.72 L111.37 397.87 L111.24 397.02 L111.11 396.18 L111.00 395.33 L110.91 394.48 L110.84 393.64 L110.79 392.79 L110.76 391.94 L110.73 391.10 L110.72 390.25Z" fill="#3e82bc" opacity="0.72"/>
<line x1="110.5" y1="440.2" x2="110.5" y2="390.3" stroke="#3e82bc" stroke-width="0.8" opacity="0.45"/>
<line x1="110.5" y1="408.2" x2="110.5" y2="395.1" stroke="#3e82bc" stroke-width="2.0" opacity="0.72"/>
<path d="M115.03 390.25 L114.99 390.94 L114.94 391.63 L114.89 392.32 L114.81 393.01 L114.73 393.70 L114.63 394.39 L114.52 395.08 L114.41 395.78 L114.31 396.47 L114.21 397.16 L114.13 397.85 L114.08 398.54 L114.05 399.23 L114.05 399.92 L114.06 400.61 L114.09 401.30 L114.12 401.99 L114.16 402.68 L114.20 403.37 L114.25 404.06 L114.31 404.75 L114.37 405.44 L114.43 406.13 L114.50 406.82 L114.56 407.51 L114.62 408.20 L114.68 408.89 L114.73 409.58 L114.78 410.27 L114.83 410.96 L114.87 411.65 L114.91 412.35 L114.94 413.04 L114.97 413.73 L114.99 414.42 L115.01 415.11 L115.03 415.80 L115.05 416.49 L115.06 417.18 L115.07 417.87 L115.07 418.56 L115.08 419.25 L115.09 419.94 L115.09 420.63 L115.09 421.32 L115.09 422.01 L115.10 422.70 L115.10 423.39 L115.10 424.08 L115.10 424.77 L115.10 425.46 L115.10 426.15 L115.10 426.84 L115.10 427.53 L115.10 428.22 L115.10 428.91 L115.10 429.61 L115.10 430.30 L115.10 430.99 L115.50 430.99 L115.50 430.30 L115.50 429.61 L115.50 428.91 L115.50 428.22 L115.50 427.53 L115.50 426.84 L115.50 426.15 L115.50 425.46 L115.50 424.77 L115.50 424.08 L115.50 423.39 L115.50 422.70 L115.51 422.01 L115.51 421.32 L115.51 420.63 L115.51 419.94 L115.52 419.25 L115.53 418.56 L115.53 417.87 L115.54 417.18 L115.55 416.49 L115.57 415.80 L115.59 415.11 L115.61 414.42 L115.63 413.73 L115.66 413.04 L115.69 412.35 L115.73 411.65 L115.77 410.96 L115.82 410.27 L115.87 409.58 L115.92 408.89 L115.98 408.20 L116.04 407.51 L116.10 406.82 L116.17 406.13 L116.23 405.44 L116.29 404.75 L116.35 404.06 L116.40 403.37 L116.44 402.68 L116.48 401.99 L116.51 401.30 L116.54 400.61 L116.55 399.92 L116.55 399.23 L116.52 398.54 L116.47 397.85 L116.39 397.16 L116.29 396.47 L116.19 395.78 L116.08 395.08 L115.97 394.39 L115.87 393.70 L115.79 393.01 L115.71 392.32 L115.66 391.63 L115.61 390.94 L115.57 390.25Z" fill="#f2832a" opacity="0.72"/>
<line x1="115.3" y1="431.0" x2="115.3" y2="390.3" stroke="#f2832a" stroke-width="0.8" opacity="0.45"/>
<line x1="115.3" y1="406.0" x2="115.3" y2="393.8" stroke="#f2832a" stroke-width="2.0" opacity="0.72"/>
<path d="M119.89 391.13 L119.89 391.89 L119.88 392.64 L119.86 393.40 L119.84 394.16 L119.81 394.91 L119.77 395.67 L119.71 396.43 L119.64 397.19 L119.54 397.94 L119.44 398.70 L119.32 399.46 L119.20 400.21 L119.09 400.97 L118.99 401.73 L118.91 402.49 L118.86 403.24 L118.85 404.00 L118.86 404.76 L118.88 405.52 L118.91 406.27 L118.95 407.03 L119.01 407.79 L119.06 408.54 L119.13 409.30 L119.19 410.06 L119.26 410.82 L119.33 411.57 L119.40 412.33 L119.46 413.09 L119.52 413.84 L119.58 414.60 L119.63 415.36 L119.67 416.12 L119.71 416.87 L119.75 417.63 L119.78 418.39 L119.80 419.15 L119.82 419.90 L119.84 420.66 L119.86 421.42 L119.87 422.17 L119.87 422.93 L119.88 423.69 L119.89 424.45 L119.89 425.20 L119.89 425.96 L119.89 426.72 L119.90 427.47 L119.90 428.23 L119.90 428.99 L119.90 429.75 L119.90 430.50 L119.90 431.26 L119.90 432.02 L119.90 432.78 L119.90 433.53 L119.90 434.29 L119.90 435.05 L119.90 435.80 L120.30 435.80 L120.30 435.05 L120.30 434.29 L120.30 433.53 L120.30 432.78 L120.30 432.02 L120.30 431.26 L120.30 430.50 L120.30 429.75 L120.30 428.99 L120.30 428.23 L120.30 427.47 L120.31 426.72 L120.31 425.96 L120.31 425.20 L120.31 424.45 L120.32 423.69 L120.33 422.93 L120.33 422.17 L120.34 421.42 L120.36 420.66 L120.38 419.90 L120.40 419.15 L120.42 418.39 L120.45 417.63 L120.49 416.87 L120.53 416.12 L120.57 415.36 L120.62 414.60 L120.68 413.84 L120.74 413.09 L120.80 412.33 L120.87 411.57 L120.94 410.82 L121.01 410.06 L121.07 409.30 L121.14 408.54 L121.19 407.79 L121.25 407.03 L121.29 406.27 L121.32 405.52 L121.34 404.76 L121.35 404.00 L121.34 403.24 L121.29 402.49 L121.21 401.73 L121.11 400.97 L121.00 400.21 L120.88 399.46 L120.76 398.70 L120.66 397.94 L120.56 397.19 L120.49 396.43 L120.43 395.67 L120.39 394.91 L120.36 394.16 L120.34 393.40 L120.32 392.64 L120.31 391.89 L120.31 391.13Z" fill="#4cad3a" opacity="0.72"/>
<line x1="120.1" y1="435.8" x2="120.1" y2="391.1" stroke="#4cad3a" stroke-width="0.8" opacity="0.45"/>
<line x1="120.1" y1="410.4" x2="120.1" y2="396.4" stroke="#4cad3a" stroke-width="2.0" opacity="0.72"/>
<text x="118.7" y="473.4" font-size="8.21" textLength="43.74" lengthAdjust="spacingAndGlyphs" text-anchor="end" fill="#222" stroke="#222" stroke-width="0.1" transform="rotate(-45 118.7 473.4)">CellCharter</text>
<line x1="133.0" y1="463.3" x2="133.0" y2="465.8" stroke="#333" stroke-width="0.7"/>
<path d="M127.90 388.50 L127.82 389.71 L127.70 390.92 L127.54 392.13 L127.35 393.34 L127.17 394.55 L127.02 395.76 L126.95 396.97 L126.96 398.18 L127.00 399.39 L127.06 400.60 L127.15 401.81 L127.25 403.02 L127.36 404.23 L127.47 405.44 L127.57 406.65 L127.67 407.86 L127.75 409.07 L127.81 410.28 L127.87 411.49 L127.91 412.70 L127.94 413.91 L127.96 415.12 L127.97 416.33 L127.98 417.54 L127.99 418.75 L127.99 419.96 L128.00 421.17 L128.00 422.38 L128.00 423.59 L128.00 424.80 L128.00 426.01 L128.00 427.22 L128.00 428.43 L128.00 429.64 L128.00 430.85 L128.00 432.06 L128.00 433.27 L128.00 434.48 L128.00 435.69 L128.00 436.90 L128.00 438.11 L128.00 439.32 L128.00 440.53 L128.00 441.74 L128.00 442.95 L128.00 444.16 L128.00 445.37 L128.00 446.58 L128.00 447.79 L128.00 449.00 L128.00 450.21 L128.00 451.42 L128.00 452.63 L128.00 453.84 L128.00 455.05 L128.00 456.26 L128.00 457.47 L128.00 458.68 L128.00 459.89 L128.40 459.89 L128.40 458.68 L128.40 457.47 L128.40 456.26 L128.40 455.05 L128.40 453.84 L128.40 452.63 L128.40 451.42 L128.40 450.21 L128.40 449.00 L128.40 447.79 L128.40 446.58 L128.40 445.37 L128.40 444.16 L128.40 442.95 L128.40 441.74 L128.40 440.53 L128.40 439.32 L128.40 438.11 L128.40 436.90 L128.40 435.69 L128.40 434.48 L128.40 433.27 L128.40 432.06 L128.40 430.85 L128.40 429.64 L128.40 428.43 L128.40 427.22 L128.40 426.01 L128.40 424.80 L128.40 423.59 L128.40 422.38 L128.40 421.17 L128.41 419.96 L128.41 418.75 L128.42 417.54 L128.43 416.33 L128.44 415.12 L128.46 413.91 L128.49 412.70 L128.53 411.49 L128.59 410.28 L128.65 409.07 L128.73 407.86 L128.83 406.65 L128.93 405.44 L129.04 404.23 L129.15 403.02 L129.25 401.81 L129.34 400.60 L129.40 399.39 L129.44 398.18 L129.45 396.97 L129.38 395.76 L129.23 394.55 L129.05 393.34 L128.86 392.13 L128.70 390.92 L128.58 389.71 L128.50 388.50Z" fill="#3e82bc" opacity="0.72"/>
<line x1="128.2" y1="459.9" x2="128.2" y2="388.5" stroke="#3e82bc" stroke-width="0.8" opacity="0.45"/>
<line x1="128.2" y1="406.0" x2="128.2" y2="392.0" stroke="#3e82bc" stroke-width="2.0" opacity="0.72"/>
<path d="M132.74 391.13 L132.70 392.05 L132.64 392.97 L132.56 393.89 L132.45 394.81 L132.32 395.73 L132.18 396.65 L132.04 397.57 L131.91 398.49 L131.81 399.41 L131.76 400.33 L131.75 401.25 L131.77 402.17 L131.81 403.10 L131.86 404.02 L131.92 404.94 L131.99 405.86 L132.07 406.78 L132.16 407.70 L132.24 408.62 L132.32 409.54 L132.40 410.46 L132.47 411.38 L132.53 412.30 L132.58 413.22 L132.63 414.14 L132.67 415.06 L132.70 415.98 L132.73 416.90 L132.75 417.82 L132.76 418.74 L132.77 419.66 L132.78 420.59 L132.79 421.51 L132.79 422.43 L132.79 423.35 L132.80 424.27 L132.80 425.19 L132.80 426.11 L132.80 427.03 L132.80 427.95 L132.80 428.87 L132.80 429.79 L132.80 430.71 L132.80 431.63 L132.80 432.55 L132.80 433.47 L132.80 434.39 L132.80 435.31 L132.80 436.23 L132.80 437.16 L132.80 438.08 L132.80 439.00 L132.80 439.92 L132.80 440.84 L132.80 441.76 L132.80 442.68 L132.80 443.60 L132.80 444.52 L132.80 445.44 L133.20 445.44 L133.20 444.52 L133.20 443.60 L133.20 442.68 L133.20 441.76 L133.20 440.84 L133.20 439.92 L133.20 439.00 L133.20 438.08 L133.20 437.16 L133.20 436.23 L133.20 435.31 L133.20 434.39 L133.20 433.47 L133.20 432.55 L133.20 431.63 L133.20 430.71 L133.20 429.79 L133.20 428.87 L133.20 427.95 L133.20 427.03 L133.20 426.11 L133.20 425.19 L133.20 424.27 L133.21 423.35 L133.21 422.43 L133.21 421.51 L133.22 420.59 L133.23 419.66 L133.24 418.74 L133.25 417.82 L133.27 416.90 L133.30 415.98 L133.33 415.06 L133.37 414.14 L133.42 413.22 L133.47 412.30 L133.53 411.38 L133.60 410.46 L133.68 409.54 L133.76 408.62 L133.84 407.70 L133.93 406.78 L134.01 405.86 L134.08 404.94 L134.14 404.02 L134.19 403.10 L134.23 402.17 L134.25 401.25 L134.24 400.33 L134.19 399.41 L134.09 398.49 L133.96 397.57 L133.82 396.65 L133.68 395.73 L133.55 394.81 L133.44 393.89 L133.36 392.97 L133.30 392.05 L133.26 391.13Z" fill="#f2832a" opacity="0.72"/>
<line x1="133.0" y1="445.4" x2="133.0" y2="391.1" stroke="#f2832a" stroke-width="0.8" opacity="0.45"/>
<line x1="133.0" y1="406.0" x2="133.0" y2="396.4" stroke="#f2832a" stroke-width="2.0" opacity="0.72"/>
<path d="M137.54 395.07 L137.51 395.85 L137.46 396.63 L137.40 397.41 L137.32 398.19 L137.22 398.97 L137.11 399.75 L136.99 400.53 L136.87 401.31 L136.75 402.09 L136.66 402.86 L136.59 403.64 L136.55 404.42 L136.55 405.20 L136.57 405.98 L136.59 406.76 L136.63 407.54 L136.68 408.32 L136.74 409.10 L136.80 409.88 L136.87 410.66 L136.94 411.44 L137.01 412.22 L137.08 413.00 L137.15 413.78 L137.21 414.56 L137.27 415.34 L137.32 416.12 L137.37 416.90 L137.41 417.68 L137.45 418.45 L137.48 419.23 L137.50 420.01 L137.53 420.79 L137.54 421.57 L137.56 422.35 L137.57 423.13 L137.58 423.91 L137.58 424.69 L137.59 425.47 L137.59 426.25 L137.59 427.03 L137.60 427.81 L137.60 428.59 L137.60 429.37 L137.60 430.15 L137.60 430.93 L137.60 431.71 L137.60 432.49 L137.60 433.27 L137.60 434.04 L137.60 434.82 L137.60 435.60 L137.60 436.38 L137.60 437.16 L137.60 437.94 L137.60 438.72 L137.60 439.50 L137.60 440.28 L137.60 441.06 L138.00 441.06 L138.00 440.28 L138.00 439.50 L138.00 438.72 L138.00 437.94 L138.00 437.16 L138.00 436.38 L138.00 435.60 L138.00 434.82 L138.00 434.04 L138.00 433.27 L138.00 432.49 L138.00 431.71 L138.00 430.93 L138.00 430.15 L138.00 429.37 L138.00 428.59 L138.00 427.81 L138.01 427.03 L138.01 426.25 L138.01 425.47 L138.02 424.69 L138.02 423.91 L138.03 423.13 L138.04 422.35 L138.06 421.57 L138.07 420.79 L138.10 420.01 L138.12 419.23 L138.15 418.45 L138.19 417.68 L138.23 416.90 L138.28 416.12 L138.33 415.34 L138.39 414.56 L138.45 413.78 L138.52 413.00 L138.59 412.22 L138.66 411.44 L138.73 410.66 L138.80 409.88 L138.86 409.10 L138.92 408.32 L138.97 407.54 L139.01 406.76 L139.03 405.98 L139.05 405.20 L139.05 404.42 L139.01 403.64 L138.94 402.86 L138.85 402.09 L138.73 401.31 L138.61 400.53 L138.49 399.75 L138.38 398.97 L138.28 398.19 L138.20 397.41 L138.14 396.63 L138.09 395.85 L138.06 395.07Z" fill="#4cad3a" opacity="0.72"/>
<line x1="137.8" y1="441.1" x2="137.8" y2="395.1" stroke="#4cad3a" stroke-width="0.8" opacity="0.45"/>
<line x1="137.8" y1="410.4" x2="137.8" y2="399.9" stroke="#4cad3a" stroke-width="2.0" opacity="0.72"/>
<text x="136.4" y="473.4" font-size="8.21" textLength="19.99" lengthAdjust="spacingAndGlyphs" text-anchor="end" fill="#222" stroke="#222" stroke-width="0.1" transform="rotate(-45 136.4 473.4)">MISO</text>
<line x1="150.7" y1="463.3" x2="150.7" y2="465.8" stroke="#333" stroke-width="0.7"/>
<path d="M145.55 388.50 L145.45 389.64 L145.31 390.79 L145.14 391.93 L144.95 393.07 L144.79 394.22 L144.68 395.36 L144.65 396.50 L144.67 397.65 L144.71 398.79 L144.78 399.93 L144.86 401.08 L144.96 402.22 L145.06 403.36 L145.16 404.51 L145.26 405.65 L145.35 406.79 L145.43 407.94 L145.50 409.08 L145.55 410.22 L145.59 411.37 L145.63 412.51 L145.65 413.65 L145.67 414.79 L145.68 415.94 L145.69 417.08 L145.69 418.22 L145.70 419.37 L145.70 420.51 L145.70 421.65 L145.70 422.80 L145.70 423.94 L145.70 425.08 L145.70 426.23 L145.70 427.37 L145.70 428.51 L145.70 429.66 L145.70 430.80 L145.70 431.94 L145.70 433.09 L145.70 434.23 L145.70 435.37 L145.70 436.52 L145.70 437.66 L145.70 438.80 L145.70 439.95 L145.70 441.09 L145.70 442.23 L145.70 443.38 L145.70 444.52 L145.70 445.66 L145.70 446.81 L145.70 447.95 L145.70 449.09 L145.70 450.24 L145.70 451.38 L145.70 452.52 L145.70 453.67 L145.70 454.81 L145.70 455.95 L146.10 455.95 L146.10 454.81 L146.10 453.67 L146.10 452.52 L146.10 451.38 L146.10 450.24 L146.10 449.09 L146.10 447.95 L146.10 446.81 L146.10 445.66 L146.10 444.52 L146.10 443.38 L146.10 442.23 L146.10 441.09 L146.10 439.95 L146.10 438.80 L146.10 437.66 L146.10 436.52 L146.10 435.37 L146.10 434.23 L146.10 433.09 L146.10 431.94 L146.10 430.80 L146.10 429.66 L146.10 428.51 L146.10 427.37 L146.10 426.23 L146.10 425.08 L146.10 423.94 L146.10 422.80 L146.10 421.65 L146.10 420.51 L146.10 419.37 L146.11 418.22 L146.11 417.08 L146.12 415.94 L146.13 414.79 L146.15 413.65 L146.17 412.51 L146.21 411.37 L146.25 410.22 L146.30 409.08 L146.37 407.94 L146.45 406.79 L146.54 405.65 L146.64 404.51 L146.74 403.36 L146.84 402.22 L146.94 401.08 L147.02 399.93 L147.09 398.79 L147.13 397.65 L147.15 396.50 L147.12 395.36 L147.01 394.22 L146.85 393.07 L146.66 391.93 L146.49 390.79 L146.35 389.64 L146.25 388.50Z" fill="#3e82bc" opacity="0.72"/>
<line x1="145.9" y1="456.0" x2="145.9" y2="388.5" stroke="#3e82bc" stroke-width="0.8" opacity="0.45"/>
<line x1="145.9" y1="403.8" x2="145.9" y2="390.7" stroke="#3e82bc" stroke-width="2.0" opacity="0.72"/>
<path d="M150.35 388.50 L150.27 389.38 L150.18 390.25 L150.06 391.13 L149.92 392.00 L149.78 392.88 L149.65 393.76 L149.55 394.63 L149.47 395.51 L149.45 396.38 L149.46 397.26 L149.48 398.14 L149.52 399.01 L149.57 399.89 L149.64 400.76 L149.71 401.64 L149.78 402.52 L149.86 403.39 L149.94 404.27 L150.02 405.14 L150.09 406.02 L150.16 406.90 L150.22 407.77 L150.27 408.65 L150.32 409.52 L150.36 410.40 L150.39 411.28 L150.42 412.15 L150.44 413.03 L150.45 413.90 L150.47 414.78 L150.48 415.66 L150.48 416.53 L150.49 417.41 L150.49 418.28 L150.49 419.16 L150.50 420.04 L150.50 420.91 L150.50 421.79 L150.50 422.66 L150.50 423.54 L150.50 424.42 L150.50 425.29 L150.50 426.17 L150.50 427.04 L150.50 427.92 L150.50 428.80 L150.50 429.67 L150.50 430.55 L150.50 431.42 L150.50 432.30 L150.50 433.18 L150.50 434.05 L150.50 434.93 L150.50 435.80 L150.50 436.68 L150.50 437.56 L150.50 438.43 L150.50 439.31 L150.50 440.18 L150.90 440.18 L150.90 439.31 L150.90 438.43 L150.90 437.56 L150.90 436.68 L150.90 435.80 L150.90 434.93 L150.90 434.05 L150.90 433.18 L150.90 432.30 L150.90 431.42 L150.90 430.55 L150.90 429.67 L150.90 428.80 L150.90 427.92 L150.90 427.04 L150.90 426.17 L150.90 425.29 L150.90 424.42 L150.90 423.54 L150.90 422.66 L150.90 421.79 L150.90 420.91 L150.90 420.04 L150.91 419.16 L150.91 418.28 L150.91 417.41 L150.92 416.53 L150.92 415.66 L150.93 414.78 L150.95 413.90 L150.96 413.03 L150.98 412.15 L151.01 411.28 L151.04 410.40 L151.08 409.52 L151.13 408.65 L151.18 407.77 L151.24 406.90 L151.31 406.02 L151.38 405.14 L151.46 404.27 L151.54 403.39 L151.62 402.52 L151.69 401.64 L151.76 400.76 L151.83 399.89 L151.88 399.01 L151.92 398.14 L151.94 397.26 L151.95 396.38 L151.93 395.51 L151.85 394.63 L151.75 393.76 L151.62 392.88 L151.48 392.00 L151.34 391.13 L151.22 390.25 L151.13 389.38 L151.05 388.50Z" fill="#f2832a" opacity="0.72"/>
<line x1="150.7" y1="440.2" x2="150.7" y2="388.5" stroke="#f2832a" stroke-width="0.8" opacity="0.45"/>
<line x1="150.7" y1="401.6" x2="150.7" y2="391.1" stroke="#f2832a" stroke-width="2.0" opacity="0.72"/>
<path d="M155.15 392.88 L155.07 393.76 L154.98 394.63 L154.86 395.51 L154.72 396.38 L154.58 397.26 L154.45 398.14 L154.35 399.01 L154.27 399.89 L154.25 400.76 L154.26 401.64 L154.28 402.52 L154.32 403.39 L154.37 404.27 L154.44 405.14 L154.51 406.02 L154.58 406.90 L154.66 407.77 L154.74 408.65 L154.82 409.52 L154.89 410.40 L154.96 411.28 L155.02 412.15 L155.07 413.03 L155.12 413.90 L155.16 414.78 L155.19 415.66 L155.22 416.53 L155.24 417.41 L155.25 418.28 L155.27 419.16 L155.28 420.04 L155.28 420.91 L155.29 421.79 L155.29 422.66 L155.29 423.54 L155.30 424.42 L155.30 425.29 L155.30 426.17 L155.30 427.04 L155.30 427.92 L155.30 428.80 L155.30 429.67 L155.30 430.55 L155.30 431.42 L155.30 432.30 L155.30 433.18 L155.30 434.05 L155.30 434.93 L155.30 435.80 L155.30 436.68 L155.30 437.56 L155.30 438.43 L155.30 439.31 L155.30 440.18 L155.30 441.06 L155.30 441.94 L155.30 442.81 L155.30 443.69 L155.30 444.56 L155.70 444.56 L155.70 443.69 L155.70 442.81 L155.70 441.94 L155.70 441.06 L155.70 440.18 L155.70 439.31 L155.70 438.43 L155.70 437.56 L155.70 436.68 L155.70 435.80 L155.70 434.93 L155.70 434.05 L155.70 433.18 L155.70 432.30 L155.70 431.42 L155.70 430.55 L155.70 429.67 L155.70 428.80 L155.70 427.92 L155.70 427.04 L155.70 426.17 L155.70 425.29 L155.70 424.42 L155.71 423.54 L155.71 422.66 L155.71 421.79 L155.72 420.91 L155.72 420.04 L155.73 419.16 L155.75 418.28 L155.76 417.41 L155.78 416.53 L155.81 415.66 L155.84 414.78 L155.88 413.90 L155.93 413.03 L155.98 412.15 L156.04 411.28 L156.11 410.40 L156.18 409.52 L156.26 408.65 L156.34 407.77 L156.42 406.90 L156.49 406.02 L156.56 405.14 L156.63 404.27 L156.68 403.39 L156.72 402.52 L156.74 401.64 L156.75 400.76 L156.73 399.89 L156.65 399.01 L156.55 398.14 L156.42 397.26 L156.28 396.38 L156.14 395.51 L156.02 394.63 L155.93 393.76 L155.85 392.88Z" fill="#4cad3a" opacity="0.72"/>
<line x1="155.5" y1="444.6" x2="155.5" y2="392.9" stroke="#4cad3a" stroke-width="0.8" opacity="0.45"/>
<line x1="155.5" y1="408.2" x2="155.5" y2="396.4" stroke="#4cad3a" stroke-width="2.0" opacity="0.72"/>
<text x="154.1" y="473.4" font-size="8.21" textLength="34.08" lengthAdjust="spacingAndGlyphs" text-anchor="end" fill="#222" stroke="#222" stroke-width="0.1" transform="rotate(-45 154.1 473.4)">MEFISTO</text>
<line x1="168.4" y1="463.3" x2="168.4" y2="465.8" stroke="#333" stroke-width="0.7"/>
<path d="M163.23 390.69 L163.06 391.30 L162.80 391.91 L162.45 392.52 L162.06 393.12 L161.72 393.73 L161.52 394.34 L161.52 394.95 L161.64 395.56 L161.85 396.17 L162.13 396.78 L162.42 397.39 L162.69 397.99 L162.92 398.60 L163.09 399.21 L163.22 399.82 L163.30 400.43 L163.35 401.04 L163.37 401.65 L163.39 402.26 L163.39 402.86 L163.40 403.47 L163.40 404.08 L163.40 404.69 L163.40 405.30 L163.40 405.91 L163.40 406.52 L163.40 407.13 L163.40 407.73 L163.40 408.34 L163.40 408.95 L163.40 409.56 L163.40 410.17 L163.40 410.78 L163.40 411.39 L163.40 412.00 L163.40 412.60 L163.40 413.21 L163.40 413.82 L163.40 414.43 L163.40 415.04 L163.40 415.65 L163.40 416.26 L163.40 416.87 L163.40 417.47 L163.40 418.08 L163.40 418.69 L163.40 419.30 L163.40 419.91 L163.40 420.52 L163.40 421.13 L163.40 421.74 L163.40 422.34 L163.40 422.95 L163.40 423.56 L163.40 424.17 L163.40 424.78 L163.40 425.39 L163.40 426.00 L163.40 426.61 L163.80 426.61 L163.80 426.00 L163.80 425.39 L163.80 424.78 L163.80 424.17 L163.80 423.56 L163.80 422.95 L163.80 422.34 L163.80 421.74 L163.80 421.13 L163.80 420.52 L163.80 419.91 L163.80 419.30 L163.80 418.69 L163.80 418.08 L163.80 417.47 L163.80 416.87 L163.80 416.26 L163.80 415.65 L163.80 415.04 L163.80 414.43 L163.80 413.82 L163.80 413.21 L163.80 412.60 L163.80 412.00 L163.80 411.39 L163.80 410.78 L163.80 410.17 L163.80 409.56 L163.80 408.95 L163.80 408.34 L163.80 407.73 L163.80 407.13 L163.80 406.52 L163.80 405.91 L163.80 405.30 L163.80 404.69 L163.80 404.08 L163.80 403.47 L163.81 402.86 L163.81 402.26 L163.83 401.65 L163.85 401.04 L163.90 400.43 L163.98 399.82 L164.11 399.21 L164.28 398.60 L164.51 397.99 L164.78 397.39 L165.07 396.78 L165.35 396.17 L165.56 395.56 L165.68 394.95 L165.68 394.34 L165.48 393.73 L165.14 393.12 L164.75 392.52 L164.40 391.91 L164.14 391.30 L163.97 390.69Z" fill="none" stroke="#3e82bc" stroke-width="0.6" opacity="0.8"/>
<line x1="163.6" y1="426.6" x2="163.6" y2="390.7" stroke="#3e82bc" stroke-width="0.8" opacity="0.6"/>
<line x1="163.6" y1="396.4" x2="163.6" y2="392.9" stroke="#3e82bc" stroke-width="1.6" opacity="0.8"/>
<path d="M168.17 389.38 L168.15 389.84 L168.10 390.30 L168.01 390.76 L167.89 391.22 L167.71 391.68 L167.47 392.14 L167.20 392.60 L166.90 393.06 L166.63 393.52 L166.42 393.98 L166.31 394.44 L166.31 394.90 L166.39 395.36 L166.52 395.82 L166.70 396.28 L166.91 396.74 L167.13 397.20 L167.34 397.66 L167.54 398.12 L167.71 398.58 L167.85 399.04 L167.96 399.50 L168.04 399.96 L168.10 400.42 L168.14 400.88 L168.16 401.34 L168.18 401.80 L168.19 402.26 L168.19 402.72 L168.20 403.18 L168.20 403.64 L168.20 404.10 L168.20 404.56 L168.20 405.03 L168.20 405.49 L168.20 405.95 L168.20 406.41 L168.20 406.87 L168.20 407.33 L168.20 407.79 L168.20 408.25 L168.20 408.71 L168.20 409.17 L168.20 409.63 L168.20 410.09 L168.20 410.55 L168.20 411.01 L168.20 411.47 L168.20 411.93 L168.20 412.39 L168.20 412.85 L168.20 413.31 L168.20 413.77 L168.20 414.23 L168.20 414.69 L168.20 415.15 L168.20 415.61 L168.20 416.07 L168.20 416.53 L168.60 416.53 L168.60 416.07 L168.60 415.61 L168.60 415.15 L168.60 414.69 L168.60 414.23 L168.60 413.77 L168.60 413.31 L168.60 412.85 L168.60 412.39 L168.60 411.93 L168.60 411.47 L168.60 411.01 L168.60 410.55 L168.60 410.09 L168.60 409.63 L168.60 409.17 L168.60 408.71 L168.60 408.25 L168.60 407.79 L168.60 407.33 L168.60 406.87 L168.60 406.41 L168.60 405.95 L168.60 405.49 L168.60 405.03 L168.60 404.56 L168.60 404.10 L168.60 403.64 L168.60 403.18 L168.61 402.72 L168.61 402.26 L168.62 401.80 L168.64 401.34 L168.66 400.88 L168.70 400.42 L168.76 399.96 L168.84 399.50 L168.95 399.04 L169.09 398.58 L169.26 398.12 L169.46 397.66 L169.67 397.20 L169.89 396.74 L170.10 396.28 L170.28 395.82 L170.41 395.36 L170.49 394.90 L170.49 394.44 L170.38 393.98 L170.17 393.52 L169.90 393.06 L169.60 392.60 L169.33 392.14 L169.09 391.68 L168.91 391.22 L168.79 390.76 L168.70 390.30 L168.65 389.84 L168.63 389.38Z" fill="none" stroke="#f2832a" stroke-width="0.6" opacity="0.8"/>
<line x1="168.4" y1="416.5" x2="168.4" y2="389.4" stroke="#f2832a" stroke-width="0.8" opacity="0.6"/>
<line x1="168.4" y1="399.5" x2="168.4" y2="392.9" stroke="#f2832a" stroke-width="1.6" opacity="0.8"/>
<path d="M172.99 392.00 L172.99 392.49 L172.97 392.97 L172.94 393.45 L172.88 393.93 L172.78 394.42 L172.62 394.90 L172.41 395.38 L172.14 395.86 L171.84 396.35 L171.54 396.83 L171.29 397.31 L171.13 397.79 L171.10 398.28 L171.16 398.76 L171.29 399.24 L171.47 399.72 L171.69 400.21 L171.92 400.69 L172.15 401.17 L172.35 401.65 L172.53 402.14 L172.67 402.62 L172.78 403.10 L172.86 403.59 L172.91 404.07 L172.95 404.55 L172.97 405.03 L172.98 405.52 L172.99 406.00 L173.00 406.48 L173.00 406.96 L173.00 407.45 L173.00 407.93 L173.00 408.41 L173.00 408.89 L173.00 409.38 L173.00 409.86 L173.00 410.34 L173.00 410.82 L173.00 411.31 L173.00 411.79 L173.00 412.27 L173.00 412.75 L173.00 413.24 L173.00 413.72 L173.00 414.20 L173.00 414.68 L173.00 415.17 L173.00 415.65 L173.00 416.13 L173.00 416.61 L173.00 417.10 L173.00 417.58 L173.00 418.06 L173.00 418.54 L173.00 419.03 L173.00 419.51 L173.00 419.99 L173.00 420.47 L173.40 420.47 L173.40 419.99 L173.40 419.51 L173.40 419.03 L173.40 418.54 L173.40 418.06 L173.40 417.58 L173.40 417.10 L173.40 416.61 L173.40 416.13 L173.40 415.65 L173.40 415.17 L173.40 414.68 L173.40 414.20 L173.40 413.72 L173.40 413.24 L173.40 412.75 L173.40 412.27 L173.40 411.79 L173.40 411.31 L173.40 410.82 L173.40 410.34 L173.40 409.86 L173.40 409.38 L173.40 408.89 L173.40 408.41 L173.40 407.93 L173.40 407.45 L173.40 406.96 L173.40 406.48 L173.41 406.00 L173.42 405.52 L173.43 405.03 L173.45 404.55 L173.49 404.07 L173.54 403.59 L173.62 403.10 L173.73 402.62 L173.87 402.14 L174.05 401.65 L174.25 401.17 L174.48 400.69 L174.71 400.21 L174.93 399.72 L175.11 399.24 L175.24 398.76 L175.30 398.28 L175.27 397.79 L175.11 397.31 L174.86 396.83 L174.56 396.35 L174.26 395.86 L173.99 395.38 L173.78 394.90 L173.62 394.42 L173.52 393.93 L173.46 393.45 L173.43 392.97 L173.41 392.49 L173.41 392.00Z" fill="none" stroke="#4cad3a" stroke-width="0.6" opacity="0.8"/>
<line x1="173.2" y1="420.5" x2="173.2" y2="392.0" stroke="#4cad3a" stroke-width="0.8" opacity="0.6"/>
<line x1="173.2" y1="402.5" x2="173.2" y2="395.5" stroke="#4cad3a" stroke-width="1.6" opacity="0.8"/>
<text x="171.8" y="473.4" font-size="8.21" textLength="27.03" lengthAdjust="spacingAndGlyphs" text-anchor="end" fill="#222" stroke="#222" stroke-width="0.1" transform="rotate(-45 171.8 473.4)">SMART</text>
<line x1="186.1" y1="463.3" x2="186.1" y2="465.8" stroke="#333" stroke-width="0.7"/>
<path d="M180.81 388.06 L180.51 388.81 L180.08 389.56 L179.61 390.31 L179.27 391.06 L179.21 391.81 L179.36 392.56 L179.64 393.31 L179.99 394.06 L180.34 394.81 L180.62 395.56 L180.83 396.31 L180.96 397.06 L181.04 397.81 L181.07 398.56 L181.09 399.31 L181.10 400.06 L181.10 400.81 L181.10 401.56 L181.10 402.31 L181.10 403.06 L181.10 403.81 L181.10 404.56 L181.10 405.31 L181.10 406.06 L181.10 406.81 L181.10 407.56 L181.10 408.31 L181.10 409.06 L181.10 409.81 L181.10 410.56 L181.10 411.31 L181.10 412.06 L181.10 412.81 L181.10 413.56 L181.10 414.30 L181.10 415.05 L181.10 415.80 L181.10 416.55 L181.10 417.30 L181.10 418.05 L181.10 418.80 L181.10 419.55 L181.10 420.30 L181.10 421.05 L181.10 421.80 L181.10 422.55 L181.10 423.30 L181.10 424.05 L181.10 424.80 L181.10 425.55 L181.10 426.30 L181.10 427.05 L181.10 427.80 L181.10 428.55 L181.10 429.30 L181.10 430.05 L181.10 430.80 L181.10 431.55 L181.10 432.30 L181.50 432.30 L181.50 431.55 L181.50 430.80 L181.50 430.05 L181.50 429.30 L181.50 428.55 L181.50 427.80 L181.50 427.05 L181.50 426.30 L181.50 425.55 L181.50 424.80 L181.50 424.05 L181.50 423.30 L181.50 422.55 L181.50 421.80 L181.50 421.05 L181.50 420.30 L181.50 419.55 L181.50 418.80 L181.50 418.05 L181.50 417.30 L181.50 416.55 L181.50 415.80 L181.50 415.05 L181.50 414.30 L181.50 413.56 L181.50 412.81 L181.50 412.06 L181.50 411.31 L181.50 410.56 L181.50 409.81 L181.50 409.06 L181.50 408.31 L181.50 407.56 L181.50 406.81 L181.50 406.06 L181.50 405.31 L181.50 404.56 L181.50 403.81 L181.50 403.06 L181.50 402.31 L181.50 401.56 L181.50 400.81 L181.50 400.06 L181.51 399.31 L181.53 398.56 L181.56 397.81 L181.64 397.06 L181.77 396.31 L181.98 395.56 L182.26 394.81 L182.61 394.06 L182.96 393.31 L183.24 392.56 L183.39 391.81 L183.33 391.06 L182.99 390.31 L182.52 389.56 L182.09 388.81 L181.79 388.06Z" fill="none" stroke="#3e82bc" stroke-width="0.6" opacity="0.8"/>
<line x1="181.3" y1="432.3" x2="181.3" y2="388.1" stroke="#3e82bc" stroke-width="0.8" opacity="0.6"/>
<line x1="181.3" y1="392.9" x2="181.3" y2="390.3" stroke="#3e82bc" stroke-width="1.6" opacity="0.8"/>
<path d="M184.72 388.50 L184.59 388.70 L184.47 388.90 L184.35 389.10 L184.25 389.30 L184.16 389.50 L184.09 389.70 L184.04 389.90 L184.01 390.10 L184.00 390.30 L184.01 390.50 L184.03 390.70 L184.07 390.91 L184.12 391.11 L184.17 391.31 L184.24 391.51 L184.32 391.71 L184.40 391.91 L184.49 392.11 L184.58 392.31 L184.68 392.51 L184.78 392.71 L184.87 392.91 L184.97 393.11 L185.06 393.31 L185.14 393.51 L185.23 393.71 L185.31 393.91 L185.38 394.11 L185.45 394.31 L185.51 394.51 L185.56 394.71 L185.61 394.91 L185.66 395.11 L185.69 395.31 L185.73 395.52 L185.76 395.72 L185.78 395.92 L185.80 396.12 L185.82 396.32 L185.84 396.52 L185.85 396.72 L185.86 396.92 L185.87 397.12 L185.88 397.32 L185.88 397.52 L185.89 397.72 L185.89 397.92 L185.89 398.12 L185.89 398.32 L185.89 398.52 L185.90 398.72 L185.90 398.92 L185.90 399.12 L185.90 399.32 L185.90 399.52 L185.90 399.72 L185.90 399.93 L185.90 400.13 L185.90 400.33 L186.30 400.33 L186.30 400.13 L186.30 399.93 L186.30 399.72 L186.30 399.52 L186.30 399.32 L186.30 399.12 L186.30 398.92 L186.30 398.72 L186.31 398.52 L186.31 398.32 L186.31 398.12 L186.31 397.92 L186.31 397.72 L186.32 397.52 L186.32 397.32 L186.33 397.12 L186.34 396.92 L186.35 396.72 L186.36 396.52 L186.38 396.32 L186.40 396.12 L186.42 395.92 L186.44 395.72 L186.47 395.52 L186.51 395.31 L186.54 395.11 L186.59 394.91 L186.64 394.71 L186.69 394.51 L186.75 394.31 L186.82 394.11 L186.89 393.91 L186.97 393.71 L187.06 393.51 L187.14 393.31 L187.23 393.11 L187.33 392.91 L187.42 392.71 L187.52 392.51 L187.62 392.31 L187.71 392.11 L187.80 391.91 L187.88 391.71 L187.96 391.51 L188.03 391.31 L188.08 391.11 L188.13 390.91 L188.17 390.70 L188.19 390.50 L188.20 390.30 L188.19 390.10 L188.16 389.90 L188.11 389.70 L188.04 389.50 L187.95 389.30 L187.85 389.10 L187.73 388.90 L187.61 388.70 L187.48 388.50Z" fill="none" stroke="#f2832a" stroke-width="0.6" opacity="0.8"/>
<line x1="186.1" y1="400.3" x2="186.1" y2="388.5" stroke="#f2832a" stroke-width="0.8" opacity="0.6"/>
<line x1="186.1" y1="391.6" x2="186.1" y2="389.4" stroke="#f2832a" stroke-width="1.6" opacity="0.8"/>
<path d="M190.41 391.13 L190.32 391.40 L190.21 391.66 L190.08 391.93 L189.94 392.20 L189.78 392.46 L189.61 392.73 L189.44 393.00 L189.28 393.27 L189.12 393.53 L188.99 393.80 L188.89 394.07 L188.83 394.34 L188.80 394.60 L188.81 394.87 L188.84 395.14 L188.90 395.40 L188.97 395.67 L189.06 395.94 L189.17 396.21 L189.28 396.47 L189.41 396.74 L189.54 397.01 L189.66 397.27 L189.79 397.54 L189.91 397.81 L190.02 398.08 L190.13 398.34 L190.22 398.61 L190.30 398.88 L190.38 399.15 L190.44 399.41 L190.49 399.68 L190.54 399.95 L190.57 400.21 L190.60 400.48 L190.63 400.75 L190.64 401.02 L190.66 401.28 L190.67 401.55 L190.68 401.82 L190.68 402.09 L190.69 402.35 L190.69 402.62 L190.69 402.89 L190.70 403.15 L190.70 403.42 L190.70 403.69 L190.70 403.96 L190.70 404.22 L190.70 404.49 L190.70 404.76 L190.70 405.03 L190.70 405.29 L190.70 405.56 L190.70 405.83 L190.70 406.09 L190.70 406.36 L190.70 406.63 L190.70 406.90 L191.10 406.90 L191.10 406.63 L191.10 406.36 L191.10 406.09 L191.10 405.83 L191.10 405.56 L191.10 405.29 L191.10 405.03 L191.10 404.76 L191.10 404.49 L191.10 404.22 L191.10 403.96 L191.10 403.69 L191.10 403.42 L191.10 403.15 L191.11 402.89 L191.11 402.62 L191.11 402.35 L191.12 402.09 L191.12 401.82 L191.13 401.55 L191.14 401.28 L191.16 401.02 L191.17 400.75 L191.20 400.48 L191.23 400.21 L191.26 399.95 L191.31 399.68 L191.36 399.41 L191.42 399.15 L191.50 398.88 L191.58 398.61 L191.67 398.34 L191.78 398.08 L191.89 397.81 L192.01 397.54 L192.14 397.27 L192.26 397.01 L192.39 396.74 L192.52 396.47 L192.63 396.21 L192.74 395.94 L192.83 395.67 L192.90 395.40 L192.96 395.14 L192.99 394.87 L193.00 394.60 L192.97 394.34 L192.91 394.07 L192.81 393.80 L192.68 393.53 L192.52 393.27 L192.36 393.00 L192.19 392.73 L192.02 392.46 L191.86 392.20 L191.72 391.93 L191.59 391.66 L191.48 391.40 L191.39 391.13Z" fill="none" stroke="#4cad3a" stroke-width="0.6" opacity="0.8"/>
<line x1="190.9" y1="406.9" x2="190.9" y2="391.1" stroke="#4cad3a" stroke-width="0.8" opacity="0.6"/>
<line x1="190.9" y1="396.4" x2="190.9" y2="392.9" stroke="#4cad3a" stroke-width="1.6" opacity="0.8"/>
<text x="189.5" y="473.4" font-size="8.21" textLength="29.04" lengthAdjust="spacingAndGlyphs" text-anchor="end" fill="#222" stroke="#222" stroke-width="0.1" transform="rotate(-45 189.5 473.4)">MOFA+</text>
<rect x="201.40" y="430.40" width="13.20" height="4.40" fill="none" stroke="#3e82bc" stroke-width="0.8" stroke-opacity="0.55"/>
<text x="215.1" y="434.9" font-size="6.57" textLength="12.80" lengthAdjust="spacingAndGlyphs" fill="#222" stroke="#222" stroke-width="0.1">ADT</text>
<rect x="201.40" y="439.15" width="13.20" height="4.40" fill="none" stroke="#f2832a" stroke-width="0.8" stroke-opacity="0.55"/>
<text x="215.1" y="443.6" font-size="6.57" textLength="13.19" lengthAdjust="spacingAndGlyphs" fill="#222" stroke="#222" stroke-width="0.1">RNA</text>
<rect x="201.40" y="447.90" width="13.20" height="4.40" fill="none" stroke="#4cad3a" stroke-width="0.8" stroke-opacity="0.55"/>
<text x="215.1" y="452.4" font-size="6.57" textLength="16.60" lengthAdjust="spacingAndGlyphs" fill="#222" stroke="#222" stroke-width="0.1">ATAC</text>
<text x="243.2" y="378.5" font-size="16.00" font-weight="bold" fill="#000">f</text>
<line x1="280.9" y1="379.3" x2="280.9" y2="464.0" stroke="#333" stroke-width="0.9"/>
<line x1="280.9" y1="464.0" x2="408.0" y2="464.0" stroke="#333" stroke-width="0.9"/>
<line x1="278.5" y1="382.8" x2="280.9" y2="382.8" stroke="#333" stroke-width="0.8"/>
<text x="275.6" y="385.6" font-size="8.16" textLength="12.25" lengthAdjust="spacingAndGlyphs" text-anchor="end" fill="#222" stroke="#222" stroke-width="0.1">1.0</text>
<line x1="278.5" y1="400.0" x2="280.9" y2="400.0" stroke="#333" stroke-width="0.8"/>
<text x="275.6" y="402.8" font-size="8.16" textLength="12.25" lengthAdjust="spacingAndGlyphs" text-anchor="end" fill="#222" stroke="#222" stroke-width="0.1">0.8</text>
<line x1="278.5" y1="417.2" x2="280.9" y2="417.2" stroke="#333" stroke-width="0.8"/>
<text x="275.6" y="420.0" font-size="8.16" textLength="12.25" lengthAdjust="spacingAndGlyphs" text-anchor="end" fill="#222" stroke="#222" stroke-width="0.1">0.6</text>
<line x1="278.5" y1="434.4" x2="280.9" y2="434.4" stroke="#333" stroke-width="0.8"/>
<text x="275.6" y="437.2" font-size="8.16" textLength="12.25" lengthAdjust="spacingAndGlyphs" text-anchor="end" fill="#222" stroke="#222" stroke-width="0.1">0.4</text>
<line x1="278.5" y1="451.6" x2="280.9" y2="451.6" stroke="#333" stroke-width="0.8"/>
<text x="275.6" y="454.4" font-size="8.16" textLength="12.25" lengthAdjust="spacingAndGlyphs" text-anchor="end" fill="#222" stroke="#222" stroke-width="0.1">0.2</text>
<text x="259.0" y="421.5" font-size="8.37" textLength="19.91" lengthAdjust="spacingAndGlyphs" text-anchor="middle" fill="#222" stroke="#222" stroke-width="0.1" transform="rotate(-90 259.0 421.5)">PCCs</text>
<line x1="293.3" y1="464.0" x2="293.3" y2="466.5" stroke="#333" stroke-width="0.7"/>
<text x="293.3" y="475.5" font-size="7.95" textLength="4.77" lengthAdjust="spacingAndGlyphs" text-anchor="middle" fill="#222" stroke="#222" stroke-width="0.1">1</text>
<path d="M285.93 386.24 L285.76 387.06 L285.55 387.87 L285.29 388.69 L284.98 389.51 L284.64 390.32 L284.27 391.14 L283.90 391.95 L283.55 392.77 L283.26 393.59 L283.04 394.40 L282.92 395.22 L282.90 396.04 L282.95 396.85 L283.05 397.67 L283.20 398.48 L283.38 399.30 L283.60 400.12 L283.84 400.93 L284.09 401.75 L284.35 402.57 L284.61 403.38 L284.85 404.20 L285.08 405.01 L285.29 405.83 L285.48 406.65 L285.64 407.46 L285.78 408.28 L285.89 409.10 L285.99 409.91 L286.07 410.73 L286.13 411.54 L286.17 412.36 L286.21 413.18 L286.24 413.99 L286.25 414.81 L286.27 415.63 L286.28 416.44 L286.29 417.26 L286.29 418.07 L286.29 418.89 L286.30 419.71 L286.30 420.52 L286.30 421.34 L286.30 422.16 L286.30 422.97 L286.30 423.79 L286.30 424.60 L286.30 425.42 L286.30 426.24 L286.30 427.05 L286.30 427.87 L286.30 428.69 L286.30 429.50 L286.30 430.32 L286.30 431.13 L286.30 431.95 L286.30 432.77 L286.30 433.58 L286.30 434.40 L286.70 434.40 L286.70 433.58 L286.70 432.77 L286.70 431.95 L286.70 431.13 L286.70 430.32 L286.70 429.50 L286.70 428.69 L286.70 427.87 L286.70 427.05 L286.70 426.24 L286.70 425.42 L286.70 424.60 L286.70 423.79 L286.70 422.97 L286.70 422.16 L286.70 421.34 L286.70 420.52 L286.70 419.71 L286.71 418.89 L286.71 418.07 L286.71 417.26 L286.72 416.44 L286.73 415.63 L286.75 414.81 L286.76 413.99 L286.79 413.18 L286.83 412.36 L286.87 411.54 L286.93 410.73 L287.01 409.91 L287.11 409.10 L287.22 408.28 L287.36 407.46 L287.52 406.65 L287.71 405.83 L287.92 405.01 L288.15 404.20 L288.39 403.38 L288.65 402.57 L288.91 401.75 L289.16 400.93 L289.40 400.12 L289.62 399.30 L289.80 398.48 L289.95 397.67 L290.05 396.85 L290.10 396.04 L290.08 395.22 L289.96 394.40 L289.74 393.59 L289.45 392.77 L289.10 391.95 L288.73 391.14 L288.36 390.32 L288.02 389.51 L287.71 388.69 L287.45 387.87 L287.24 387.06 L287.07 386.24Z" fill="none" stroke="#3e82bc" stroke-width="0.6" opacity="0.8"/>
<line x1="286.5" y1="434.4" x2="286.5" y2="386.2" stroke="#3e82bc" stroke-width="0.8" opacity="0.5"/>
<line x1="286.5" y1="405.2" x2="286.5" y2="394.8" stroke="#3e82bc" stroke-width="2.0" opacity="0.8"/>
<circle cx="286.50" cy="400.00" r="0.50" fill="#fff" opacity="0.8"/>
<path d="M291.71 383.66 L291.36 384.46 L291.00 385.26 L290.64 386.07 L290.30 386.87 L290.02 387.67 L289.82 388.47 L289.71 389.27 L289.71 390.07 L289.76 390.88 L289.86 391.68 L290.00 392.48 L290.18 393.28 L290.40 394.08 L290.63 394.88 L290.88 395.69 L291.14 396.49 L291.39 397.29 L291.63 398.09 L291.85 398.89 L292.06 399.69 L292.25 400.50 L292.41 401.30 L292.55 402.10 L292.67 402.90 L292.77 403.70 L292.85 404.50 L292.91 405.31 L292.96 406.11 L293.00 406.91 L293.03 407.71 L293.05 408.51 L293.06 409.31 L293.08 410.12 L293.08 410.92 L293.09 411.72 L293.09 412.52 L293.10 413.32 L293.10 414.12 L293.10 414.93 L293.10 415.73 L293.10 416.53 L293.10 417.33 L293.10 418.13 L293.10 418.93 L293.10 419.74 L293.10 420.54 L293.10 421.34 L293.10 422.14 L293.10 422.94 L293.10 423.74 L293.10 424.55 L293.10 425.35 L293.10 426.15 L293.10 426.95 L293.10 427.75 L293.10 428.55 L293.10 429.36 L293.10 430.16 L293.10 430.96 L293.50 430.96 L293.50 430.16 L293.50 429.36 L293.50 428.55 L293.50 427.75 L293.50 426.95 L293.50 426.15 L293.50 425.35 L293.50 424.55 L293.50 423.74 L293.50 422.94 L293.50 422.14 L293.50 421.34 L293.50 420.54 L293.50 419.74 L293.50 418.93 L293.50 418.13 L293.50 417.33 L293.50 416.53 L293.50 415.73 L293.50 414.93 L293.50 414.12 L293.50 413.32 L293.51 412.52 L293.51 411.72 L293.52 410.92 L293.52 410.12 L293.54 409.31 L293.55 408.51 L293.57 407.71 L293.60 406.91 L293.64 406.11 L293.69 405.31 L293.75 404.50 L293.83 403.70 L293.93 402.90 L294.05 402.10 L294.19 401.30 L294.35 400.50 L294.54 399.69 L294.75 398.89 L294.97 398.09 L295.21 397.29 L295.46 396.49 L295.72 395.69 L295.97 394.88 L296.20 394.08 L296.42 393.28 L296.60 392.48 L296.74 391.68 L296.84 390.88 L296.89 390.07 L296.89 389.27 L296.78 388.47 L296.58 387.67 L296.30 386.87 L295.96 386.07 L295.60 385.26 L295.24 384.46 L294.89 383.66Z" fill="none" stroke="#f2832a" stroke-width="0.6" opacity="0.8"/>
<line x1="293.3" y1="431.0" x2="293.3" y2="383.7" stroke="#f2832a" stroke-width="0.8" opacity="0.5"/>
<line x1="293.3" y1="398.3" x2="293.3" y2="388.8" stroke="#f2832a" stroke-width="2.0" opacity="0.8"/>
<circle cx="293.30" cy="393.12" r="0.50" fill="#fff" opacity="0.8"/>
<path d="M298.51 385.38 L298.28 385.92 L298.04 386.46 L297.79 387.00 L297.55 387.54 L297.31 388.08 L297.09 388.62 L296.90 389.16 L296.74 389.69 L296.61 390.23 L296.53 390.77 L296.50 391.31 L296.51 391.85 L296.54 392.39 L296.59 392.93 L296.67 393.47 L296.76 394.01 L296.88 394.55 L297.01 395.09 L297.15 395.63 L297.30 396.17 L297.46 396.71 L297.63 397.25 L297.80 397.78 L297.97 398.32 L298.14 398.86 L298.31 399.40 L298.47 399.94 L298.62 400.48 L298.76 401.02 L298.90 401.56 L299.02 402.10 L299.14 402.64 L299.24 403.18 L299.34 403.72 L299.42 404.26 L299.49 404.80 L299.56 405.33 L299.62 405.87 L299.66 406.41 L299.71 406.95 L299.74 407.49 L299.77 408.03 L299.80 408.57 L299.82 409.11 L299.83 409.65 L299.85 410.19 L299.86 410.73 L299.87 411.27 L299.88 411.81 L299.88 412.35 L299.89 412.89 L299.89 413.42 L299.89 413.96 L299.89 414.50 L299.90 415.04 L299.90 415.58 L299.90 416.12 L299.90 416.66 L299.90 417.20 L300.30 417.20 L300.30 416.66 L300.30 416.12 L300.30 415.58 L300.30 415.04 L300.31 414.50 L300.31 413.96 L300.31 413.42 L300.31 412.89 L300.32 412.35 L300.32 411.81 L300.33 411.27 L300.34 410.73 L300.35 410.19 L300.37 409.65 L300.38 409.11 L300.40 408.57 L300.43 408.03 L300.46 407.49 L300.49 406.95 L300.54 406.41 L300.58 405.87 L300.64 405.33 L300.71 404.80 L300.78 404.26 L300.86 403.72 L300.96 403.18 L301.06 402.64 L301.18 402.10 L301.30 401.56 L301.44 401.02 L301.58 400.48 L301.73 399.94 L301.89 399.40 L302.06 398.86 L302.23 398.32 L302.40 397.78 L302.57 397.25 L302.74 396.71 L302.90 396.17 L303.05 395.63 L303.19 395.09 L303.32 394.55 L303.44 394.01 L303.53 393.47 L303.61 392.93 L303.66 392.39 L303.69 391.85 L303.70 391.31 L303.67 390.77 L303.59 390.23 L303.46 389.69 L303.30 389.16 L303.11 388.62 L302.89 388.08 L302.65 387.54 L302.41 387.00 L302.16 386.46 L301.92 385.92 L301.69 385.38Z" fill="none" stroke="#4cad3a" stroke-width="0.6" opacity="0.8"/>
<line x1="300.1" y1="417.2" x2="300.1" y2="385.4" stroke="#4cad3a" stroke-width="0.8" opacity="0.5"/>
<line x1="300.1" y1="396.6" x2="300.1" y2="389.7" stroke="#4cad3a" stroke-width="2.0" opacity="0.8"/>
<circle cx="300.10" cy="393.12" r="0.50" fill="#fff" opacity="0.8"/>
<line x1="318.9" y1="464.0" x2="318.9" y2="466.5" stroke="#333" stroke-width="0.7"/>
<text x="318.9" y="475.5" font-size="7.95" textLength="4.77" lengthAdjust="spacingAndGlyphs" text-anchor="middle" fill="#222" stroke="#222" stroke-width="0.1">2</text>
<path d="M311.84 387.10 L311.81 387.89 L311.76 388.67 L311.68 389.46 L311.58 390.25 L311.43 391.04 L311.25 391.82 L311.02 392.61 L310.74 393.40 L310.43 394.18 L310.08 394.97 L309.72 395.76 L309.37 396.55 L309.05 397.33 L308.78 398.12 L308.60 398.91 L308.51 399.69 L308.51 400.48 L308.56 401.27 L308.67 402.06 L308.81 402.84 L308.99 403.63 L309.20 404.42 L309.43 405.20 L309.68 405.99 L309.93 406.78 L310.17 407.57 L310.41 408.35 L310.63 409.14 L310.84 409.93 L311.03 410.71 L311.19 411.50 L311.33 412.29 L311.45 413.07 L311.55 413.86 L311.63 414.65 L311.70 415.44 L311.75 416.22 L311.79 417.01 L311.82 417.80 L311.84 418.58 L311.86 419.37 L311.87 420.16 L311.88 420.95 L311.89 421.73 L311.89 422.52 L311.89 423.31 L311.90 424.09 L311.90 424.88 L311.90 425.67 L311.90 426.46 L311.90 427.24 L311.90 428.03 L311.90 428.82 L311.90 429.60 L311.90 430.39 L311.90 431.18 L311.90 431.97 L311.90 432.75 L311.90 433.54 L312.30 433.54 L312.30 432.75 L312.30 431.97 L312.30 431.18 L312.30 430.39 L312.30 429.60 L312.30 428.82 L312.30 428.03 L312.30 427.24 L312.30 426.46 L312.30 425.67 L312.30 424.88 L312.30 424.09 L312.31 423.31 L312.31 422.52 L312.31 421.73 L312.32 420.95 L312.33 420.16 L312.34 419.37 L312.36 418.58 L312.38 417.80 L312.41 417.01 L312.45 416.22 L312.50 415.44 L312.57 414.65 L312.65 413.86 L312.75 413.07 L312.87 412.29 L313.01 411.50 L313.17 410.71 L313.36 409.93 L313.57 409.14 L313.79 408.35 L314.03 407.57 L314.27 406.78 L314.52 405.99 L314.77 405.20 L315.00 404.42 L315.21 403.63 L315.39 402.84 L315.53 402.06 L315.64 401.27 L315.69 400.48 L315.69 399.69 L315.60 398.91 L315.42 398.12 L315.15 397.33 L314.83 396.55 L314.48 395.76 L314.12 394.97 L313.77 394.18 L313.46 393.40 L313.18 392.61 L312.95 391.82 L312.77 391.04 L312.62 390.25 L312.52 389.46 L312.44 388.67 L312.39 387.89 L312.36 387.10Z" fill="none" stroke="#3e82bc" stroke-width="0.6" opacity="0.8"/>
<line x1="312.1" y1="433.5" x2="312.1" y2="387.1" stroke="#3e82bc" stroke-width="0.8" opacity="0.5"/>
<line x1="312.1" y1="408.6" x2="312.1" y2="395.7" stroke="#3e82bc" stroke-width="2.0" opacity="0.8"/>
<circle cx="312.10" cy="402.58" r="0.50" fill="#fff" opacity="0.8"/>
<path d="M318.15 383.66 L317.96 384.39 L317.74 385.12 L317.47 385.85 L317.17 386.58 L316.85 387.30 L316.51 388.03 L316.19 388.76 L315.89 389.49 L315.63 390.22 L315.44 390.95 L315.33 391.68 L315.30 392.41 L315.33 393.13 L315.40 393.86 L315.51 394.59 L315.66 395.32 L315.83 396.05 L316.03 396.78 L316.25 397.51 L316.47 398.24 L316.70 398.97 L316.93 399.69 L317.15 400.42 L317.37 401.15 L317.56 401.88 L317.74 402.61 L317.90 403.34 L318.05 404.07 L318.17 404.80 L318.28 405.52 L318.36 406.25 L318.44 406.98 L318.50 407.71 L318.55 408.44 L318.58 409.17 L318.61 409.90 L318.64 410.63 L318.65 411.35 L318.67 412.08 L318.68 412.81 L318.68 413.54 L318.69 414.27 L318.69 415.00 L318.69 415.73 L318.70 416.46 L318.70 417.19 L318.70 417.91 L318.70 418.64 L318.70 419.37 L318.70 420.10 L318.70 420.83 L318.70 421.56 L318.70 422.29 L318.70 423.02 L318.70 423.74 L318.70 424.47 L318.70 425.20 L318.70 425.93 L318.70 426.66 L319.10 426.66 L319.10 425.93 L319.10 425.20 L319.10 424.47 L319.10 423.74 L319.10 423.02 L319.10 422.29 L319.10 421.56 L319.10 420.83 L319.10 420.10 L319.10 419.37 L319.10 418.64 L319.10 417.91 L319.10 417.19 L319.10 416.46 L319.11 415.73 L319.11 415.00 L319.11 414.27 L319.12 413.54 L319.12 412.81 L319.13 412.08 L319.15 411.35 L319.16 410.63 L319.19 409.90 L319.22 409.17 L319.25 408.44 L319.30 407.71 L319.36 406.98 L319.44 406.25 L319.52 405.52 L319.63 404.80 L319.75 404.07 L319.90 403.34 L320.06 402.61 L320.24 401.88 L320.43 401.15 L320.65 400.42 L320.87 399.69 L321.10 398.97 L321.33 398.24 L321.55 397.51 L321.77 396.78 L321.97 396.05 L322.14 395.32 L322.29 394.59 L322.40 393.86 L322.47 393.13 L322.50 392.41 L322.47 391.68 L322.36 390.95 L322.17 390.22 L321.91 389.49 L321.61 388.76 L321.29 388.03 L320.95 387.30 L320.63 386.58 L320.33 385.85 L320.06 385.12 L319.84 384.39 L319.65 383.66Z" fill="none" stroke="#f2832a" stroke-width="0.6" opacity="0.8"/>
<line x1="318.9" y1="426.7" x2="318.9" y2="383.7" stroke="#f2832a" stroke-width="0.8" opacity="0.5"/>
<line x1="318.9" y1="401.7" x2="318.9" y2="389.7" stroke="#f2832a" stroke-width="2.0" opacity="0.8"/>
<circle cx="318.90" cy="394.84" r="0.50" fill="#fff" opacity="0.8"/>
<path d="M325.13 387.96 L324.98 388.72 L324.78 389.48 L324.55 390.23 L324.27 390.99 L323.96 391.75 L323.63 392.51 L323.28 393.27 L322.94 394.02 L322.64 394.78 L322.38 395.54 L322.20 396.30 L322.11 397.06 L322.11 397.81 L322.15 398.57 L322.24 399.33 L322.37 400.09 L322.54 400.85 L322.74 401.60 L322.95 402.36 L323.19 403.12 L323.42 403.88 L323.66 404.64 L323.90 405.39 L324.12 406.15 L324.33 406.91 L324.52 407.67 L324.69 408.43 L324.84 409.18 L324.97 409.94 L325.08 410.70 L325.17 411.46 L325.25 412.21 L325.31 412.97 L325.35 413.73 L325.39 414.49 L325.42 415.25 L325.44 416.00 L325.46 416.76 L325.47 417.52 L325.48 418.28 L325.49 419.04 L325.49 419.79 L325.49 420.55 L325.50 421.31 L325.50 422.07 L325.50 422.83 L325.50 423.58 L325.50 424.34 L325.50 425.10 L325.50 425.86 L325.50 426.62 L325.50 427.37 L325.50 428.13 L325.50 428.89 L325.50 429.65 L325.50 430.41 L325.50 431.16 L325.50 431.92 L325.50 432.68 L325.90 432.68 L325.90 431.92 L325.90 431.16 L325.90 430.41 L325.90 429.65 L325.90 428.89 L325.90 428.13 L325.90 427.37 L325.90 426.62 L325.90 425.86 L325.90 425.10 L325.90 424.34 L325.90 423.58 L325.90 422.83 L325.90 422.07 L325.90 421.31 L325.91 420.55 L325.91 419.79 L325.91 419.04 L325.92 418.28 L325.93 417.52 L325.94 416.76 L325.96 416.00 L325.98 415.25 L326.01 414.49 L326.05 413.73 L326.09 412.97 L326.15 412.21 L326.23 411.46 L326.32 410.70 L326.43 409.94 L326.56 409.18 L326.71 408.43 L326.88 407.67 L327.07 406.91 L327.28 406.15 L327.50 405.39 L327.74 404.64 L327.98 403.88 L328.21 403.12 L328.45 402.36 L328.66 401.60 L328.86 400.85 L329.03 400.09 L329.16 399.33 L329.25 398.57 L329.29 397.81 L329.29 397.06 L329.20 396.30 L329.02 395.54 L328.76 394.78 L328.46 394.02 L328.12 393.27 L327.77 392.51 L327.44 391.75 L327.13 390.99 L326.85 390.23 L326.62 389.48 L326.42 388.72 L326.27 387.96Z" fill="none" stroke="#4cad3a" stroke-width="0.6" opacity="0.8"/>
<line x1="325.7" y1="432.7" x2="325.7" y2="388.0" stroke="#4cad3a" stroke-width="0.8" opacity="0.5"/>
<line x1="325.7" y1="403.4" x2="325.7" y2="394.0" stroke="#4cad3a" stroke-width="2.0" opacity="0.8"/>
<circle cx="325.70" cy="398.28" r="0.50" fill="#fff" opacity="0.8"/>
<line x1="344.5" y1="464.0" x2="344.5" y2="466.5" stroke="#333" stroke-width="0.7"/>
<text x="344.5" y="475.5" font-size="7.95" textLength="4.77" lengthAdjust="spacingAndGlyphs" text-anchor="middle" fill="#222" stroke="#222" stroke-width="0.1">3</text>
<path d="M337.47 387.10 L337.45 387.89 L337.41 388.67 L337.36 389.46 L337.29 390.25 L337.19 391.04 L337.05 391.82 L336.87 392.61 L336.64 393.40 L336.37 394.18 L336.06 394.97 L335.71 395.76 L335.35 396.55 L335.00 397.33 L334.68 398.12 L334.41 398.91 L334.21 399.69 L334.11 400.48 L334.11 401.27 L334.16 402.06 L334.25 402.84 L334.40 403.63 L334.57 404.42 L334.78 405.20 L335.01 405.99 L335.25 406.78 L335.50 407.57 L335.75 408.35 L335.99 409.14 L336.21 409.93 L336.42 410.71 L336.61 411.50 L336.78 412.29 L336.92 413.07 L337.04 413.86 L337.14 414.65 L337.22 415.44 L337.29 416.22 L337.34 417.01 L337.39 417.80 L337.42 418.58 L337.44 419.37 L337.46 420.16 L337.47 420.95 L337.48 421.73 L337.49 422.52 L337.49 423.31 L337.49 424.09 L337.50 424.88 L337.50 425.67 L337.50 426.46 L337.50 427.24 L337.50 428.03 L337.50 428.82 L337.50 429.60 L337.50 430.39 L337.50 431.18 L337.50 431.97 L337.50 432.75 L337.50 433.54 L337.90 433.54 L337.90 432.75 L337.90 431.97 L337.90 431.18 L337.90 430.39 L337.90 429.60 L337.90 428.82 L337.90 428.03 L337.90 427.24 L337.90 426.46 L337.90 425.67 L337.90 424.88 L337.91 424.09 L337.91 423.31 L337.91 422.52 L337.92 421.73 L337.93 420.95 L337.94 420.16 L337.96 419.37 L337.98 418.58 L338.01 417.80 L338.06 417.01 L338.11 416.22 L338.18 415.44 L338.26 414.65 L338.36 413.86 L338.48 413.07 L338.62 412.29 L338.79 411.50 L338.98 410.71 L339.19 409.93 L339.41 409.14 L339.65 408.35 L339.90 407.57 L340.15 406.78 L340.39 405.99 L340.62 405.20 L340.83 404.42 L341.00 403.63 L341.15 402.84 L341.24 402.06 L341.29 401.27 L341.29 400.48 L341.19 399.69 L340.99 398.91 L340.72 398.12 L340.40 397.33 L340.05 396.55 L339.69 395.76 L339.34 394.97 L339.03 394.18 L338.76 393.40 L338.53 392.61 L338.35 391.82 L338.21 391.04 L338.11 390.25 L338.04 389.46 L337.99 388.67 L337.95 387.89 L337.93 387.10Z" fill="none" stroke="#3e82bc" stroke-width="0.6" opacity="0.8"/>
<line x1="337.7" y1="433.5" x2="337.7" y2="387.1" stroke="#3e82bc" stroke-width="0.8" opacity="0.5"/>
<line x1="337.7" y1="408.6" x2="337.7" y2="396.6" stroke="#3e82bc" stroke-width="2.0" opacity="0.8"/>
<circle cx="337.70" cy="403.44" r="0.50" fill="#fff" opacity="0.8"/>
<path d="M343.93 383.66 L343.76 384.48 L343.55 385.29 L343.29 386.11 L342.98 386.93 L342.64 387.74 L342.27 388.56 L341.90 389.37 L341.55 390.19 L341.26 391.01 L341.04 391.82 L340.92 392.64 L340.90 393.46 L340.95 394.27 L341.05 395.09 L341.20 395.90 L341.38 396.72 L341.60 397.54 L341.84 398.35 L342.09 399.17 L342.35 399.99 L342.61 400.80 L342.85 401.62 L343.08 402.43 L343.29 403.25 L343.48 404.07 L343.64 404.88 L343.78 405.70 L343.89 406.52 L343.99 407.33 L344.07 408.15 L344.13 408.96 L344.17 409.78 L344.21 410.60 L344.24 411.41 L344.25 412.23 L344.27 413.05 L344.28 413.86 L344.29 414.68 L344.29 415.49 L344.29 416.31 L344.30 417.13 L344.30 417.94 L344.30 418.76 L344.30 419.58 L344.30 420.39 L344.30 421.21 L344.30 422.02 L344.30 422.84 L344.30 423.66 L344.30 424.47 L344.30 425.29 L344.30 426.11 L344.30 426.92 L344.30 427.74 L344.30 428.55 L344.30 429.37 L344.30 430.19 L344.30 431.00 L344.30 431.82 L344.70 431.82 L344.70 431.00 L344.70 430.19 L344.70 429.37 L344.70 428.55 L344.70 427.74 L344.70 426.92 L344.70 426.11 L344.70 425.29 L344.70 424.47 L344.70 423.66 L344.70 422.84 L344.70 422.02 L344.70 421.21 L344.70 420.39 L344.70 419.58 L344.70 418.76 L344.70 417.94 L344.70 417.13 L344.71 416.31 L344.71 415.49 L344.71 414.68 L344.72 413.86 L344.73 413.05 L344.75 412.23 L344.76 411.41 L344.79 410.60 L344.83 409.78 L344.87 408.96 L344.93 408.15 L345.01 407.33 L345.11 406.52 L345.22 405.70 L345.36 404.88 L345.52 404.07 L345.71 403.25 L345.92 402.43 L346.15 401.62 L346.39 400.80 L346.65 399.99 L346.91 399.17 L347.16 398.35 L347.40 397.54 L347.62 396.72 L347.80 395.90 L347.95 395.09 L348.05 394.27 L348.10 393.46 L348.08 392.64 L347.96 391.82 L347.74 391.01 L347.45 390.19 L347.10 389.37 L346.73 388.56 L346.36 387.74 L346.02 386.93 L345.71 386.11 L345.45 385.29 L345.24 384.48 L345.07 383.66Z" fill="none" stroke="#f2832a" stroke-width="0.6" opacity="0.8"/>
<line x1="344.5" y1="431.8" x2="344.5" y2="383.7" stroke="#f2832a" stroke-width="0.8" opacity="0.5"/>
<line x1="344.5" y1="400.0" x2="344.5" y2="389.7" stroke="#f2832a" stroke-width="2.0" opacity="0.8"/>
<circle cx="344.50" cy="394.84" r="0.50" fill="#fff" opacity="0.8"/>
<path d="M351.07 386.24 L351.04 387.09 L351.01 387.93 L350.95 388.78 L350.86 389.62 L350.74 390.47 L350.57 391.31 L350.36 392.16 L350.08 393.00 L349.76 393.85 L349.40 394.69 L349.02 395.54 L348.64 396.39 L348.29 397.23 L348.00 398.08 L347.80 398.92 L347.70 399.77 L347.72 400.61 L347.78 401.46 L347.91 402.30 L348.08 403.15 L348.28 403.99 L348.52 404.84 L348.78 405.68 L349.05 406.53 L349.31 407.38 L349.57 408.22 L349.81 409.07 L350.04 409.91 L350.24 410.76 L350.41 411.60 L350.56 412.45 L350.68 413.29 L350.78 414.14 L350.86 414.98 L350.92 415.83 L350.97 416.68 L351.01 417.52 L351.04 418.37 L351.06 419.21 L351.07 420.06 L351.08 420.90 L351.09 421.75 L351.09 422.59 L351.09 423.44 L351.10 424.28 L351.10 425.13 L351.10 425.97 L351.10 426.82 L351.10 427.67 L351.10 428.51 L351.10 429.36 L351.10 430.20 L351.10 431.05 L351.10 431.89 L351.10 432.74 L351.10 433.58 L351.10 434.43 L351.10 435.27 L351.10 436.12 L351.50 436.12 L351.50 435.27 L351.50 434.43 L351.50 433.58 L351.50 432.74 L351.50 431.89 L351.50 431.05 L351.50 430.20 L351.50 429.36 L351.50 428.51 L351.50 427.67 L351.50 426.82 L351.50 425.97 L351.50 425.13 L351.50 424.28 L351.51 423.44 L351.51 422.59 L351.51 421.75 L351.52 420.90 L351.53 420.06 L351.54 419.21 L351.56 418.37 L351.59 417.52 L351.63 416.68 L351.68 415.83 L351.74 414.98 L351.82 414.14 L351.92 413.29 L352.04 412.45 L352.19 411.60 L352.36 410.76 L352.56 409.91 L352.79 409.07 L353.03 408.22 L353.29 407.38 L353.55 406.53 L353.82 405.68 L354.08 404.84 L354.32 403.99 L354.52 403.15 L354.69 402.30 L354.82 401.46 L354.88 400.61 L354.90 399.77 L354.80 398.92 L354.60 398.08 L354.31 397.23 L353.96 396.39 L353.58 395.54 L353.20 394.69 L352.84 393.85 L352.52 393.00 L352.24 392.16 L352.03 391.31 L351.86 390.47 L351.74 389.62 L351.65 388.78 L351.59 387.93 L351.56 387.09 L351.53 386.24Z" fill="none" stroke="#4cad3a" stroke-width="0.6" opacity="0.8"/>
<line x1="351.3" y1="436.1" x2="351.3" y2="386.2" stroke="#4cad3a" stroke-width="0.8" opacity="0.5"/>
<line x1="351.3" y1="403.4" x2="351.3" y2="394.8" stroke="#4cad3a" stroke-width="2.0" opacity="0.8"/>
<circle cx="351.30" cy="400.00" r="0.50" fill="#fff" opacity="0.8"/>
<line x1="370.1" y1="464.0" x2="370.1" y2="466.5" stroke="#333" stroke-width="0.7"/>
<text x="370.1" y="475.5" font-size="7.95" textLength="4.77" lengthAdjust="spacingAndGlyphs" text-anchor="middle" fill="#222" stroke="#222" stroke-width="0.1">4</text>
<path d="M363.04 389.68 L363.01 390.44 L362.96 391.20 L362.89 391.95 L362.79 392.71 L362.66 393.47 L362.49 394.23 L362.28 394.99 L362.03 395.74 L361.73 396.50 L361.41 397.26 L361.07 398.02 L360.72 398.78 L360.40 399.53 L360.11 400.29 L359.89 401.05 L359.75 401.81 L359.70 402.57 L359.72 403.32 L359.79 404.08 L359.90 404.84 L360.05 405.60 L360.23 406.36 L360.43 407.11 L360.66 407.87 L360.89 408.63 L361.14 409.39 L361.37 410.15 L361.60 410.90 L361.82 411.66 L362.02 412.42 L362.20 413.18 L362.36 413.93 L362.50 414.69 L362.62 415.45 L362.72 416.21 L362.81 416.97 L362.87 417.72 L362.93 418.48 L362.97 419.24 L363.01 420.00 L363.03 420.76 L363.05 421.51 L363.07 422.27 L363.08 423.03 L363.08 423.79 L363.09 424.55 L363.09 425.30 L363.10 426.06 L363.10 426.82 L363.10 427.58 L363.10 428.34 L363.10 429.09 L363.10 429.85 L363.10 430.61 L363.10 431.37 L363.10 432.13 L363.10 432.88 L363.10 433.64 L363.10 434.40 L363.50 434.40 L363.50 433.64 L363.50 432.88 L363.50 432.13 L363.50 431.37 L363.50 430.61 L363.50 429.85 L363.50 429.09 L363.50 428.34 L363.50 427.58 L363.50 426.82 L363.50 426.06 L363.51 425.30 L363.51 424.55 L363.52 423.79 L363.52 423.03 L363.53 422.27 L363.55 421.51 L363.57 420.76 L363.59 420.00 L363.63 419.24 L363.67 418.48 L363.73 417.72 L363.79 416.97 L363.88 416.21 L363.98 415.45 L364.10 414.69 L364.24 413.93 L364.40 413.18 L364.58 412.42 L364.78 411.66 L365.00 410.90 L365.23 410.15 L365.46 409.39 L365.71 408.63 L365.94 407.87 L366.17 407.11 L366.37 406.36 L366.55 405.60 L366.70 404.84 L366.81 404.08 L366.88 403.32 L366.90 402.57 L366.85 401.81 L366.71 401.05 L366.49 400.29 L366.20 399.53 L365.88 398.78 L365.53 398.02 L365.19 397.26 L364.87 396.50 L364.57 395.74 L364.32 394.99 L364.11 394.23 L363.94 393.47 L363.81 392.71 L363.71 391.95 L363.64 391.20 L363.59 390.44 L363.56 389.68Z" fill="none" stroke="#3e82bc" stroke-width="0.6" opacity="0.8"/>
<line x1="363.3" y1="434.4" x2="363.3" y2="389.7" stroke="#3e82bc" stroke-width="0.8" opacity="0.5"/>
<line x1="363.3" y1="408.6" x2="363.3" y2="398.3" stroke="#3e82bc" stroke-width="2.0" opacity="0.8"/>
<circle cx="363.30" cy="404.30" r="0.50" fill="#fff" opacity="0.8"/>
<path d="M369.65 385.38 L369.57 385.99 L369.46 386.60 L369.32 387.22 L369.16 387.83 L368.97 388.44 L368.76 389.05 L368.52 389.67 L368.25 390.28 L367.98 390.89 L367.70 391.50 L367.42 392.11 L367.17 392.73 L366.94 393.34 L366.75 393.95 L366.61 394.56 L366.52 395.18 L366.50 395.79 L366.52 396.40 L366.57 397.01 L366.65 397.62 L366.75 398.24 L366.88 398.85 L367.02 399.46 L367.19 400.07 L367.37 400.69 L367.55 401.30 L367.75 401.91 L367.94 402.52 L368.13 403.13 L368.32 403.75 L368.50 404.36 L368.67 404.97 L368.83 405.58 L368.98 406.19 L369.11 406.81 L369.23 407.42 L369.34 408.03 L369.43 408.64 L369.51 409.26 L369.58 409.87 L369.64 410.48 L369.69 411.09 L369.74 411.70 L369.77 412.32 L369.80 412.93 L369.82 413.54 L369.84 414.15 L369.85 414.77 L369.87 415.38 L369.87 415.99 L369.88 416.60 L369.89 417.21 L369.89 417.83 L369.89 418.44 L369.89 419.05 L369.90 419.66 L369.90 420.28 L369.90 420.89 L369.90 421.50 L370.30 421.50 L370.30 420.89 L370.30 420.28 L370.30 419.66 L370.31 419.05 L370.31 418.44 L370.31 417.83 L370.31 417.21 L370.32 416.60 L370.33 415.99 L370.33 415.38 L370.35 414.77 L370.36 414.15 L370.38 413.54 L370.40 412.93 L370.43 412.32 L370.46 411.70 L370.51 411.09 L370.56 410.48 L370.62 409.87 L370.69 409.26 L370.77 408.64 L370.86 408.03 L370.97 407.42 L371.09 406.81 L371.22 406.19 L371.37 405.58 L371.53 404.97 L371.70 404.36 L371.88 403.75 L372.07 403.13 L372.26 402.52 L372.45 401.91 L372.65 401.30 L372.83 400.69 L373.01 400.07 L373.18 399.46 L373.32 398.85 L373.45 398.24 L373.55 397.62 L373.63 397.01 L373.68 396.40 L373.70 395.79 L373.68 395.18 L373.59 394.56 L373.45 393.95 L373.26 393.34 L373.03 392.73 L372.78 392.11 L372.50 391.50 L372.22 390.89 L371.95 390.28 L371.68 389.67 L371.44 389.05 L371.23 388.44 L371.04 387.83 L370.88 387.22 L370.74 386.60 L370.63 385.99 L370.55 385.38Z" fill="none" stroke="#f2832a" stroke-width="0.6" opacity="0.8"/>
<line x1="370.1" y1="421.5" x2="370.1" y2="385.4" stroke="#f2832a" stroke-width="0.8" opacity="0.5"/>
<line x1="370.1" y1="401.7" x2="370.1" y2="391.4" stroke="#f2832a" stroke-width="2.0" opacity="0.8"/>
<circle cx="370.10" cy="396.56" r="0.50" fill="#fff" opacity="0.8"/>
<path d="M376.33 390.54 L376.19 391.24 L376.02 391.94 L375.81 392.64 L375.56 393.34 L375.29 394.04 L374.98 394.74 L374.67 395.44 L374.35 396.14 L374.04 396.84 L373.77 397.54 L373.55 398.24 L373.39 398.94 L373.31 399.64 L373.30 400.34 L373.34 401.03 L373.42 401.73 L373.53 402.43 L373.67 403.13 L373.84 403.83 L374.03 404.53 L374.24 405.23 L374.46 405.93 L374.68 406.63 L374.90 407.33 L375.12 408.03 L375.32 408.73 L375.51 409.43 L375.69 410.13 L375.85 410.83 L375.99 411.53 L376.12 412.23 L376.23 412.93 L376.32 413.63 L376.40 414.33 L376.47 415.03 L376.52 415.73 L376.56 416.43 L376.59 417.13 L376.62 417.83 L376.64 418.53 L376.66 419.23 L376.67 419.93 L376.68 420.63 L376.68 421.33 L376.69 422.02 L376.69 422.72 L376.69 423.42 L376.70 424.12 L376.70 424.82 L376.70 425.52 L376.70 426.22 L376.70 426.92 L376.70 427.62 L376.70 428.32 L376.70 429.02 L376.70 429.72 L376.70 430.42 L376.70 431.12 L376.70 431.82 L377.10 431.82 L377.10 431.12 L377.10 430.42 L377.10 429.72 L377.10 429.02 L377.10 428.32 L377.10 427.62 L377.10 426.92 L377.10 426.22 L377.10 425.52 L377.10 424.82 L377.10 424.12 L377.11 423.42 L377.11 422.72 L377.11 422.02 L377.12 421.33 L377.12 420.63 L377.13 419.93 L377.14 419.23 L377.16 418.53 L377.18 417.83 L377.21 417.13 L377.24 416.43 L377.28 415.73 L377.33 415.03 L377.40 414.33 L377.48 413.63 L377.57 412.93 L377.68 412.23 L377.81 411.53 L377.95 410.83 L378.11 410.13 L378.29 409.43 L378.48 408.73 L378.68 408.03 L378.90 407.33 L379.12 406.63 L379.34 405.93 L379.56 405.23 L379.77 404.53 L379.96 403.83 L380.13 403.13 L380.27 402.43 L380.38 401.73 L380.46 401.03 L380.50 400.34 L380.49 399.64 L380.41 398.94 L380.25 398.24 L380.03 397.54 L379.76 396.84 L379.45 396.14 L379.13 395.44 L378.82 394.74 L378.51 394.04 L378.24 393.34 L377.99 392.64 L377.78 391.94 L377.61 391.24 L377.47 390.54Z" fill="none" stroke="#4cad3a" stroke-width="0.6" opacity="0.8"/>
<line x1="376.9" y1="431.8" x2="376.9" y2="390.5" stroke="#4cad3a" stroke-width="0.8" opacity="0.5"/>
<line x1="376.9" y1="404.3" x2="376.9" y2="396.6" stroke="#4cad3a" stroke-width="2.0" opacity="0.8"/>
<circle cx="376.90" cy="400.00" r="0.50" fill="#fff" opacity="0.8"/>
<line x1="395.7" y1="464.0" x2="395.7" y2="466.5" stroke="#333" stroke-width="0.7"/>
<text x="395.7" y="475.5" font-size="7.95" textLength="4.77" lengthAdjust="spacingAndGlyphs" text-anchor="middle" fill="#222" stroke="#222" stroke-width="0.1">5</text>
<path d="M388.67 389.68 L388.64 390.57 L388.60 391.46 L388.54 392.35 L388.44 393.24 L388.30 394.13 L388.11 395.01 L387.86 395.90 L387.56 396.79 L387.20 397.68 L386.81 398.57 L386.40 399.46 L386.01 400.35 L385.68 401.24 L385.44 402.13 L385.31 403.02 L385.31 403.91 L385.37 404.80 L385.50 405.68 L385.67 406.57 L385.89 407.46 L386.14 408.35 L386.42 409.24 L386.70 410.13 L386.98 411.02 L387.24 411.91 L387.49 412.80 L387.72 413.69 L387.92 414.58 L388.09 415.47 L388.23 416.35 L388.34 417.24 L388.44 418.13 L388.51 419.02 L388.56 419.91 L388.60 420.80 L388.63 421.69 L388.66 422.58 L388.67 423.47 L388.68 424.36 L388.69 425.25 L388.69 426.14 L388.70 427.02 L388.70 427.91 L388.70 428.80 L388.70 429.69 L388.70 430.58 L388.70 431.47 L388.70 432.36 L388.70 433.25 L388.70 434.14 L388.70 435.03 L388.70 435.92 L388.70 436.81 L388.70 437.69 L388.70 438.58 L388.70 439.47 L388.70 440.36 L388.70 441.25 L388.70 442.14 L389.10 442.14 L389.10 441.25 L389.10 440.36 L389.10 439.47 L389.10 438.58 L389.10 437.69 L389.10 436.81 L389.10 435.92 L389.10 435.03 L389.10 434.14 L389.10 433.25 L389.10 432.36 L389.10 431.47 L389.10 430.58 L389.10 429.69 L389.10 428.80 L389.10 427.91 L389.10 427.02 L389.11 426.14 L389.11 425.25 L389.12 424.36 L389.13 423.47 L389.14 422.58 L389.17 421.69 L389.20 420.80 L389.24 419.91 L389.29 419.02 L389.36 418.13 L389.46 417.24 L389.57 416.35 L389.71 415.47 L389.88 414.58 L390.08 413.69 L390.31 412.80 L390.56 411.91 L390.82 411.02 L391.10 410.13 L391.38 409.24 L391.66 408.35 L391.91 407.46 L392.13 406.57 L392.30 405.68 L392.43 404.80 L392.49 403.91 L392.49 403.02 L392.36 402.13 L392.12 401.24 L391.79 400.35 L391.40 399.46 L390.99 398.57 L390.60 397.68 L390.24 396.79 L389.94 395.90 L389.69 395.01 L389.50 394.13 L389.36 393.24 L389.26 392.35 L389.20 391.46 L389.16 390.57 L389.13 389.68Z" fill="none" stroke="#3e82bc" stroke-width="0.6" opacity="0.8"/>
<line x1="388.9" y1="442.1" x2="388.9" y2="389.7" stroke="#3e82bc" stroke-width="0.8" opacity="0.5"/>
<line x1="388.9" y1="410.3" x2="388.9" y2="400.0" stroke="#3e82bc" stroke-width="2.0" opacity="0.8"/>
<circle cx="388.90" cy="405.16" r="0.50" fill="#fff" opacity="0.8"/>
<path d="M394.95 385.38 L394.69 386.34 L394.37 387.30 L393.98 388.27 L393.55 389.23 L393.12 390.19 L392.71 391.15 L392.38 392.11 L392.17 393.08 L392.10 394.04 L392.14 395.00 L392.25 395.96 L392.43 396.92 L392.66 397.89 L392.93 398.85 L393.23 399.81 L393.53 400.77 L393.83 401.73 L394.12 402.70 L394.38 403.66 L394.61 404.62 L394.81 405.58 L394.98 406.54 L395.11 407.51 L395.22 408.47 L395.30 409.43 L395.36 410.39 L395.40 411.35 L395.44 412.32 L395.46 413.28 L395.47 414.24 L395.48 415.20 L395.49 416.17 L395.49 417.13 L395.50 418.09 L395.50 419.05 L395.50 420.01 L395.50 420.98 L395.50 421.94 L395.50 422.90 L395.50 423.86 L395.50 424.82 L395.50 425.79 L395.50 426.75 L395.50 427.71 L395.50 428.67 L395.50 429.63 L395.50 430.60 L395.50 431.56 L395.50 432.52 L395.50 433.48 L395.50 434.44 L395.50 435.41 L395.50 436.37 L395.50 437.33 L395.50 438.29 L395.50 439.25 L395.50 440.22 L395.50 441.18 L395.50 442.14 L395.90 442.14 L395.90 441.18 L395.90 440.22 L395.90 439.25 L395.90 438.29 L395.90 437.33 L395.90 436.37 L395.90 435.41 L395.90 434.44 L395.90 433.48 L395.90 432.52 L395.90 431.56 L395.90 430.60 L395.90 429.63 L395.90 428.67 L395.90 427.71 L395.90 426.75 L395.90 425.79 L395.90 424.82 L395.90 423.86 L395.90 422.90 L395.90 421.94 L395.90 420.98 L395.90 420.01 L395.90 419.05 L395.90 418.09 L395.91 417.13 L395.91 416.17 L395.92 415.20 L395.93 414.24 L395.94 413.28 L395.96 412.32 L396.00 411.35 L396.04 410.39 L396.10 409.43 L396.18 408.47 L396.29 407.51 L396.42 406.54 L396.59 405.58 L396.79 404.62 L397.02 403.66 L397.28 402.70 L397.57 401.73 L397.87 400.77 L398.17 399.81 L398.47 398.85 L398.74 397.89 L398.97 396.92 L399.15 395.96 L399.26 395.00 L399.30 394.04 L399.23 393.08 L399.02 392.11 L398.69 391.15 L398.28 390.19 L397.85 389.23 L397.42 388.27 L397.03 387.30 L396.71 386.34 L396.45 385.38Z" fill="none" stroke="#f2832a" stroke-width="0.6" opacity="0.8"/>
<line x1="395.7" y1="442.1" x2="395.7" y2="385.4" stroke="#f2832a" stroke-width="0.8" opacity="0.5"/>
<line x1="395.7" y1="400.0" x2="395.7" y2="391.4" stroke="#f2832a" stroke-width="2.0" opacity="0.8"/>
<circle cx="395.70" cy="394.84" r="0.50" fill="#fff" opacity="0.8"/>
<path d="M402.21 383.66 L402.10 384.96 L401.92 386.25 L401.64 387.55 L401.23 388.85 L400.71 390.15 L400.13 391.44 L399.56 392.74 L399.12 394.04 L398.91 395.34 L398.93 396.63 L399.09 397.93 L399.37 399.23 L399.72 400.52 L400.12 401.82 L400.53 403.12 L400.92 404.42 L401.26 405.71 L401.55 407.01 L401.78 408.31 L401.96 409.61 L402.08 410.90 L402.16 412.20 L402.22 413.50 L402.25 414.79 L402.28 416.09 L402.29 417.39 L402.29 418.69 L402.30 419.98 L402.30 421.28 L402.30 422.58 L402.30 423.88 L402.30 425.17 L402.30 426.47 L402.30 427.77 L402.30 429.07 L402.30 430.36 L402.30 431.66 L402.30 432.96 L402.30 434.25 L402.30 435.55 L402.30 436.85 L402.30 438.15 L402.30 439.44 L402.30 440.74 L402.30 442.04 L402.30 443.34 L402.30 444.63 L402.30 445.93 L402.30 447.23 L402.30 448.52 L402.30 449.82 L402.30 451.12 L402.30 452.42 L402.30 453.71 L402.30 455.01 L402.30 456.31 L402.30 457.61 L402.30 458.90 L402.30 460.20 L402.70 460.20 L402.70 458.90 L402.70 457.61 L402.70 456.31 L402.70 455.01 L402.70 453.71 L402.70 452.42 L402.70 451.12 L402.70 449.82 L402.70 448.52 L402.70 447.23 L402.70 445.93 L402.70 444.63 L402.70 443.34 L402.70 442.04 L402.70 440.74 L402.70 439.44 L402.70 438.15 L402.70 436.85 L402.70 435.55 L402.70 434.25 L402.70 432.96 L402.70 431.66 L402.70 430.36 L402.70 429.07 L402.70 427.77 L402.70 426.47 L402.70 425.17 L402.70 423.88 L402.70 422.58 L402.70 421.28 L402.70 419.98 L402.71 418.69 L402.71 417.39 L402.72 416.09 L402.75 414.79 L402.78 413.50 L402.84 412.20 L402.92 410.90 L403.04 409.61 L403.22 408.31 L403.45 407.01 L403.74 405.71 L404.08 404.42 L404.47 403.12 L404.88 401.82 L405.28 400.52 L405.63 399.23 L405.91 397.93 L406.07 396.63 L406.09 395.34 L405.88 394.04 L405.44 392.74 L404.87 391.44 L404.29 390.15 L403.77 388.85 L403.36 387.55 L403.08 386.25 L402.90 384.96 L402.79 383.66Z" fill="none" stroke="#4cad3a" stroke-width="0.6" opacity="0.8"/>
<line x1="402.5" y1="460.2" x2="402.5" y2="383.7" stroke="#4cad3a" stroke-width="0.8" opacity="0.5"/>
<line x1="402.5" y1="404.3" x2="402.5" y2="393.1" stroke="#4cad3a" stroke-width="2.0" opacity="0.8"/>
<circle cx="402.50" cy="398.28" r="0.50" fill="#fff" opacity="0.8"/>
<rect x="414.40" y="428.40" width="14.20" height="5.00" fill="none" stroke="#3e82bc" stroke-width="0.8" stroke-opacity="0.55"/>
<text x="429.4" y="433.3" font-size="6.68" textLength="13.01" lengthAdjust="spacingAndGlyphs" fill="#222" stroke="#222" stroke-width="0.1">ADT</text>
<rect x="414.40" y="437.85" width="14.20" height="5.00" fill="none" stroke="#f2832a" stroke-width="0.8" stroke-opacity="0.55"/>
<text x="429.4" y="442.7" font-size="6.68" textLength="13.40" lengthAdjust="spacingAndGlyphs" fill="#222" stroke="#222" stroke-width="0.1">RNA</text>
<rect x="414.40" y="447.30" width="14.20" height="5.00" fill="none" stroke="#4cad3a" stroke-width="0.8" stroke-opacity="0.55"/>
<text x="429.4" y="452.2" font-size="6.68" textLength="16.87" lengthAdjust="spacingAndGlyphs" fill="#222" stroke="#222" stroke-width="0.1">ATAC</text>
<text x="445.5" y="377.8" font-size="16.00" font-weight="bold" fill="#000">g</text>
<line x1="506.2" y1="381.4" x2="506.2" y2="464.5" stroke="#333" stroke-width="0.9"/>
<line x1="506.2" y1="464.4" x2="632.1" y2="464.4" stroke="#333" stroke-width="0.9"/>
<line x1="503.8" y1="464.6" x2="506.2" y2="464.6" stroke="#333" stroke-width="0.8"/>
<text x="500.9" y="467.4" font-size="8.16" textLength="12.25" lengthAdjust="spacingAndGlyphs" text-anchor="end" fill="#222" stroke="#222" stroke-width="0.1">0.0</text>
<line x1="503.8" y1="447.8" x2="506.2" y2="447.8" stroke="#333" stroke-width="0.8"/>
<text x="500.9" y="450.6" font-size="8.16" textLength="12.25" lengthAdjust="spacingAndGlyphs" text-anchor="end" fill="#222" stroke="#222" stroke-width="0.1">0.2</text>
<line x1="503.8" y1="431.0" x2="506.2" y2="431.0" stroke="#333" stroke-width="0.8"/>
<text x="500.9" y="433.8" font-size="8.16" textLength="12.25" lengthAdjust="spacingAndGlyphs" text-anchor="end" fill="#222" stroke="#222" stroke-width="0.1">0.4</text>
<line x1="503.8" y1="414.2" x2="506.2" y2="414.2" stroke="#333" stroke-width="0.8"/>
<text x="500.9" y="417.0" font-size="8.16" textLength="12.25" lengthAdjust="spacingAndGlyphs" text-anchor="end" fill="#222" stroke="#222" stroke-width="0.1">0.6</text>
<line x1="503.8" y1="397.4" x2="506.2" y2="397.4" stroke="#333" stroke-width="0.8"/>
<text x="500.9" y="400.2" font-size="8.16" textLength="12.25" lengthAdjust="spacingAndGlyphs" text-anchor="end" fill="#222" stroke="#222" stroke-width="0.1">0.8</text>
<text x="484.0" y="421.9" font-size="7.69" textLength="55.69" lengthAdjust="spacingAndGlyphs" text-anchor="middle" fill="#222" stroke="#222" stroke-width="0.1" transform="rotate(-90 484.0 421.9)">Moran's I Score</text>
<rect x="508.90" y="452.34" width="6.10" height="12.26" fill="#7a7a7a" stroke="#555" stroke-width="0.3"/>
<line x1="511.9" y1="464.4" x2="511.9" y2="466.9" stroke="#333" stroke-width="0.7"/>
<text x="515.4" y="474.5" font-size="8.21" textLength="49.03" lengthAdjust="spacingAndGlyphs" text-anchor="end" fill="#222" stroke="#222" stroke-width="0.1" transform="rotate(-45 515.4 474.5)">SpaMultiVAE</text>
<rect x="520.35" y="452.00" width="6.10" height="12.60" fill="#5bbdb9" stroke="#555" stroke-width="0.3"/>
<line x1="523.4" y1="464.4" x2="523.4" y2="466.9" stroke="#333" stroke-width="0.7"/>
<text x="526.8" y="474.5" font-size="8.21" textLength="19.99" lengthAdjust="spacingAndGlyphs" text-anchor="end" fill="#222" stroke="#222" stroke-width="0.1" transform="rotate(-45 526.8 474.5)">MISO</text>
<rect x="531.80" y="448.22" width="6.10" height="16.38" fill="#e8705f" stroke="#555" stroke-width="0.3"/>
<line x1="534.8" y1="464.4" x2="534.8" y2="466.9" stroke="#333" stroke-width="0.7"/>
<text x="538.2" y="474.5" font-size="8.21" textLength="15.17" lengthAdjust="spacingAndGlyphs" text-anchor="end" fill="#222" stroke="#222" stroke-width="0.1" transform="rotate(-45 538.2 474.5)">SNF</text>
<rect x="543.25" y="422.94" width="6.10" height="41.66" fill="#4f80ae" stroke="#555" stroke-width="0.3"/>
<line x1="546.3" y1="464.4" x2="546.3" y2="466.9" stroke="#333" stroke-width="0.7"/>
<text x="549.7" y="474.5" font-size="8.21" textLength="19.26" lengthAdjust="spacingAndGlyphs" text-anchor="end" fill="#222" stroke="#222" stroke-width="0.1" transform="rotate(-45 549.7 474.5)">WNN</text>
<rect x="554.70" y="405.80" width="6.10" height="58.80" fill="#c43a45" stroke="#555" stroke-width="0.3"/>
<line x1="557.7" y1="464.4" x2="557.7" y2="466.9" stroke="#333" stroke-width="0.7"/>
<text x="561.1" y="474.5" font-size="8.21" textLength="35.30" lengthAdjust="spacingAndGlyphs" text-anchor="end" fill="#222" stroke="#222" stroke-width="0.1" transform="rotate(-45 561.1 474.5)">PRESENT</text>
<rect x="566.15" y="404.12" width="6.10" height="60.48" fill="#3b6fa0" stroke="#555" stroke-width="0.3"/>
<line x1="569.2" y1="464.4" x2="569.2" y2="466.9" stroke="#333" stroke-width="0.7"/>
<text x="572.6" y="474.5" font-size="8.21" textLength="29.04" lengthAdjust="spacingAndGlyphs" text-anchor="end" fill="#222" stroke="#222" stroke-width="0.1" transform="rotate(-45 572.6 474.5)">MOFA+</text>
<rect x="577.60" y="391.52" width="6.10" height="73.08" fill="#875852" stroke="#555" stroke-width="0.3"/>
<line x1="580.6" y1="464.4" x2="580.6" y2="466.9" stroke="#333" stroke-width="0.7"/>
<text x="584.0" y="474.5" font-size="8.21" textLength="44.52" lengthAdjust="spacingAndGlyphs" text-anchor="end" fill="#222" stroke="#222" stroke-width="0.1" transform="rotate(-45 584.0 474.5)">SpatialGlue</text>
<rect x="589.05" y="390.68" width="6.10" height="73.92" fill="#e77dc5" stroke="#555" stroke-width="0.3"/>
<line x1="592.1" y1="464.4" x2="592.1" y2="466.9" stroke="#333" stroke-width="0.7"/>
<text x="595.5" y="474.5" font-size="8.21" textLength="27.03" lengthAdjust="spacingAndGlyphs" text-anchor="end" fill="#222" stroke="#222" stroke-width="0.1" transform="rotate(-45 595.5 474.5)">SMART</text>
<rect x="600.50" y="390.68" width="6.10" height="73.92" fill="#a9b43c" stroke="#555" stroke-width="0.3"/>
<line x1="603.5" y1="464.4" x2="603.5" y2="466.9" stroke="#333" stroke-width="0.7"/>
<text x="606.9" y="474.5" font-size="8.21" textLength="43.74" lengthAdjust="spacingAndGlyphs" text-anchor="end" fill="#222" stroke="#222" stroke-width="0.1" transform="rotate(-45 606.9 474.5)">CellCharter</text>
<rect x="611.95" y="388.16" width="6.10" height="76.44" fill="#e5822f" stroke="#555" stroke-width="0.3"/>
<line x1="615.0" y1="464.4" x2="615.0" y2="466.9" stroke="#333" stroke-width="0.7"/>
<text x="618.4" y="474.5" font-size="8.21" textLength="34.08" lengthAdjust="spacingAndGlyphs" text-anchor="end" fill="#222" stroke="#222" stroke-width="0.1" transform="rotate(-45 618.4 474.5)">MEFISTO</text>
<rect x="623.40" y="385.64" width="6.10" height="78.96" fill="#f4c3d3" stroke="#555" stroke-width="0.3"/>
<line x1="626.4" y1="464.4" x2="626.4" y2="466.9" stroke="#333" stroke-width="0.7"/>
<text x="629.8" y="474.5" font-size="8.21" textLength="34.14" lengthAdjust="spacingAndGlyphs" text-anchor="end" fill="#222" stroke="#222" stroke-width="0.1" transform="rotate(-45 629.8 474.5)">COSMOS</text>
<text x="5.0" y="527.8" font-size="16.00" font-weight="bold" fill="#000">h</text>
<line x1="29.7" y1="530.3" x2="29.7" y2="616.5" stroke="#aaa" stroke-width="1.2"/>
<line x1="29.7" y1="616.5" x2="289.5" y2="616.5" stroke="#333" stroke-width="0.9"/>
<line x1="27.3" y1="616.5" x2="29.7" y2="616.5" stroke="#333" stroke-width="0.8"/>
<text x="24.4" y="619.2" font-size="8.06" textLength="12.09" lengthAdjust="spacingAndGlyphs" text-anchor="end" fill="#222" stroke="#222" stroke-width="0.1">0.0</text>
<line x1="27.3" y1="589.8" x2="29.7" y2="589.8" stroke="#333" stroke-width="0.8"/>
<text x="24.4" y="592.5" font-size="8.06" textLength="12.09" lengthAdjust="spacingAndGlyphs" text-anchor="end" fill="#222" stroke="#222" stroke-width="0.1">0.5</text>
<line x1="27.3" y1="563.1" x2="29.7" y2="563.1" stroke="#333" stroke-width="0.8"/>
<text x="24.4" y="565.8" font-size="8.06" textLength="12.09" lengthAdjust="spacingAndGlyphs" text-anchor="end" fill="#222" stroke="#222" stroke-width="0.1">1.0</text>
<line x1="27.3" y1="536.4" x2="29.7" y2="536.4" stroke="#333" stroke-width="0.8"/>
<text x="24.4" y="539.1" font-size="8.06" textLength="12.09" lengthAdjust="spacingAndGlyphs" text-anchor="end" fill="#222" stroke="#222" stroke-width="0.1">1.5</text>
<text x="8.0" y="573.4" font-size="7.95" textLength="20.32" lengthAdjust="spacingAndGlyphs" text-anchor="middle" fill="#222" stroke="#222" stroke-width="0.1" transform="rotate(-90 8.0 573.4)">score</text>
<rect x="33.60" y="611.32" width="2.72" height="5.18" fill="#e8705f" stroke="#333" stroke-width="0.35"/>
<rect x="36.32" y="607.42" width="2.72" height="9.08" fill="#5bbdb9" stroke="#333" stroke-width="0.35"/>
<rect x="39.04" y="606.35" width="2.72" height="10.15" fill="#7a7a7a" stroke="#333" stroke-width="0.35"/>
<rect x="41.76" y="591.40" width="2.72" height="25.10" fill="#3b6fa0" stroke="#333" stroke-width="0.35"/>
<rect x="44.48" y="584.46" width="2.72" height="32.04" fill="#f4c3d3" stroke="#333" stroke-width="0.35"/>
<rect x="47.20" y="587.13" width="2.72" height="29.37" fill="#c43a45" stroke="#333" stroke-width="0.35"/>
<rect x="49.92" y="580.19" width="2.72" height="36.31" fill="#4f80ae" stroke="#333" stroke-width="0.35"/>
<rect x="52.64" y="568.44" width="2.72" height="48.06" fill="#e5822f" stroke="#333" stroke-width="0.35"/>
<rect x="55.36" y="567.37" width="2.72" height="49.13" fill="#875852" stroke="#333" stroke-width="0.35"/>
<rect x="58.08" y="564.43" width="2.72" height="52.07" fill="#a9b43c" stroke="#333" stroke-width="0.35"/>
<rect x="60.80" y="563.10" width="2.72" height="53.40" fill="#e77dc5" stroke="#333" stroke-width="0.35"/>
<line x1="48.6" y1="616.5" x2="48.6" y2="619.0" stroke="#333" stroke-width="0.7"/>
<text x="48.6" y="627.7" font-size="8.27" textLength="13.06" lengthAdjust="spacingAndGlyphs" text-anchor="middle" fill="#222" stroke="#222" stroke-width="0.1">ARI</text>
<rect x="70.70" y="596.42" width="2.72" height="20.08" fill="#e8705f" stroke="#333" stroke-width="0.35"/>
<rect x="73.42" y="591.40" width="2.72" height="25.10" fill="#5bbdb9" stroke="#333" stroke-width="0.35"/>
<rect x="76.14" y="591.13" width="2.72" height="25.37" fill="#7a7a7a" stroke="#333" stroke-width="0.35"/>
<rect x="78.86" y="584.46" width="2.72" height="32.04" fill="#3b6fa0" stroke="#333" stroke-width="0.35"/>
<rect x="81.58" y="578.59" width="2.72" height="37.91" fill="#f4c3d3" stroke="#333" stroke-width="0.35"/>
<rect x="84.30" y="576.45" width="2.72" height="40.05" fill="#c43a45" stroke="#333" stroke-width="0.35"/>
<rect x="87.02" y="576.45" width="2.72" height="40.05" fill="#4f80ae" stroke="#333" stroke-width="0.35"/>
<rect x="89.74" y="568.44" width="2.72" height="48.06" fill="#e5822f" stroke="#333" stroke-width="0.35"/>
<rect x="92.46" y="567.37" width="2.72" height="49.13" fill="#875852" stroke="#333" stroke-width="0.35"/>
<rect x="95.18" y="564.43" width="2.72" height="52.07" fill="#a9b43c" stroke="#333" stroke-width="0.35"/>
<rect x="97.90" y="563.10" width="2.72" height="53.40" fill="#e77dc5" stroke="#333" stroke-width="0.35"/>
<line x1="85.7" y1="616.5" x2="85.7" y2="619.0" stroke="#333" stroke-width="0.7"/>
<text x="85.7" y="627.7" font-size="8.27" textLength="14.86" lengthAdjust="spacingAndGlyphs" text-anchor="middle" fill="#222" stroke="#222" stroke-width="0.1">NMI</text>
<rect x="107.80" y="596.74" width="2.72" height="19.76" fill="#e8705f" stroke="#333" stroke-width="0.35"/>
<rect x="110.52" y="591.67" width="2.72" height="24.83" fill="#5bbdb9" stroke="#333" stroke-width="0.35"/>
<rect x="113.24" y="591.40" width="2.72" height="25.10" fill="#7a7a7a" stroke="#333" stroke-width="0.35"/>
<rect x="115.96" y="584.46" width="2.72" height="32.04" fill="#3b6fa0" stroke="#333" stroke-width="0.35"/>
<rect x="118.68" y="578.59" width="2.72" height="37.91" fill="#f4c3d3" stroke="#333" stroke-width="0.35"/>
<rect x="121.40" y="576.45" width="2.72" height="40.05" fill="#c43a45" stroke="#333" stroke-width="0.35"/>
<rect x="124.12" y="576.45" width="2.72" height="40.05" fill="#4f80ae" stroke="#333" stroke-width="0.35"/>
<rect x="126.84" y="568.44" width="2.72" height="48.06" fill="#e5822f" stroke="#333" stroke-width="0.35"/>
<rect x="129.56" y="567.37" width="2.72" height="49.13" fill="#875852" stroke="#333" stroke-width="0.35"/>
<rect x="132.28" y="564.43" width="2.72" height="52.07" fill="#a9b43c" stroke="#333" stroke-width="0.35"/>
<rect x="135.00" y="563.10" width="2.72" height="53.40" fill="#e77dc5" stroke="#333" stroke-width="0.35"/>
<line x1="122.8" y1="616.5" x2="122.8" y2="619.0" stroke="#333" stroke-width="0.7"/>
<text x="122.8" y="627.7" font-size="8.27" textLength="14.37" lengthAdjust="spacingAndGlyphs" text-anchor="middle" fill="#222" stroke="#222" stroke-width="0.1">AMI</text>
<rect x="144.90" y="600.48" width="2.72" height="16.02" fill="#e8705f" stroke="#333" stroke-width="0.35"/>
<rect x="147.62" y="594.61" width="2.72" height="21.89" fill="#5bbdb9" stroke="#333" stroke-width="0.35"/>
<rect x="150.34" y="593.54" width="2.72" height="22.96" fill="#7a7a7a" stroke="#333" stroke-width="0.35"/>
<rect x="153.06" y="584.46" width="2.72" height="32.04" fill="#3b6fa0" stroke="#333" stroke-width="0.35"/>
<rect x="155.78" y="577.52" width="2.72" height="38.98" fill="#f4c3d3" stroke="#333" stroke-width="0.35"/>
<rect x="158.50" y="577.52" width="2.72" height="38.98" fill="#c43a45" stroke="#333" stroke-width="0.35"/>
<rect x="161.22" y="578.05" width="2.72" height="38.45" fill="#4f80ae" stroke="#333" stroke-width="0.35"/>
<rect x="163.94" y="568.44" width="2.72" height="48.06" fill="#e5822f" stroke="#333" stroke-width="0.35"/>
<rect x="166.66" y="567.37" width="2.72" height="49.13" fill="#875852" stroke="#333" stroke-width="0.35"/>
<rect x="169.38" y="564.70" width="2.72" height="51.80" fill="#a9b43c" stroke="#333" stroke-width="0.35"/>
<rect x="172.10" y="563.10" width="2.72" height="53.40" fill="#e77dc5" stroke="#333" stroke-width="0.35"/>
<line x1="159.9" y1="616.5" x2="159.9" y2="619.0" stroke="#333" stroke-width="0.7"/>
<text x="159.9" y="627.7" font-size="8.27" textLength="23.01" lengthAdjust="spacingAndGlyphs" text-anchor="middle" fill="#222" stroke="#222" stroke-width="0.1">Homo</text>
<rect x="182.00" y="596.21" width="2.72" height="20.29" fill="#e8705f" stroke="#333" stroke-width="0.35"/>
<rect x="184.72" y="591.40" width="2.72" height="25.10" fill="#5bbdb9" stroke="#333" stroke-width="0.35"/>
<rect x="187.44" y="591.13" width="2.72" height="25.37" fill="#7a7a7a" stroke="#333" stroke-width="0.35"/>
<rect x="190.16" y="583.93" width="2.72" height="32.57" fill="#3b6fa0" stroke="#333" stroke-width="0.35"/>
<rect x="192.88" y="578.05" width="2.72" height="38.45" fill="#f4c3d3" stroke="#333" stroke-width="0.35"/>
<rect x="195.60" y="576.45" width="2.72" height="40.05" fill="#c43a45" stroke="#333" stroke-width="0.35"/>
<rect x="198.32" y="576.45" width="2.72" height="40.05" fill="#4f80ae" stroke="#333" stroke-width="0.35"/>
<rect x="201.04" y="568.44" width="2.72" height="48.06" fill="#e5822f" stroke="#333" stroke-width="0.35"/>
<rect x="203.76" y="567.37" width="2.72" height="49.13" fill="#875852" stroke="#333" stroke-width="0.35"/>
<rect x="206.48" y="564.17" width="2.72" height="52.33" fill="#a9b43c" stroke="#333" stroke-width="0.35"/>
<rect x="209.20" y="563.10" width="2.72" height="53.40" fill="#e77dc5" stroke="#333" stroke-width="0.35"/>
<line x1="197.0" y1="616.5" x2="197.0" y2="619.0" stroke="#333" stroke-width="0.7"/>
<text x="197.0" y="627.7" font-size="8.27" textLength="41.47" lengthAdjust="spacingAndGlyphs" text-anchor="middle" fill="#222" stroke="#222" stroke-width="0.1">V-Measure</text>
<rect x="219.10" y="594.23" width="2.72" height="22.27" fill="#e8705f" stroke="#333" stroke-width="0.35"/>
<rect x="221.82" y="594.23" width="2.72" height="22.27" fill="#5bbdb9" stroke="#333" stroke-width="0.35"/>
<rect x="224.54" y="593.00" width="2.72" height="23.50" fill="#7a7a7a" stroke="#333" stroke-width="0.35"/>
<rect x="227.26" y="584.99" width="2.72" height="31.51" fill="#3b6fa0" stroke="#333" stroke-width="0.35"/>
<rect x="229.98" y="579.65" width="2.72" height="36.85" fill="#f4c3d3" stroke="#333" stroke-width="0.35"/>
<rect x="232.70" y="581.26" width="2.72" height="35.24" fill="#c43a45" stroke="#333" stroke-width="0.35"/>
<rect x="235.42" y="575.38" width="2.72" height="41.12" fill="#4f80ae" stroke="#333" stroke-width="0.35"/>
<rect x="238.14" y="567.37" width="2.72" height="49.13" fill="#e5822f" stroke="#333" stroke-width="0.35"/>
<rect x="240.86" y="566.30" width="2.72" height="50.20" fill="#875852" stroke="#333" stroke-width="0.35"/>
<rect x="243.58" y="564.17" width="2.72" height="52.33" fill="#a9b43c" stroke="#333" stroke-width="0.35"/>
<rect x="246.30" y="563.10" width="2.72" height="53.40" fill="#e77dc5" stroke="#333" stroke-width="0.35"/>
<line x1="234.1" y1="616.5" x2="234.1" y2="619.0" stroke="#333" stroke-width="0.7"/>
<text x="234.1" y="627.7" font-size="8.27" textLength="13.52" lengthAdjust="spacingAndGlyphs" text-anchor="middle" fill="#222" stroke="#222" stroke-width="0.1">FMI</text>
<rect x="256.20" y="591.40" width="2.72" height="25.10" fill="#e8705f" stroke="#333" stroke-width="0.35"/>
<rect x="258.92" y="581.26" width="2.72" height="35.24" fill="#5bbdb9" stroke="#333" stroke-width="0.35"/>
<rect x="261.64" y="580.46" width="2.72" height="36.04" fill="#7a7a7a" stroke="#333" stroke-width="0.35"/>
<rect x="264.36" y="566.30" width="2.72" height="50.20" fill="#3b6fa0" stroke="#333" stroke-width="0.35"/>
<rect x="267.08" y="556.16" width="2.72" height="60.34" fill="#f4c3d3" stroke="#333" stroke-width="0.35"/>
<rect x="269.80" y="555.09" width="2.72" height="61.41" fill="#c43a45" stroke="#333" stroke-width="0.35"/>
<rect x="272.52" y="557.23" width="2.72" height="59.27" fill="#4f80ae" stroke="#333" stroke-width="0.35"/>
<rect x="275.24" y="541.21" width="2.72" height="75.29" fill="#e5822f" stroke="#333" stroke-width="0.35"/>
<rect x="277.96" y="540.14" width="2.72" height="76.36" fill="#875852" stroke="#333" stroke-width="0.35"/>
<rect x="280.68" y="535.33" width="2.72" height="81.17" fill="#a9b43c" stroke="#333" stroke-width="0.35"/>
<rect x="283.40" y="534.26" width="2.72" height="82.24" fill="#e77dc5" stroke="#333" stroke-width="0.35"/>
<line x1="271.2" y1="616.5" x2="271.2" y2="619.0" stroke="#333" stroke-width="0.7"/>
<text x="271.2" y="627.7" font-size="8.27" textLength="9.03" lengthAdjust="spacingAndGlyphs" text-anchor="middle" fill="#222" stroke="#222" stroke-width="0.1">MI</text>
<rect x="35.30" y="521.40" width="15.30" height="5.80" fill="#e8705f" stroke="#333" stroke-width="0.35"/>
<text x="51.4" y="527.1" font-size="8.27" textLength="15.27" lengthAdjust="spacingAndGlyphs" fill="#222" stroke="#222" stroke-width="0.1">SNF</text>
<rect x="35.30" y="529.70" width="15.30" height="5.80" fill="#5bbdb9" stroke="#333" stroke-width="0.35"/>
<text x="51.4" y="535.4" font-size="8.27" textLength="20.12" lengthAdjust="spacingAndGlyphs" fill="#222" stroke="#222" stroke-width="0.1">MISO</text>
<rect x="35.30" y="538.00" width="15.30" height="5.80" fill="#7a7a7a" stroke="#333" stroke-width="0.35"/>
<text x="51.4" y="543.8" font-size="8.27" textLength="49.35" lengthAdjust="spacingAndGlyphs" fill="#222" stroke="#222" stroke-width="0.1">SpaMultiVAE</text>
<rect x="35.30" y="546.30" width="15.30" height="5.80" fill="#3b6fa0" stroke="#333" stroke-width="0.35"/>
<text x="51.4" y="552.0" font-size="8.27" textLength="29.23" lengthAdjust="spacingAndGlyphs" fill="#222" stroke="#222" stroke-width="0.1">MOFA+</text>
<rect x="116.00" y="521.40" width="15.30" height="5.80" fill="#f4c3d3" stroke="#333" stroke-width="0.35"/>
<text x="132.1" y="527.1" font-size="8.27" textLength="34.36" lengthAdjust="spacingAndGlyphs" fill="#222" stroke="#222" stroke-width="0.1">COSMOS</text>
<rect x="116.00" y="529.70" width="15.30" height="5.80" fill="#c43a45" stroke="#333" stroke-width="0.35"/>
<text x="132.1" y="535.4" font-size="8.27" textLength="35.53" lengthAdjust="spacingAndGlyphs" fill="#222" stroke="#222" stroke-width="0.1">PRESENT</text>
<rect x="116.00" y="538.00" width="15.30" height="5.80" fill="#4f80ae" stroke="#333" stroke-width="0.35"/>
<text x="132.1" y="543.8" font-size="8.27" textLength="19.38" lengthAdjust="spacingAndGlyphs" fill="#222" stroke="#222" stroke-width="0.1">WNN</text>
<rect x="116.00" y="546.30" width="15.30" height="5.80" fill="#e5822f" stroke="#333" stroke-width="0.35"/>
<text x="132.1" y="552.0" font-size="8.27" textLength="34.30" lengthAdjust="spacingAndGlyphs" fill="#222" stroke="#222" stroke-width="0.1">MEFISTO</text>
<rect x="182.60" y="521.40" width="15.30" height="5.80" fill="#875852" stroke="#333" stroke-width="0.35"/>
<text x="199.3" y="527.1" font-size="8.27" textLength="44.81" lengthAdjust="spacingAndGlyphs" fill="#222" stroke="#222" stroke-width="0.1">SpatialGlue</text>
<rect x="182.60" y="529.70" width="15.30" height="5.80" fill="#a9b43c" stroke="#333" stroke-width="0.35"/>
<text x="199.3" y="535.4" font-size="8.27" textLength="44.02" lengthAdjust="spacingAndGlyphs" fill="#222" stroke="#222" stroke-width="0.1">CellCharter</text>
<rect x="182.60" y="538.00" width="15.30" height="5.80" fill="#e77dc5" stroke="#333" stroke-width="0.35"/>
<text x="199.3" y="543.8" font-size="8.27" textLength="27.20" lengthAdjust="spacingAndGlyphs" fill="#222" stroke="#222" stroke-width="0.1">SMART</text>
<text x="5.0" y="647.0" font-size="16.00" font-weight="bold" fill="#000">i</text>
<line x1="34.5" y1="668.0" x2="34.5" y2="723.0" stroke="#333" stroke-width="0.9"/>
<line x1="34.5" y1="723.0" x2="233.8" y2="723.0" stroke="#333" stroke-width="0.9"/>
<line x1="32.1" y1="673.7" x2="34.5" y2="673.7" stroke="#333" stroke-width="0.8"/>
<text x="29.2" y="676.4" font-size="8.06" textLength="12.09" lengthAdjust="spacingAndGlyphs" text-anchor="end" fill="#222" stroke="#222" stroke-width="0.1">1.0</text>
<line x1="32.1" y1="698.4" x2="34.5" y2="698.4" stroke="#333" stroke-width="0.8"/>
<text x="29.2" y="701.1" font-size="8.06" textLength="12.09" lengthAdjust="spacingAndGlyphs" text-anchor="end" fill="#222" stroke="#222" stroke-width="0.1">0.9</text>
<line x1="32.1" y1="723.0" x2="34.5" y2="723.0" stroke="#333" stroke-width="0.8"/>
<text x="29.2" y="725.7" font-size="8.06" textLength="12.09" lengthAdjust="spacingAndGlyphs" text-anchor="end" fill="#222" stroke="#222" stroke-width="0.1">0.8</text>
<text x="11.0" y="695.5" font-size="7.90" textLength="20.18" lengthAdjust="spacingAndGlyphs" text-anchor="middle" fill="#222" stroke="#222" stroke-width="0.1" transform="rotate(-90 11.0 695.5)">score</text>
<rect x="39.40" y="674.93" width="7.55" height="48.07" fill="#3274a1"/>
<line x1="43.2" y1="676.2" x2="43.2" y2="673.7" stroke="#333" stroke-width="0.9"/>
<circle cx="42.17" cy="674.93" r="0.75" fill="#3a3a3a" opacity="0.85"/>
<circle cx="43.17" cy="675.18" r="0.75" fill="#3a3a3a" opacity="0.85"/>
<rect x="46.95" y="682.33" width="7.55" height="40.67" fill="#e1812c"/>
<line x1="50.7" y1="686.0" x2="50.7" y2="677.4" stroke="#333" stroke-width="0.9"/>
<circle cx="49.72" cy="677.40" r="0.75" fill="#3a3a3a" opacity="0.85"/>
<circle cx="50.72" cy="679.86" r="0.75" fill="#3a3a3a" opacity="0.85"/>
<circle cx="51.72" cy="683.56" r="0.75" fill="#3a3a3a" opacity="0.85"/>
<circle cx="50.22" cy="717.33" r="0.75" fill="#3a3a3a" opacity="0.85"/>
<rect x="54.50" y="687.26" width="7.55" height="35.74" fill="#3a923a"/>
<line x1="58.3" y1="695.9" x2="58.3" y2="676.2" stroke="#333" stroke-width="0.9"/>
<circle cx="57.27" cy="676.16" r="0.75" fill="#3a3a3a" opacity="0.85"/>
<circle cx="58.27" cy="720.53" r="0.75" fill="#3a3a3a" opacity="0.85"/>
<rect x="62.05" y="681.10" width="7.55" height="41.90" fill="#c03d3e"/>
<line x1="65.8" y1="682.3" x2="65.8" y2="679.9" stroke="#333" stroke-width="0.9"/>
<circle cx="64.82" cy="680.60" r="0.75" fill="#3a3a3a" opacity="0.85"/>
<circle cx="65.82" cy="681.59" r="0.75" fill="#3a3a3a" opacity="0.85"/>
<line x1="54.5" y1="723.0" x2="54.5" y2="725.5" stroke="#333" stroke-width="0.7"/>
<text x="54.5" y="733.9" font-size="7.90" textLength="12.47" lengthAdjust="spacingAndGlyphs" text-anchor="middle" fill="#222" stroke="#222" stroke-width="0.1">ARI</text>
<rect x="79.20" y="676.16" width="7.55" height="46.84" fill="#3274a1"/>
<line x1="83.0" y1="676.7" x2="83.0" y2="675.2" stroke="#333" stroke-width="0.9"/>
<circle cx="81.97" cy="675.67" r="0.75" fill="#3a3a3a" opacity="0.85"/>
<rect x="86.75" y="682.33" width="7.55" height="40.67" fill="#e1812c"/>
<line x1="90.5" y1="684.1" x2="90.5" y2="679.9" stroke="#333" stroke-width="0.9"/>
<circle cx="89.52" cy="679.12" r="0.75" fill="#3a3a3a" opacity="0.85"/>
<circle cx="90.52" cy="681.59" r="0.75" fill="#3a3a3a" opacity="0.85"/>
<circle cx="91.52" cy="683.56" r="0.75" fill="#3a3a3a" opacity="0.85"/>
<circle cx="90.02" cy="701.55" r="0.75" fill="#3a3a3a" opacity="0.85"/>
<rect x="94.30" y="682.33" width="7.55" height="40.67" fill="#3a923a"/>
<line x1="98.1" y1="686.5" x2="98.1" y2="676.2" stroke="#333" stroke-width="0.9"/>
<circle cx="97.07" cy="676.16" r="0.75" fill="#3a3a3a" opacity="0.85"/>
<circle cx="98.07" cy="701.31" r="0.75" fill="#3a3a3a" opacity="0.85"/>
<circle cx="99.07" cy="709.20" r="0.75" fill="#3a3a3a" opacity="0.85"/>
<rect x="101.85" y="684.05" width="7.55" height="38.95" fill="#c03d3e"/>
<line x1="105.6" y1="684.8" x2="105.6" y2="683.1" stroke="#333" stroke-width="0.9"/>
<circle cx="104.62" cy="683.07" r="0.75" fill="#3a3a3a" opacity="0.85"/>
<circle cx="105.62" cy="684.79" r="0.75" fill="#3a3a3a" opacity="0.85"/>
<line x1="94.3" y1="723.0" x2="94.3" y2="725.5" stroke="#333" stroke-width="0.7"/>
<text x="94.3" y="733.9" font-size="7.90" textLength="14.20" lengthAdjust="spacingAndGlyphs" text-anchor="middle" fill="#222" stroke="#222" stroke-width="0.1">NMI</text>
<rect x="119.00" y="676.16" width="7.55" height="46.84" fill="#3274a1"/>
<line x1="122.8" y1="676.7" x2="122.8" y2="675.2" stroke="#333" stroke-width="0.9"/>
<circle cx="121.77" cy="675.67" r="0.75" fill="#3a3a3a" opacity="0.85"/>
<rect x="126.55" y="682.33" width="7.55" height="40.67" fill="#e1812c"/>
<line x1="130.3" y1="684.1" x2="130.3" y2="679.9" stroke="#333" stroke-width="0.9"/>
<circle cx="129.32" cy="679.12" r="0.75" fill="#3a3a3a" opacity="0.85"/>
<circle cx="130.32" cy="681.59" r="0.75" fill="#3a3a3a" opacity="0.85"/>
<circle cx="131.32" cy="683.56" r="0.75" fill="#3a3a3a" opacity="0.85"/>
<circle cx="129.82" cy="702.05" r="0.75" fill="#3a3a3a" opacity="0.85"/>
<rect x="134.10" y="682.33" width="7.55" height="40.67" fill="#3a923a"/>
<line x1="137.9" y1="686.5" x2="137.9" y2="676.2" stroke="#333" stroke-width="0.9"/>
<circle cx="136.87" cy="676.16" r="0.75" fill="#3a3a3a" opacity="0.85"/>
<circle cx="137.87" cy="701.31" r="0.75" fill="#3a3a3a" opacity="0.85"/>
<circle cx="138.87" cy="709.44" r="0.75" fill="#3a3a3a" opacity="0.85"/>
<rect x="141.65" y="684.05" width="7.55" height="38.95" fill="#c03d3e"/>
<line x1="145.4" y1="684.8" x2="145.4" y2="683.1" stroke="#333" stroke-width="0.9"/>
<circle cx="144.42" cy="683.07" r="0.75" fill="#3a3a3a" opacity="0.85"/>
<circle cx="145.42" cy="684.79" r="0.75" fill="#3a3a3a" opacity="0.85"/>
<line x1="134.1" y1="723.0" x2="134.1" y2="725.5" stroke="#333" stroke-width="0.7"/>
<text x="134.1" y="733.9" font-size="7.90" textLength="13.72" lengthAdjust="spacingAndGlyphs" text-anchor="middle" fill="#222" stroke="#222" stroke-width="0.1">AMI</text>
<rect x="158.80" y="676.16" width="7.55" height="46.84" fill="#3274a1"/>
<line x1="162.6" y1="676.7" x2="162.6" y2="675.2" stroke="#333" stroke-width="0.9"/>
<circle cx="161.57" cy="675.67" r="0.75" fill="#3a3a3a" opacity="0.85"/>
<rect x="166.35" y="682.33" width="7.55" height="40.67" fill="#e1812c"/>
<line x1="170.1" y1="684.1" x2="170.1" y2="679.9" stroke="#333" stroke-width="0.9"/>
<circle cx="169.12" cy="679.12" r="0.75" fill="#3a3a3a" opacity="0.85"/>
<circle cx="170.12" cy="681.59" r="0.75" fill="#3a3a3a" opacity="0.85"/>
<circle cx="171.12" cy="683.56" r="0.75" fill="#3a3a3a" opacity="0.85"/>
<circle cx="169.62" cy="699.58" r="0.75" fill="#3a3a3a" opacity="0.85"/>
<rect x="173.90" y="683.56" width="7.55" height="39.44" fill="#3a923a"/>
<line x1="177.7" y1="687.3" x2="177.7" y2="676.2" stroke="#333" stroke-width="0.9"/>
<circle cx="176.67" cy="676.16" r="0.75" fill="#3a3a3a" opacity="0.85"/>
<circle cx="177.67" cy="698.35" r="0.75" fill="#3a3a3a" opacity="0.85"/>
<circle cx="178.67" cy="708.21" r="0.75" fill="#3a3a3a" opacity="0.85"/>
<circle cx="177.17" cy="720.53" r="0.75" fill="#3a3a3a" opacity="0.85"/>
<rect x="181.45" y="683.56" width="7.55" height="39.44" fill="#c03d3e"/>
<line x1="185.2" y1="684.8" x2="185.2" y2="682.3" stroke="#333" stroke-width="0.9"/>
<circle cx="184.22" cy="683.07" r="0.75" fill="#3a3a3a" opacity="0.85"/>
<circle cx="185.22" cy="684.79" r="0.75" fill="#3a3a3a" opacity="0.85"/>
<line x1="173.9" y1="723.0" x2="173.9" y2="725.5" stroke="#333" stroke-width="0.7"/>
<text x="173.9" y="733.9" font-size="7.90" textLength="21.98" lengthAdjust="spacingAndGlyphs" text-anchor="middle" fill="#222" stroke="#222" stroke-width="0.1">Homo</text>
<rect x="198.60" y="676.16" width="7.55" height="46.84" fill="#3274a1"/>
<line x1="202.4" y1="676.7" x2="202.4" y2="675.2" stroke="#333" stroke-width="0.9"/>
<circle cx="201.37" cy="675.67" r="0.75" fill="#3a3a3a" opacity="0.85"/>
<rect x="206.15" y="682.82" width="7.55" height="40.18" fill="#e1812c"/>
<line x1="209.9" y1="684.8" x2="209.9" y2="680.6" stroke="#333" stroke-width="0.9"/>
<circle cx="208.92" cy="679.86" r="0.75" fill="#3a3a3a" opacity="0.85"/>
<circle cx="209.92" cy="681.59" r="0.75" fill="#3a3a3a" opacity="0.85"/>
<circle cx="210.92" cy="683.56" r="0.75" fill="#3a3a3a" opacity="0.85"/>
<circle cx="209.42" cy="702.05" r="0.75" fill="#3a3a3a" opacity="0.85"/>
<rect x="213.70" y="682.82" width="7.55" height="40.18" fill="#3a923a"/>
<line x1="217.5" y1="687.3" x2="217.5" y2="676.2" stroke="#333" stroke-width="0.9"/>
<circle cx="216.47" cy="676.16" r="0.75" fill="#3a3a3a" opacity="0.85"/>
<circle cx="217.47" cy="700.82" r="0.75" fill="#3a3a3a" opacity="0.85"/>
<circle cx="218.47" cy="709.44" r="0.75" fill="#3a3a3a" opacity="0.85"/>
<rect x="221.25" y="684.05" width="7.55" height="38.95" fill="#c03d3e"/>
<line x1="225.0" y1="684.8" x2="225.0" y2="683.1" stroke="#333" stroke-width="0.9"/>
<circle cx="224.02" cy="683.07" r="0.75" fill="#3a3a3a" opacity="0.85"/>
<circle cx="225.02" cy="684.79" r="0.75" fill="#3a3a3a" opacity="0.85"/>
<line x1="213.7" y1="723.0" x2="213.7" y2="725.5" stroke="#333" stroke-width="0.7"/>
<text x="213.7" y="733.9" font-size="7.90" textLength="39.61" lengthAdjust="spacingAndGlyphs" text-anchor="middle" fill="#222" stroke="#222" stroke-width="0.1">V-Measure</text>
<rect x="23.20" y="646.10" width="14.80" height="5.80" fill="#3274a1"/>
<text x="44.0" y="651.7" font-size="7.89" textLength="95.33" lengthAdjust="spacingAndGlyphs" fill="#222" stroke="#222" stroke-width="0.1">SMART(ADT+RNA+ATAC)</text>
<rect x="23.20" y="657.10" width="14.80" height="5.80" fill="#e1812c"/>
<text x="44.0" y="662.7" font-size="7.89" textLength="47.58" lengthAdjust="spacingAndGlyphs" fill="#222" stroke="#222" stroke-width="0.1">SMART(RNA)</text>
<rect x="153.70" y="646.10" width="14.80" height="5.80" fill="#3a923a"/>
<text x="175.2" y="651.7" font-size="7.89" textLength="47.11" lengthAdjust="spacingAndGlyphs" fill="#222" stroke="#222" stroke-width="0.1">SMART(ADT)</text>
<rect x="153.70" y="657.10" width="14.80" height="5.80" fill="#c03d3e"/>
<text x="175.2" y="662.7" font-size="7.89" textLength="51.67" lengthAdjust="spacingAndGlyphs" fill="#222" stroke="#222" stroke-width="0.1">SMART(ATAC)</text>
<line x1="239.6" y1="638.0" x2="239.6" y2="742.0" stroke="#ececec" stroke-width="0.8"/>
<line x1="0.0" y1="739.8" x2="239.6" y2="739.8" stroke="#ececec" stroke-width="0.8"/>
<text x="346.7" y="529.4" font-size="16.00" font-weight="bold" fill="#000">j</text>
<line x1="379.2" y1="630.4" x2="654.2" y2="630.4" stroke="#e2e2e2" stroke-width="0.9"/>
<line x1="379.2" y1="614.2" x2="654.2" y2="614.2" stroke="#e2e2e2" stroke-width="0.9"/>
<line x1="379.2" y1="598.0" x2="654.2" y2="598.0" stroke="#e2e2e2" stroke-width="0.9"/>
<line x1="379.2" y1="581.8" x2="654.2" y2="581.8" stroke="#e2e2e2" stroke-width="0.9"/>
<line x1="379.2" y1="565.6" x2="654.2" y2="565.6" stroke="#e2e2e2" stroke-width="0.9"/>
<line x1="379.2" y1="549.4" x2="654.2" y2="549.4" stroke="#e2e2e2" stroke-width="0.9"/>
<line x1="379.2" y1="533.2" x2="654.2" y2="533.2" stroke="#e2e2e2" stroke-width="0.9"/>
<line x1="379.2" y1="522.3" x2="379.2" y2="646.0" stroke="#999" stroke-width="0.9"/>
<line x1="379.2" y1="645.8" x2="654.2" y2="645.8" stroke="#aaa" stroke-width="1.0"/>
<line x1="377.2" y1="646.6" x2="379.2" y2="646.6" stroke="#666" stroke-width="0.6"/>
<text x="375.9" y="648.8" font-size="6.47" textLength="3.88" lengthAdjust="spacingAndGlyphs" text-anchor="end" fill="#222" stroke="#222" stroke-width="0.1">0</text>
<line x1="377.2" y1="630.4" x2="379.2" y2="630.4" stroke="#666" stroke-width="0.6"/>
<text x="375.9" y="632.6" font-size="6.47" textLength="11.64" lengthAdjust="spacingAndGlyphs" text-anchor="end" fill="#222" stroke="#222" stroke-width="0.1">500</text>
<line x1="377.2" y1="614.2" x2="379.2" y2="614.2" stroke="#666" stroke-width="0.6"/>
<text x="375.9" y="616.4" font-size="6.47" textLength="15.52" lengthAdjust="spacingAndGlyphs" text-anchor="end" fill="#222" stroke="#222" stroke-width="0.1">1000</text>
<line x1="377.2" y1="598.0" x2="379.2" y2="598.0" stroke="#666" stroke-width="0.6"/>
<text x="375.9" y="600.2" font-size="6.47" textLength="15.52" lengthAdjust="spacingAndGlyphs" text-anchor="end" fill="#222" stroke="#222" stroke-width="0.1">1500</text>
<line x1="377.2" y1="581.8" x2="379.2" y2="581.8" stroke="#666" stroke-width="0.6"/>
<text x="375.9" y="584.0" font-size="6.47" textLength="15.52" lengthAdjust="spacingAndGlyphs" text-anchor="end" fill="#222" stroke="#222" stroke-width="0.1">2000</text>
<line x1="377.2" y1="565.6" x2="379.2" y2="565.6" stroke="#666" stroke-width="0.6"/>
<text x="375.9" y="567.8" font-size="6.47" textLength="15.52" lengthAdjust="spacingAndGlyphs" text-anchor="end" fill="#222" stroke="#222" stroke-width="0.1">2500</text>
<line x1="377.2" y1="549.4" x2="379.2" y2="549.4" stroke="#666" stroke-width="0.6"/>
<text x="375.9" y="551.6" font-size="6.47" textLength="15.52" lengthAdjust="spacingAndGlyphs" text-anchor="end" fill="#222" stroke="#222" stroke-width="0.1">3000</text>
<line x1="377.2" y1="533.2" x2="379.2" y2="533.2" stroke="#666" stroke-width="0.6"/>
<text x="375.9" y="535.4" font-size="6.47" textLength="15.52" lengthAdjust="spacingAndGlyphs" text-anchor="end" fill="#222" stroke="#222" stroke-width="0.1">3500</text>
<text x="352.0" y="584.9" font-size="5.67" textLength="57.16" lengthAdjust="spacingAndGlyphs" text-anchor="middle" fill="#222" stroke="#222" stroke-width="0.1" transform="rotate(-90 352.0 584.9)">10 nearest neighbors</text>
<text x="357.6" y="583.6" font-size="5.67" textLength="64.46" lengthAdjust="spacingAndGlyphs" text-anchor="middle" fill="#222" stroke="#222" stroke-width="0.1" transform="rotate(-90 357.6 583.6)">edges intersection sizes</text>
<rect x="269.30" y="674.40" width="384.90" height="13.20" fill="#d6d6d6"/>
<rect x="269.30" y="706.40" width="384.90" height="13.20" fill="#d6d6d6"/>
<rect x="269.3" y="658.4" width="384.9" height="13.2" fill="none" stroke="#6a9e5a" stroke-width="0.8"/>
<rect x="384.00" y="527.91" width="9.80" height="117.89" fill="#1500ff"/>
<text x="388.9" y="526.1" font-size="6.36" textLength="19.06" lengthAdjust="spacingAndGlyphs" text-anchor="middle" fill="#222" stroke="#222" stroke-width="0.1">21.2%</text>
<circle cx="388.90" cy="665.00" r="4.10" fill="rgba(20,0,255,0.2)"/>
<circle cx="388.90" cy="681.00" r="4.10" fill="rgba(20,0,255,0.2)"/>
<circle cx="388.90" cy="697.00" r="4.10" fill="rgba(20,0,255,0.2)"/>
<circle cx="388.90" cy="713.00" r="4.40" fill="#1500ff"/>
<rect x="402.27" y="548.06" width="9.80" height="97.74" fill="#1500ff"/>
<text x="407.2" y="546.3" font-size="6.36" textLength="19.06" lengthAdjust="spacingAndGlyphs" text-anchor="middle" fill="#222" stroke="#222" stroke-width="0.1">17.6%</text>
<circle cx="407.17" cy="665.00" r="4.10" fill="rgba(20,0,255,0.2)"/>
<circle cx="407.17" cy="681.00" r="4.10" fill="rgba(20,0,255,0.2)"/>
<circle cx="407.17" cy="713.00" r="4.10" fill="rgba(20,0,255,0.2)"/>
<circle cx="407.17" cy="697.00" r="4.40" fill="#1500ff"/>
<rect x="420.54" y="556.46" width="9.80" height="89.34" fill="#1500ff"/>
<text x="425.4" y="554.7" font-size="6.36" textLength="19.06" lengthAdjust="spacingAndGlyphs" text-anchor="middle" fill="#222" stroke="#222" stroke-width="0.1">16.1%</text>
<circle cx="425.44" cy="665.00" r="4.10" fill="rgba(20,0,255,0.2)"/>
<circle cx="425.44" cy="697.00" r="4.10" fill="rgba(20,0,255,0.2)"/>
<circle cx="425.44" cy="713.00" r="4.10" fill="rgba(20,0,255,0.2)"/>
<circle cx="425.44" cy="681.00" r="4.40" fill="#1500ff"/>
<rect x="438.81" y="578.86" width="9.80" height="66.94" fill="#170096"/>
<text x="443.7" y="577.1" font-size="6.36" textLength="19.06" lengthAdjust="spacingAndGlyphs" text-anchor="middle" fill="#222" stroke="#222" stroke-width="0.1">12.1%</text>
<circle cx="443.71" cy="681.00" r="4.10" fill="rgba(20,0,255,0.2)"/>
<circle cx="443.71" cy="697.00" r="4.10" fill="rgba(20,0,255,0.2)"/>
<circle cx="443.71" cy="713.00" r="4.10" fill="rgba(20,0,255,0.2)"/>
<circle cx="443.71" cy="665.00" r="4.40" fill="#170096"/>
<rect x="457.08" y="638.76" width="9.80" height="7.04" fill="#1500ff"/>
<text x="462.0" y="637.0" font-size="6.36" textLength="15.24" lengthAdjust="spacingAndGlyphs" text-anchor="middle" fill="#222" stroke="#222" stroke-width="0.1">1.4%</text>
<circle cx="461.98" cy="665.00" r="4.10" fill="rgba(20,0,255,0.2)"/>
<circle cx="461.98" cy="681.00" r="4.10" fill="rgba(20,0,255,0.2)"/>
<line x1="462.0" y1="697.0" x2="462.0" y2="713.0" stroke="#1500ff" stroke-width="1.6"/>
<circle cx="461.98" cy="697.00" r="4.40" fill="#1500ff"/>
<circle cx="461.98" cy="713.00" r="4.40" fill="#1500ff"/>
<rect x="475.35" y="626.44" width="9.80" height="19.36" fill="#1500ff"/>
<text x="480.2" y="624.6" font-size="6.36" textLength="15.24" lengthAdjust="spacingAndGlyphs" text-anchor="middle" fill="#222" stroke="#222" stroke-width="0.1">3.6%</text>
<circle cx="480.25" cy="665.00" r="4.10" fill="rgba(20,0,255,0.2)"/>
<circle cx="480.25" cy="697.00" r="4.10" fill="rgba(20,0,255,0.2)"/>
<line x1="480.2" y1="681.0" x2="480.2" y2="713.0" stroke="#1500ff" stroke-width="1.6"/>
<circle cx="480.25" cy="681.00" r="4.40" fill="#1500ff"/>
<circle cx="480.25" cy="713.00" r="4.40" fill="#1500ff"/>
<rect x="493.62" y="633.72" width="9.80" height="12.08" fill="#1500ff"/>
<text x="498.5" y="631.9" font-size="6.36" textLength="15.24" lengthAdjust="spacingAndGlyphs" text-anchor="middle" fill="#222" stroke="#222" stroke-width="0.1">2.3%</text>
<circle cx="498.52" cy="665.00" r="4.10" fill="rgba(20,0,255,0.2)"/>
<circle cx="498.52" cy="713.00" r="4.10" fill="rgba(20,0,255,0.2)"/>
<line x1="498.5" y1="681.0" x2="498.5" y2="697.0" stroke="#1500ff" stroke-width="1.6"/>
<circle cx="498.52" cy="681.00" r="4.40" fill="#1500ff"/>
<circle cx="498.52" cy="697.00" r="4.40" fill="#1500ff"/>
<rect x="511.89" y="629.80" width="9.80" height="16.00" fill="#170096"/>
<text x="516.8" y="628.0" font-size="6.36" textLength="15.24" lengthAdjust="spacingAndGlyphs" text-anchor="middle" fill="#222" stroke="#222" stroke-width="0.1">3.0%</text>
<circle cx="516.79" cy="681.00" r="4.10" fill="rgba(20,0,255,0.2)"/>
<circle cx="516.79" cy="697.00" r="4.10" fill="rgba(20,0,255,0.2)"/>
<line x1="516.8" y1="665.0" x2="516.8" y2="713.0" stroke="#170096" stroke-width="1.6"/>
<circle cx="516.79" cy="665.00" r="4.40" fill="#170096"/>
<circle cx="516.79" cy="713.00" r="4.40" fill="#170096"/>
<rect x="530.16" y="615.25" width="9.80" height="30.55" fill="#170096"/>
<text x="535.1" y="613.4" font-size="6.36" textLength="15.24" lengthAdjust="spacingAndGlyphs" text-anchor="middle" fill="#222" stroke="#222" stroke-width="0.1">5.6%</text>
<circle cx="535.06" cy="681.00" r="4.10" fill="rgba(20,0,255,0.2)"/>
<circle cx="535.06" cy="713.00" r="4.10" fill="rgba(20,0,255,0.2)"/>
<line x1="535.1" y1="665.0" x2="535.1" y2="697.0" stroke="#170096" stroke-width="1.6"/>
<circle cx="535.06" cy="665.00" r="4.40" fill="#170096"/>
<circle cx="535.06" cy="697.00" r="4.40" fill="#170096"/>
<rect x="548.43" y="621.97" width="9.80" height="23.83" fill="#170096"/>
<text x="553.3" y="620.2" font-size="6.36" textLength="15.24" lengthAdjust="spacingAndGlyphs" text-anchor="middle" fill="#222" stroke="#222" stroke-width="0.1">4.4%</text>
<circle cx="553.33" cy="697.00" r="4.10" fill="rgba(20,0,255,0.2)"/>
<circle cx="553.33" cy="713.00" r="4.10" fill="rgba(20,0,255,0.2)"/>
<line x1="553.3" y1="665.0" x2="553.3" y2="681.0" stroke="#170096" stroke-width="1.6"/>
<circle cx="553.33" cy="665.00" r="4.40" fill="#170096"/>
<circle cx="553.33" cy="681.00" r="4.40" fill="#170096"/>
<rect x="566.70" y="642.68" width="9.80" height="3.12" fill="#1500ff"/>
<text x="571.6" y="640.9" font-size="6.36" textLength="15.24" lengthAdjust="spacingAndGlyphs" text-anchor="middle" fill="#222" stroke="#222" stroke-width="0.1">0.7%</text>
<circle cx="571.60" cy="665.00" r="4.10" fill="rgba(20,0,255,0.2)"/>
<line x1="571.6" y1="681.0" x2="571.6" y2="713.0" stroke="#1500ff" stroke-width="1.6"/>
<circle cx="571.60" cy="681.00" r="4.40" fill="#1500ff"/>
<circle cx="571.60" cy="697.00" r="4.40" fill="#1500ff"/>
<circle cx="571.60" cy="713.00" r="4.40" fill="#1500ff"/>
<rect x="584.97" y="635.96" width="9.80" height="9.84" fill="#170096"/>
<text x="589.9" y="634.2" font-size="6.36" textLength="15.24" lengthAdjust="spacingAndGlyphs" text-anchor="middle" fill="#222" stroke="#222" stroke-width="0.1">1.9%</text>
<circle cx="589.87" cy="681.00" r="4.10" fill="rgba(20,0,255,0.2)"/>
<line x1="589.9" y1="665.0" x2="589.9" y2="713.0" stroke="#170096" stroke-width="1.6"/>
<circle cx="589.87" cy="665.00" r="4.40" fill="#170096"/>
<circle cx="589.87" cy="697.00" r="4.40" fill="#170096"/>
<circle cx="589.87" cy="713.00" r="4.40" fill="#170096"/>
<rect x="603.24" y="633.72" width="9.80" height="12.08" fill="#170096"/>
<text x="608.1" y="631.9" font-size="6.36" textLength="15.24" lengthAdjust="spacingAndGlyphs" text-anchor="middle" fill="#222" stroke="#222" stroke-width="0.1">2.3%</text>
<circle cx="608.14" cy="697.00" r="4.10" fill="rgba(20,0,255,0.2)"/>
<line x1="608.1" y1="665.0" x2="608.1" y2="713.0" stroke="#170096" stroke-width="1.6"/>
<circle cx="608.14" cy="665.00" r="4.40" fill="#170096"/>
<circle cx="608.14" cy="681.00" r="4.40" fill="#170096"/>
<circle cx="608.14" cy="713.00" r="4.40" fill="#170096"/>
<rect x="621.51" y="623.65" width="9.80" height="22.15" fill="#170096"/>
<text x="626.4" y="621.8" font-size="6.36" textLength="15.24" lengthAdjust="spacingAndGlyphs" text-anchor="middle" fill="#222" stroke="#222" stroke-width="0.1">4.1%</text>
<circle cx="626.41" cy="713.00" r="4.10" fill="rgba(20,0,255,0.2)"/>
<line x1="626.4" y1="665.0" x2="626.4" y2="697.0" stroke="#170096" stroke-width="1.6"/>
<circle cx="626.41" cy="665.00" r="4.40" fill="#170096"/>
<circle cx="626.41" cy="681.00" r="4.40" fill="#170096"/>
<circle cx="626.41" cy="697.00" r="4.40" fill="#170096"/>
<rect x="639.78" y="626.44" width="9.80" height="19.36" fill="#170096"/>
<text x="644.7" y="624.6" font-size="6.36" textLength="15.24" lengthAdjust="spacingAndGlyphs" text-anchor="middle" fill="#222" stroke="#222" stroke-width="0.1">3.6%</text>
<line x1="644.7" y1="665.0" x2="644.7" y2="713.0" stroke="#170096" stroke-width="1.6"/>
<circle cx="644.68" cy="665.00" r="4.40" fill="#170096"/>
<circle cx="644.68" cy="681.00" r="4.40" fill="#170096"/>
<circle cx="644.68" cy="697.00" r="4.40" fill="#170096"/>
<circle cx="644.68" cy="713.00" r="4.40" fill="#170096"/>
<text x="377.6" y="667.1" font-size="6.10" textLength="49.13" lengthAdjust="spacingAndGlyphs" text-anchor="end" fill="#222" stroke="#222" stroke-width="0.1">RNA+ADT+ATAC</text>
<text x="377.6" y="683.1" font-size="6.10" textLength="12.23" lengthAdjust="spacingAndGlyphs" text-anchor="end" fill="#222" stroke="#222" stroke-width="0.1">RNA</text>
<text x="377.6" y="699.1" font-size="6.10" textLength="11.87" lengthAdjust="spacingAndGlyphs" text-anchor="end" fill="#222" stroke="#222" stroke-width="0.1">ADT</text>
<text x="377.6" y="715.1" font-size="6.10" textLength="15.39" lengthAdjust="spacingAndGlyphs" text-anchor="end" fill="#222" stroke="#222" stroke-width="0.1">ATAC</text>
<line x1="276.7" y1="655.0" x2="276.7" y2="721.0" stroke="#dcdcdc" stroke-width="0.8"/>
<line x1="303.0" y1="655.0" x2="303.0" y2="721.0" stroke="#dcdcdc" stroke-width="0.8"/>
<rect x="269.30" y="660.70" width="33.70" height="8.60" fill="#80ffff" stroke="#333" stroke-width="0.6"/>
<text x="269.2" y="667.1" font-size="6.15" textLength="18.43" lengthAdjust="spacingAndGlyphs" text-anchor="end" fill="#222" stroke="#222" stroke-width="0.1">37.0%</text>
<rect x="269.30" y="676.70" width="33.70" height="8.60" fill="#1500ff"/>
<text x="269.2" y="683.1" font-size="6.15" textLength="18.43" lengthAdjust="spacingAndGlyphs" text-anchor="end" fill="#222" stroke="#222" stroke-width="0.1">37.1%</text>
<rect x="269.30" y="692.70" width="33.70" height="8.60" fill="#1500ff"/>
<text x="269.2" y="699.1" font-size="6.15" textLength="18.43" lengthAdjust="spacingAndGlyphs" text-anchor="end" fill="#222" stroke="#222" stroke-width="0.1">37.2%</text>
<rect x="269.30" y="708.70" width="33.70" height="8.60" fill="#1500ff"/>
<text x="269.2" y="715.1" font-size="6.15" textLength="18.43" lengthAdjust="spacingAndGlyphs" text-anchor="end" fill="#222" stroke="#222" stroke-width="0.1">37.8%</text>
<text x="277.1" y="730.8" font-size="6.47" textLength="15.52" lengthAdjust="spacingAndGlyphs" text-anchor="middle" fill="#222" stroke="#222" stroke-width="0.1">5000</text>
<text x="302.8" y="730.8" font-size="6.47" textLength="3.88" lengthAdjust="spacingAndGlyphs" text-anchor="middle" fill="#222" stroke="#222" stroke-width="0.1">0</text>
<line x1="269.3" y1="721.2" x2="303.0" y2="721.2" stroke="#999" stroke-width="0.7"/>
<rect x="589.50" y="527.60" width="10.70" height="3.60" fill="#170096"/>
<text x="604.5" y="531.2" font-size="5.62" textLength="45.29" lengthAdjust="spacingAndGlyphs" fill="#222" stroke="#222" stroke-width="0.1">RNA+ADT+ATAC</text>
</svg></body></html>
